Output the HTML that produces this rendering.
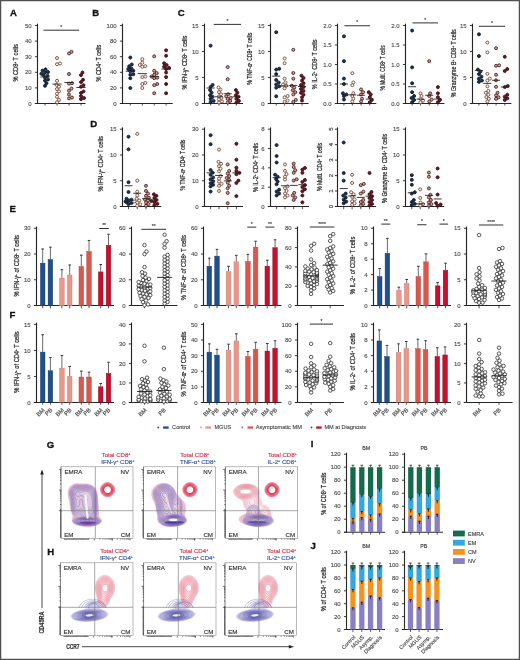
<!DOCTYPE html>
<html><head><meta charset="utf-8"><style>
html,body{margin:0;padding:0;background:#fff;}
svg{display:block;will-change:transform;}
svg text{font-family:"Liberation Sans",sans-serif;}
</style></head><body>
<svg width="520" height="660" viewBox="0 0 520 660">
<rect x="0" y="0" width="520" height="660" fill="#fff"/>
<text x="9.9" y="15.7" font-size="9.6" font-weight="bold" fill="#111" stroke="#111" stroke-width="0.3">A</text>
<text x="92.2" y="16.1" font-size="9.6" font-weight="bold" fill="#111" stroke="#111" stroke-width="0.3">B</text>
<text x="177.8" y="16.1" font-size="9.6" font-weight="bold" fill="#111" stroke="#111" stroke-width="0.3">C</text>
<text x="90.3" y="126.8" font-size="9.6" font-weight="bold" fill="#111" stroke="#111" stroke-width="0.3">D</text>
<text x="9.6" y="211.8" font-size="9.6" font-weight="bold" fill="#111" stroke="#111" stroke-width="0.3">E</text>
<text x="9.6" y="318.0" font-size="9.6" font-weight="bold" fill="#111" stroke="#111" stroke-width="0.3">F</text>
<text x="46.8" y="447.6" font-size="9.6" font-weight="bold" fill="#111" stroke="#111" stroke-width="0.3">G</text>
<text x="47.2" y="555.0" font-size="9.6" font-weight="bold" fill="#111" stroke="#111" stroke-width="0.3">H</text>
<text x="310.8" y="447.3" font-size="9.6" font-weight="bold" fill="#111" stroke="#111" stroke-width="0.3">I</text>
<text x="310.4" y="548.7" font-size="9.6" font-weight="bold" fill="#111" stroke="#111" stroke-width="0.3">J</text>
<line x1="37.5" y1="23.7" x2="37.5" y2="104" stroke="#262626" stroke-width="1.15"/>
<line x1="34.9" y1="103.5" x2="37.5" y2="103.5" stroke="#262626" stroke-width="0.9"/>
<text x="31.6" y="105.6" font-size="6.0" text-anchor="end" fill="#4a4a4a" stroke="#4a4a4a" stroke-width="0.12" font-weight="normal" >0</text>
<line x1="34.9" y1="87.9" x2="37.5" y2="87.9" stroke="#262626" stroke-width="0.9"/>
<text x="31.6" y="90" font-size="6.0" text-anchor="end" fill="#4a4a4a" stroke="#4a4a4a" stroke-width="0.12" font-weight="normal" >10</text>
<line x1="34.9" y1="72.3" x2="37.5" y2="72.3" stroke="#262626" stroke-width="0.9"/>
<text x="31.6" y="74.4" font-size="6.0" text-anchor="end" fill="#4a4a4a" stroke="#4a4a4a" stroke-width="0.12" font-weight="normal" >20</text>
<line x1="34.9" y1="56.7" x2="37.5" y2="56.7" stroke="#262626" stroke-width="0.9"/>
<text x="31.6" y="58.8" font-size="6.0" text-anchor="end" fill="#4a4a4a" stroke="#4a4a4a" stroke-width="0.12" font-weight="normal" >30</text>
<line x1="34.9" y1="41.1" x2="37.5" y2="41.1" stroke="#262626" stroke-width="0.9"/>
<text x="31.6" y="43.2" font-size="6.0" text-anchor="end" fill="#4a4a4a" stroke="#4a4a4a" stroke-width="0.12" font-weight="normal" >40</text>
<line x1="34.9" y1="25.5" x2="37.5" y2="25.5" stroke="#262626" stroke-width="0.9"/>
<text x="31.6" y="27.6" font-size="6.0" text-anchor="end" fill="#4a4a4a" stroke="#4a4a4a" stroke-width="0.12" font-weight="normal" >50</text>
<line x1="34.9" y1="103.5" x2="85.5" y2="103.5" stroke="#262626" stroke-width="1.15"/>
<line x1="45" y1="103" x2="45" y2="105.5" stroke="#262626" stroke-width="0.8"/>
<line x1="57" y1="103" x2="57" y2="105.5" stroke="#262626" stroke-width="0.8"/>
<line x1="69" y1="103" x2="69" y2="105.5" stroke="#262626" stroke-width="0.8"/>
<line x1="81" y1="103" x2="81" y2="105.5" stroke="#262626" stroke-width="0.8"/>
<circle cx="45" cy="85.8" r="1.5" fill="#1c3352" stroke="#0e1a2a" stroke-width="0.9"/>
<circle cx="46.5" cy="83.16" r="1.5" fill="#1c3352" stroke="#0e1a2a" stroke-width="0.9"/>
<circle cx="45" cy="80.68" r="1.5" fill="#1c3352" stroke="#0e1a2a" stroke-width="0.9"/>
<circle cx="48" cy="79.44" r="1.5" fill="#1c3352" stroke="#0e1a2a" stroke-width="0.9"/>
<circle cx="45" cy="77.58" r="1.5" fill="#1c3352" stroke="#0e1a2a" stroke-width="0.9"/>
<circle cx="47.5" cy="75.72" r="1.5" fill="#1c3352" stroke="#0e1a2a" stroke-width="0.9"/>
<circle cx="43.5" cy="75.1" r="1.5" fill="#1c3352" stroke="#0e1a2a" stroke-width="0.9"/>
<circle cx="41.4" cy="73.71" r="1.5" fill="#1c3352" stroke="#0e1a2a" stroke-width="0.9"/>
<circle cx="45" cy="72.47" r="1.5" fill="#1c3352" stroke="#0e1a2a" stroke-width="0.9"/>
<circle cx="48" cy="72" r="1.5" fill="#1c3352" stroke="#0e1a2a" stroke-width="0.9"/>
<circle cx="42.5" cy="70.61" r="1.5" fill="#1c3352" stroke="#0e1a2a" stroke-width="0.9"/>
<circle cx="45.5" cy="69.37" r="1.5" fill="#1c3352" stroke="#0e1a2a" stroke-width="0.9"/>
<circle cx="57" cy="102.22" r="1.5" fill="#fff6f0" stroke="#74483a" stroke-width="0.9"/>
<circle cx="59" cy="99.9" r="1.5" fill="#fff6f0" stroke="#74483a" stroke-width="0.9"/>
<circle cx="57" cy="96.8" r="1.5" fill="#fff6f0" stroke="#74483a" stroke-width="0.9"/>
<circle cx="57" cy="93.7" r="1.5" fill="#fff6f0" stroke="#74483a" stroke-width="0.9"/>
<circle cx="59" cy="91.38" r="1.5" fill="#fff6f0" stroke="#74483a" stroke-width="0.9"/>
<circle cx="57" cy="89.05" r="1.5" fill="#fff6f0" stroke="#74483a" stroke-width="0.9"/>
<circle cx="59" cy="86.72" r="1.5" fill="#fff6f0" stroke="#74483a" stroke-width="0.9"/>
<circle cx="56.5" cy="84.87" r="1.5" fill="#fff6f0" stroke="#74483a" stroke-width="0.9"/>
<circle cx="57" cy="80.83" r="1.5" fill="#fff6f0" stroke="#74483a" stroke-width="0.9"/>
<circle cx="57" cy="64.25" r="1.5" fill="#fff6f0" stroke="#74483a" stroke-width="0.9"/>
<circle cx="60" cy="63.48" r="1.5" fill="#fff6f0" stroke="#74483a" stroke-width="0.9"/>
<circle cx="57" cy="58.05" r="1.5" fill="#fff6f0" stroke="#74483a" stroke-width="0.9"/>
<circle cx="69" cy="98.35" r="1.5" fill="#cfa098" stroke="#4e1e1e" stroke-width="0.9"/>
<circle cx="72" cy="97.58" r="1.5" fill="#cfa098" stroke="#4e1e1e" stroke-width="0.9"/>
<circle cx="69" cy="94.47" r="1.5" fill="#cfa098" stroke="#4e1e1e" stroke-width="0.9"/>
<circle cx="69" cy="90.6" r="1.5" fill="#cfa098" stroke="#4e1e1e" stroke-width="0.9"/>
<circle cx="71.5" cy="88.58" r="1.5" fill="#cfa098" stroke="#4e1e1e" stroke-width="0.9"/>
<circle cx="69" cy="83.62" r="1.5" fill="#cfa098" stroke="#4e1e1e" stroke-width="0.9"/>
<circle cx="72" cy="83.16" r="1.5" fill="#cfa098" stroke="#4e1e1e" stroke-width="0.9"/>
<circle cx="69" cy="74.02" r="1.5" fill="#cfa098" stroke="#4e1e1e" stroke-width="0.9"/>
<circle cx="69" cy="53.4" r="1.5" fill="#cfa098" stroke="#4e1e1e" stroke-width="0.9"/>
<circle cx="71.5" cy="51.85" r="1.5" fill="#cfa098" stroke="#4e1e1e" stroke-width="0.9"/>
<circle cx="81" cy="99.12" r="1.5" fill="#6e1a24" stroke="#3e0a12" stroke-width="0.9"/>
<circle cx="84" cy="98.04" r="1.5" fill="#6e1a24" stroke="#3e0a12" stroke-width="0.9"/>
<circle cx="81" cy="96.03" r="1.5" fill="#6e1a24" stroke="#3e0a12" stroke-width="0.9"/>
<circle cx="81" cy="92.92" r="1.5" fill="#6e1a24" stroke="#3e0a12" stroke-width="0.9"/>
<circle cx="83.5" cy="91.38" r="1.5" fill="#6e1a24" stroke="#3e0a12" stroke-width="0.9"/>
<circle cx="81" cy="86.72" r="1.5" fill="#6e1a24" stroke="#3e0a12" stroke-width="0.9"/>
<circle cx="83.5" cy="85.17" r="1.5" fill="#6e1a24" stroke="#3e0a12" stroke-width="0.9"/>
<circle cx="81" cy="82.08" r="1.5" fill="#6e1a24" stroke="#3e0a12" stroke-width="0.9"/>
<circle cx="83" cy="79.75" r="1.5" fill="#6e1a24" stroke="#3e0a12" stroke-width="0.9"/>
<circle cx="81" cy="75.1" r="1.5" fill="#6e1a24" stroke="#3e0a12" stroke-width="0.9"/>
<circle cx="82.5" cy="72.47" r="1.5" fill="#6e1a24" stroke="#3e0a12" stroke-width="0.9"/>
<line x1="40.4" y1="76.96" x2="49.6" y2="76.96" stroke="#222" stroke-width="0.9"/>
<line x1="52.4" y1="84.09" x2="61.6" y2="84.09" stroke="#222" stroke-width="0.9"/>
<line x1="64.4" y1="82.54" x2="73.6" y2="82.54" stroke="#222" stroke-width="0.9"/>
<line x1="76.4" y1="87.5" x2="85.6" y2="87.5" stroke="#222" stroke-width="0.9"/>
<line x1="43.5" y1="30.2" x2="79.2" y2="30.2" stroke="#262626" stroke-width="0.95"/>
<text x="61.35" y="28.9" font-size="5" text-anchor="middle" fill="#333" stroke="#333" stroke-width="0.12" font-weight="normal" >*</text>
<text transform="translate(18.2,62.85) rotate(-90)" font-size="6.6" text-anchor="middle" fill="#2e2e2e" stroke="#2e2e2e" stroke-width="0.25" textLength="37.5" lengthAdjust="spacingAndGlyphs">% CD8<tspan font-size="3.6" dy="-2">+</tspan><tspan dy="2"> </tspan>T cells</text>
<line x1="122.5" y1="23.7" x2="122.5" y2="104" stroke="#262626" stroke-width="1.15"/>
<line x1="119.9" y1="103.5" x2="122.5" y2="103.5" stroke="#262626" stroke-width="0.9"/>
<text x="116.6" y="105.6" font-size="6.0" text-anchor="end" fill="#4a4a4a" stroke="#4a4a4a" stroke-width="0.12" font-weight="normal" >0</text>
<line x1="119.9" y1="87.9" x2="122.5" y2="87.9" stroke="#262626" stroke-width="0.9"/>
<text x="116.6" y="90" font-size="6.0" text-anchor="end" fill="#4a4a4a" stroke="#4a4a4a" stroke-width="0.12" font-weight="normal" >20</text>
<line x1="119.9" y1="72.3" x2="122.5" y2="72.3" stroke="#262626" stroke-width="0.9"/>
<text x="116.6" y="74.4" font-size="6.0" text-anchor="end" fill="#4a4a4a" stroke="#4a4a4a" stroke-width="0.12" font-weight="normal" >40</text>
<line x1="119.9" y1="56.7" x2="122.5" y2="56.7" stroke="#262626" stroke-width="0.9"/>
<text x="116.6" y="58.8" font-size="6.0" text-anchor="end" fill="#4a4a4a" stroke="#4a4a4a" stroke-width="0.12" font-weight="normal" >60</text>
<line x1="119.9" y1="41.1" x2="122.5" y2="41.1" stroke="#262626" stroke-width="0.9"/>
<text x="116.6" y="43.2" font-size="6.0" text-anchor="end" fill="#4a4a4a" stroke="#4a4a4a" stroke-width="0.12" font-weight="normal" >80</text>
<line x1="119.9" y1="25.5" x2="122.5" y2="25.5" stroke="#262626" stroke-width="0.9"/>
<text x="116.6" y="27.6" font-size="6.0" text-anchor="end" fill="#4a4a4a" stroke="#4a4a4a" stroke-width="0.12" font-weight="normal" >100</text>
<line x1="119.9" y1="103.5" x2="172.7" y2="103.5" stroke="#262626" stroke-width="1.15"/>
<line x1="130.3" y1="103" x2="130.3" y2="105.5" stroke="#262626" stroke-width="0.8"/>
<line x1="142.3" y1="103" x2="142.3" y2="105.5" stroke="#262626" stroke-width="0.8"/>
<line x1="154.2" y1="103" x2="154.2" y2="105.5" stroke="#262626" stroke-width="0.8"/>
<line x1="166.1" y1="103" x2="166.1" y2="105.5" stroke="#262626" stroke-width="0.8"/>
<circle cx="130.3" cy="88.04" r="1.5" fill="#1c3352" stroke="#0e1a2a" stroke-width="0.9"/>
<circle cx="130.3" cy="78.2" r="1.5" fill="#1c3352" stroke="#0e1a2a" stroke-width="0.9"/>
<circle cx="130.3" cy="74.79" r="1.5" fill="#1c3352" stroke="#0e1a2a" stroke-width="0.9"/>
<circle cx="133.3" cy="74.25" r="1.5" fill="#1c3352" stroke="#0e1a2a" stroke-width="0.9"/>
<circle cx="130.3" cy="71.3" r="1.5" fill="#1c3352" stroke="#0e1a2a" stroke-width="0.9"/>
<circle cx="133.3" cy="70.76" r="1.5" fill="#1c3352" stroke="#0e1a2a" stroke-width="0.9"/>
<circle cx="128.3" cy="69.06" r="1.5" fill="#1c3352" stroke="#0e1a2a" stroke-width="0.9"/>
<circle cx="131.3" cy="68.44" r="1.5" fill="#1c3352" stroke="#0e1a2a" stroke-width="0.9"/>
<circle cx="129.3" cy="66.19" r="1.5" fill="#1c3352" stroke="#0e1a2a" stroke-width="0.9"/>
<circle cx="131.8" cy="64.41" r="1.5" fill="#1c3352" stroke="#0e1a2a" stroke-width="0.9"/>
<circle cx="130.3" cy="57.51" r="1.5" fill="#1c3352" stroke="#0e1a2a" stroke-width="0.9"/>
<circle cx="142.3" cy="88.04" r="1.5" fill="#fff6f0" stroke="#74483a" stroke-width="0.9"/>
<circle cx="142.3" cy="84.01" r="1.5" fill="#fff6f0" stroke="#74483a" stroke-width="0.9"/>
<circle cx="145.3" cy="82.85" r="1.5" fill="#fff6f0" stroke="#74483a" stroke-width="0.9"/>
<circle cx="142.3" cy="77.12" r="1.5" fill="#fff6f0" stroke="#74483a" stroke-width="0.9"/>
<circle cx="145.3" cy="76.5" r="1.5" fill="#fff6f0" stroke="#74483a" stroke-width="0.9"/>
<circle cx="142.3" cy="66.73" r="1.5" fill="#fff6f0" stroke="#74483a" stroke-width="0.9"/>
<circle cx="145.3" cy="66.19" r="1.5" fill="#fff6f0" stroke="#74483a" stroke-width="0.9"/>
<circle cx="139.8" cy="65.03" r="1.5" fill="#fff6f0" stroke="#74483a" stroke-width="0.9"/>
<circle cx="142.3" cy="62.7" r="1.5" fill="#fff6f0" stroke="#74483a" stroke-width="0.9"/>
<circle cx="142.3" cy="59.21" r="1.5" fill="#fff6f0" stroke="#74483a" stroke-width="0.9"/>
<circle cx="154.2" cy="93.23" r="1.5" fill="#cfa098" stroke="#4e1e1e" stroke-width="0.9"/>
<circle cx="154.2" cy="85.17" r="1.5" fill="#cfa098" stroke="#4e1e1e" stroke-width="0.9"/>
<circle cx="157.2" cy="84.01" r="1.5" fill="#cfa098" stroke="#4e1e1e" stroke-width="0.9"/>
<circle cx="154.2" cy="78.2" r="1.5" fill="#cfa098" stroke="#4e1e1e" stroke-width="0.9"/>
<circle cx="157.2" cy="77.66" r="1.5" fill="#cfa098" stroke="#4e1e1e" stroke-width="0.9"/>
<circle cx="151.7" cy="76.5" r="1.5" fill="#cfa098" stroke="#4e1e1e" stroke-width="0.9"/>
<circle cx="154.2" cy="74.79" r="1.5" fill="#cfa098" stroke="#4e1e1e" stroke-width="0.9"/>
<circle cx="156.7" cy="73.09" r="1.5" fill="#cfa098" stroke="#4e1e1e" stroke-width="0.9"/>
<circle cx="154.2" cy="70.76" r="1.5" fill="#cfa098" stroke="#4e1e1e" stroke-width="0.9"/>
<circle cx="154.2" cy="56.34" r="1.5" fill="#cfa098" stroke="#4e1e1e" stroke-width="0.9"/>
<circle cx="166.1" cy="93.23" r="1.5" fill="#6e1a24" stroke="#3e0a12" stroke-width="0.9"/>
<circle cx="166.1" cy="84.01" r="1.5" fill="#6e1a24" stroke="#3e0a12" stroke-width="0.9"/>
<circle cx="166.1" cy="77.12" r="1.5" fill="#6e1a24" stroke="#3e0a12" stroke-width="0.9"/>
<circle cx="166.1" cy="72.47" r="1.5" fill="#6e1a24" stroke="#3e0a12" stroke-width="0.9"/>
<circle cx="166.1" cy="69.06" r="1.5" fill="#6e1a24" stroke="#3e0a12" stroke-width="0.9"/>
<circle cx="169.1" cy="67.89" r="1.5" fill="#6e1a24" stroke="#3e0a12" stroke-width="0.9"/>
<circle cx="164.1" cy="66.73" r="1.5" fill="#6e1a24" stroke="#3e0a12" stroke-width="0.9"/>
<circle cx="166.6" cy="65.03" r="1.5" fill="#6e1a24" stroke="#3e0a12" stroke-width="0.9"/>
<circle cx="164.1" cy="63.24" r="1.5" fill="#6e1a24" stroke="#3e0a12" stroke-width="0.9"/>
<circle cx="166.1" cy="55.73" r="1.5" fill="#6e1a24" stroke="#3e0a12" stroke-width="0.9"/>
<circle cx="166.1" cy="50.3" r="1.5" fill="#6e1a24" stroke="#3e0a12" stroke-width="0.9"/>
<line x1="125.7" y1="71.22" x2="134.9" y2="71.22" stroke="#222" stroke-width="0.9"/>
<line x1="137.7" y1="73.63" x2="146.9" y2="73.63" stroke="#222" stroke-width="0.9"/>
<line x1="149.6" y1="76.65" x2="158.8" y2="76.65" stroke="#222" stroke-width="0.9"/>
<line x1="161.5" y1="69.06" x2="170.7" y2="69.06" stroke="#222" stroke-width="0.9"/>
<text transform="translate(100.6,63) rotate(-90)" font-size="6.6" text-anchor="middle" fill="#2e2e2e" stroke="#2e2e2e" stroke-width="0.25" textLength="36.8" lengthAdjust="spacingAndGlyphs">% CD4<tspan font-size="3.6" dy="-2">+</tspan><tspan dy="2"> </tspan>T cells</text>
<line x1="204.5" y1="23.7" x2="204.5" y2="104" stroke="#262626" stroke-width="1.15"/>
<line x1="201.9" y1="103.5" x2="204.5" y2="103.5" stroke="#262626" stroke-width="0.9"/>
<text x="198.6" y="105.6" font-size="6.0" text-anchor="end" fill="#4a4a4a" stroke="#4a4a4a" stroke-width="0.12" font-weight="normal" >0</text>
<line x1="201.9" y1="77.5" x2="204.5" y2="77.5" stroke="#262626" stroke-width="0.9"/>
<text x="198.6" y="79.6" font-size="6.0" text-anchor="end" fill="#4a4a4a" stroke="#4a4a4a" stroke-width="0.12" font-weight="normal" >5</text>
<line x1="201.9" y1="51.5" x2="204.5" y2="51.5" stroke="#262626" stroke-width="0.9"/>
<text x="198.6" y="53.6" font-size="6.0" text-anchor="end" fill="#4a4a4a" stroke="#4a4a4a" stroke-width="0.12" font-weight="normal" >10</text>
<line x1="201.9" y1="25.5" x2="204.5" y2="25.5" stroke="#262626" stroke-width="0.9"/>
<text x="198.6" y="27.6" font-size="6.0" text-anchor="end" fill="#4a4a4a" stroke="#4a4a4a" stroke-width="0.12" font-weight="normal" >15</text>
<line x1="201.9" y1="103.5" x2="243" y2="103.5" stroke="#262626" stroke-width="1.15"/>
<line x1="210.6" y1="103" x2="210.6" y2="105.5" stroke="#262626" stroke-width="0.8"/>
<line x1="219" y1="103" x2="219" y2="105.5" stroke="#262626" stroke-width="0.8"/>
<line x1="227.7" y1="103" x2="227.7" y2="105.5" stroke="#262626" stroke-width="0.8"/>
<line x1="236.4" y1="103" x2="236.4" y2="105.5" stroke="#262626" stroke-width="0.8"/>
<circle cx="210.6" cy="101.97" r="1.5" fill="#1c3352" stroke="#0e1a2a" stroke-width="0.9"/>
<circle cx="213.6" cy="100.93" r="1.5" fill="#1c3352" stroke="#0e1a2a" stroke-width="0.9"/>
<circle cx="210.6" cy="98.87" r="1.5" fill="#1c3352" stroke="#0e1a2a" stroke-width="0.9"/>
<circle cx="212.6" cy="96.8" r="1.5" fill="#1c3352" stroke="#0e1a2a" stroke-width="0.9"/>
<circle cx="210.1" cy="95.25" r="1.5" fill="#1c3352" stroke="#0e1a2a" stroke-width="0.9"/>
<circle cx="211.6" cy="92.67" r="1.5" fill="#1c3352" stroke="#0e1a2a" stroke-width="0.9"/>
<circle cx="210.1" cy="90.08" r="1.5" fill="#1c3352" stroke="#0e1a2a" stroke-width="0.9"/>
<circle cx="210.6" cy="86.98" r="1.5" fill="#1c3352" stroke="#0e1a2a" stroke-width="0.9"/>
<circle cx="212.6" cy="84.92" r="1.5" fill="#1c3352" stroke="#0e1a2a" stroke-width="0.9"/>
<circle cx="210.6" cy="45.65" r="1.5" fill="#1c3352" stroke="#0e1a2a" stroke-width="0.9"/>
<circle cx="219" cy="102.48" r="1.5" fill="#fff6f0" stroke="#74483a" stroke-width="0.9"/>
<circle cx="222" cy="101.45" r="1.5" fill="#fff6f0" stroke="#74483a" stroke-width="0.9"/>
<circle cx="219" cy="99.38" r="1.5" fill="#fff6f0" stroke="#74483a" stroke-width="0.9"/>
<circle cx="221.5" cy="97.83" r="1.5" fill="#fff6f0" stroke="#74483a" stroke-width="0.9"/>
<circle cx="219" cy="96.28" r="1.5" fill="#fff6f0" stroke="#74483a" stroke-width="0.9"/>
<circle cx="221" cy="94.22" r="1.5" fill="#fff6f0" stroke="#74483a" stroke-width="0.9"/>
<circle cx="219" cy="92.15" r="1.5" fill="#fff6f0" stroke="#74483a" stroke-width="0.9"/>
<circle cx="220.5" cy="89.57" r="1.5" fill="#fff6f0" stroke="#74483a" stroke-width="0.9"/>
<circle cx="218.5" cy="87.5" r="1.5" fill="#fff6f0" stroke="#74483a" stroke-width="0.9"/>
<circle cx="227.7" cy="102.48" r="1.5" fill="#cfa098" stroke="#4e1e1e" stroke-width="0.9"/>
<circle cx="230.2" cy="100.93" r="1.5" fill="#cfa098" stroke="#4e1e1e" stroke-width="0.9"/>
<circle cx="227.7" cy="98.87" r="1.5" fill="#cfa098" stroke="#4e1e1e" stroke-width="0.9"/>
<circle cx="230.7" cy="97.83" r="1.5" fill="#cfa098" stroke="#4e1e1e" stroke-width="0.9"/>
<circle cx="226.2" cy="96.28" r="1.5" fill="#cfa098" stroke="#4e1e1e" stroke-width="0.9"/>
<circle cx="228.2" cy="94.22" r="1.5" fill="#cfa098" stroke="#4e1e1e" stroke-width="0.9"/>
<circle cx="227.7" cy="79.23" r="1.5" fill="#cfa098" stroke="#4e1e1e" stroke-width="0.9"/>
<circle cx="227.7" cy="67.09" r="1.5" fill="#cfa098" stroke="#4e1e1e" stroke-width="0.9"/>
<circle cx="236.4" cy="102.48" r="1.5" fill="#6e1a24" stroke="#3e0a12" stroke-width="0.9"/>
<circle cx="238.9" cy="100.93" r="1.5" fill="#6e1a24" stroke="#3e0a12" stroke-width="0.9"/>
<circle cx="236.4" cy="98.87" r="1.5" fill="#6e1a24" stroke="#3e0a12" stroke-width="0.9"/>
<circle cx="238.4" cy="96.8" r="1.5" fill="#6e1a24" stroke="#3e0a12" stroke-width="0.9"/>
<circle cx="235.9" cy="95.25" r="1.5" fill="#6e1a24" stroke="#3e0a12" stroke-width="0.9"/>
<circle cx="237.4" cy="92.67" r="1.5" fill="#6e1a24" stroke="#3e0a12" stroke-width="0.9"/>
<circle cx="235.9" cy="90.08" r="1.5" fill="#6e1a24" stroke="#3e0a12" stroke-width="0.9"/>
<line x1="206.6" y1="88.02" x2="214.6" y2="88.02" stroke="#222" stroke-width="0.9"/>
<line x1="215" y1="96.8" x2="223" y2="96.8" stroke="#222" stroke-width="0.9"/>
<line x1="223.7" y1="93.7" x2="231.7" y2="93.7" stroke="#222" stroke-width="0.9"/>
<line x1="232.4" y1="96.8" x2="240.4" y2="96.8" stroke="#222" stroke-width="0.9"/>
<line x1="213.8" y1="24.4" x2="241" y2="24.4" stroke="#262626" stroke-width="0.95"/>
<text x="227.4" y="23.1" font-size="5" text-anchor="middle" fill="#333" stroke="#333" stroke-width="0.12" font-weight="normal" >*</text>
<text transform="translate(186.9,62.6) rotate(-90)" font-size="6.6" text-anchor="middle" fill="#2e2e2e" stroke="#2e2e2e" stroke-width="0.25" textLength="53.9" lengthAdjust="spacingAndGlyphs">% IFN-γ<tspan font-size="3.6" dy="-2">+</tspan><tspan dy="2"> </tspan>CD8<tspan font-size="3.6" dy="-2">+</tspan><tspan dy="2"> </tspan>T cells</text>
<line x1="270.5" y1="23.7" x2="270.5" y2="104" stroke="#262626" stroke-width="1.15"/>
<line x1="267.9" y1="103.5" x2="270.5" y2="103.5" stroke="#262626" stroke-width="0.9"/>
<text x="264.6" y="105.6" font-size="6.0" text-anchor="end" fill="#4a4a4a" stroke="#4a4a4a" stroke-width="0.12" font-weight="normal" >0</text>
<line x1="267.9" y1="77.5" x2="270.5" y2="77.5" stroke="#262626" stroke-width="0.9"/>
<text x="264.6" y="79.6" font-size="6.0" text-anchor="end" fill="#4a4a4a" stroke="#4a4a4a" stroke-width="0.12" font-weight="normal" >5</text>
<line x1="267.9" y1="51.5" x2="270.5" y2="51.5" stroke="#262626" stroke-width="0.9"/>
<text x="264.6" y="53.6" font-size="6.0" text-anchor="end" fill="#4a4a4a" stroke="#4a4a4a" stroke-width="0.12" font-weight="normal" >10</text>
<line x1="267.9" y1="25.5" x2="270.5" y2="25.5" stroke="#262626" stroke-width="0.9"/>
<text x="264.6" y="27.6" font-size="6.0" text-anchor="end" fill="#4a4a4a" stroke="#4a4a4a" stroke-width="0.12" font-weight="normal" >15</text>
<line x1="267.9" y1="103.5" x2="308.6" y2="103.5" stroke="#262626" stroke-width="1.15"/>
<line x1="276.2" y1="103" x2="276.2" y2="105.5" stroke="#262626" stroke-width="0.8"/>
<line x1="284.6" y1="103" x2="284.6" y2="105.5" stroke="#262626" stroke-width="0.8"/>
<line x1="293.3" y1="103" x2="293.3" y2="105.5" stroke="#262626" stroke-width="0.8"/>
<line x1="302" y1="103" x2="302" y2="105.5" stroke="#262626" stroke-width="0.8"/>
<circle cx="276.2" cy="96.28" r="1.5" fill="#1c3352" stroke="#0e1a2a" stroke-width="0.9"/>
<circle cx="276.2" cy="87.66" r="1.5" fill="#1c3352" stroke="#0e1a2a" stroke-width="0.9"/>
<circle cx="279.2" cy="86.36" r="1.5" fill="#1c3352" stroke="#0e1a2a" stroke-width="0.9"/>
<circle cx="276.2" cy="84.45" r="1.5" fill="#1c3352" stroke="#0e1a2a" stroke-width="0.9"/>
<circle cx="278.7" cy="82.49" r="1.5" fill="#1c3352" stroke="#0e1a2a" stroke-width="0.9"/>
<circle cx="276.2" cy="79.96" r="1.5" fill="#1c3352" stroke="#0e1a2a" stroke-width="0.9"/>
<circle cx="276.2" cy="74.12" r="1.5" fill="#1c3352" stroke="#0e1a2a" stroke-width="0.9"/>
<circle cx="276.2" cy="69.62" r="1.5" fill="#1c3352" stroke="#0e1a2a" stroke-width="0.9"/>
<circle cx="279.2" cy="68.75" r="1.5" fill="#1c3352" stroke="#0e1a2a" stroke-width="0.9"/>
<circle cx="276.2" cy="32.22" r="1.5" fill="#1c3352" stroke="#0e1a2a" stroke-width="0.9"/>
<circle cx="284.6" cy="101.86" r="1.5" fill="#fff6f0" stroke="#74483a" stroke-width="0.9"/>
<circle cx="287.6" cy="100.57" r="1.5" fill="#fff6f0" stroke="#74483a" stroke-width="0.9"/>
<circle cx="284.6" cy="97.32" r="1.5" fill="#fff6f0" stroke="#74483a" stroke-width="0.9"/>
<circle cx="287.6" cy="96.03" r="1.5" fill="#fff6f0" stroke="#74483a" stroke-width="0.9"/>
<circle cx="284.6" cy="88.33" r="1.5" fill="#fff6f0" stroke="#74483a" stroke-width="0.9"/>
<circle cx="286.1" cy="85.74" r="1.5" fill="#fff6f0" stroke="#74483a" stroke-width="0.9"/>
<circle cx="283.1" cy="84.45" r="1.5" fill="#fff6f0" stroke="#74483a" stroke-width="0.9"/>
<circle cx="285.6" cy="82.49" r="1.5" fill="#fff6f0" stroke="#74483a" stroke-width="0.9"/>
<circle cx="284.6" cy="78.66" r="1.5" fill="#fff6f0" stroke="#74483a" stroke-width="0.9"/>
<circle cx="284.6" cy="63.22" r="1.5" fill="#fff6f0" stroke="#74483a" stroke-width="0.9"/>
<circle cx="284.6" cy="58.41" r="1.5" fill="#fff6f0" stroke="#74483a" stroke-width="0.9"/>
<circle cx="293.3" cy="101.86" r="1.5" fill="#cfa098" stroke="#4e1e1e" stroke-width="0.9"/>
<circle cx="295.8" cy="99.9" r="1.5" fill="#cfa098" stroke="#4e1e1e" stroke-width="0.9"/>
<circle cx="293.3" cy="94.47" r="1.5" fill="#cfa098" stroke="#4e1e1e" stroke-width="0.9"/>
<circle cx="295.3" cy="92.15" r="1.5" fill="#cfa098" stroke="#4e1e1e" stroke-width="0.9"/>
<circle cx="292.8" cy="90.24" r="1.5" fill="#cfa098" stroke="#4e1e1e" stroke-width="0.9"/>
<circle cx="294.3" cy="87.66" r="1.5" fill="#cfa098" stroke="#4e1e1e" stroke-width="0.9"/>
<circle cx="291.8" cy="85.74" r="1.5" fill="#cfa098" stroke="#4e1e1e" stroke-width="0.9"/>
<circle cx="293.3" cy="78.66" r="1.5" fill="#cfa098" stroke="#4e1e1e" stroke-width="0.9"/>
<circle cx="293.3" cy="73.03" r="1.5" fill="#cfa098" stroke="#4e1e1e" stroke-width="0.9"/>
<circle cx="293.3" cy="49.78" r="1.5" fill="#cfa098" stroke="#4e1e1e" stroke-width="0.9"/>
<circle cx="302" cy="100.57" r="1.5" fill="#6e1a24" stroke="#3e0a12" stroke-width="0.9"/>
<circle cx="302" cy="97.32" r="1.5" fill="#6e1a24" stroke="#3e0a12" stroke-width="0.9"/>
<circle cx="303.5" cy="94.73" r="1.5" fill="#6e1a24" stroke="#3e0a12" stroke-width="0.9"/>
<circle cx="301" cy="92.82" r="1.5" fill="#6e1a24" stroke="#3e0a12" stroke-width="0.9"/>
<circle cx="303.5" cy="90.91" r="1.5" fill="#6e1a24" stroke="#3e0a12" stroke-width="0.9"/>
<circle cx="301" cy="88.95" r="1.5" fill="#6e1a24" stroke="#3e0a12" stroke-width="0.9"/>
<circle cx="303.5" cy="86.98" r="1.5" fill="#6e1a24" stroke="#3e0a12" stroke-width="0.9"/>
<circle cx="301" cy="85.07" r="1.5" fill="#6e1a24" stroke="#3e0a12" stroke-width="0.9"/>
<circle cx="303.5" cy="83.16" r="1.5" fill="#6e1a24" stroke="#3e0a12" stroke-width="0.9"/>
<circle cx="302" cy="80.58" r="1.5" fill="#6e1a24" stroke="#3e0a12" stroke-width="0.9"/>
<circle cx="303.5" cy="77.99" r="1.5" fill="#6e1a24" stroke="#3e0a12" stroke-width="0.9"/>
<circle cx="301.5" cy="75.67" r="1.5" fill="#6e1a24" stroke="#3e0a12" stroke-width="0.9"/>
<line x1="272.2" y1="76.13" x2="280.2" y2="76.13" stroke="#222" stroke-width="0.9"/>
<line x1="280.6" y1="85.95" x2="288.6" y2="85.95" stroke="#222" stroke-width="0.9"/>
<line x1="289.3" y1="85.43" x2="297.3" y2="85.43" stroke="#222" stroke-width="0.9"/>
<line x1="298" y1="86.47" x2="306" y2="86.47" stroke="#222" stroke-width="0.9"/>
<text transform="translate(252.3,58.7) rotate(-90)" font-size="6.6" text-anchor="middle" fill="#2e2e2e" stroke="#2e2e2e" stroke-width="0.25" textLength="52" lengthAdjust="spacingAndGlyphs">% TNF-α<tspan font-size="3.6" dy="-2">+</tspan><tspan dy="2"> </tspan>CD8<tspan font-size="3.6" dy="-2">+</tspan><tspan dy="2"> </tspan>T cells</text>
<line x1="337.5" y1="23.7" x2="337.5" y2="104" stroke="#262626" stroke-width="1.15"/>
<line x1="334.9" y1="103.5" x2="337.5" y2="103.5" stroke="#262626" stroke-width="0.9"/>
<text x="331.6" y="105.6" font-size="6.0" text-anchor="end" fill="#4a4a4a" stroke="#4a4a4a" stroke-width="0.12" font-weight="normal" >0.0</text>
<line x1="334.9" y1="84" x2="337.5" y2="84" stroke="#262626" stroke-width="0.9"/>
<text x="331.6" y="86.1" font-size="6.0" text-anchor="end" fill="#4a4a4a" stroke="#4a4a4a" stroke-width="0.12" font-weight="normal" >0.5</text>
<line x1="334.9" y1="64.5" x2="337.5" y2="64.5" stroke="#262626" stroke-width="0.9"/>
<text x="331.6" y="66.6" font-size="6.0" text-anchor="end" fill="#4a4a4a" stroke="#4a4a4a" stroke-width="0.12" font-weight="normal" >1.0</text>
<line x1="334.9" y1="45" x2="337.5" y2="45" stroke="#262626" stroke-width="0.9"/>
<text x="331.6" y="47.1" font-size="6.0" text-anchor="end" fill="#4a4a4a" stroke="#4a4a4a" stroke-width="0.12" font-weight="normal" >1.5</text>
<line x1="334.9" y1="25.5" x2="337.5" y2="25.5" stroke="#262626" stroke-width="0.9"/>
<text x="331.6" y="27.6" font-size="6.0" text-anchor="end" fill="#4a4a4a" stroke="#4a4a4a" stroke-width="0.12" font-weight="normal" >2.0</text>
<line x1="334.9" y1="103.5" x2="376.35" y2="103.5" stroke="#262626" stroke-width="1.15"/>
<line x1="343.95" y1="103" x2="343.95" y2="105.5" stroke="#262626" stroke-width="0.8"/>
<line x1="352.35" y1="103" x2="352.35" y2="105.5" stroke="#262626" stroke-width="0.8"/>
<line x1="361.05" y1="103" x2="361.05" y2="105.5" stroke="#262626" stroke-width="0.8"/>
<line x1="369.75" y1="103" x2="369.75" y2="105.5" stroke="#262626" stroke-width="0.8"/>
<circle cx="343.95" cy="99.51" r="1.5" fill="#1c3352" stroke="#0e1a2a" stroke-width="0.9"/>
<circle cx="343.95" cy="96.03" r="1.5" fill="#1c3352" stroke="#0e1a2a" stroke-width="0.9"/>
<circle cx="346.45" cy="94.47" r="1.5" fill="#1c3352" stroke="#0e1a2a" stroke-width="0.9"/>
<circle cx="342.95" cy="93.31" r="1.5" fill="#1c3352" stroke="#0e1a2a" stroke-width="0.9"/>
<circle cx="343.95" cy="84.01" r="1.5" fill="#1c3352" stroke="#0e1a2a" stroke-width="0.9"/>
<circle cx="343.95" cy="78.59" r="1.5" fill="#1c3352" stroke="#0e1a2a" stroke-width="0.9"/>
<circle cx="343.95" cy="61.15" r="1.5" fill="#1c3352" stroke="#0e1a2a" stroke-width="0.9"/>
<circle cx="343.95" cy="36.35" r="1.5" fill="#1c3352" stroke="#0e1a2a" stroke-width="0.9"/>
<circle cx="352.35" cy="101.45" r="1.5" fill="#fff6f0" stroke="#74483a" stroke-width="0.9"/>
<circle cx="353.35" cy="98.74" r="1.5" fill="#fff6f0" stroke="#74483a" stroke-width="0.9"/>
<circle cx="352.35" cy="96.03" r="1.5" fill="#fff6f0" stroke="#74483a" stroke-width="0.9"/>
<circle cx="353.35" cy="93.31" r="1.5" fill="#fff6f0" stroke="#74483a" stroke-width="0.9"/>
<circle cx="352.35" cy="85.17" r="1.5" fill="#fff6f0" stroke="#74483a" stroke-width="0.9"/>
<circle cx="353.35" cy="82.46" r="1.5" fill="#fff6f0" stroke="#74483a" stroke-width="0.9"/>
<circle cx="352.35" cy="73.16" r="1.5" fill="#fff6f0" stroke="#74483a" stroke-width="0.9"/>
<circle cx="361.05" cy="101.45" r="1.5" fill="#cfa098" stroke="#4e1e1e" stroke-width="0.9"/>
<circle cx="362.05" cy="98.74" r="1.5" fill="#cfa098" stroke="#4e1e1e" stroke-width="0.9"/>
<circle cx="361.05" cy="94.47" r="1.5" fill="#cfa098" stroke="#4e1e1e" stroke-width="0.9"/>
<circle cx="363.05" cy="92.15" r="1.5" fill="#cfa098" stroke="#4e1e1e" stroke-width="0.9"/>
<circle cx="361.05" cy="89.44" r="1.5" fill="#cfa098" stroke="#4e1e1e" stroke-width="0.9"/>
<circle cx="369.75" cy="102.22" r="1.5" fill="#6e1a24" stroke="#3e0a12" stroke-width="0.9"/>
<circle cx="371.75" cy="99.9" r="1.5" fill="#6e1a24" stroke="#3e0a12" stroke-width="0.9"/>
<circle cx="369.75" cy="97.19" r="1.5" fill="#6e1a24" stroke="#3e0a12" stroke-width="0.9"/>
<circle cx="370.75" cy="94.47" r="1.5" fill="#6e1a24" stroke="#3e0a12" stroke-width="0.9"/>
<circle cx="368.75" cy="92.15" r="1.5" fill="#6e1a24" stroke="#3e0a12" stroke-width="0.9"/>
<line x1="339.95" y1="84.01" x2="347.95" y2="84.01" stroke="#222" stroke-width="0.9"/>
<line x1="348.35" y1="94.86" x2="356.35" y2="94.86" stroke="#222" stroke-width="0.9"/>
<line x1="357.05" y1="95.25" x2="365.05" y2="95.25" stroke="#222" stroke-width="0.9"/>
<line x1="365.75" y1="99.12" x2="373.75" y2="99.12" stroke="#222" stroke-width="0.9"/>
<line x1="344.4" y1="25.75" x2="370" y2="25.75" stroke="#262626" stroke-width="0.95"/>
<text x="357.2" y="24.45" font-size="5" text-anchor="middle" fill="#333" stroke="#333" stroke-width="0.12" font-weight="normal" >*</text>
<text transform="translate(317.2,64.4) rotate(-90)" font-size="6.6" text-anchor="middle" fill="#2e2e2e" stroke="#2e2e2e" stroke-width="0.25" textLength="49.7" lengthAdjust="spacingAndGlyphs">% IL-2<tspan font-size="3.6" dy="-2">+</tspan><tspan dy="2"> </tspan>CD8<tspan font-size="3.6" dy="-2">+</tspan><tspan dy="2"> </tspan>T cells</text>
<line x1="405.5" y1="23.7" x2="405.5" y2="104" stroke="#262626" stroke-width="1.15"/>
<line x1="402.9" y1="103.5" x2="405.5" y2="103.5" stroke="#262626" stroke-width="0.9"/>
<text x="399.6" y="105.6" font-size="6.0" text-anchor="end" fill="#4a4a4a" stroke="#4a4a4a" stroke-width="0.12" font-weight="normal" >0.0</text>
<line x1="402.9" y1="84" x2="405.5" y2="84" stroke="#262626" stroke-width="0.9"/>
<text x="399.6" y="86.1" font-size="6.0" text-anchor="end" fill="#4a4a4a" stroke="#4a4a4a" stroke-width="0.12" font-weight="normal" >0.5</text>
<line x1="402.9" y1="64.5" x2="405.5" y2="64.5" stroke="#262626" stroke-width="0.9"/>
<text x="399.6" y="66.6" font-size="6.0" text-anchor="end" fill="#4a4a4a" stroke="#4a4a4a" stroke-width="0.12" font-weight="normal" >1.0</text>
<line x1="402.9" y1="45" x2="405.5" y2="45" stroke="#262626" stroke-width="0.9"/>
<text x="399.6" y="47.1" font-size="6.0" text-anchor="end" fill="#4a4a4a" stroke="#4a4a4a" stroke-width="0.12" font-weight="normal" >1.5</text>
<line x1="402.9" y1="25.5" x2="405.5" y2="25.5" stroke="#262626" stroke-width="0.9"/>
<text x="399.6" y="27.6" font-size="6.0" text-anchor="end" fill="#4a4a4a" stroke="#4a4a4a" stroke-width="0.12" font-weight="normal" >2.0</text>
<line x1="402.9" y1="103.5" x2="444.5" y2="103.5" stroke="#262626" stroke-width="1.15"/>
<line x1="412.1" y1="103" x2="412.1" y2="105.5" stroke="#262626" stroke-width="0.8"/>
<line x1="420.5" y1="103" x2="420.5" y2="105.5" stroke="#262626" stroke-width="0.8"/>
<line x1="429.2" y1="103" x2="429.2" y2="105.5" stroke="#262626" stroke-width="0.8"/>
<line x1="437.9" y1="103" x2="437.9" y2="105.5" stroke="#262626" stroke-width="0.8"/>
<circle cx="412.1" cy="102.22" r="1.5" fill="#1c3352" stroke="#0e1a2a" stroke-width="0.9"/>
<circle cx="414.1" cy="99.9" r="1.5" fill="#1c3352" stroke="#0e1a2a" stroke-width="0.9"/>
<circle cx="411.6" cy="97.96" r="1.5" fill="#1c3352" stroke="#0e1a2a" stroke-width="0.9"/>
<circle cx="414.1" cy="96.03" r="1.5" fill="#1c3352" stroke="#0e1a2a" stroke-width="0.9"/>
<circle cx="412.1" cy="92.15" r="1.5" fill="#1c3352" stroke="#0e1a2a" stroke-width="0.9"/>
<circle cx="412.1" cy="83.24" r="1.5" fill="#1c3352" stroke="#0e1a2a" stroke-width="0.9"/>
<circle cx="412.1" cy="67.35" r="1.5" fill="#1c3352" stroke="#0e1a2a" stroke-width="0.9"/>
<circle cx="412.1" cy="30.54" r="1.5" fill="#1c3352" stroke="#0e1a2a" stroke-width="0.9"/>
<circle cx="420.5" cy="102.22" r="1.5" fill="#fff6f0" stroke="#74483a" stroke-width="0.9"/>
<circle cx="423" cy="100.67" r="1.5" fill="#fff6f0" stroke="#74483a" stroke-width="0.9"/>
<circle cx="420.5" cy="98.74" r="1.5" fill="#fff6f0" stroke="#74483a" stroke-width="0.9"/>
<circle cx="421.5" cy="96.03" r="1.5" fill="#fff6f0" stroke="#74483a" stroke-width="0.9"/>
<circle cx="420.5" cy="93.31" r="1.5" fill="#fff6f0" stroke="#74483a" stroke-width="0.9"/>
<circle cx="429.2" cy="101.45" r="1.5" fill="#cfa098" stroke="#4e1e1e" stroke-width="0.9"/>
<circle cx="431.7" cy="99.51" r="1.5" fill="#cfa098" stroke="#4e1e1e" stroke-width="0.9"/>
<circle cx="429.2" cy="96.03" r="1.5" fill="#cfa098" stroke="#4e1e1e" stroke-width="0.9"/>
<circle cx="430.2" cy="93.31" r="1.5" fill="#cfa098" stroke="#4e1e1e" stroke-width="0.9"/>
<circle cx="429.2" cy="61.15" r="1.5" fill="#cfa098" stroke="#4e1e1e" stroke-width="0.9"/>
<circle cx="437.9" cy="102.22" r="1.5" fill="#6e1a24" stroke="#3e0a12" stroke-width="0.9"/>
<circle cx="439.9" cy="99.9" r="1.5" fill="#6e1a24" stroke="#3e0a12" stroke-width="0.9"/>
<circle cx="437.9" cy="97.19" r="1.5" fill="#6e1a24" stroke="#3e0a12" stroke-width="0.9"/>
<circle cx="437.9" cy="93.31" r="1.5" fill="#6e1a24" stroke="#3e0a12" stroke-width="0.9"/>
<circle cx="437.9" cy="87.11" r="1.5" fill="#6e1a24" stroke="#3e0a12" stroke-width="0.9"/>
<line x1="408.1" y1="86.72" x2="416.1" y2="86.72" stroke="#222" stroke-width="0.9"/>
<line x1="416.5" y1="99.12" x2="424.5" y2="99.12" stroke="#222" stroke-width="0.9"/>
<line x1="425.2" y1="95.25" x2="433.2" y2="95.25" stroke="#222" stroke-width="0.9"/>
<line x1="433.9" y1="99.12" x2="441.9" y2="99.12" stroke="#222" stroke-width="0.9"/>
<line x1="412.5" y1="22.9" x2="438" y2="22.9" stroke="#262626" stroke-width="0.95"/>
<text x="425.25" y="21.6" font-size="5" text-anchor="middle" fill="#333" stroke="#333" stroke-width="0.12" font-weight="normal" >*</text>
<text transform="translate(385,67.9) rotate(-90)" font-size="6.6" text-anchor="middle" fill="#2e2e2e" stroke="#2e2e2e" stroke-width="0.25" textLength="45" lengthAdjust="spacingAndGlyphs">% Multi. CD8<tspan font-size="3.6" dy="-2">+</tspan><tspan dy="2"> </tspan>T cells</text>
<line x1="472.5" y1="23.7" x2="472.5" y2="104" stroke="#262626" stroke-width="1.15"/>
<line x1="469.9" y1="103.5" x2="472.5" y2="103.5" stroke="#262626" stroke-width="0.9"/>
<text x="466.6" y="105.6" font-size="6.0" text-anchor="end" fill="#4a4a4a" stroke="#4a4a4a" stroke-width="0.12" font-weight="normal" >0</text>
<line x1="469.9" y1="77.5" x2="472.5" y2="77.5" stroke="#262626" stroke-width="0.9"/>
<text x="466.6" y="79.6" font-size="6.0" text-anchor="end" fill="#4a4a4a" stroke="#4a4a4a" stroke-width="0.12" font-weight="normal" >5</text>
<line x1="469.9" y1="51.5" x2="472.5" y2="51.5" stroke="#262626" stroke-width="0.9"/>
<text x="466.6" y="53.6" font-size="6.0" text-anchor="end" fill="#4a4a4a" stroke="#4a4a4a" stroke-width="0.12" font-weight="normal" >10</text>
<line x1="469.9" y1="25.5" x2="472.5" y2="25.5" stroke="#262626" stroke-width="0.9"/>
<text x="466.6" y="27.6" font-size="6.0" text-anchor="end" fill="#4a4a4a" stroke="#4a4a4a" stroke-width="0.12" font-weight="normal" >15</text>
<line x1="469.9" y1="103.5" x2="511.35" y2="103.5" stroke="#262626" stroke-width="1.15"/>
<line x1="478.95" y1="103" x2="478.95" y2="105.5" stroke="#262626" stroke-width="0.8"/>
<line x1="487.35" y1="103" x2="487.35" y2="105.5" stroke="#262626" stroke-width="0.8"/>
<line x1="496.05" y1="103" x2="496.05" y2="105.5" stroke="#262626" stroke-width="0.8"/>
<line x1="504.75" y1="103" x2="504.75" y2="105.5" stroke="#262626" stroke-width="0.8"/>
<circle cx="478.95" cy="81.87" r="1.5" fill="#1c3352" stroke="#0e1a2a" stroke-width="0.9"/>
<circle cx="481.95" cy="80.58" r="1.5" fill="#1c3352" stroke="#0e1a2a" stroke-width="0.9"/>
<circle cx="478.95" cy="78.66" r="1.5" fill="#1c3352" stroke="#0e1a2a" stroke-width="0.9"/>
<circle cx="481.45" cy="76.7" r="1.5" fill="#1c3352" stroke="#0e1a2a" stroke-width="0.9"/>
<circle cx="478.95" cy="74.12" r="1.5" fill="#1c3352" stroke="#0e1a2a" stroke-width="0.9"/>
<circle cx="480.45" cy="71.59" r="1.5" fill="#1c3352" stroke="#0e1a2a" stroke-width="0.9"/>
<circle cx="477.95" cy="69.62" r="1.5" fill="#1c3352" stroke="#0e1a2a" stroke-width="0.9"/>
<circle cx="478.95" cy="56.09" r="1.5" fill="#1c3352" stroke="#0e1a2a" stroke-width="0.9"/>
<circle cx="478.95" cy="34.28" r="1.5" fill="#1c3352" stroke="#0e1a2a" stroke-width="0.9"/>
<circle cx="487.35" cy="101.45" r="1.5" fill="#fff6f0" stroke="#74483a" stroke-width="0.9"/>
<circle cx="488.85" cy="98.87" r="1.5" fill="#fff6f0" stroke="#74483a" stroke-width="0.9"/>
<circle cx="486.35" cy="97.06" r="1.5" fill="#fff6f0" stroke="#74483a" stroke-width="0.9"/>
<circle cx="488.35" cy="94.73" r="1.5" fill="#fff6f0" stroke="#74483a" stroke-width="0.9"/>
<circle cx="485.85" cy="92.82" r="1.5" fill="#fff6f0" stroke="#74483a" stroke-width="0.9"/>
<circle cx="488.35" cy="90.91" r="1.5" fill="#fff6f0" stroke="#74483a" stroke-width="0.9"/>
<circle cx="487.35" cy="86.36" r="1.5" fill="#fff6f0" stroke="#74483a" stroke-width="0.9"/>
<circle cx="487.35" cy="80.58" r="1.5" fill="#fff6f0" stroke="#74483a" stroke-width="0.9"/>
<circle cx="489.85" cy="78.66" r="1.5" fill="#fff6f0" stroke="#74483a" stroke-width="0.9"/>
<circle cx="487.35" cy="73.86" r="1.5" fill="#fff6f0" stroke="#74483a" stroke-width="0.9"/>
<circle cx="487.35" cy="52.37" r="1.5" fill="#fff6f0" stroke="#74483a" stroke-width="0.9"/>
<circle cx="487.35" cy="42.55" r="1.5" fill="#fff6f0" stroke="#74483a" stroke-width="0.9"/>
<circle cx="496.05" cy="98.87" r="1.5" fill="#cfa098" stroke="#4e1e1e" stroke-width="0.9"/>
<circle cx="498.55" cy="97.32" r="1.5" fill="#cfa098" stroke="#4e1e1e" stroke-width="0.9"/>
<circle cx="496.05" cy="95.41" r="1.5" fill="#cfa098" stroke="#4e1e1e" stroke-width="0.9"/>
<circle cx="497.55" cy="92.82" r="1.5" fill="#cfa098" stroke="#4e1e1e" stroke-width="0.9"/>
<circle cx="496.05" cy="86.78" r="1.5" fill="#cfa098" stroke="#4e1e1e" stroke-width="0.9"/>
<circle cx="496.05" cy="80.32" r="1.5" fill="#cfa098" stroke="#4e1e1e" stroke-width="0.9"/>
<circle cx="496.05" cy="74.79" r="1.5" fill="#cfa098" stroke="#4e1e1e" stroke-width="0.9"/>
<circle cx="496.05" cy="65.8" r="1.5" fill="#cfa098" stroke="#4e1e1e" stroke-width="0.9"/>
<circle cx="499.05" cy="65.39" r="1.5" fill="#cfa098" stroke="#4e1e1e" stroke-width="0.9"/>
<circle cx="496.05" cy="48.23" r="1.5" fill="#cfa098" stroke="#4e1e1e" stroke-width="0.9"/>
<circle cx="504.75" cy="99.9" r="1.5" fill="#6e1a24" stroke="#3e0a12" stroke-width="0.9"/>
<circle cx="507.25" cy="98.35" r="1.5" fill="#6e1a24" stroke="#3e0a12" stroke-width="0.9"/>
<circle cx="504.75" cy="96.7" r="1.5" fill="#6e1a24" stroke="#3e0a12" stroke-width="0.9"/>
<circle cx="507.25" cy="94.73" r="1.5" fill="#6e1a24" stroke="#3e0a12" stroke-width="0.9"/>
<circle cx="504.75" cy="86.98" r="1.5" fill="#6e1a24" stroke="#3e0a12" stroke-width="0.9"/>
<circle cx="507.75" cy="86" r="1.5" fill="#6e1a24" stroke="#3e0a12" stroke-width="0.9"/>
<circle cx="504.75" cy="70.97" r="1.5" fill="#6e1a24" stroke="#3e0a12" stroke-width="0.9"/>
<circle cx="507.25" cy="69" r="1.5" fill="#6e1a24" stroke="#3e0a12" stroke-width="0.9"/>
<circle cx="504.75" cy="56.76" r="1.5" fill="#6e1a24" stroke="#3e0a12" stroke-width="0.9"/>
<line x1="474.95" y1="70.45" x2="482.95" y2="70.45" stroke="#222" stroke-width="0.9"/>
<line x1="483.35" y1="83.37" x2="491.35" y2="83.37" stroke="#222" stroke-width="0.9"/>
<line x1="492.05" y1="80.27" x2="500.05" y2="80.27" stroke="#222" stroke-width="0.9"/>
<line x1="500.75" y1="86.98" x2="508.75" y2="86.98" stroke="#222" stroke-width="0.9"/>
<line x1="479" y1="26.25" x2="505" y2="26.25" stroke="#262626" stroke-width="0.95"/>
<text x="492" y="24.95" font-size="5" text-anchor="middle" fill="#333" stroke="#333" stroke-width="0.12" font-weight="normal" >*</text>
<text transform="translate(455.9,63.3) rotate(-90)" font-size="6.6" text-anchor="middle" fill="#2e2e2e" stroke="#2e2e2e" stroke-width="0.25" textLength="68" lengthAdjust="spacingAndGlyphs">% Granzyme B<tspan font-size="3.6" dy="-2">+</tspan><tspan dy="2"> </tspan>CD8<tspan font-size="3.6" dy="-2">+</tspan><tspan dy="2"> </tspan>T cells</text>
<line x1="122.5" y1="127.4" x2="122.5" y2="207" stroke="#262626" stroke-width="1.15"/>
<line x1="119.9" y1="206.5" x2="122.5" y2="206.5" stroke="#262626" stroke-width="0.9"/>
<text x="116.6" y="208.6" font-size="6.0" text-anchor="end" fill="#4a4a4a" stroke="#4a4a4a" stroke-width="0.12" font-weight="normal" >0</text>
<line x1="119.9" y1="180.73" x2="122.5" y2="180.73" stroke="#262626" stroke-width="0.9"/>
<text x="116.6" y="182.83" font-size="6.0" text-anchor="end" fill="#4a4a4a" stroke="#4a4a4a" stroke-width="0.12" font-weight="normal" >5</text>
<line x1="119.9" y1="154.97" x2="122.5" y2="154.97" stroke="#262626" stroke-width="0.9"/>
<text x="116.6" y="157.07" font-size="6.0" text-anchor="end" fill="#4a4a4a" stroke="#4a4a4a" stroke-width="0.12" font-weight="normal" >10</text>
<line x1="119.9" y1="129.2" x2="122.5" y2="129.2" stroke="#262626" stroke-width="0.9"/>
<text x="116.6" y="131.3" font-size="6.0" text-anchor="end" fill="#4a4a4a" stroke="#4a4a4a" stroke-width="0.12" font-weight="normal" >15</text>
<line x1="119.9" y1="206.5" x2="161.25" y2="206.5" stroke="#262626" stroke-width="1.15"/>
<line x1="128.5" y1="206.7" x2="128.5" y2="209.2" stroke="#262626" stroke-width="0.8"/>
<line x1="137.25" y1="206.7" x2="137.25" y2="209.2" stroke="#262626" stroke-width="0.8"/>
<line x1="146" y1="206.7" x2="146" y2="209.2" stroke="#262626" stroke-width="0.8"/>
<line x1="154.4" y1="206.7" x2="154.4" y2="209.2" stroke="#262626" stroke-width="0.8"/>
<circle cx="128.5" cy="204.12" r="1.5" fill="#1c3352" stroke="#0e1a2a" stroke-width="0.9"/>
<circle cx="131.5" cy="203.08" r="1.5" fill="#1c3352" stroke="#0e1a2a" stroke-width="0.9"/>
<circle cx="126.5" cy="202.05" r="1.5" fill="#1c3352" stroke="#0e1a2a" stroke-width="0.9"/>
<circle cx="125.5" cy="201.53" r="1.5" fill="#1c3352" stroke="#0e1a2a" stroke-width="0.9"/>
<circle cx="129" cy="200.5" r="1.5" fill="#1c3352" stroke="#0e1a2a" stroke-width="0.9"/>
<circle cx="131.5" cy="199.72" r="1.5" fill="#1c3352" stroke="#0e1a2a" stroke-width="0.9"/>
<circle cx="126.5" cy="198.69" r="1.5" fill="#1c3352" stroke="#0e1a2a" stroke-width="0.9"/>
<circle cx="128.5" cy="191.97" r="1.5" fill="#1c3352" stroke="#0e1a2a" stroke-width="0.9"/>
<circle cx="128.5" cy="182.16" r="1.5" fill="#1c3352" stroke="#0e1a2a" stroke-width="0.9"/>
<circle cx="128.5" cy="149.35" r="1.5" fill="#1c3352" stroke="#0e1a2a" stroke-width="0.9"/>
<circle cx="128.5" cy="136.69" r="1.5" fill="#1c3352" stroke="#0e1a2a" stroke-width="0.9"/>
<circle cx="137.25" cy="205.67" r="1.5" fill="#fff6f0" stroke="#74483a" stroke-width="0.9"/>
<circle cx="140.25" cy="204.38" r="1.5" fill="#fff6f0" stroke="#74483a" stroke-width="0.9"/>
<circle cx="137.25" cy="202.57" r="1.5" fill="#fff6f0" stroke="#74483a" stroke-width="0.9"/>
<circle cx="134.25" cy="201.53" r="1.5" fill="#fff6f0" stroke="#74483a" stroke-width="0.9"/>
<circle cx="139.25" cy="200.5" r="1.5" fill="#fff6f0" stroke="#74483a" stroke-width="0.9"/>
<circle cx="136.75" cy="198.69" r="1.5" fill="#fff6f0" stroke="#74483a" stroke-width="0.9"/>
<circle cx="137.25" cy="195.33" r="1.5" fill="#fff6f0" stroke="#74483a" stroke-width="0.9"/>
<circle cx="137.25" cy="191.72" r="1.5" fill="#fff6f0" stroke="#74483a" stroke-width="0.9"/>
<circle cx="137.25" cy="180.61" r="1.5" fill="#fff6f0" stroke="#74483a" stroke-width="0.9"/>
<circle cx="137.25" cy="133.85" r="1.5" fill="#fff6f0" stroke="#74483a" stroke-width="0.9"/>
<circle cx="146" cy="205.67" r="1.5" fill="#cfa098" stroke="#4e1e1e" stroke-width="0.9"/>
<circle cx="148.5" cy="204.12" r="1.5" fill="#cfa098" stroke="#4e1e1e" stroke-width="0.9"/>
<circle cx="146" cy="202.57" r="1.5" fill="#cfa098" stroke="#4e1e1e" stroke-width="0.9"/>
<circle cx="148" cy="200.5" r="1.5" fill="#cfa098" stroke="#4e1e1e" stroke-width="0.9"/>
<circle cx="145" cy="199.47" r="1.5" fill="#cfa098" stroke="#4e1e1e" stroke-width="0.9"/>
<circle cx="149" cy="197.92" r="1.5" fill="#cfa098" stroke="#4e1e1e" stroke-width="0.9"/>
<circle cx="146" cy="195.85" r="1.5" fill="#cfa098" stroke="#4e1e1e" stroke-width="0.9"/>
<circle cx="148" cy="193.52" r="1.5" fill="#cfa098" stroke="#4e1e1e" stroke-width="0.9"/>
<circle cx="146" cy="190.94" r="1.5" fill="#cfa098" stroke="#4e1e1e" stroke-width="0.9"/>
<circle cx="146" cy="185.77" r="1.5" fill="#cfa098" stroke="#4e1e1e" stroke-width="0.9"/>
<circle cx="154.4" cy="205.15" r="1.5" fill="#6e1a24" stroke="#3e0a12" stroke-width="0.9"/>
<circle cx="157.4" cy="203.86" r="1.5" fill="#6e1a24" stroke="#3e0a12" stroke-width="0.9"/>
<circle cx="154.4" cy="202.05" r="1.5" fill="#6e1a24" stroke="#3e0a12" stroke-width="0.9"/>
<circle cx="151.4" cy="201.02" r="1.5" fill="#6e1a24" stroke="#3e0a12" stroke-width="0.9"/>
<circle cx="156.4" cy="199.98" r="1.5" fill="#6e1a24" stroke="#3e0a12" stroke-width="0.9"/>
<circle cx="154.4" cy="197.92" r="1.5" fill="#6e1a24" stroke="#3e0a12" stroke-width="0.9"/>
<circle cx="156.4" cy="195.85" r="1.5" fill="#6e1a24" stroke="#3e0a12" stroke-width="0.9"/>
<circle cx="153.9" cy="194.3" r="1.5" fill="#6e1a24" stroke="#3e0a12" stroke-width="0.9"/>
<line x1="124.5" y1="185.77" x2="132.5" y2="185.77" stroke="#222" stroke-width="0.9"/>
<line x1="133.25" y1="193.27" x2="141.25" y2="193.27" stroke="#222" stroke-width="0.9"/>
<line x1="142" y1="198.69" x2="150" y2="198.69" stroke="#222" stroke-width="0.9"/>
<line x1="150.4" y1="199.98" x2="158.4" y2="199.98" stroke="#222" stroke-width="0.9"/>
<text transform="translate(103,163.9) rotate(-90)" font-size="6.6" text-anchor="middle" fill="#2e2e2e" stroke="#2e2e2e" stroke-width="0.25" textLength="55.4" lengthAdjust="spacingAndGlyphs">% IFN-γ<tspan font-size="3.6" dy="-2">+</tspan><tspan dy="2"> </tspan>CD4<tspan font-size="3.6" dy="-2">+</tspan><tspan dy="2"> </tspan>T cells</text>
<line x1="204.5" y1="127.4" x2="204.5" y2="207" stroke="#262626" stroke-width="1.15"/>
<line x1="201.9" y1="206.5" x2="204.5" y2="206.5" stroke="#262626" stroke-width="0.9"/>
<text x="198.6" y="208.6" font-size="6.0" text-anchor="end" fill="#4a4a4a" stroke="#4a4a4a" stroke-width="0.12" font-weight="normal" >0</text>
<line x1="201.9" y1="180.73" x2="204.5" y2="180.73" stroke="#262626" stroke-width="0.9"/>
<text x="198.6" y="182.83" font-size="6.0" text-anchor="end" fill="#4a4a4a" stroke="#4a4a4a" stroke-width="0.12" font-weight="normal" >10</text>
<line x1="201.9" y1="154.97" x2="204.5" y2="154.97" stroke="#262626" stroke-width="0.9"/>
<text x="198.6" y="157.07" font-size="6.0" text-anchor="end" fill="#4a4a4a" stroke="#4a4a4a" stroke-width="0.12" font-weight="normal" >20</text>
<line x1="201.9" y1="129.2" x2="204.5" y2="129.2" stroke="#262626" stroke-width="0.9"/>
<text x="198.6" y="131.3" font-size="6.0" text-anchor="end" fill="#4a4a4a" stroke="#4a4a4a" stroke-width="0.12" font-weight="normal" >30</text>
<line x1="201.9" y1="206.5" x2="243" y2="206.5" stroke="#262626" stroke-width="1.15"/>
<line x1="210.6" y1="206.7" x2="210.6" y2="209.2" stroke="#262626" stroke-width="0.8"/>
<line x1="219" y1="206.7" x2="219" y2="209.2" stroke="#262626" stroke-width="0.8"/>
<line x1="227.7" y1="206.7" x2="227.7" y2="209.2" stroke="#262626" stroke-width="0.8"/>
<line x1="236.4" y1="206.7" x2="236.4" y2="209.2" stroke="#262626" stroke-width="0.8"/>
<circle cx="210.6" cy="191.59" r="1.5" fill="#1c3352" stroke="#0e1a2a" stroke-width="0.9"/>
<circle cx="210.6" cy="186.42" r="1.5" fill="#1c3352" stroke="#0e1a2a" stroke-width="0.9"/>
<circle cx="213.1" cy="184.74" r="1.5" fill="#1c3352" stroke="#0e1a2a" stroke-width="0.9"/>
<circle cx="210.6" cy="183.19" r="1.5" fill="#1c3352" stroke="#0e1a2a" stroke-width="0.9"/>
<circle cx="213.1" cy="181.25" r="1.5" fill="#1c3352" stroke="#0e1a2a" stroke-width="0.9"/>
<circle cx="210.6" cy="179.32" r="1.5" fill="#1c3352" stroke="#0e1a2a" stroke-width="0.9"/>
<circle cx="213.1" cy="177.38" r="1.5" fill="#1c3352" stroke="#0e1a2a" stroke-width="0.9"/>
<circle cx="210.6" cy="174.8" r="1.5" fill="#1c3352" stroke="#0e1a2a" stroke-width="0.9"/>
<circle cx="212.6" cy="172.6" r="1.5" fill="#1c3352" stroke="#0e1a2a" stroke-width="0.9"/>
<circle cx="210.6" cy="170.02" r="1.5" fill="#1c3352" stroke="#0e1a2a" stroke-width="0.9"/>
<circle cx="210.6" cy="144.18" r="1.5" fill="#1c3352" stroke="#0e1a2a" stroke-width="0.9"/>
<circle cx="210.6" cy="135.14" r="1.5" fill="#1c3352" stroke="#0e1a2a" stroke-width="0.9"/>
<circle cx="219" cy="190.94" r="1.5" fill="#fff6f0" stroke="#74483a" stroke-width="0.9"/>
<circle cx="219" cy="185.77" r="1.5" fill="#fff6f0" stroke="#74483a" stroke-width="0.9"/>
<circle cx="221.5" cy="183.84" r="1.5" fill="#fff6f0" stroke="#74483a" stroke-width="0.9"/>
<circle cx="219" cy="181.64" r="1.5" fill="#fff6f0" stroke="#74483a" stroke-width="0.9"/>
<circle cx="219" cy="178.67" r="1.5" fill="#fff6f0" stroke="#74483a" stroke-width="0.9"/>
<circle cx="220.5" cy="176.09" r="1.5" fill="#fff6f0" stroke="#74483a" stroke-width="0.9"/>
<circle cx="219" cy="171.31" r="1.5" fill="#fff6f0" stroke="#74483a" stroke-width="0.9"/>
<circle cx="220.5" cy="168.72" r="1.5" fill="#fff6f0" stroke="#74483a" stroke-width="0.9"/>
<circle cx="219" cy="166.14" r="1.5" fill="#fff6f0" stroke="#74483a" stroke-width="0.9"/>
<circle cx="221" cy="163.82" r="1.5" fill="#fff6f0" stroke="#74483a" stroke-width="0.9"/>
<circle cx="218.5" cy="161.88" r="1.5" fill="#fff6f0" stroke="#74483a" stroke-width="0.9"/>
<circle cx="219" cy="149.61" r="1.5" fill="#fff6f0" stroke="#74483a" stroke-width="0.9"/>
<circle cx="227.7" cy="203.21" r="1.5" fill="#cfa098" stroke="#4e1e1e" stroke-width="0.9"/>
<circle cx="227.7" cy="192.88" r="1.5" fill="#cfa098" stroke="#4e1e1e" stroke-width="0.9"/>
<circle cx="227.7" cy="188.36" r="1.5" fill="#cfa098" stroke="#4e1e1e" stroke-width="0.9"/>
<circle cx="229.2" cy="185.77" r="1.5" fill="#cfa098" stroke="#4e1e1e" stroke-width="0.9"/>
<circle cx="227.7" cy="182.55" r="1.5" fill="#cfa098" stroke="#4e1e1e" stroke-width="0.9"/>
<circle cx="229.2" cy="179.96" r="1.5" fill="#cfa098" stroke="#4e1e1e" stroke-width="0.9"/>
<circle cx="226.7" cy="178.02" r="1.5" fill="#cfa098" stroke="#4e1e1e" stroke-width="0.9"/>
<circle cx="229.2" cy="176.09" r="1.5" fill="#cfa098" stroke="#4e1e1e" stroke-width="0.9"/>
<circle cx="227.7" cy="173.5" r="1.5" fill="#cfa098" stroke="#4e1e1e" stroke-width="0.9"/>
<circle cx="229.2" cy="170.92" r="1.5" fill="#cfa098" stroke="#4e1e1e" stroke-width="0.9"/>
<circle cx="227.7" cy="164.46" r="1.5" fill="#cfa098" stroke="#4e1e1e" stroke-width="0.9"/>
<circle cx="236.4" cy="196.11" r="1.5" fill="#6e1a24" stroke="#3e0a12" stroke-width="0.9"/>
<circle cx="236.4" cy="182.93" r="1.5" fill="#6e1a24" stroke="#3e0a12" stroke-width="0.9"/>
<circle cx="238.4" cy="180.61" r="1.5" fill="#6e1a24" stroke="#3e0a12" stroke-width="0.9"/>
<circle cx="236.4" cy="174.15" r="1.5" fill="#6e1a24" stroke="#3e0a12" stroke-width="0.9"/>
<circle cx="239.4" cy="172.86" r="1.5" fill="#6e1a24" stroke="#3e0a12" stroke-width="0.9"/>
<circle cx="236.4" cy="170.92" r="1.5" fill="#6e1a24" stroke="#3e0a12" stroke-width="0.9"/>
<circle cx="236.4" cy="167.69" r="1.5" fill="#6e1a24" stroke="#3e0a12" stroke-width="0.9"/>
<circle cx="236.4" cy="159.68" r="1.5" fill="#6e1a24" stroke="#3e0a12" stroke-width="0.9"/>
<circle cx="236.4" cy="143.8" r="1.5" fill="#6e1a24" stroke="#3e0a12" stroke-width="0.9"/>
<line x1="206.6" y1="172.86" x2="214.6" y2="172.86" stroke="#222" stroke-width="0.9"/>
<line x1="215" y1="175.44" x2="223" y2="175.44" stroke="#222" stroke-width="0.9"/>
<line x1="223.7" y1="180.87" x2="231.7" y2="180.87" stroke="#222" stroke-width="0.9"/>
<line x1="232.4" y1="172.86" x2="240.4" y2="172.86" stroke="#222" stroke-width="0.9"/>
<text transform="translate(184.7,165) rotate(-90)" font-size="6.6" text-anchor="middle" fill="#2e2e2e" stroke="#2e2e2e" stroke-width="0.25" textLength="50.8" lengthAdjust="spacingAndGlyphs">% TNF-α<tspan font-size="3.6" dy="-2">+</tspan><tspan dy="2"> </tspan>CD4<tspan font-size="3.6" dy="-2">+</tspan><tspan dy="2"> </tspan>T cells</text>
<line x1="270.5" y1="127.4" x2="270.5" y2="207" stroke="#262626" stroke-width="1.15"/>
<line x1="267.9" y1="206.5" x2="270.5" y2="206.5" stroke="#262626" stroke-width="0.9"/>
<text x="264.6" y="208.6" font-size="6.0" text-anchor="end" fill="#4a4a4a" stroke="#4a4a4a" stroke-width="0.12" font-weight="normal" >0</text>
<line x1="267.9" y1="187.18" x2="270.5" y2="187.18" stroke="#262626" stroke-width="0.9"/>
<text x="264.6" y="189.28" font-size="6.0" text-anchor="end" fill="#4a4a4a" stroke="#4a4a4a" stroke-width="0.12" font-weight="normal" >2</text>
<line x1="267.9" y1="167.85" x2="270.5" y2="167.85" stroke="#262626" stroke-width="0.9"/>
<text x="264.6" y="169.95" font-size="6.0" text-anchor="end" fill="#4a4a4a" stroke="#4a4a4a" stroke-width="0.12" font-weight="normal" >4</text>
<line x1="267.9" y1="148.52" x2="270.5" y2="148.52" stroke="#262626" stroke-width="0.9"/>
<text x="264.6" y="150.62" font-size="6.0" text-anchor="end" fill="#4a4a4a" stroke="#4a4a4a" stroke-width="0.12" font-weight="normal" >6</text>
<line x1="267.9" y1="129.2" x2="270.5" y2="129.2" stroke="#262626" stroke-width="0.9"/>
<text x="264.6" y="131.3" font-size="6.0" text-anchor="end" fill="#4a4a4a" stroke="#4a4a4a" stroke-width="0.12" font-weight="normal" >8</text>
<line x1="267.9" y1="206.5" x2="309" y2="206.5" stroke="#262626" stroke-width="1.15"/>
<line x1="276.6" y1="206.7" x2="276.6" y2="209.2" stroke="#262626" stroke-width="0.8"/>
<line x1="285" y1="206.7" x2="285" y2="209.2" stroke="#262626" stroke-width="0.8"/>
<line x1="293.7" y1="206.7" x2="293.7" y2="209.2" stroke="#262626" stroke-width="0.8"/>
<line x1="302.4" y1="206.7" x2="302.4" y2="209.2" stroke="#262626" stroke-width="0.8"/>
<circle cx="276.6" cy="195.46" r="1.5" fill="#1c3352" stroke="#0e1a2a" stroke-width="0.9"/>
<circle cx="279.1" cy="193.52" r="1.5" fill="#1c3352" stroke="#0e1a2a" stroke-width="0.9"/>
<circle cx="276.6" cy="191.59" r="1.5" fill="#1c3352" stroke="#0e1a2a" stroke-width="0.9"/>
<circle cx="279.1" cy="189.65" r="1.5" fill="#1c3352" stroke="#0e1a2a" stroke-width="0.9"/>
<circle cx="276.6" cy="184.22" r="1.5" fill="#1c3352" stroke="#0e1a2a" stroke-width="0.9"/>
<circle cx="277.6" cy="181.51" r="1.5" fill="#1c3352" stroke="#0e1a2a" stroke-width="0.9"/>
<circle cx="276.1" cy="179.09" r="1.5" fill="#1c3352" stroke="#0e1a2a" stroke-width="0.9"/>
<circle cx="277.6" cy="176.67" r="1.5" fill="#1c3352" stroke="#0e1a2a" stroke-width="0.9"/>
<circle cx="275.1" cy="174.73" r="1.5" fill="#1c3352" stroke="#0e1a2a" stroke-width="0.9"/>
<circle cx="276.6" cy="162.52" r="1.5" fill="#1c3352" stroke="#0e1a2a" stroke-width="0.9"/>
<circle cx="276.6" cy="156.03" r="1.5" fill="#1c3352" stroke="#0e1a2a" stroke-width="0.9"/>
<circle cx="276.6" cy="145.09" r="1.5" fill="#1c3352" stroke="#0e1a2a" stroke-width="0.9"/>
<circle cx="285" cy="197.4" r="1.5" fill="#fff6f0" stroke="#74483a" stroke-width="0.9"/>
<circle cx="287.5" cy="195.46" r="1.5" fill="#fff6f0" stroke="#74483a" stroke-width="0.9"/>
<circle cx="285" cy="193.52" r="1.5" fill="#fff6f0" stroke="#74483a" stroke-width="0.9"/>
<circle cx="286.5" cy="190.91" r="1.5" fill="#fff6f0" stroke="#74483a" stroke-width="0.9"/>
<circle cx="285" cy="188.29" r="1.5" fill="#fff6f0" stroke="#74483a" stroke-width="0.9"/>
<circle cx="287.5" cy="186.36" r="1.5" fill="#fff6f0" stroke="#74483a" stroke-width="0.9"/>
<circle cx="285" cy="179.57" r="1.5" fill="#fff6f0" stroke="#74483a" stroke-width="0.9"/>
<circle cx="285" cy="176.67" r="1.5" fill="#fff6f0" stroke="#74483a" stroke-width="0.9"/>
<circle cx="286.5" cy="174.15" r="1.5" fill="#fff6f0" stroke="#74483a" stroke-width="0.9"/>
<circle cx="285" cy="170.86" r="1.5" fill="#fff6f0" stroke="#74483a" stroke-width="0.9"/>
<circle cx="285" cy="164.46" r="1.5" fill="#fff6f0" stroke="#74483a" stroke-width="0.9"/>
<circle cx="293.7" cy="199.92" r="1.5" fill="#cfa098" stroke="#4e1e1e" stroke-width="0.9"/>
<circle cx="295.2" cy="197.4" r="1.5" fill="#cfa098" stroke="#4e1e1e" stroke-width="0.9"/>
<circle cx="292.7" cy="195.46" r="1.5" fill="#cfa098" stroke="#4e1e1e" stroke-width="0.9"/>
<circle cx="294.2" cy="192.85" r="1.5" fill="#cfa098" stroke="#4e1e1e" stroke-width="0.9"/>
<circle cx="293.7" cy="180.54" r="1.5" fill="#cfa098" stroke="#4e1e1e" stroke-width="0.9"/>
<circle cx="296.7" cy="179.28" r="1.5" fill="#cfa098" stroke="#4e1e1e" stroke-width="0.9"/>
<circle cx="293.7" cy="172.79" r="1.5" fill="#cfa098" stroke="#4e1e1e" stroke-width="0.9"/>
<circle cx="295.2" cy="170.27" r="1.5" fill="#cfa098" stroke="#4e1e1e" stroke-width="0.9"/>
<circle cx="293.7" cy="166.98" r="1.5" fill="#cfa098" stroke="#4e1e1e" stroke-width="0.9"/>
<circle cx="293.7" cy="163.59" r="1.5" fill="#cfa098" stroke="#4e1e1e" stroke-width="0.9"/>
<circle cx="302.4" cy="202.34" r="1.5" fill="#6e1a24" stroke="#3e0a12" stroke-width="0.9"/>
<circle cx="302.4" cy="195.46" r="1.5" fill="#6e1a24" stroke="#3e0a12" stroke-width="0.9"/>
<circle cx="302.4" cy="191.2" r="1.5" fill="#6e1a24" stroke="#3e0a12" stroke-width="0.9"/>
<circle cx="304.9" cy="189.26" r="1.5" fill="#6e1a24" stroke="#3e0a12" stroke-width="0.9"/>
<circle cx="302.4" cy="187.03" r="1.5" fill="#6e1a24" stroke="#3e0a12" stroke-width="0.9"/>
<circle cx="304.9" cy="185.1" r="1.5" fill="#6e1a24" stroke="#3e0a12" stroke-width="0.9"/>
<circle cx="302.4" cy="181.9" r="1.5" fill="#6e1a24" stroke="#3e0a12" stroke-width="0.9"/>
<circle cx="304.9" cy="179.96" r="1.5" fill="#6e1a24" stroke="#3e0a12" stroke-width="0.9"/>
<circle cx="302.4" cy="172.79" r="1.5" fill="#6e1a24" stroke="#3e0a12" stroke-width="0.9"/>
<circle cx="302.4" cy="169.6" r="1.5" fill="#6e1a24" stroke="#3e0a12" stroke-width="0.9"/>
<circle cx="304.9" cy="167.95" r="1.5" fill="#6e1a24" stroke="#3e0a12" stroke-width="0.9"/>
<line x1="272.6" y1="177.64" x2="280.6" y2="177.64" stroke="#222" stroke-width="0.9"/>
<line x1="281" y1="185.77" x2="289" y2="185.77" stroke="#222" stroke-width="0.9"/>
<line x1="289.7" y1="185.39" x2="297.7" y2="185.39" stroke="#222" stroke-width="0.9"/>
<line x1="298.4" y1="184.71" x2="306.4" y2="184.71" stroke="#222" stroke-width="0.9"/>
<text transform="translate(258.2,167.6) rotate(-90)" font-size="6.6" text-anchor="middle" fill="#2e2e2e" stroke="#2e2e2e" stroke-width="0.25" textLength="49" lengthAdjust="spacingAndGlyphs">% IL-2<tspan font-size="3.6" dy="-2">+</tspan><tspan dy="2"> </tspan>CD4<tspan font-size="3.6" dy="-2">+</tspan><tspan dy="2"> </tspan>T cells</text>
<line x1="337.5" y1="127.4" x2="337.5" y2="207" stroke="#262626" stroke-width="1.15"/>
<line x1="334.9" y1="206.5" x2="337.5" y2="206.5" stroke="#262626" stroke-width="0.9"/>
<text transform="translate(332.9,206.5) rotate(-90)" font-size="6.0" text-anchor="middle" fill="#404040" stroke="#404040" stroke-width="0.18">0</text>
<line x1="334.9" y1="191.04" x2="337.5" y2="191.04" stroke="#262626" stroke-width="0.9"/>
<text transform="translate(332.9,191.04) rotate(-90)" font-size="6.0" text-anchor="middle" fill="#404040" stroke="#404040" stroke-width="0.18">1</text>
<line x1="334.9" y1="175.58" x2="337.5" y2="175.58" stroke="#262626" stroke-width="0.9"/>
<text transform="translate(332.9,175.58) rotate(-90)" font-size="6.0" text-anchor="middle" fill="#404040" stroke="#404040" stroke-width="0.18">2</text>
<line x1="334.9" y1="160.12" x2="337.5" y2="160.12" stroke="#262626" stroke-width="0.9"/>
<text transform="translate(332.9,160.12) rotate(-90)" font-size="6.0" text-anchor="middle" fill="#404040" stroke="#404040" stroke-width="0.18">3</text>
<line x1="334.9" y1="144.66" x2="337.5" y2="144.66" stroke="#262626" stroke-width="0.9"/>
<text transform="translate(332.9,144.66) rotate(-90)" font-size="6.0" text-anchor="middle" fill="#404040" stroke="#404040" stroke-width="0.18">4</text>
<line x1="334.9" y1="129.2" x2="337.5" y2="129.2" stroke="#262626" stroke-width="0.9"/>
<text transform="translate(332.9,129.2) rotate(-90)" font-size="6.0" text-anchor="middle" fill="#404040" stroke="#404040" stroke-width="0.18">5</text>
<line x1="334.9" y1="206.5" x2="376.1" y2="206.5" stroke="#262626" stroke-width="1.15"/>
<line x1="343.7" y1="206.7" x2="343.7" y2="209.2" stroke="#262626" stroke-width="0.8"/>
<line x1="352.1" y1="206.7" x2="352.1" y2="209.2" stroke="#262626" stroke-width="0.8"/>
<line x1="360.8" y1="206.7" x2="360.8" y2="209.2" stroke="#262626" stroke-width="0.8"/>
<line x1="369.5" y1="206.7" x2="369.5" y2="209.2" stroke="#262626" stroke-width="0.8"/>
<circle cx="343.7" cy="203.29" r="1.5" fill="#1c3352" stroke="#0e1a2a" stroke-width="0.9"/>
<circle cx="346.2" cy="201.58" r="1.5" fill="#1c3352" stroke="#0e1a2a" stroke-width="0.9"/>
<circle cx="343.7" cy="199.72" r="1.5" fill="#1c3352" stroke="#0e1a2a" stroke-width="0.9"/>
<circle cx="345.7" cy="197.4" r="1.5" fill="#1c3352" stroke="#0e1a2a" stroke-width="0.9"/>
<circle cx="343.2" cy="195.54" r="1.5" fill="#1c3352" stroke="#0e1a2a" stroke-width="0.9"/>
<circle cx="345.7" cy="193.52" r="1.5" fill="#1c3352" stroke="#0e1a2a" stroke-width="0.9"/>
<circle cx="343.7" cy="180.66" r="1.5" fill="#1c3352" stroke="#0e1a2a" stroke-width="0.9"/>
<circle cx="343.7" cy="173.06" r="1.5" fill="#1c3352" stroke="#0e1a2a" stroke-width="0.9"/>
<circle cx="343.7" cy="142.53" r="1.5" fill="#1c3352" stroke="#0e1a2a" stroke-width="0.9"/>
<circle cx="352.1" cy="204.84" r="1.5" fill="#fff6f0" stroke="#74483a" stroke-width="0.9"/>
<circle cx="354.6" cy="203.29" r="1.5" fill="#fff6f0" stroke="#74483a" stroke-width="0.9"/>
<circle cx="352.1" cy="201.27" r="1.5" fill="#fff6f0" stroke="#74483a" stroke-width="0.9"/>
<circle cx="354.6" cy="199.41" r="1.5" fill="#fff6f0" stroke="#74483a" stroke-width="0.9"/>
<circle cx="352.1" cy="196.78" r="1.5" fill="#fff6f0" stroke="#74483a" stroke-width="0.9"/>
<circle cx="353.6" cy="194.3" r="1.5" fill="#fff6f0" stroke="#74483a" stroke-width="0.9"/>
<circle cx="351.1" cy="192.28" r="1.5" fill="#fff6f0" stroke="#74483a" stroke-width="0.9"/>
<circle cx="352.1" cy="182.98" r="1.5" fill="#fff6f0" stroke="#74483a" stroke-width="0.9"/>
<circle cx="352.1" cy="174.77" r="1.5" fill="#fff6f0" stroke="#74483a" stroke-width="0.9"/>
<circle cx="360.8" cy="205.46" r="1.5" fill="#cfa098" stroke="#4e1e1e" stroke-width="0.9"/>
<circle cx="363.3" cy="203.91" r="1.5" fill="#cfa098" stroke="#4e1e1e" stroke-width="0.9"/>
<circle cx="360.8" cy="202.05" r="1.5" fill="#cfa098" stroke="#4e1e1e" stroke-width="0.9"/>
<circle cx="363.3" cy="200.03" r="1.5" fill="#cfa098" stroke="#4e1e1e" stroke-width="0.9"/>
<circle cx="360.8" cy="193.52" r="1.5" fill="#cfa098" stroke="#4e1e1e" stroke-width="0.9"/>
<circle cx="363.3" cy="191.66" r="1.5" fill="#cfa098" stroke="#4e1e1e" stroke-width="0.9"/>
<circle cx="360.8" cy="185.16" r="1.5" fill="#cfa098" stroke="#4e1e1e" stroke-width="0.9"/>
<circle cx="363.8" cy="183.91" r="1.5" fill="#cfa098" stroke="#4e1e1e" stroke-width="0.9"/>
<circle cx="369.5" cy="205.46" r="1.5" fill="#6e1a24" stroke="#3e0a12" stroke-width="0.9"/>
<circle cx="372" cy="203.91" r="1.5" fill="#6e1a24" stroke="#3e0a12" stroke-width="0.9"/>
<circle cx="369.5" cy="202.05" r="1.5" fill="#6e1a24" stroke="#3e0a12" stroke-width="0.9"/>
<circle cx="372" cy="200.03" r="1.5" fill="#6e1a24" stroke="#3e0a12" stroke-width="0.9"/>
<circle cx="369.5" cy="198.02" r="1.5" fill="#6e1a24" stroke="#3e0a12" stroke-width="0.9"/>
<circle cx="372" cy="196.16" r="1.5" fill="#6e1a24" stroke="#3e0a12" stroke-width="0.9"/>
<circle cx="369.5" cy="194.3" r="1.5" fill="#6e1a24" stroke="#3e0a12" stroke-width="0.9"/>
<circle cx="371.5" cy="191.97" r="1.5" fill="#6e1a24" stroke="#3e0a12" stroke-width="0.9"/>
<circle cx="369.5" cy="172.91" r="1.5" fill="#6e1a24" stroke="#3e0a12" stroke-width="0.9"/>
<line x1="339.7" y1="188.56" x2="347.7" y2="188.56" stroke="#222" stroke-width="0.9"/>
<line x1="348.1" y1="195.85" x2="356.1" y2="195.85" stroke="#222" stroke-width="0.9"/>
<line x1="356.8" y1="197.4" x2="364.8" y2="197.4" stroke="#222" stroke-width="0.9"/>
<line x1="365.5" y1="196.16" x2="373.5" y2="196.16" stroke="#222" stroke-width="0.9"/>
<text transform="translate(321.9,167) rotate(-90)" font-size="6.6" text-anchor="middle" fill="#2e2e2e" stroke="#2e2e2e" stroke-width="0.25" textLength="48" lengthAdjust="spacingAndGlyphs">% Multi. CD4<tspan font-size="3.6" dy="-2">+</tspan><tspan dy="2"> </tspan>T cells</text>
<line x1="405.5" y1="127.4" x2="405.5" y2="207" stroke="#262626" stroke-width="1.15"/>
<line x1="402.9" y1="206.5" x2="405.5" y2="206.5" stroke="#262626" stroke-width="0.9"/>
<text x="399.6" y="208.6" font-size="6.0" text-anchor="end" fill="#4a4a4a" stroke="#4a4a4a" stroke-width="0.12" font-weight="normal" >0</text>
<line x1="402.9" y1="180.73" x2="405.5" y2="180.73" stroke="#262626" stroke-width="0.9"/>
<text x="399.6" y="182.83" font-size="6.0" text-anchor="end" fill="#4a4a4a" stroke="#4a4a4a" stroke-width="0.12" font-weight="normal" >5</text>
<line x1="402.9" y1="154.97" x2="405.5" y2="154.97" stroke="#262626" stroke-width="0.9"/>
<text x="399.6" y="157.07" font-size="6.0" text-anchor="end" fill="#4a4a4a" stroke="#4a4a4a" stroke-width="0.12" font-weight="normal" >10</text>
<line x1="402.9" y1="129.2" x2="405.5" y2="129.2" stroke="#262626" stroke-width="0.9"/>
<text x="399.6" y="131.3" font-size="6.0" text-anchor="end" fill="#4a4a4a" stroke="#4a4a4a" stroke-width="0.12" font-weight="normal" >15</text>
<line x1="402.9" y1="206.5" x2="444.2" y2="206.5" stroke="#262626" stroke-width="1.15"/>
<line x1="411.8" y1="206.7" x2="411.8" y2="209.2" stroke="#262626" stroke-width="0.8"/>
<line x1="420.2" y1="206.7" x2="420.2" y2="209.2" stroke="#262626" stroke-width="0.8"/>
<line x1="428.9" y1="206.7" x2="428.9" y2="209.2" stroke="#262626" stroke-width="0.8"/>
<line x1="437.6" y1="206.7" x2="437.6" y2="209.2" stroke="#262626" stroke-width="0.8"/>
<circle cx="411.8" cy="205.15" r="1.5" fill="#1c3352" stroke="#0e1a2a" stroke-width="0.9"/>
<circle cx="414.8" cy="203.86" r="1.5" fill="#1c3352" stroke="#0e1a2a" stroke-width="0.9"/>
<circle cx="411.8" cy="202.05" r="1.5" fill="#1c3352" stroke="#0e1a2a" stroke-width="0.9"/>
<circle cx="413.8" cy="199.98" r="1.5" fill="#1c3352" stroke="#0e1a2a" stroke-width="0.9"/>
<circle cx="411.8" cy="193.52" r="1.5" fill="#1c3352" stroke="#0e1a2a" stroke-width="0.9"/>
<circle cx="414.8" cy="192.23" r="1.5" fill="#1c3352" stroke="#0e1a2a" stroke-width="0.9"/>
<circle cx="411.8" cy="184.74" r="1.5" fill="#1c3352" stroke="#0e1a2a" stroke-width="0.9"/>
<circle cx="411.8" cy="179.83" r="1.5" fill="#1c3352" stroke="#0e1a2a" stroke-width="0.9"/>
<circle cx="411.8" cy="175.18" r="1.5" fill="#1c3352" stroke="#0e1a2a" stroke-width="0.9"/>
<circle cx="420.2" cy="205.41" r="1.5" fill="#fff6f0" stroke="#74483a" stroke-width="0.9"/>
<circle cx="423.2" cy="204.12" r="1.5" fill="#fff6f0" stroke="#74483a" stroke-width="0.9"/>
<circle cx="420.7" cy="202.57" r="1.5" fill="#fff6f0" stroke="#74483a" stroke-width="0.9"/>
<circle cx="420.2" cy="197.92" r="1.5" fill="#fff6f0" stroke="#74483a" stroke-width="0.9"/>
<circle cx="420.2" cy="189.39" r="1.5" fill="#fff6f0" stroke="#74483a" stroke-width="0.9"/>
<circle cx="428.9" cy="205.67" r="1.5" fill="#cfa098" stroke="#4e1e1e" stroke-width="0.9"/>
<circle cx="431.4" cy="204.12" r="1.5" fill="#cfa098" stroke="#4e1e1e" stroke-width="0.9"/>
<circle cx="428.9" cy="202.31" r="1.5" fill="#cfa098" stroke="#4e1e1e" stroke-width="0.9"/>
<circle cx="430.9" cy="199.98" r="1.5" fill="#cfa098" stroke="#4e1e1e" stroke-width="0.9"/>
<circle cx="428.9" cy="197.4" r="1.5" fill="#cfa098" stroke="#4e1e1e" stroke-width="0.9"/>
<circle cx="430.4" cy="194.82" r="1.5" fill="#cfa098" stroke="#4e1e1e" stroke-width="0.9"/>
<circle cx="428.9" cy="188.36" r="1.5" fill="#cfa098" stroke="#4e1e1e" stroke-width="0.9"/>
<circle cx="428.9" cy="176.73" r="1.5" fill="#cfa098" stroke="#4e1e1e" stroke-width="0.9"/>
<circle cx="428.9" cy="172.6" r="1.5" fill="#cfa098" stroke="#4e1e1e" stroke-width="0.9"/>
<circle cx="437.6" cy="205.67" r="1.5" fill="#6e1a24" stroke="#3e0a12" stroke-width="0.9"/>
<circle cx="440.6" cy="204.38" r="1.5" fill="#6e1a24" stroke="#3e0a12" stroke-width="0.9"/>
<circle cx="436.1" cy="203.08" r="1.5" fill="#6e1a24" stroke="#3e0a12" stroke-width="0.9"/>
<circle cx="437.6" cy="194.56" r="1.5" fill="#6e1a24" stroke="#3e0a12" stroke-width="0.9"/>
<circle cx="437.6" cy="177.25" r="1.5" fill="#6e1a24" stroke="#3e0a12" stroke-width="0.9"/>
<circle cx="437.6" cy="168.47" r="1.5" fill="#6e1a24" stroke="#3e0a12" stroke-width="0.9"/>
<line x1="407.8" y1="192.75" x2="415.8" y2="192.75" stroke="#222" stroke-width="0.9"/>
<line x1="416.2" y1="203.86" x2="424.2" y2="203.86" stroke="#222" stroke-width="0.9"/>
<line x1="424.9" y1="195.33" x2="432.9" y2="195.33" stroke="#222" stroke-width="0.9"/>
<line x1="433.6" y1="198.95" x2="441.6" y2="198.95" stroke="#222" stroke-width="0.9"/>
<text transform="translate(387.1,168.4) rotate(-90)" font-size="6.6" text-anchor="middle" fill="#2e2e2e" stroke="#2e2e2e" stroke-width="0.25" textLength="69" lengthAdjust="spacingAndGlyphs">% Granzyme B<tspan font-size="3.6" dy="-2">+</tspan><tspan dy="2"> </tspan>CD4<tspan font-size="3.6" dy="-2">+</tspan><tspan dy="2"> </tspan>T cells</text>
<line x1="36.5" y1="226.5" x2="36.5" y2="306" stroke="#262626" stroke-width="1.15"/>
<line x1="33.9" y1="305.5" x2="36.5" y2="305.5" stroke="#262626" stroke-width="0.9"/>
<text x="30.6" y="307.6" font-size="6.0" text-anchor="end" fill="#4a4a4a" stroke="#4a4a4a" stroke-width="0.12" font-weight="normal" >0</text>
<line x1="33.9" y1="279.77" x2="36.5" y2="279.77" stroke="#262626" stroke-width="0.9"/>
<text x="30.6" y="281.87" font-size="6.0" text-anchor="end" fill="#4a4a4a" stroke="#4a4a4a" stroke-width="0.12" font-weight="normal" >10</text>
<line x1="33.9" y1="254.03" x2="36.5" y2="254.03" stroke="#262626" stroke-width="0.9"/>
<text x="30.6" y="256.13" font-size="6.0" text-anchor="end" fill="#4a4a4a" stroke="#4a4a4a" stroke-width="0.12" font-weight="normal" >20</text>
<line x1="33.9" y1="228.3" x2="36.5" y2="228.3" stroke="#262626" stroke-width="0.9"/>
<text x="30.6" y="230.4" font-size="6.0" text-anchor="end" fill="#4a4a4a" stroke="#4a4a4a" stroke-width="0.12" font-weight="normal" >30</text>
<line x1="33.9" y1="305.5" x2="114" y2="305.5" stroke="#262626" stroke-width="1.15"/>
<line x1="42.7" y1="262.92" x2="42.7" y2="248.97" stroke="#444" stroke-width="0.8"/>
<line x1="41.4" y1="248.97" x2="44" y2="248.97" stroke="#2a2a2a" stroke-width="0.95"/>
<rect x="40.4" y="263.12" width="4.6" height="42.68" fill="#1f4f8d" stroke="#163a6a" stroke-width="0.45"/>
<line x1="50.4" y1="259.3" x2="50.4" y2="247.16" stroke="#444" stroke-width="0.8"/>
<line x1="49.1" y1="247.16" x2="51.7" y2="247.16" stroke="#2a2a2a" stroke-width="0.95"/>
<rect x="48.1" y="259.5" width="4.6" height="46.3" fill="#1f4f8d" stroke="#163a6a" stroke-width="0.45"/>
<line x1="61.9" y1="277.9" x2="61.9" y2="269.63" stroke="#444" stroke-width="0.8"/>
<line x1="60.6" y1="269.63" x2="63.2" y2="269.63" stroke="#2a2a2a" stroke-width="0.95"/>
<rect x="59.6" y="278.1" width="4.6" height="27.7" fill="#e8978b" stroke="#c8786c" stroke-width="0.45"/>
<line x1="69.7" y1="274.8" x2="69.7" y2="264.98" stroke="#444" stroke-width="0.8"/>
<line x1="68.4" y1="264.98" x2="71" y2="264.98" stroke="#2a2a2a" stroke-width="0.95"/>
<rect x="67.4" y="275" width="4.6" height="30.8" fill="#e8978b" stroke="#c8786c" stroke-width="0.45"/>
<line x1="81.3" y1="266.28" x2="81.3" y2="255.17" stroke="#444" stroke-width="0.8"/>
<line x1="80" y1="255.17" x2="82.6" y2="255.17" stroke="#2a2a2a" stroke-width="0.95"/>
<rect x="79" y="266.48" width="4.6" height="39.32" fill="#d9584d" stroke="#b8443a" stroke-width="0.45"/>
<line x1="89" y1="251.29" x2="89" y2="240.44" stroke="#444" stroke-width="0.8"/>
<line x1="87.7" y1="240.44" x2="90.3" y2="240.44" stroke="#2a2a2a" stroke-width="0.95"/>
<rect x="86.7" y="251.49" width="4.6" height="54.31" fill="#d9584d" stroke="#b8443a" stroke-width="0.45"/>
<line x1="100.7" y1="271.7" x2="100.7" y2="264.47" stroke="#444" stroke-width="0.8"/>
<line x1="99.4" y1="264.47" x2="102" y2="264.47" stroke="#2a2a2a" stroke-width="0.95"/>
<rect x="98.4" y="271.9" width="4.6" height="33.9" fill="#c8102e" stroke="#8e0a20" stroke-width="0.45"/>
<line x1="108.5" y1="245.09" x2="108.5" y2="234.24" stroke="#444" stroke-width="0.8"/>
<line x1="107.2" y1="234.24" x2="109.8" y2="234.24" stroke="#2a2a2a" stroke-width="0.95"/>
<rect x="106.2" y="245.29" width="4.6" height="60.51" fill="#c8102e" stroke="#8e0a20" stroke-width="0.45"/>
<line x1="42.7" y1="305.8" x2="42.7" y2="308.3" stroke="#262626" stroke-width="0.8"/>
<line x1="50.4" y1="305.8" x2="50.4" y2="308.3" stroke="#262626" stroke-width="0.8"/>
<line x1="61.9" y1="305.8" x2="61.9" y2="308.3" stroke="#262626" stroke-width="0.8"/>
<line x1="69.7" y1="305.8" x2="69.7" y2="308.3" stroke="#262626" stroke-width="0.8"/>
<line x1="81.3" y1="305.8" x2="81.3" y2="308.3" stroke="#262626" stroke-width="0.8"/>
<line x1="89" y1="305.8" x2="89" y2="308.3" stroke="#262626" stroke-width="0.8"/>
<line x1="100.7" y1="305.8" x2="100.7" y2="308.3" stroke="#262626" stroke-width="0.8"/>
<line x1="108.5" y1="305.8" x2="108.5" y2="308.3" stroke="#262626" stroke-width="0.8"/>
<line x1="99.4" y1="228.5" x2="108.75" y2="228.5" stroke="#262626" stroke-width="0.95"/>
<text x="104.08" y="227.2" font-size="5" text-anchor="middle" fill="#333" stroke="#333" stroke-width="0.12" font-weight="normal" >**</text>
<text transform="translate(19.2,265.9) rotate(-90)" font-size="6.6" text-anchor="middle" fill="#2e2e2e" stroke="#2e2e2e" stroke-width="0.25" textLength="61.3" lengthAdjust="spacingAndGlyphs">% IFN-γ<tspan font-size="3.6" dy="-2">+</tspan><tspan dy="2"> </tspan> of CD8<tspan font-size="3.6" dy="-2">+</tspan><tspan dy="2"> </tspan>T cells</text>
<line x1="131.5" y1="226.5" x2="131.5" y2="306" stroke="#262626" stroke-width="1.15"/>
<line x1="128.9" y1="305.5" x2="131.5" y2="305.5" stroke="#262626" stroke-width="0.9"/>
<text x="125.6" y="307.6" font-size="6.0" text-anchor="end" fill="#4a4a4a" stroke="#4a4a4a" stroke-width="0.12" font-weight="normal" >0</text>
<line x1="128.9" y1="279.77" x2="131.5" y2="279.77" stroke="#262626" stroke-width="0.9"/>
<text x="125.6" y="281.87" font-size="6.0" text-anchor="end" fill="#4a4a4a" stroke="#4a4a4a" stroke-width="0.12" font-weight="normal" >20</text>
<line x1="128.9" y1="254.03" x2="131.5" y2="254.03" stroke="#262626" stroke-width="0.9"/>
<text x="125.6" y="256.13" font-size="6.0" text-anchor="end" fill="#4a4a4a" stroke="#4a4a4a" stroke-width="0.12" font-weight="normal" >40</text>
<line x1="128.9" y1="228.3" x2="131.5" y2="228.3" stroke="#262626" stroke-width="0.9"/>
<text x="125.6" y="230.4" font-size="6.0" text-anchor="end" fill="#4a4a4a" stroke="#4a4a4a" stroke-width="0.12" font-weight="normal" >60</text>
<line x1="128.9" y1="305.5" x2="177.5" y2="305.5" stroke="#262626" stroke-width="1.15"/>
<line x1="144.5" y1="305.8" x2="144.5" y2="308.3" stroke="#262626" stroke-width="0.8"/>
<line x1="164.6" y1="305.8" x2="164.6" y2="308.3" stroke="#262626" stroke-width="0.8"/>
<circle cx="144.5" cy="305.15" r="1.75" fill="#ffffff" stroke="#262626" stroke-width="0.75"/>
<circle cx="148" cy="304.42" r="1.75" fill="#ffffff" stroke="#262626" stroke-width="0.75"/>
<circle cx="143" cy="302.12" r="1.75" fill="#ffffff" stroke="#262626" stroke-width="0.75"/>
<circle cx="146" cy="300.45" r="1.75" fill="#ffffff" stroke="#262626" stroke-width="0.75"/>
<circle cx="141.5" cy="299.09" r="1.75" fill="#ffffff" stroke="#262626" stroke-width="0.75"/>
<circle cx="148.5" cy="297.93" r="1.75" fill="#ffffff" stroke="#262626" stroke-width="0.75"/>
<circle cx="144.5" cy="296.91" r="1.75" fill="#ffffff" stroke="#262626" stroke-width="0.75"/>
<circle cx="140.5" cy="295.97" r="1.75" fill="#ffffff" stroke="#262626" stroke-width="0.75"/>
<circle cx="150.3" cy="295.11" r="1.75" fill="#ffffff" stroke="#262626" stroke-width="0.75"/>
<circle cx="146.5" cy="294.29" r="1.75" fill="#ffffff" stroke="#262626" stroke-width="0.75"/>
<circle cx="143" cy="293.52" r="1.75" fill="#ffffff" stroke="#262626" stroke-width="0.75"/>
<circle cx="139.5" cy="292.78" r="1.75" fill="#ffffff" stroke="#262626" stroke-width="0.75"/>
<circle cx="149" cy="292.07" r="1.75" fill="#ffffff" stroke="#262626" stroke-width="0.75"/>
<circle cx="150.3" cy="291.37" r="1.75" fill="#ffffff" stroke="#262626" stroke-width="0.75"/>
<circle cx="145" cy="290.68" r="1.75" fill="#ffffff" stroke="#262626" stroke-width="0.75"/>
<circle cx="141.5" cy="290.01" r="1.75" fill="#ffffff" stroke="#262626" stroke-width="0.75"/>
<circle cx="138.7" cy="289.34" r="1.75" fill="#ffffff" stroke="#262626" stroke-width="0.75"/>
<circle cx="148" cy="288.67" r="1.75" fill="#ffffff" stroke="#262626" stroke-width="0.75"/>
<circle cx="150.3" cy="288.01" r="1.75" fill="#ffffff" stroke="#262626" stroke-width="0.75"/>
<circle cx="144.5" cy="287.33" r="1.75" fill="#ffffff" stroke="#262626" stroke-width="0.75"/>
<circle cx="141" cy="286.65" r="1.75" fill="#ffffff" stroke="#262626" stroke-width="0.75"/>
<circle cx="138.7" cy="285.95" r="1.75" fill="#ffffff" stroke="#262626" stroke-width="0.75"/>
<circle cx="147.5" cy="285.24" r="1.75" fill="#ffffff" stroke="#262626" stroke-width="0.75"/>
<circle cx="150.3" cy="284.49" r="1.75" fill="#ffffff" stroke="#262626" stroke-width="0.75"/>
<circle cx="144.5" cy="283.72" r="1.75" fill="#ffffff" stroke="#262626" stroke-width="0.75"/>
<circle cx="141" cy="282.91" r="1.75" fill="#ffffff" stroke="#262626" stroke-width="0.75"/>
<circle cx="138.7" cy="282.04" r="1.75" fill="#ffffff" stroke="#262626" stroke-width="0.75"/>
<circle cx="146.5" cy="281.11" r="1.75" fill="#ffffff" stroke="#262626" stroke-width="0.75"/>
<circle cx="143" cy="280.08" r="1.75" fill="#ffffff" stroke="#262626" stroke-width="0.75"/>
<circle cx="149" cy="278.92" r="1.75" fill="#ffffff" stroke="#262626" stroke-width="0.75"/>
<circle cx="145.5" cy="277.57" r="1.75" fill="#ffffff" stroke="#262626" stroke-width="0.75"/>
<circle cx="142.5" cy="275.9" r="1.75" fill="#ffffff" stroke="#262626" stroke-width="0.75"/>
<circle cx="145" cy="273.59" r="1.75" fill="#ffffff" stroke="#262626" stroke-width="0.75"/>
<circle cx="142" cy="272.22" r="1.75" fill="#ffffff" stroke="#262626" stroke-width="0.75"/>
<circle cx="144.5" cy="267.05" r="1.75" fill="#ffffff" stroke="#262626" stroke-width="0.75"/>
<circle cx="144.5" cy="254.13" r="1.75" fill="#ffffff" stroke="#262626" stroke-width="0.75"/>
<circle cx="146.5" cy="251.55" r="1.75" fill="#ffffff" stroke="#262626" stroke-width="0.75"/>
<circle cx="144.5" cy="245.09" r="1.75" fill="#ffffff" stroke="#262626" stroke-width="0.75"/>
<circle cx="164.6" cy="303.67" r="1.75" fill="#ffffff" stroke="#262626" stroke-width="0.75"/>
<circle cx="167.6" cy="301.99" r="1.75" fill="#ffffff" stroke="#262626" stroke-width="0.75"/>
<circle cx="164.6" cy="300.31" r="1.75" fill="#ffffff" stroke="#262626" stroke-width="0.75"/>
<circle cx="167.6" cy="298.63" r="1.75" fill="#ffffff" stroke="#262626" stroke-width="0.75"/>
<circle cx="164.6" cy="296.95" r="1.75" fill="#ffffff" stroke="#262626" stroke-width="0.75"/>
<circle cx="167.6" cy="295.27" r="1.75" fill="#ffffff" stroke="#262626" stroke-width="0.75"/>
<circle cx="164.6" cy="293.59" r="1.75" fill="#ffffff" stroke="#262626" stroke-width="0.75"/>
<circle cx="167.6" cy="291.91" r="1.75" fill="#ffffff" stroke="#262626" stroke-width="0.75"/>
<circle cx="164.6" cy="290.24" r="1.75" fill="#ffffff" stroke="#262626" stroke-width="0.75"/>
<circle cx="167.6" cy="288.56" r="1.75" fill="#ffffff" stroke="#262626" stroke-width="0.75"/>
<circle cx="164.6" cy="286.88" r="1.75" fill="#ffffff" stroke="#262626" stroke-width="0.75"/>
<circle cx="167.6" cy="285.2" r="1.75" fill="#ffffff" stroke="#262626" stroke-width="0.75"/>
<circle cx="164.6" cy="283.52" r="1.75" fill="#ffffff" stroke="#262626" stroke-width="0.75"/>
<circle cx="167.6" cy="281.84" r="1.75" fill="#ffffff" stroke="#262626" stroke-width="0.75"/>
<circle cx="164.6" cy="280.16" r="1.75" fill="#ffffff" stroke="#262626" stroke-width="0.75"/>
<circle cx="167.6" cy="278.48" r="1.75" fill="#ffffff" stroke="#262626" stroke-width="0.75"/>
<circle cx="164.6" cy="276.8" r="1.75" fill="#ffffff" stroke="#262626" stroke-width="0.75"/>
<circle cx="167.6" cy="275.12" r="1.75" fill="#ffffff" stroke="#262626" stroke-width="0.75"/>
<circle cx="164.6" cy="273.44" r="1.75" fill="#ffffff" stroke="#262626" stroke-width="0.75"/>
<circle cx="167.6" cy="271.76" r="1.75" fill="#ffffff" stroke="#262626" stroke-width="0.75"/>
<circle cx="164.6" cy="270.09" r="1.75" fill="#ffffff" stroke="#262626" stroke-width="0.75"/>
<circle cx="167.6" cy="268.41" r="1.75" fill="#ffffff" stroke="#262626" stroke-width="0.75"/>
<circle cx="164.6" cy="266.73" r="1.75" fill="#ffffff" stroke="#262626" stroke-width="0.75"/>
<circle cx="167.6" cy="265.05" r="1.75" fill="#ffffff" stroke="#262626" stroke-width="0.75"/>
<circle cx="164.6" cy="263.37" r="1.75" fill="#ffffff" stroke="#262626" stroke-width="0.75"/>
<circle cx="167.6" cy="261.69" r="1.75" fill="#ffffff" stroke="#262626" stroke-width="0.75"/>
<circle cx="164.6" cy="260.01" r="1.75" fill="#ffffff" stroke="#262626" stroke-width="0.75"/>
<circle cx="167.6" cy="258.33" r="1.75" fill="#ffffff" stroke="#262626" stroke-width="0.75"/>
<circle cx="164.6" cy="256.65" r="1.75" fill="#ffffff" stroke="#262626" stroke-width="0.75"/>
<circle cx="167.6" cy="254.97" r="1.75" fill="#ffffff" stroke="#262626" stroke-width="0.75"/>
<circle cx="164.6" cy="247.68" r="1.75" fill="#ffffff" stroke="#262626" stroke-width="0.75"/>
<circle cx="164.6" cy="243.8" r="1.75" fill="#ffffff" stroke="#262626" stroke-width="0.75"/>
<circle cx="166.6" cy="241.22" r="1.75" fill="#ffffff" stroke="#262626" stroke-width="0.75"/>
<circle cx="164.6" cy="234.76" r="1.75" fill="#ffffff" stroke="#262626" stroke-width="0.75"/>
<line x1="137" y1="287.07" x2="152" y2="287.07" stroke="#222" stroke-width="0.9"/>
<line x1="157.1" y1="277.38" x2="172.1" y2="277.38" stroke="#222" stroke-width="0.9"/>
<line x1="141.4" y1="229.3" x2="166" y2="229.3" stroke="#262626" stroke-width="0.95"/>
<text x="153.7" y="228" font-size="5" text-anchor="middle" fill="#333" stroke="#333" stroke-width="0.12" font-weight="normal" >**</text>
<line x1="203.5" y1="226.5" x2="203.5" y2="306" stroke="#262626" stroke-width="1.15"/>
<line x1="200.9" y1="305.5" x2="203.5" y2="305.5" stroke="#262626" stroke-width="0.9"/>
<text x="197.6" y="307.6" font-size="6.0" text-anchor="end" fill="#4a4a4a" stroke="#4a4a4a" stroke-width="0.12" font-weight="normal" >0</text>
<line x1="200.9" y1="279.77" x2="203.5" y2="279.77" stroke="#262626" stroke-width="0.9"/>
<text x="197.6" y="281.87" font-size="6.0" text-anchor="end" fill="#4a4a4a" stroke="#4a4a4a" stroke-width="0.12" font-weight="normal" >20</text>
<line x1="200.9" y1="254.03" x2="203.5" y2="254.03" stroke="#262626" stroke-width="0.9"/>
<text x="197.6" y="256.13" font-size="6.0" text-anchor="end" fill="#4a4a4a" stroke="#4a4a4a" stroke-width="0.12" font-weight="normal" >40</text>
<line x1="200.9" y1="228.3" x2="203.5" y2="228.3" stroke="#262626" stroke-width="0.9"/>
<text x="197.6" y="230.4" font-size="6.0" text-anchor="end" fill="#4a4a4a" stroke="#4a4a4a" stroke-width="0.12" font-weight="normal" >60</text>
<line x1="200.9" y1="305.5" x2="281.5" y2="305.5" stroke="#262626" stroke-width="1.15"/>
<line x1="209.3" y1="266.02" x2="209.3" y2="258.14" stroke="#444" stroke-width="0.8"/>
<line x1="208" y1="258.14" x2="210.6" y2="258.14" stroke="#2a2a2a" stroke-width="0.95"/>
<rect x="207" y="266.22" width="4.6" height="39.58" fill="#1f4f8d" stroke="#163a6a" stroke-width="0.45"/>
<line x1="217" y1="255.94" x2="217" y2="249.35" stroke="#444" stroke-width="0.8"/>
<line x1="215.7" y1="249.35" x2="218.3" y2="249.35" stroke="#2a2a2a" stroke-width="0.95"/>
<rect x="214.7" y="256.14" width="4.6" height="49.66" fill="#1f4f8d" stroke="#163a6a" stroke-width="0.45"/>
<line x1="228.5" y1="271.44" x2="228.5" y2="266.28" stroke="#444" stroke-width="0.8"/>
<line x1="227.2" y1="266.28" x2="229.8" y2="266.28" stroke="#2a2a2a" stroke-width="0.95"/>
<rect x="226.2" y="271.64" width="4.6" height="34.16" fill="#e8978b" stroke="#c8786c" stroke-width="0.45"/>
<line x1="236.3" y1="261.62" x2="236.3" y2="255.3" stroke="#444" stroke-width="0.8"/>
<line x1="235" y1="255.3" x2="237.6" y2="255.3" stroke="#2a2a2a" stroke-width="0.95"/>
<rect x="234" y="261.82" width="4.6" height="43.98" fill="#e8978b" stroke="#c8786c" stroke-width="0.45"/>
<line x1="247.9" y1="261.24" x2="247.9" y2="254.39" stroke="#444" stroke-width="0.8"/>
<line x1="246.6" y1="254.39" x2="249.2" y2="254.39" stroke="#2a2a2a" stroke-width="0.95"/>
<rect x="245.6" y="261.44" width="4.6" height="44.36" fill="#d9584d" stroke="#b8443a" stroke-width="0.45"/>
<line x1="255.6" y1="246.9" x2="255.6" y2="241.22" stroke="#444" stroke-width="0.8"/>
<line x1="254.3" y1="241.22" x2="256.9" y2="241.22" stroke="#2a2a2a" stroke-width="0.95"/>
<rect x="253.3" y="247.1" width="4.6" height="58.7" fill="#d9584d" stroke="#b8443a" stroke-width="0.45"/>
<line x1="267.3" y1="266.02" x2="267.3" y2="260.2" stroke="#444" stroke-width="0.8"/>
<line x1="266" y1="260.2" x2="268.6" y2="260.2" stroke="#2a2a2a" stroke-width="0.95"/>
<rect x="265" y="266.22" width="4.6" height="39.58" fill="#c8102e" stroke="#8e0a20" stroke-width="0.45"/>
<line x1="275.1" y1="247.55" x2="275.1" y2="239.8" stroke="#444" stroke-width="0.8"/>
<line x1="273.8" y1="239.8" x2="276.4" y2="239.8" stroke="#2a2a2a" stroke-width="0.95"/>
<rect x="272.8" y="247.75" width="4.6" height="58.05" fill="#c8102e" stroke="#8e0a20" stroke-width="0.45"/>
<line x1="209.3" y1="305.8" x2="209.3" y2="308.3" stroke="#262626" stroke-width="0.8"/>
<line x1="217" y1="305.8" x2="217" y2="308.3" stroke="#262626" stroke-width="0.8"/>
<line x1="228.5" y1="305.8" x2="228.5" y2="308.3" stroke="#262626" stroke-width="0.8"/>
<line x1="236.3" y1="305.8" x2="236.3" y2="308.3" stroke="#262626" stroke-width="0.8"/>
<line x1="247.9" y1="305.8" x2="247.9" y2="308.3" stroke="#262626" stroke-width="0.8"/>
<line x1="255.6" y1="305.8" x2="255.6" y2="308.3" stroke="#262626" stroke-width="0.8"/>
<line x1="267.3" y1="305.8" x2="267.3" y2="308.3" stroke="#262626" stroke-width="0.8"/>
<line x1="275.1" y1="305.8" x2="275.1" y2="308.3" stroke="#262626" stroke-width="0.8"/>
<line x1="247.25" y1="227.1" x2="256.25" y2="227.1" stroke="#262626" stroke-width="0.95"/>
<text x="251.75" y="225.8" font-size="5" text-anchor="middle" fill="#333" stroke="#333" stroke-width="0.12" font-weight="normal" >*</text>
<line x1="265.4" y1="227.1" x2="274.4" y2="227.1" stroke="#262626" stroke-width="0.95"/>
<text x="269.9" y="225.8" font-size="5" text-anchor="middle" fill="#333" stroke="#333" stroke-width="0.12" font-weight="normal" >**</text>
<text transform="translate(185.5,267.7) rotate(-90)" font-size="6.6" text-anchor="middle" fill="#2e2e2e" stroke="#2e2e2e" stroke-width="0.25" textLength="65" lengthAdjust="spacingAndGlyphs">% TNF-α<tspan font-size="3.6" dy="-2">+</tspan><tspan dy="2"> </tspan> of CD8<tspan font-size="3.6" dy="-2">+</tspan><tspan dy="2"> </tspan>T cells</text>
<line x1="297.5" y1="226.5" x2="297.5" y2="306" stroke="#262626" stroke-width="1.15"/>
<line x1="294.9" y1="305.5" x2="297.5" y2="305.5" stroke="#262626" stroke-width="0.9"/>
<text x="291.6" y="307.6" font-size="6.0" text-anchor="end" fill="#4a4a4a" stroke="#4a4a4a" stroke-width="0.12" font-weight="normal" >0</text>
<line x1="294.9" y1="286.2" x2="297.5" y2="286.2" stroke="#262626" stroke-width="0.9"/>
<text x="291.6" y="288.3" font-size="6.0" text-anchor="end" fill="#4a4a4a" stroke="#4a4a4a" stroke-width="0.12" font-weight="normal" >20</text>
<line x1="294.9" y1="266.9" x2="297.5" y2="266.9" stroke="#262626" stroke-width="0.9"/>
<text x="291.6" y="269" font-size="6.0" text-anchor="end" fill="#4a4a4a" stroke="#4a4a4a" stroke-width="0.12" font-weight="normal" >40</text>
<line x1="294.9" y1="247.6" x2="297.5" y2="247.6" stroke="#262626" stroke-width="0.9"/>
<text x="291.6" y="249.7" font-size="6.0" text-anchor="end" fill="#4a4a4a" stroke="#4a4a4a" stroke-width="0.12" font-weight="normal" >60</text>
<line x1="294.9" y1="228.3" x2="297.5" y2="228.3" stroke="#262626" stroke-width="0.9"/>
<text x="291.6" y="230.4" font-size="6.0" text-anchor="end" fill="#4a4a4a" stroke="#4a4a4a" stroke-width="0.12" font-weight="normal" >80</text>
<line x1="294.9" y1="305.5" x2="344" y2="305.5" stroke="#262626" stroke-width="1.15"/>
<line x1="311.1" y1="305.8" x2="311.1" y2="308.3" stroke="#262626" stroke-width="0.8"/>
<line x1="330.2" y1="305.8" x2="330.2" y2="308.3" stroke="#262626" stroke-width="0.8"/>
<circle cx="311.1" cy="293.95" r="1.75" fill="#ffffff" stroke="#262626" stroke-width="0.75"/>
<circle cx="311.1" cy="290.35" r="1.75" fill="#ffffff" stroke="#262626" stroke-width="0.75"/>
<circle cx="314.1" cy="288.42" r="1.75" fill="#ffffff" stroke="#262626" stroke-width="0.75"/>
<circle cx="311.1" cy="287.03" r="1.75" fill="#ffffff" stroke="#262626" stroke-width="0.75"/>
<circle cx="307.6" cy="285.91" r="1.75" fill="#ffffff" stroke="#262626" stroke-width="0.75"/>
<circle cx="314.1" cy="284.95" r="1.75" fill="#ffffff" stroke="#262626" stroke-width="0.75"/>
<circle cx="316.9" cy="284.1" r="1.75" fill="#ffffff" stroke="#262626" stroke-width="0.75"/>
<circle cx="311.1" cy="283.33" r="1.75" fill="#ffffff" stroke="#262626" stroke-width="0.75"/>
<circle cx="307.6" cy="282.63" r="1.75" fill="#ffffff" stroke="#262626" stroke-width="0.75"/>
<circle cx="305.3" cy="281.96" r="1.75" fill="#ffffff" stroke="#262626" stroke-width="0.75"/>
<circle cx="314.1" cy="281.34" r="1.75" fill="#ffffff" stroke="#262626" stroke-width="0.75"/>
<circle cx="316.9" cy="280.74" r="1.75" fill="#ffffff" stroke="#262626" stroke-width="0.75"/>
<circle cx="310.1" cy="280.17" r="1.75" fill="#ffffff" stroke="#262626" stroke-width="0.75"/>
<circle cx="305.3" cy="279.61" r="1.75" fill="#ffffff" stroke="#262626" stroke-width="0.75"/>
<circle cx="316.9" cy="279.07" r="1.75" fill="#ffffff" stroke="#262626" stroke-width="0.75"/>
<circle cx="305.3" cy="278.54" r="1.75" fill="#ffffff" stroke="#262626" stroke-width="0.75"/>
<circle cx="312.6" cy="278.02" r="1.75" fill="#ffffff" stroke="#262626" stroke-width="0.75"/>
<circle cx="316.9" cy="277.51" r="1.75" fill="#ffffff" stroke="#262626" stroke-width="0.75"/>
<circle cx="309.1" cy="276.99" r="1.75" fill="#ffffff" stroke="#262626" stroke-width="0.75"/>
<circle cx="305.3" cy="276.48" r="1.75" fill="#ffffff" stroke="#262626" stroke-width="0.75"/>
<circle cx="316.9" cy="275.97" r="1.75" fill="#ffffff" stroke="#262626" stroke-width="0.75"/>
<circle cx="305.3" cy="275.45" r="1.75" fill="#ffffff" stroke="#262626" stroke-width="0.75"/>
<circle cx="316.9" cy="274.93" r="1.75" fill="#ffffff" stroke="#262626" stroke-width="0.75"/>
<circle cx="311.1" cy="274.4" r="1.75" fill="#ffffff" stroke="#262626" stroke-width="0.75"/>
<circle cx="316.9" cy="273.86" r="1.75" fill="#ffffff" stroke="#262626" stroke-width="0.75"/>
<circle cx="305.3" cy="273.31" r="1.75" fill="#ffffff" stroke="#262626" stroke-width="0.75"/>
<circle cx="316.9" cy="272.73" r="1.75" fill="#ffffff" stroke="#262626" stroke-width="0.75"/>
<circle cx="313.6" cy="272.14" r="1.75" fill="#ffffff" stroke="#262626" stroke-width="0.75"/>
<circle cx="309.1" cy="271.51" r="1.75" fill="#ffffff" stroke="#262626" stroke-width="0.75"/>
<circle cx="305.3" cy="270.85" r="1.75" fill="#ffffff" stroke="#262626" stroke-width="0.75"/>
<circle cx="316.9" cy="270.14" r="1.75" fill="#ffffff" stroke="#262626" stroke-width="0.75"/>
<circle cx="311.6" cy="269.37" r="1.75" fill="#ffffff" stroke="#262626" stroke-width="0.75"/>
<circle cx="307.6" cy="268.53" r="1.75" fill="#ffffff" stroke="#262626" stroke-width="0.75"/>
<circle cx="314.6" cy="267.57" r="1.75" fill="#ffffff" stroke="#262626" stroke-width="0.75"/>
<circle cx="305.3" cy="266.45" r="1.75" fill="#ffffff" stroke="#262626" stroke-width="0.75"/>
<circle cx="311.1" cy="265.05" r="1.75" fill="#ffffff" stroke="#262626" stroke-width="0.75"/>
<circle cx="314.1" cy="263.12" r="1.75" fill="#ffffff" stroke="#262626" stroke-width="0.75"/>
<circle cx="311.1" cy="259.52" r="1.75" fill="#ffffff" stroke="#262626" stroke-width="0.75"/>
<circle cx="311.1" cy="250.58" r="1.75" fill="#ffffff" stroke="#262626" stroke-width="0.75"/>
<circle cx="311.1" cy="245.74" r="1.75" fill="#ffffff" stroke="#262626" stroke-width="0.75"/>
<circle cx="314.1" cy="243.8" r="1.75" fill="#ffffff" stroke="#262626" stroke-width="0.75"/>
<circle cx="330.2" cy="292.46" r="1.75" fill="#ffffff" stroke="#262626" stroke-width="0.75"/>
<circle cx="333.2" cy="290.98" r="1.75" fill="#ffffff" stroke="#262626" stroke-width="0.75"/>
<circle cx="328.7" cy="289.5" r="1.75" fill="#ffffff" stroke="#262626" stroke-width="0.75"/>
<circle cx="331.7" cy="288.01" r="1.75" fill="#ffffff" stroke="#262626" stroke-width="0.75"/>
<circle cx="327.2" cy="286.53" r="1.75" fill="#ffffff" stroke="#262626" stroke-width="0.75"/>
<circle cx="330.2" cy="285.05" r="1.75" fill="#ffffff" stroke="#262626" stroke-width="0.75"/>
<circle cx="333.2" cy="283.56" r="1.75" fill="#ffffff" stroke="#262626" stroke-width="0.75"/>
<circle cx="328.7" cy="282.08" r="1.75" fill="#ffffff" stroke="#262626" stroke-width="0.75"/>
<circle cx="331.7" cy="280.6" r="1.75" fill="#ffffff" stroke="#262626" stroke-width="0.75"/>
<circle cx="327.2" cy="279.11" r="1.75" fill="#ffffff" stroke="#262626" stroke-width="0.75"/>
<circle cx="330.2" cy="277.63" r="1.75" fill="#ffffff" stroke="#262626" stroke-width="0.75"/>
<circle cx="333.2" cy="276.15" r="1.75" fill="#ffffff" stroke="#262626" stroke-width="0.75"/>
<circle cx="328.7" cy="274.66" r="1.75" fill="#ffffff" stroke="#262626" stroke-width="0.75"/>
<circle cx="331.7" cy="273.18" r="1.75" fill="#ffffff" stroke="#262626" stroke-width="0.75"/>
<circle cx="327.2" cy="271.7" r="1.75" fill="#ffffff" stroke="#262626" stroke-width="0.75"/>
<circle cx="330.2" cy="270.21" r="1.75" fill="#ffffff" stroke="#262626" stroke-width="0.75"/>
<circle cx="333.2" cy="268.73" r="1.75" fill="#ffffff" stroke="#262626" stroke-width="0.75"/>
<circle cx="328.7" cy="267.25" r="1.75" fill="#ffffff" stroke="#262626" stroke-width="0.75"/>
<circle cx="331.7" cy="265.76" r="1.75" fill="#ffffff" stroke="#262626" stroke-width="0.75"/>
<circle cx="327.2" cy="264.28" r="1.75" fill="#ffffff" stroke="#262626" stroke-width="0.75"/>
<circle cx="330.2" cy="262.8" r="1.75" fill="#ffffff" stroke="#262626" stroke-width="0.75"/>
<circle cx="333.2" cy="261.31" r="1.75" fill="#ffffff" stroke="#262626" stroke-width="0.75"/>
<circle cx="328.7" cy="259.83" r="1.75" fill="#ffffff" stroke="#262626" stroke-width="0.75"/>
<circle cx="331.7" cy="258.35" r="1.75" fill="#ffffff" stroke="#262626" stroke-width="0.75"/>
<circle cx="327.2" cy="256.86" r="1.75" fill="#ffffff" stroke="#262626" stroke-width="0.75"/>
<circle cx="330.2" cy="255.38" r="1.75" fill="#ffffff" stroke="#262626" stroke-width="0.75"/>
<circle cx="333.2" cy="253.9" r="1.75" fill="#ffffff" stroke="#262626" stroke-width="0.75"/>
<circle cx="328.7" cy="252.41" r="1.75" fill="#ffffff" stroke="#262626" stroke-width="0.75"/>
<circle cx="331.7" cy="250.93" r="1.75" fill="#ffffff" stroke="#262626" stroke-width="0.75"/>
<circle cx="327.2" cy="249.45" r="1.75" fill="#ffffff" stroke="#262626" stroke-width="0.75"/>
<circle cx="330.2" cy="247.96" r="1.75" fill="#ffffff" stroke="#262626" stroke-width="0.75"/>
<circle cx="333.2" cy="246.48" r="1.75" fill="#ffffff" stroke="#262626" stroke-width="0.75"/>
<circle cx="330.2" cy="240.89" r="1.75" fill="#ffffff" stroke="#262626" stroke-width="0.75"/>
<circle cx="330.2" cy="236.05" r="1.75" fill="#ffffff" stroke="#262626" stroke-width="0.75"/>
<circle cx="333.2" cy="234.11" r="1.75" fill="#ffffff" stroke="#262626" stroke-width="0.75"/>
<line x1="303.6" y1="275.77" x2="318.6" y2="275.77" stroke="#222" stroke-width="0.9"/>
<line x1="322.7" y1="265.11" x2="337.7" y2="265.11" stroke="#222" stroke-width="0.9"/>
<line x1="309.8" y1="227" x2="334.3" y2="227" stroke="#262626" stroke-width="0.95"/>
<text x="322.05" y="225.7" font-size="5" text-anchor="middle" fill="#333" stroke="#333" stroke-width="0.12" font-weight="normal" >****</text>
<line x1="373.5" y1="226.5" x2="373.5" y2="306" stroke="#262626" stroke-width="1.15"/>
<line x1="370.9" y1="305.5" x2="373.5" y2="305.5" stroke="#262626" stroke-width="0.9"/>
<text x="367.6" y="307.6" font-size="6.0" text-anchor="end" fill="#4a4a4a" stroke="#4a4a4a" stroke-width="0.12" font-weight="normal" >0</text>
<line x1="370.9" y1="290.06" x2="373.5" y2="290.06" stroke="#262626" stroke-width="0.9"/>
<text x="367.6" y="292.16" font-size="6.0" text-anchor="end" fill="#4a4a4a" stroke="#4a4a4a" stroke-width="0.12" font-weight="normal" >2</text>
<line x1="370.9" y1="274.62" x2="373.5" y2="274.62" stroke="#262626" stroke-width="0.9"/>
<text x="367.6" y="276.72" font-size="6.0" text-anchor="end" fill="#4a4a4a" stroke="#4a4a4a" stroke-width="0.12" font-weight="normal" >4</text>
<line x1="370.9" y1="259.18" x2="373.5" y2="259.18" stroke="#262626" stroke-width="0.9"/>
<text x="367.6" y="261.28" font-size="6.0" text-anchor="end" fill="#4a4a4a" stroke="#4a4a4a" stroke-width="0.12" font-weight="normal" >6</text>
<line x1="370.9" y1="243.74" x2="373.5" y2="243.74" stroke="#262626" stroke-width="0.9"/>
<text x="367.6" y="245.84" font-size="6.0" text-anchor="end" fill="#4a4a4a" stroke="#4a4a4a" stroke-width="0.12" font-weight="normal" >8</text>
<line x1="370.9" y1="228.3" x2="373.5" y2="228.3" stroke="#262626" stroke-width="0.9"/>
<text x="367.6" y="230.4" font-size="6.0" text-anchor="end" fill="#4a4a4a" stroke="#4a4a4a" stroke-width="0.12" font-weight="normal" >10</text>
<line x1="370.9" y1="305.5" x2="451" y2="305.5" stroke="#262626" stroke-width="1.15"/>
<line x1="379.7" y1="276.35" x2="379.7" y2="268.6" stroke="#444" stroke-width="0.8"/>
<line x1="378.4" y1="268.6" x2="381" y2="268.6" stroke="#2a2a2a" stroke-width="0.95"/>
<rect x="377.4" y="276.55" width="4.6" height="29.25" fill="#1f4f8d" stroke="#163a6a" stroke-width="0.45"/>
<line x1="387.4" y1="253.1" x2="387.4" y2="238.38" stroke="#444" stroke-width="0.8"/>
<line x1="386.1" y1="238.38" x2="388.7" y2="238.38" stroke="#2a2a2a" stroke-width="0.95"/>
<rect x="385.1" y="253.3" width="4.6" height="52.5" fill="#1f4f8d" stroke="#163a6a" stroke-width="0.45"/>
<line x1="398.9" y1="290.3" x2="398.9" y2="287.2" stroke="#444" stroke-width="0.8"/>
<line x1="397.6" y1="287.2" x2="400.2" y2="287.2" stroke="#2a2a2a" stroke-width="0.95"/>
<rect x="396.6" y="290.5" width="4.6" height="15.3" fill="#e8978b" stroke="#c8786c" stroke-width="0.45"/>
<line x1="406.7" y1="283.32" x2="406.7" y2="279.45" stroke="#444" stroke-width="0.8"/>
<line x1="405.4" y1="279.45" x2="408" y2="279.45" stroke="#2a2a2a" stroke-width="0.95"/>
<rect x="404.4" y="283.52" width="4.6" height="22.28" fill="#e8978b" stroke="#c8786c" stroke-width="0.45"/>
<line x1="418.3" y1="276.35" x2="418.3" y2="266.28" stroke="#444" stroke-width="0.8"/>
<line x1="417" y1="266.28" x2="419.6" y2="266.28" stroke="#2a2a2a" stroke-width="0.95"/>
<rect x="416" y="276.55" width="4.6" height="29.25" fill="#d9584d" stroke="#b8443a" stroke-width="0.45"/>
<line x1="426" y1="261.62" x2="426" y2="253.88" stroke="#444" stroke-width="0.8"/>
<line x1="424.7" y1="253.88" x2="427.3" y2="253.88" stroke="#2a2a2a" stroke-width="0.95"/>
<rect x="423.7" y="261.82" width="4.6" height="43.98" fill="#d9584d" stroke="#b8443a" stroke-width="0.45"/>
<line x1="437.7" y1="285.65" x2="437.7" y2="282.55" stroke="#444" stroke-width="0.8"/>
<line x1="436.4" y1="282.55" x2="439" y2="282.55" stroke="#2a2a2a" stroke-width="0.95"/>
<rect x="435.4" y="285.85" width="4.6" height="19.95" fill="#c8102e" stroke="#8e0a20" stroke-width="0.45"/>
<line x1="445.5" y1="270.15" x2="445.5" y2="263.18" stroke="#444" stroke-width="0.8"/>
<line x1="444.2" y1="263.18" x2="446.8" y2="263.18" stroke="#2a2a2a" stroke-width="0.95"/>
<rect x="443.2" y="270.35" width="4.6" height="35.45" fill="#c8102e" stroke="#8e0a20" stroke-width="0.45"/>
<line x1="379.7" y1="305.8" x2="379.7" y2="308.3" stroke="#262626" stroke-width="0.8"/>
<line x1="387.4" y1="305.8" x2="387.4" y2="308.3" stroke="#262626" stroke-width="0.8"/>
<line x1="398.9" y1="305.8" x2="398.9" y2="308.3" stroke="#262626" stroke-width="0.8"/>
<line x1="406.7" y1="305.8" x2="406.7" y2="308.3" stroke="#262626" stroke-width="0.8"/>
<line x1="418.3" y1="305.8" x2="418.3" y2="308.3" stroke="#262626" stroke-width="0.8"/>
<line x1="426" y1="305.8" x2="426" y2="308.3" stroke="#262626" stroke-width="0.8"/>
<line x1="437.7" y1="305.8" x2="437.7" y2="308.3" stroke="#262626" stroke-width="0.8"/>
<line x1="445.5" y1="305.8" x2="445.5" y2="308.3" stroke="#262626" stroke-width="0.8"/>
<line x1="381.25" y1="224.1" x2="390.25" y2="224.1" stroke="#262626" stroke-width="0.95"/>
<text x="385.75" y="222.8" font-size="5" text-anchor="middle" fill="#333" stroke="#333" stroke-width="0.12" font-weight="normal" >**</text>
<line x1="417.25" y1="224.75" x2="426.5" y2="224.75" stroke="#262626" stroke-width="0.95"/>
<text x="421.88" y="223.45" font-size="5" text-anchor="middle" fill="#333" stroke="#333" stroke-width="0.12" font-weight="normal" >*</text>
<line x1="439.4" y1="224.1" x2="448.1" y2="224.1" stroke="#262626" stroke-width="0.95"/>
<text x="443.75" y="222.8" font-size="5" text-anchor="middle" fill="#333" stroke="#333" stroke-width="0.12" font-weight="normal" >*</text>
<text transform="translate(355.2,265.5) rotate(-90)" font-size="6.6" text-anchor="middle" fill="#2e2e2e" stroke="#2e2e2e" stroke-width="0.25" textLength="57.5" lengthAdjust="spacingAndGlyphs">% IL-2<tspan font-size="3.6" dy="-2">+</tspan><tspan dy="2"> </tspan> of CD8<tspan font-size="3.6" dy="-2">+</tspan><tspan dy="2"> </tspan>T cells</text>
<line x1="466.5" y1="226.5" x2="466.5" y2="306" stroke="#262626" stroke-width="1.15"/>
<line x1="463.9" y1="305.5" x2="466.5" y2="305.5" stroke="#262626" stroke-width="0.9"/>
<text x="460.6" y="307.6" font-size="6.0" text-anchor="end" fill="#4a4a4a" stroke="#4a4a4a" stroke-width="0.12" font-weight="normal" >0</text>
<line x1="463.9" y1="279.77" x2="466.5" y2="279.77" stroke="#262626" stroke-width="0.9"/>
<text x="460.6" y="281.87" font-size="6.0" text-anchor="end" fill="#4a4a4a" stroke="#4a4a4a" stroke-width="0.12" font-weight="normal" >5</text>
<line x1="463.9" y1="254.03" x2="466.5" y2="254.03" stroke="#262626" stroke-width="0.9"/>
<text x="460.6" y="256.13" font-size="6.0" text-anchor="end" fill="#4a4a4a" stroke="#4a4a4a" stroke-width="0.12" font-weight="normal" >10</text>
<line x1="463.9" y1="228.3" x2="466.5" y2="228.3" stroke="#262626" stroke-width="0.9"/>
<text x="460.6" y="230.4" font-size="6.0" text-anchor="end" fill="#4a4a4a" stroke="#4a4a4a" stroke-width="0.12" font-weight="normal" >15</text>
<line x1="463.9" y1="305.5" x2="510.5" y2="305.5" stroke="#262626" stroke-width="1.15"/>
<line x1="479.1" y1="305.8" x2="479.1" y2="308.3" stroke="#262626" stroke-width="0.8"/>
<line x1="499" y1="305.8" x2="499" y2="308.3" stroke="#262626" stroke-width="0.8"/>
<circle cx="479.1" cy="302.7" r="1.75" fill="#ffffff" stroke="#262626" stroke-width="0.75"/>
<circle cx="482.6" cy="302.64" r="1.75" fill="#ffffff" stroke="#262626" stroke-width="0.75"/>
<circle cx="476.1" cy="301.07" r="1.75" fill="#ffffff" stroke="#262626" stroke-width="0.75"/>
<circle cx="484.6" cy="299.91" r="1.75" fill="#ffffff" stroke="#262626" stroke-width="0.75"/>
<circle cx="479.1" cy="298.96" r="1.75" fill="#ffffff" stroke="#262626" stroke-width="0.75"/>
<circle cx="474.6" cy="298.13" r="1.75" fill="#ffffff" stroke="#262626" stroke-width="0.75"/>
<circle cx="482.1" cy="297.39" r="1.75" fill="#ffffff" stroke="#262626" stroke-width="0.75"/>
<circle cx="484.9" cy="296.69" r="1.75" fill="#ffffff" stroke="#262626" stroke-width="0.75"/>
<circle cx="477.6" cy="296.04" r="1.75" fill="#ffffff" stroke="#262626" stroke-width="0.75"/>
<circle cx="473.3" cy="295.42" r="1.75" fill="#ffffff" stroke="#262626" stroke-width="0.75"/>
<circle cx="484.9" cy="294.81" r="1.75" fill="#ffffff" stroke="#262626" stroke-width="0.75"/>
<circle cx="480.6" cy="294.21" r="1.75" fill="#ffffff" stroke="#262626" stroke-width="0.75"/>
<circle cx="484.9" cy="293.62" r="1.75" fill="#ffffff" stroke="#262626" stroke-width="0.75"/>
<circle cx="476.1" cy="293.02" r="1.75" fill="#ffffff" stroke="#262626" stroke-width="0.75"/>
<circle cx="473.3" cy="292.42" r="1.75" fill="#ffffff" stroke="#262626" stroke-width="0.75"/>
<circle cx="484.9" cy="291.79" r="1.75" fill="#ffffff" stroke="#262626" stroke-width="0.75"/>
<circle cx="479.1" cy="291.14" r="1.75" fill="#ffffff" stroke="#262626" stroke-width="0.75"/>
<circle cx="473.3" cy="290.45" r="1.75" fill="#ffffff" stroke="#262626" stroke-width="0.75"/>
<circle cx="482.1" cy="289.7" r="1.75" fill="#ffffff" stroke="#262626" stroke-width="0.75"/>
<circle cx="476.6" cy="288.87" r="1.75" fill="#ffffff" stroke="#262626" stroke-width="0.75"/>
<circle cx="484.9" cy="287.92" r="1.75" fill="#ffffff" stroke="#262626" stroke-width="0.75"/>
<circle cx="479.1" cy="286.77" r="1.75" fill="#ffffff" stroke="#262626" stroke-width="0.75"/>
<circle cx="482.1" cy="285.2" r="1.75" fill="#ffffff" stroke="#262626" stroke-width="0.75"/>
<circle cx="478.1" cy="283.58" r="1.75" fill="#ffffff" stroke="#262626" stroke-width="0.75"/>
<circle cx="479.6" cy="280.48" r="1.75" fill="#ffffff" stroke="#262626" stroke-width="0.75"/>
<circle cx="476.6" cy="278.42" r="1.75" fill="#ffffff" stroke="#262626" stroke-width="0.75"/>
<circle cx="479.6" cy="276.35" r="1.75" fill="#ffffff" stroke="#262626" stroke-width="0.75"/>
<circle cx="476.6" cy="274.28" r="1.75" fill="#ffffff" stroke="#262626" stroke-width="0.75"/>
<circle cx="479.6" cy="272.22" r="1.75" fill="#ffffff" stroke="#262626" stroke-width="0.75"/>
<circle cx="479.1" cy="268.08" r="1.75" fill="#ffffff" stroke="#262626" stroke-width="0.75"/>
<circle cx="479.1" cy="235.02" r="1.75" fill="#ffffff" stroke="#262626" stroke-width="0.75"/>
<circle cx="499" cy="299.91" r="1.75" fill="#ffffff" stroke="#262626" stroke-width="0.75"/>
<circle cx="502" cy="298.47" r="1.75" fill="#ffffff" stroke="#262626" stroke-width="0.75"/>
<circle cx="497" cy="297.04" r="1.75" fill="#ffffff" stroke="#262626" stroke-width="0.75"/>
<circle cx="500" cy="295.6" r="1.75" fill="#ffffff" stroke="#262626" stroke-width="0.75"/>
<circle cx="503" cy="294.16" r="1.75" fill="#ffffff" stroke="#262626" stroke-width="0.75"/>
<circle cx="498" cy="292.72" r="1.75" fill="#ffffff" stroke="#262626" stroke-width="0.75"/>
<circle cx="501" cy="291.28" r="1.75" fill="#ffffff" stroke="#262626" stroke-width="0.75"/>
<circle cx="496" cy="289.84" r="1.75" fill="#ffffff" stroke="#262626" stroke-width="0.75"/>
<circle cx="499" cy="288.4" r="1.75" fill="#ffffff" stroke="#262626" stroke-width="0.75"/>
<circle cx="502" cy="286.96" r="1.75" fill="#ffffff" stroke="#262626" stroke-width="0.75"/>
<circle cx="497" cy="285.52" r="1.75" fill="#ffffff" stroke="#262626" stroke-width="0.75"/>
<circle cx="500" cy="284.08" r="1.75" fill="#ffffff" stroke="#262626" stroke-width="0.75"/>
<circle cx="503" cy="282.64" r="1.75" fill="#ffffff" stroke="#262626" stroke-width="0.75"/>
<circle cx="498" cy="281.2" r="1.75" fill="#ffffff" stroke="#262626" stroke-width="0.75"/>
<circle cx="501" cy="279.76" r="1.75" fill="#ffffff" stroke="#262626" stroke-width="0.75"/>
<circle cx="496" cy="278.32" r="1.75" fill="#ffffff" stroke="#262626" stroke-width="0.75"/>
<circle cx="499" cy="276.89" r="1.75" fill="#ffffff" stroke="#262626" stroke-width="0.75"/>
<circle cx="502" cy="275.45" r="1.75" fill="#ffffff" stroke="#262626" stroke-width="0.75"/>
<circle cx="497" cy="274.01" r="1.75" fill="#ffffff" stroke="#262626" stroke-width="0.75"/>
<circle cx="500" cy="272.57" r="1.75" fill="#ffffff" stroke="#262626" stroke-width="0.75"/>
<circle cx="503" cy="271.13" r="1.75" fill="#ffffff" stroke="#262626" stroke-width="0.75"/>
<circle cx="498" cy="269.69" r="1.75" fill="#ffffff" stroke="#262626" stroke-width="0.75"/>
<circle cx="501" cy="268.25" r="1.75" fill="#ffffff" stroke="#262626" stroke-width="0.75"/>
<circle cx="496" cy="266.81" r="1.75" fill="#ffffff" stroke="#262626" stroke-width="0.75"/>
<circle cx="499" cy="265.37" r="1.75" fill="#ffffff" stroke="#262626" stroke-width="0.75"/>
<circle cx="502" cy="263.93" r="1.75" fill="#ffffff" stroke="#262626" stroke-width="0.75"/>
<circle cx="497" cy="262.49" r="1.75" fill="#ffffff" stroke="#262626" stroke-width="0.75"/>
<circle cx="500" cy="261.05" r="1.75" fill="#ffffff" stroke="#262626" stroke-width="0.75"/>
<circle cx="499" cy="248.97" r="1.75" fill="#ffffff" stroke="#262626" stroke-width="0.75"/>
<circle cx="502.5" cy="247.93" r="1.75" fill="#ffffff" stroke="#262626" stroke-width="0.75"/>
<line x1="471.6" y1="290.3" x2="486.6" y2="290.3" stroke="#222" stroke-width="0.9"/>
<line x1="491.5" y1="281" x2="506.5" y2="281" stroke="#222" stroke-width="0.9"/>
<line x1="479" y1="225" x2="503.3" y2="225" stroke="#262626" stroke-width="0.95"/>
<text x="491.15" y="223.7" font-size="5" text-anchor="middle" fill="#333" stroke="#333" stroke-width="0.12" font-weight="normal" >****</text>
<line x1="36.5" y1="322.6" x2="36.5" y2="403" stroke="#262626" stroke-width="1.15"/>
<line x1="33.9" y1="402.5" x2="36.5" y2="402.5" stroke="#262626" stroke-width="0.9"/>
<text x="30.6" y="404.6" font-size="6.0" text-anchor="end" fill="#4a4a4a" stroke="#4a4a4a" stroke-width="0.12" font-weight="normal" >0</text>
<line x1="33.9" y1="376.47" x2="36.5" y2="376.47" stroke="#262626" stroke-width="0.9"/>
<text x="30.6" y="378.57" font-size="6.0" text-anchor="end" fill="#4a4a4a" stroke="#4a4a4a" stroke-width="0.12" font-weight="normal" >5</text>
<line x1="33.9" y1="350.43" x2="36.5" y2="350.43" stroke="#262626" stroke-width="0.9"/>
<text x="30.6" y="352.53" font-size="6.0" text-anchor="end" fill="#4a4a4a" stroke="#4a4a4a" stroke-width="0.12" font-weight="normal" >10</text>
<line x1="33.9" y1="324.4" x2="36.5" y2="324.4" stroke="#262626" stroke-width="0.9"/>
<text x="30.6" y="326.5" font-size="6.0" text-anchor="end" fill="#4a4a4a" stroke="#4a4a4a" stroke-width="0.12" font-weight="normal" >15</text>
<line x1="33.9" y1="402.5" x2="114" y2="402.5" stroke="#262626" stroke-width="1.15"/>
<line x1="42.7" y1="351.89" x2="42.7" y2="334.77" stroke="#444" stroke-width="0.8"/>
<line x1="41.4" y1="334.77" x2="44" y2="334.77" stroke="#2a2a2a" stroke-width="0.95"/>
<rect x="40.4" y="352.09" width="4.6" height="50.11" fill="#1f4f8d" stroke="#163a6a" stroke-width="0.45"/>
<line x1="50.4" y1="370.56" x2="50.4" y2="357.59" stroke="#444" stroke-width="0.8"/>
<line x1="49.1" y1="357.59" x2="51.7" y2="357.59" stroke="#2a2a2a" stroke-width="0.95"/>
<rect x="48.1" y="370.76" width="4.6" height="31.44" fill="#1f4f8d" stroke="#163a6a" stroke-width="0.45"/>
<line x1="61.9" y1="367.97" x2="61.9" y2="355.52" stroke="#444" stroke-width="0.8"/>
<line x1="60.6" y1="355.52" x2="63.2" y2="355.52" stroke="#2a2a2a" stroke-width="0.95"/>
<rect x="59.6" y="368.17" width="4.6" height="34.03" fill="#e8978b" stroke="#c8786c" stroke-width="0.45"/>
<line x1="69.7" y1="376.27" x2="69.7" y2="366.41" stroke="#444" stroke-width="0.8"/>
<line x1="68.4" y1="366.41" x2="71" y2="366.41" stroke="#2a2a2a" stroke-width="0.95"/>
<rect x="67.4" y="376.47" width="4.6" height="25.73" fill="#e8978b" stroke="#c8786c" stroke-width="0.45"/>
<line x1="81.3" y1="376.79" x2="81.3" y2="371.08" stroke="#444" stroke-width="0.8"/>
<line x1="80" y1="371.08" x2="82.6" y2="371.08" stroke="#2a2a2a" stroke-width="0.95"/>
<rect x="79" y="376.99" width="4.6" height="25.21" fill="#d9584d" stroke="#b8443a" stroke-width="0.45"/>
<line x1="89" y1="376.79" x2="89" y2="372.12" stroke="#444" stroke-width="0.8"/>
<line x1="87.7" y1="372.12" x2="90.3" y2="372.12" stroke="#2a2a2a" stroke-width="0.95"/>
<rect x="86.7" y="376.99" width="4.6" height="25.21" fill="#d9584d" stroke="#b8443a" stroke-width="0.45"/>
<line x1="100.7" y1="386.64" x2="100.7" y2="383.53" stroke="#444" stroke-width="0.8"/>
<line x1="99.4" y1="383.53" x2="102" y2="383.53" stroke="#2a2a2a" stroke-width="0.95"/>
<rect x="98.4" y="386.84" width="4.6" height="15.36" fill="#c8102e" stroke="#8e0a20" stroke-width="0.45"/>
<line x1="108.5" y1="373.15" x2="108.5" y2="362.26" stroke="#444" stroke-width="0.8"/>
<line x1="107.2" y1="362.26" x2="109.8" y2="362.26" stroke="#2a2a2a" stroke-width="0.95"/>
<rect x="106.2" y="373.35" width="4.6" height="28.85" fill="#c8102e" stroke="#8e0a20" stroke-width="0.45"/>
<line x1="42.7" y1="402.2" x2="42.7" y2="404.7" stroke="#262626" stroke-width="0.8"/>
<line x1="50.4" y1="402.2" x2="50.4" y2="404.7" stroke="#262626" stroke-width="0.8"/>
<line x1="61.9" y1="402.2" x2="61.9" y2="404.7" stroke="#262626" stroke-width="0.8"/>
<line x1="69.7" y1="402.2" x2="69.7" y2="404.7" stroke="#262626" stroke-width="0.8"/>
<line x1="81.3" y1="402.2" x2="81.3" y2="404.7" stroke="#262626" stroke-width="0.8"/>
<line x1="89" y1="402.2" x2="89" y2="404.7" stroke="#262626" stroke-width="0.8"/>
<line x1="100.7" y1="402.2" x2="100.7" y2="404.7" stroke="#262626" stroke-width="0.8"/>
<line x1="108.5" y1="402.2" x2="108.5" y2="404.7" stroke="#262626" stroke-width="0.8"/>
<text transform="translate(19.2,362) rotate(-90)" font-size="6.6" text-anchor="middle" fill="#2e2e2e" stroke="#2e2e2e" stroke-width="0.25" textLength="61.3" lengthAdjust="spacingAndGlyphs">% IFN-γ<tspan font-size="3.6" dy="-2">+</tspan><tspan dy="2"> </tspan> of CD4<tspan font-size="3.6" dy="-2">+</tspan><tspan dy="2"> </tspan>T cells</text>
<text transform="translate(45.1,410.4) rotate(-45)" font-size="5.9" text-anchor="end" fill="#404040" stroke="#404040" stroke-width="0.15">BM</text>
<text transform="translate(52.8,410.4) rotate(-45)" font-size="5.9" text-anchor="end" fill="#404040" stroke="#404040" stroke-width="0.15">PB</text>
<text transform="translate(64.3,410.4) rotate(-45)" font-size="5.9" text-anchor="end" fill="#404040" stroke="#404040" stroke-width="0.15">BM</text>
<text transform="translate(72.1,410.4) rotate(-45)" font-size="5.9" text-anchor="end" fill="#404040" stroke="#404040" stroke-width="0.15">PB</text>
<text transform="translate(83.7,410.4) rotate(-45)" font-size="5.9" text-anchor="end" fill="#404040" stroke="#404040" stroke-width="0.15">BM</text>
<text transform="translate(91.4,410.4) rotate(-45)" font-size="5.9" text-anchor="end" fill="#404040" stroke="#404040" stroke-width="0.15">PB</text>
<text transform="translate(103.1,410.4) rotate(-45)" font-size="5.9" text-anchor="end" fill="#404040" stroke="#404040" stroke-width="0.15">BM</text>
<text transform="translate(110.9,410.4) rotate(-45)" font-size="5.9" text-anchor="end" fill="#404040" stroke="#404040" stroke-width="0.15">PB</text>
<line x1="131.5" y1="322.6" x2="131.5" y2="403" stroke="#262626" stroke-width="1.15"/>
<line x1="128.9" y1="402.5" x2="131.5" y2="402.5" stroke="#262626" stroke-width="0.9"/>
<text x="125.6" y="404.6" font-size="6.0" text-anchor="end" fill="#4a4a4a" stroke="#4a4a4a" stroke-width="0.12" font-weight="normal" >0</text>
<line x1="128.9" y1="382.98" x2="131.5" y2="382.98" stroke="#262626" stroke-width="0.9"/>
<text x="125.6" y="385.08" font-size="6.0" text-anchor="end" fill="#4a4a4a" stroke="#4a4a4a" stroke-width="0.12" font-weight="normal" >10</text>
<line x1="128.9" y1="363.45" x2="131.5" y2="363.45" stroke="#262626" stroke-width="0.9"/>
<text x="125.6" y="365.55" font-size="6.0" text-anchor="end" fill="#4a4a4a" stroke="#4a4a4a" stroke-width="0.12" font-weight="normal" >20</text>
<line x1="128.9" y1="343.92" x2="131.5" y2="343.92" stroke="#262626" stroke-width="0.9"/>
<text x="125.6" y="346.02" font-size="6.0" text-anchor="end" fill="#4a4a4a" stroke="#4a4a4a" stroke-width="0.12" font-weight="normal" >30</text>
<line x1="128.9" y1="324.4" x2="131.5" y2="324.4" stroke="#262626" stroke-width="0.9"/>
<text x="125.6" y="326.5" font-size="6.0" text-anchor="end" fill="#4a4a4a" stroke="#4a4a4a" stroke-width="0.12" font-weight="normal" >40</text>
<line x1="128.9" y1="402.5" x2="177.5" y2="402.5" stroke="#262626" stroke-width="1.15"/>
<line x1="144.5" y1="402.2" x2="144.5" y2="404.7" stroke="#262626" stroke-width="0.8"/>
<line x1="163.9" y1="402.2" x2="163.9" y2="404.7" stroke="#262626" stroke-width="0.8"/>
<circle cx="144.5" cy="401.59" r="1.75" fill="#ffffff" stroke="#262626" stroke-width="0.75"/>
<circle cx="148" cy="401.45" r="1.75" fill="#ffffff" stroke="#262626" stroke-width="0.75"/>
<circle cx="141" cy="401.21" r="1.75" fill="#ffffff" stroke="#262626" stroke-width="0.75"/>
<circle cx="150.3" cy="400.9" r="1.75" fill="#ffffff" stroke="#262626" stroke-width="0.75"/>
<circle cx="138.7" cy="400.51" r="1.75" fill="#ffffff" stroke="#262626" stroke-width="0.75"/>
<circle cx="150.3" cy="400.06" r="1.75" fill="#ffffff" stroke="#262626" stroke-width="0.75"/>
<circle cx="138.7" cy="399.55" r="1.75" fill="#ffffff" stroke="#262626" stroke-width="0.75"/>
<circle cx="150.3" cy="398.99" r="1.75" fill="#ffffff" stroke="#262626" stroke-width="0.75"/>
<circle cx="145" cy="398.36" r="1.75" fill="#ffffff" stroke="#262626" stroke-width="0.75"/>
<circle cx="141.5" cy="397.68" r="1.75" fill="#ffffff" stroke="#262626" stroke-width="0.75"/>
<circle cx="138.7" cy="396.95" r="1.75" fill="#ffffff" stroke="#262626" stroke-width="0.75"/>
<circle cx="147.5" cy="396.17" r="1.75" fill="#ffffff" stroke="#262626" stroke-width="0.75"/>
<circle cx="150.3" cy="395.35" r="1.75" fill="#ffffff" stroke="#262626" stroke-width="0.75"/>
<circle cx="144.5" cy="394.47" r="1.75" fill="#ffffff" stroke="#262626" stroke-width="0.75"/>
<circle cx="141" cy="393.55" r="1.75" fill="#ffffff" stroke="#262626" stroke-width="0.75"/>
<circle cx="147.5" cy="392.58" r="1.75" fill="#ffffff" stroke="#262626" stroke-width="0.75"/>
<circle cx="150.3" cy="391.56" r="1.75" fill="#ffffff" stroke="#262626" stroke-width="0.75"/>
<circle cx="144.5" cy="390.51" r="1.75" fill="#ffffff" stroke="#262626" stroke-width="0.75"/>
<circle cx="141" cy="389.41" r="1.75" fill="#ffffff" stroke="#262626" stroke-width="0.75"/>
<circle cx="147" cy="388.26" r="1.75" fill="#ffffff" stroke="#262626" stroke-width="0.75"/>
<circle cx="143.5" cy="387.08" r="1.75" fill="#ffffff" stroke="#262626" stroke-width="0.75"/>
<circle cx="140" cy="385.85" r="1.75" fill="#ffffff" stroke="#262626" stroke-width="0.75"/>
<circle cx="146" cy="384.58" r="1.75" fill="#ffffff" stroke="#262626" stroke-width="0.75"/>
<circle cx="143" cy="383.28" r="1.75" fill="#ffffff" stroke="#262626" stroke-width="0.75"/>
<circle cx="148" cy="381.93" r="1.75" fill="#ffffff" stroke="#262626" stroke-width="0.75"/>
<circle cx="145" cy="380.55" r="1.75" fill="#ffffff" stroke="#262626" stroke-width="0.75"/>
<circle cx="142" cy="379.12" r="1.75" fill="#ffffff" stroke="#262626" stroke-width="0.75"/>
<circle cx="147" cy="377.66" r="1.75" fill="#ffffff" stroke="#262626" stroke-width="0.75"/>
<circle cx="144.5" cy="361.35" r="1.75" fill="#ffffff" stroke="#262626" stroke-width="0.75"/>
<circle cx="144.5" cy="345.79" r="1.75" fill="#ffffff" stroke="#262626" stroke-width="0.75"/>
<circle cx="163.9" cy="401.55" r="1.75" fill="#ffffff" stroke="#262626" stroke-width="0.75"/>
<circle cx="167.4" cy="401.25" r="1.75" fill="#ffffff" stroke="#262626" stroke-width="0.75"/>
<circle cx="160.4" cy="400.82" r="1.75" fill="#ffffff" stroke="#262626" stroke-width="0.75"/>
<circle cx="169.7" cy="400.3" r="1.75" fill="#ffffff" stroke="#262626" stroke-width="0.75"/>
<circle cx="158.1" cy="399.69" r="1.75" fill="#ffffff" stroke="#262626" stroke-width="0.75"/>
<circle cx="169.7" cy="399.01" r="1.75" fill="#ffffff" stroke="#262626" stroke-width="0.75"/>
<circle cx="163.9" cy="398.27" r="1.75" fill="#ffffff" stroke="#262626" stroke-width="0.75"/>
<circle cx="158.1" cy="397.47" r="1.75" fill="#ffffff" stroke="#262626" stroke-width="0.75"/>
<circle cx="166.9" cy="396.62" r="1.75" fill="#ffffff" stroke="#262626" stroke-width="0.75"/>
<circle cx="161.4" cy="395.71" r="1.75" fill="#ffffff" stroke="#262626" stroke-width="0.75"/>
<circle cx="169.7" cy="394.75" r="1.75" fill="#ffffff" stroke="#262626" stroke-width="0.75"/>
<circle cx="164.4" cy="393.75" r="1.75" fill="#ffffff" stroke="#262626" stroke-width="0.75"/>
<circle cx="159.9" cy="392.7" r="1.75" fill="#ffffff" stroke="#262626" stroke-width="0.75"/>
<circle cx="166.9" cy="391.61" r="1.75" fill="#ffffff" stroke="#262626" stroke-width="0.75"/>
<circle cx="163.4" cy="390.47" r="1.75" fill="#ffffff" stroke="#262626" stroke-width="0.75"/>
<circle cx="159.9" cy="389.3" r="1.75" fill="#ffffff" stroke="#262626" stroke-width="0.75"/>
<circle cx="165.9" cy="388.09" r="1.75" fill="#ffffff" stroke="#262626" stroke-width="0.75"/>
<circle cx="162.4" cy="386.84" r="1.75" fill="#ffffff" stroke="#262626" stroke-width="0.75"/>
<circle cx="168.4" cy="385.56" r="1.75" fill="#ffffff" stroke="#262626" stroke-width="0.75"/>
<circle cx="164.4" cy="384.24" r="1.75" fill="#ffffff" stroke="#262626" stroke-width="0.75"/>
<circle cx="161.4" cy="382.88" r="1.75" fill="#ffffff" stroke="#262626" stroke-width="0.75"/>
<circle cx="166.4" cy="381.5" r="1.75" fill="#ffffff" stroke="#262626" stroke-width="0.75"/>
<circle cx="163.4" cy="380.08" r="1.75" fill="#ffffff" stroke="#262626" stroke-width="0.75"/>
<circle cx="160.4" cy="378.63" r="1.75" fill="#ffffff" stroke="#262626" stroke-width="0.75"/>
<circle cx="163.9" cy="369.13" r="1.75" fill="#ffffff" stroke="#262626" stroke-width="0.75"/>
<circle cx="163.9" cy="347.74" r="1.75" fill="#ffffff" stroke="#262626" stroke-width="0.75"/>
<line x1="137" y1="391.5" x2="152" y2="391.5" stroke="#222" stroke-width="0.9"/>
<line x1="156.4" y1="390.53" x2="171.4" y2="390.53" stroke="#222" stroke-width="0.9"/>
<text transform="translate(146.9,410.4) rotate(-45)" font-size="5.9" text-anchor="end" fill="#404040" stroke="#404040" stroke-width="0.15">BM</text>
<text transform="translate(166.3,410.4) rotate(-45)" font-size="5.9" text-anchor="end" fill="#404040" stroke="#404040" stroke-width="0.15">PB</text>
<line x1="203.5" y1="322.6" x2="203.5" y2="403" stroke="#262626" stroke-width="1.15"/>
<line x1="200.9" y1="402.5" x2="203.5" y2="402.5" stroke="#262626" stroke-width="0.9"/>
<text x="197.6" y="404.6" font-size="6.0" text-anchor="end" fill="#4a4a4a" stroke="#4a4a4a" stroke-width="0.12" font-weight="normal" >0</text>
<line x1="200.9" y1="386.88" x2="203.5" y2="386.88" stroke="#262626" stroke-width="0.9"/>
<text x="197.6" y="388.98" font-size="6.0" text-anchor="end" fill="#4a4a4a" stroke="#4a4a4a" stroke-width="0.12" font-weight="normal" >10</text>
<line x1="200.9" y1="371.26" x2="203.5" y2="371.26" stroke="#262626" stroke-width="0.9"/>
<text x="197.6" y="373.36" font-size="6.0" text-anchor="end" fill="#4a4a4a" stroke="#4a4a4a" stroke-width="0.12" font-weight="normal" >20</text>
<line x1="200.9" y1="355.64" x2="203.5" y2="355.64" stroke="#262626" stroke-width="0.9"/>
<text x="197.6" y="357.74" font-size="6.0" text-anchor="end" fill="#4a4a4a" stroke="#4a4a4a" stroke-width="0.12" font-weight="normal" >30</text>
<line x1="200.9" y1="340.02" x2="203.5" y2="340.02" stroke="#262626" stroke-width="0.9"/>
<text x="197.6" y="342.12" font-size="6.0" text-anchor="end" fill="#4a4a4a" stroke="#4a4a4a" stroke-width="0.12" font-weight="normal" >40</text>
<line x1="200.9" y1="324.4" x2="203.5" y2="324.4" stroke="#262626" stroke-width="0.9"/>
<text x="197.6" y="326.5" font-size="6.0" text-anchor="end" fill="#4a4a4a" stroke="#4a4a4a" stroke-width="0.12" font-weight="normal" >50</text>
<line x1="200.9" y1="402.5" x2="281.5" y2="402.5" stroke="#262626" stroke-width="1.15"/>
<line x1="209.3" y1="351.94" x2="209.3" y2="343.85" stroke="#444" stroke-width="0.8"/>
<line x1="208" y1="343.85" x2="210.6" y2="343.85" stroke="#2a2a2a" stroke-width="0.95"/>
<rect x="207" y="352.14" width="4.6" height="50.06" fill="#1f4f8d" stroke="#163a6a" stroke-width="0.45"/>
<line x1="217" y1="354.9" x2="217" y2="349.3" stroke="#444" stroke-width="0.8"/>
<line x1="215.7" y1="349.3" x2="218.3" y2="349.3" stroke="#2a2a2a" stroke-width="0.95"/>
<rect x="214.7" y="355.1" width="4.6" height="47.1" fill="#1f4f8d" stroke="#163a6a" stroke-width="0.45"/>
<line x1="228.5" y1="350.23" x2="228.5" y2="344.16" stroke="#444" stroke-width="0.8"/>
<line x1="227.2" y1="344.16" x2="229.8" y2="344.16" stroke="#2a2a2a" stroke-width="0.95"/>
<rect x="226.2" y="350.43" width="4.6" height="51.77" fill="#e8978b" stroke="#c8786c" stroke-width="0.45"/>
<line x1="236.3" y1="340.74" x2="236.3" y2="333.74" stroke="#444" stroke-width="0.8"/>
<line x1="235" y1="333.74" x2="237.6" y2="333.74" stroke="#2a2a2a" stroke-width="0.95"/>
<rect x="234" y="340.94" width="4.6" height="61.26" fill="#e8978b" stroke="#c8786c" stroke-width="0.45"/>
<line x1="247.9" y1="356.3" x2="247.9" y2="351.47" stroke="#444" stroke-width="0.8"/>
<line x1="246.6" y1="351.47" x2="249.2" y2="351.47" stroke="#2a2a2a" stroke-width="0.95"/>
<rect x="245.6" y="356.5" width="4.6" height="45.7" fill="#d9584d" stroke="#b8443a" stroke-width="0.45"/>
<line x1="255.6" y1="348.98" x2="255.6" y2="342.29" stroke="#444" stroke-width="0.8"/>
<line x1="254.3" y1="342.29" x2="256.9" y2="342.29" stroke="#2a2a2a" stroke-width="0.95"/>
<rect x="253.3" y="349.18" width="4.6" height="53.02" fill="#d9584d" stroke="#b8443a" stroke-width="0.45"/>
<line x1="267.3" y1="350.85" x2="267.3" y2="343.54" stroke="#444" stroke-width="0.8"/>
<line x1="266" y1="343.54" x2="268.6" y2="343.54" stroke="#2a2a2a" stroke-width="0.95"/>
<rect x="265" y="351.05" width="4.6" height="51.15" fill="#c8102e" stroke="#8e0a20" stroke-width="0.45"/>
<line x1="275.1" y1="348.05" x2="275.1" y2="340.74" stroke="#444" stroke-width="0.8"/>
<line x1="273.8" y1="340.74" x2="276.4" y2="340.74" stroke="#2a2a2a" stroke-width="0.95"/>
<rect x="272.8" y="348.25" width="4.6" height="53.95" fill="#c8102e" stroke="#8e0a20" stroke-width="0.45"/>
<line x1="209.3" y1="402.2" x2="209.3" y2="404.7" stroke="#262626" stroke-width="0.8"/>
<line x1="217" y1="402.2" x2="217" y2="404.7" stroke="#262626" stroke-width="0.8"/>
<line x1="228.5" y1="402.2" x2="228.5" y2="404.7" stroke="#262626" stroke-width="0.8"/>
<line x1="236.3" y1="402.2" x2="236.3" y2="404.7" stroke="#262626" stroke-width="0.8"/>
<line x1="247.9" y1="402.2" x2="247.9" y2="404.7" stroke="#262626" stroke-width="0.8"/>
<line x1="255.6" y1="402.2" x2="255.6" y2="404.7" stroke="#262626" stroke-width="0.8"/>
<line x1="267.3" y1="402.2" x2="267.3" y2="404.7" stroke="#262626" stroke-width="0.8"/>
<line x1="275.1" y1="402.2" x2="275.1" y2="404.7" stroke="#262626" stroke-width="0.8"/>
<text transform="translate(185.5,364) rotate(-90)" font-size="6.6" text-anchor="middle" fill="#2e2e2e" stroke="#2e2e2e" stroke-width="0.25" textLength="65" lengthAdjust="spacingAndGlyphs">% TNF-α<tspan font-size="3.6" dy="-2">+</tspan><tspan dy="2"> </tspan> of CD4<tspan font-size="3.6" dy="-2">+</tspan><tspan dy="2"> </tspan>T cells</text>
<text transform="translate(211.7,410.4) rotate(-45)" font-size="5.9" text-anchor="end" fill="#404040" stroke="#404040" stroke-width="0.15">BM</text>
<text transform="translate(219.4,410.4) rotate(-45)" font-size="5.9" text-anchor="end" fill="#404040" stroke="#404040" stroke-width="0.15">PB</text>
<text transform="translate(230.9,410.4) rotate(-45)" font-size="5.9" text-anchor="end" fill="#404040" stroke="#404040" stroke-width="0.15">BM</text>
<text transform="translate(238.7,410.4) rotate(-45)" font-size="5.9" text-anchor="end" fill="#404040" stroke="#404040" stroke-width="0.15">PB</text>
<text transform="translate(250.3,410.4) rotate(-45)" font-size="5.9" text-anchor="end" fill="#404040" stroke="#404040" stroke-width="0.15">BM</text>
<text transform="translate(258,410.4) rotate(-45)" font-size="5.9" text-anchor="end" fill="#404040" stroke="#404040" stroke-width="0.15">PB</text>
<text transform="translate(269.7,410.4) rotate(-45)" font-size="5.9" text-anchor="end" fill="#404040" stroke="#404040" stroke-width="0.15">BM</text>
<text transform="translate(277.5,410.4) rotate(-45)" font-size="5.9" text-anchor="end" fill="#404040" stroke="#404040" stroke-width="0.15">PB</text>
<line x1="297.5" y1="322.6" x2="297.5" y2="403" stroke="#262626" stroke-width="1.15"/>
<line x1="294.9" y1="402.5" x2="297.5" y2="402.5" stroke="#262626" stroke-width="0.9"/>
<text x="291.6" y="404.6" font-size="6.0" text-anchor="end" fill="#4a4a4a" stroke="#4a4a4a" stroke-width="0.12" font-weight="normal" >0</text>
<line x1="294.9" y1="386.88" x2="297.5" y2="386.88" stroke="#262626" stroke-width="0.9"/>
<text x="291.6" y="388.98" font-size="6.0" text-anchor="end" fill="#4a4a4a" stroke="#4a4a4a" stroke-width="0.12" font-weight="normal" >20</text>
<line x1="294.9" y1="371.26" x2="297.5" y2="371.26" stroke="#262626" stroke-width="0.9"/>
<text x="291.6" y="373.36" font-size="6.0" text-anchor="end" fill="#4a4a4a" stroke="#4a4a4a" stroke-width="0.12" font-weight="normal" >40</text>
<line x1="294.9" y1="355.64" x2="297.5" y2="355.64" stroke="#262626" stroke-width="0.9"/>
<text x="291.6" y="357.74" font-size="6.0" text-anchor="end" fill="#4a4a4a" stroke="#4a4a4a" stroke-width="0.12" font-weight="normal" >60</text>
<line x1="294.9" y1="340.02" x2="297.5" y2="340.02" stroke="#262626" stroke-width="0.9"/>
<text x="291.6" y="342.12" font-size="6.0" text-anchor="end" fill="#4a4a4a" stroke="#4a4a4a" stroke-width="0.12" font-weight="normal" >80</text>
<line x1="294.9" y1="324.4" x2="297.5" y2="324.4" stroke="#262626" stroke-width="0.9"/>
<text x="291.6" y="326.5" font-size="6.0" text-anchor="end" fill="#4a4a4a" stroke="#4a4a4a" stroke-width="0.12" font-weight="normal" >100</text>
<line x1="294.9" y1="402.5" x2="344" y2="402.5" stroke="#262626" stroke-width="1.15"/>
<line x1="311.1" y1="402.2" x2="311.1" y2="404.7" stroke="#262626" stroke-width="0.8"/>
<line x1="330.2" y1="402.2" x2="330.2" y2="404.7" stroke="#262626" stroke-width="0.8"/>
<circle cx="311.1" cy="392.47" r="1.75" fill="#ffffff" stroke="#262626" stroke-width="0.75"/>
<circle cx="311.1" cy="389.14" r="1.75" fill="#ffffff" stroke="#262626" stroke-width="0.75"/>
<circle cx="314.1" cy="387.35" r="1.75" fill="#ffffff" stroke="#262626" stroke-width="0.75"/>
<circle cx="309.6" cy="386.04" r="1.75" fill="#ffffff" stroke="#262626" stroke-width="0.75"/>
<circle cx="306.1" cy="384.98" r="1.75" fill="#ffffff" stroke="#262626" stroke-width="0.75"/>
<circle cx="312.6" cy="384.08" r="1.75" fill="#ffffff" stroke="#262626" stroke-width="0.75"/>
<circle cx="316.1" cy="383.27" r="1.75" fill="#ffffff" stroke="#262626" stroke-width="0.75"/>
<circle cx="309.6" cy="382.54" r="1.75" fill="#ffffff" stroke="#262626" stroke-width="0.75"/>
<circle cx="305.3" cy="381.86" r="1.75" fill="#ffffff" stroke="#262626" stroke-width="0.75"/>
<circle cx="316.9" cy="381.22" r="1.75" fill="#ffffff" stroke="#262626" stroke-width="0.75"/>
<circle cx="312.6" cy="380.61" r="1.75" fill="#ffffff" stroke="#262626" stroke-width="0.75"/>
<circle cx="316.9" cy="380.03" r="1.75" fill="#ffffff" stroke="#262626" stroke-width="0.75"/>
<circle cx="308.1" cy="379.47" r="1.75" fill="#ffffff" stroke="#262626" stroke-width="0.75"/>
<circle cx="305.3" cy="378.91" r="1.75" fill="#ffffff" stroke="#262626" stroke-width="0.75"/>
<circle cx="316.9" cy="378.37" r="1.75" fill="#ffffff" stroke="#262626" stroke-width="0.75"/>
<circle cx="305.3" cy="377.84" r="1.75" fill="#ffffff" stroke="#262626" stroke-width="0.75"/>
<circle cx="311.1" cy="377.3" r="1.75" fill="#ffffff" stroke="#262626" stroke-width="0.75"/>
<circle cx="316.9" cy="376.77" r="1.75" fill="#ffffff" stroke="#262626" stroke-width="0.75"/>
<circle cx="305.3" cy="376.24" r="1.75" fill="#ffffff" stroke="#262626" stroke-width="0.75"/>
<circle cx="316.9" cy="375.69" r="1.75" fill="#ffffff" stroke="#262626" stroke-width="0.75"/>
<circle cx="313.6" cy="375.14" r="1.75" fill="#ffffff" stroke="#262626" stroke-width="0.75"/>
<circle cx="309.1" cy="374.58" r="1.75" fill="#ffffff" stroke="#262626" stroke-width="0.75"/>
<circle cx="305.3" cy="373.99" r="1.75" fill="#ffffff" stroke="#262626" stroke-width="0.75"/>
<circle cx="316.9" cy="373.39" r="1.75" fill="#ffffff" stroke="#262626" stroke-width="0.75"/>
<circle cx="305.3" cy="372.75" r="1.75" fill="#ffffff" stroke="#262626" stroke-width="0.75"/>
<circle cx="311.6" cy="372.07" r="1.75" fill="#ffffff" stroke="#262626" stroke-width="0.75"/>
<circle cx="316.9" cy="371.33" r="1.75" fill="#ffffff" stroke="#262626" stroke-width="0.75"/>
<circle cx="308.6" cy="370.53" r="1.75" fill="#ffffff" stroke="#262626" stroke-width="0.75"/>
<circle cx="314.1" cy="369.62" r="1.75" fill="#ffffff" stroke="#262626" stroke-width="0.75"/>
<circle cx="305.6" cy="368.57" r="1.75" fill="#ffffff" stroke="#262626" stroke-width="0.75"/>
<circle cx="311.1" cy="367.26" r="1.75" fill="#ffffff" stroke="#262626" stroke-width="0.75"/>
<circle cx="314.1" cy="365.47" r="1.75" fill="#ffffff" stroke="#262626" stroke-width="0.75"/>
<circle cx="311.1" cy="363.3" r="1.75" fill="#ffffff" stroke="#262626" stroke-width="0.75"/>
<circle cx="311.1" cy="357.08" r="1.75" fill="#ffffff" stroke="#262626" stroke-width="0.75"/>
<circle cx="311.1" cy="343.85" r="1.75" fill="#ffffff" stroke="#262626" stroke-width="0.75"/>
<circle cx="330.2" cy="390.53" r="1.75" fill="#ffffff" stroke="#262626" stroke-width="0.75"/>
<circle cx="333.2" cy="389.05" r="1.75" fill="#ffffff" stroke="#262626" stroke-width="0.75"/>
<circle cx="330.2" cy="386.81" r="1.75" fill="#ffffff" stroke="#262626" stroke-width="0.75"/>
<circle cx="333.2" cy="385.17" r="1.75" fill="#ffffff" stroke="#262626" stroke-width="0.75"/>
<circle cx="328.7" cy="383.84" r="1.75" fill="#ffffff" stroke="#262626" stroke-width="0.75"/>
<circle cx="325.2" cy="382.7" r="1.75" fill="#ffffff" stroke="#262626" stroke-width="0.75"/>
<circle cx="331.2" cy="381.68" r="1.75" fill="#ffffff" stroke="#262626" stroke-width="0.75"/>
<circle cx="334.7" cy="380.74" r="1.75" fill="#ffffff" stroke="#262626" stroke-width="0.75"/>
<circle cx="328.2" cy="379.87" r="1.75" fill="#ffffff" stroke="#262626" stroke-width="0.75"/>
<circle cx="324.7" cy="379.05" r="1.75" fill="#ffffff" stroke="#262626" stroke-width="0.75"/>
<circle cx="331.2" cy="378.27" r="1.75" fill="#ffffff" stroke="#262626" stroke-width="0.75"/>
<circle cx="335.2" cy="377.51" r="1.75" fill="#ffffff" stroke="#262626" stroke-width="0.75"/>
<circle cx="324.4" cy="376.77" r="1.75" fill="#ffffff" stroke="#262626" stroke-width="0.75"/>
<circle cx="328.7" cy="376.05" r="1.75" fill="#ffffff" stroke="#262626" stroke-width="0.75"/>
<circle cx="332.7" cy="375.33" r="1.75" fill="#ffffff" stroke="#262626" stroke-width="0.75"/>
<circle cx="336" cy="374.61" r="1.75" fill="#ffffff" stroke="#262626" stroke-width="0.75"/>
<circle cx="326.2" cy="373.89" r="1.75" fill="#ffffff" stroke="#262626" stroke-width="0.75"/>
<circle cx="324.4" cy="373.17" r="1.75" fill="#ffffff" stroke="#262626" stroke-width="0.75"/>
<circle cx="330.2" cy="372.43" r="1.75" fill="#ffffff" stroke="#262626" stroke-width="0.75"/>
<circle cx="333.7" cy="371.67" r="1.75" fill="#ffffff" stroke="#262626" stroke-width="0.75"/>
<circle cx="336" cy="370.89" r="1.75" fill="#ffffff" stroke="#262626" stroke-width="0.75"/>
<circle cx="327.7" cy="370.07" r="1.75" fill="#ffffff" stroke="#262626" stroke-width="0.75"/>
<circle cx="331.2" cy="369.2" r="1.75" fill="#ffffff" stroke="#262626" stroke-width="0.75"/>
<circle cx="324.7" cy="368.26" r="1.75" fill="#ffffff" stroke="#262626" stroke-width="0.75"/>
<circle cx="334.2" cy="367.24" r="1.75" fill="#ffffff" stroke="#262626" stroke-width="0.75"/>
<circle cx="329.7" cy="366.1" r="1.75" fill="#ffffff" stroke="#262626" stroke-width="0.75"/>
<circle cx="326.7" cy="364.77" r="1.75" fill="#ffffff" stroke="#262626" stroke-width="0.75"/>
<circle cx="331.2" cy="363.13" r="1.75" fill="#ffffff" stroke="#262626" stroke-width="0.75"/>
<circle cx="328.7" cy="360.89" r="1.75" fill="#ffffff" stroke="#262626" stroke-width="0.75"/>
<circle cx="330.2" cy="356.76" r="1.75" fill="#ffffff" stroke="#262626" stroke-width="0.75"/>
<circle cx="330.2" cy="343.07" r="1.75" fill="#ffffff" stroke="#262626" stroke-width="0.75"/>
<line x1="303.6" y1="377.3" x2="318.6" y2="377.3" stroke="#222" stroke-width="0.9"/>
<line x1="322.7" y1="374.97" x2="337.7" y2="374.97" stroke="#222" stroke-width="0.9"/>
<line x1="309.8" y1="324.1" x2="333" y2="324.1" stroke="#262626" stroke-width="0.95"/>
<text x="321.4" y="322.8" font-size="5" text-anchor="middle" fill="#333" stroke="#333" stroke-width="0.12" font-weight="normal" >*</text>
<text transform="translate(313.5,410.4) rotate(-45)" font-size="5.9" text-anchor="end" fill="#404040" stroke="#404040" stroke-width="0.15">BM</text>
<text transform="translate(332.6,410.4) rotate(-45)" font-size="5.9" text-anchor="end" fill="#404040" stroke="#404040" stroke-width="0.15">PB</text>
<line x1="373.5" y1="322.6" x2="373.5" y2="403" stroke="#262626" stroke-width="1.15"/>
<line x1="370.9" y1="402.5" x2="373.5" y2="402.5" stroke="#262626" stroke-width="0.9"/>
<text x="367.6" y="404.6" font-size="6.0" text-anchor="end" fill="#4a4a4a" stroke="#4a4a4a" stroke-width="0.12" font-weight="normal" >0</text>
<line x1="370.9" y1="386.88" x2="373.5" y2="386.88" stroke="#262626" stroke-width="0.9"/>
<text x="367.6" y="388.98" font-size="6.0" text-anchor="end" fill="#4a4a4a" stroke="#4a4a4a" stroke-width="0.12" font-weight="normal" >2</text>
<line x1="370.9" y1="371.26" x2="373.5" y2="371.26" stroke="#262626" stroke-width="0.9"/>
<text x="367.6" y="373.36" font-size="6.0" text-anchor="end" fill="#4a4a4a" stroke="#4a4a4a" stroke-width="0.12" font-weight="normal" >4</text>
<line x1="370.9" y1="355.64" x2="373.5" y2="355.64" stroke="#262626" stroke-width="0.9"/>
<text x="367.6" y="357.74" font-size="6.0" text-anchor="end" fill="#4a4a4a" stroke="#4a4a4a" stroke-width="0.12" font-weight="normal" >6</text>
<line x1="370.9" y1="340.02" x2="373.5" y2="340.02" stroke="#262626" stroke-width="0.9"/>
<text x="367.6" y="342.12" font-size="6.0" text-anchor="end" fill="#4a4a4a" stroke="#4a4a4a" stroke-width="0.12" font-weight="normal" >8</text>
<line x1="370.9" y1="324.4" x2="373.5" y2="324.4" stroke="#262626" stroke-width="0.9"/>
<text x="367.6" y="326.5" font-size="6.0" text-anchor="end" fill="#4a4a4a" stroke="#4a4a4a" stroke-width="0.12" font-weight="normal" >10</text>
<line x1="370.9" y1="402.5" x2="451" y2="402.5" stroke="#262626" stroke-width="1.15"/>
<line x1="379.3" y1="340.74" x2="379.3" y2="329.85" stroke="#444" stroke-width="0.8"/>
<line x1="378" y1="329.85" x2="380.6" y2="329.85" stroke="#2a2a2a" stroke-width="0.95"/>
<rect x="377" y="340.94" width="4.6" height="61.26" fill="#1f4f8d" stroke="#163a6a" stroke-width="0.45"/>
<line x1="387" y1="356.3" x2="387" y2="345.41" stroke="#444" stroke-width="0.8"/>
<line x1="385.7" y1="345.41" x2="388.3" y2="345.41" stroke="#2a2a2a" stroke-width="0.95"/>
<rect x="384.7" y="356.5" width="4.6" height="45.7" fill="#1f4f8d" stroke="#163a6a" stroke-width="0.45"/>
<line x1="398.5" y1="352.41" x2="398.5" y2="343.85" stroke="#444" stroke-width="0.8"/>
<line x1="397.2" y1="343.85" x2="399.8" y2="343.85" stroke="#2a2a2a" stroke-width="0.95"/>
<rect x="396.2" y="352.61" width="4.6" height="49.59" fill="#e8978b" stroke="#c8786c" stroke-width="0.45"/>
<line x1="406.3" y1="348.52" x2="406.3" y2="341.52" stroke="#444" stroke-width="0.8"/>
<line x1="405" y1="341.52" x2="407.6" y2="341.52" stroke="#2a2a2a" stroke-width="0.95"/>
<rect x="404" y="348.72" width="4.6" height="53.48" fill="#e8978b" stroke="#c8786c" stroke-width="0.45"/>
<line x1="417.9" y1="348.52" x2="417.9" y2="339.18" stroke="#444" stroke-width="0.8"/>
<line x1="416.6" y1="339.18" x2="419.2" y2="339.18" stroke="#2a2a2a" stroke-width="0.95"/>
<rect x="415.6" y="348.72" width="4.6" height="53.48" fill="#d9584d" stroke="#b8443a" stroke-width="0.45"/>
<line x1="425.6" y1="349.3" x2="425.6" y2="340.74" stroke="#444" stroke-width="0.8"/>
<line x1="424.3" y1="340.74" x2="426.9" y2="340.74" stroke="#2a2a2a" stroke-width="0.95"/>
<rect x="423.3" y="349.5" width="4.6" height="52.7" fill="#d9584d" stroke="#b8443a" stroke-width="0.45"/>
<line x1="437.3" y1="356.3" x2="437.3" y2="347.74" stroke="#444" stroke-width="0.8"/>
<line x1="436" y1="347.74" x2="438.6" y2="347.74" stroke="#2a2a2a" stroke-width="0.95"/>
<rect x="435" y="356.5" width="4.6" height="45.7" fill="#c8102e" stroke="#8e0a20" stroke-width="0.45"/>
<line x1="445.1" y1="354.74" x2="445.1" y2="346.96" stroke="#444" stroke-width="0.8"/>
<line x1="443.8" y1="346.96" x2="446.4" y2="346.96" stroke="#2a2a2a" stroke-width="0.95"/>
<rect x="442.8" y="354.94" width="4.6" height="47.26" fill="#c8102e" stroke="#8e0a20" stroke-width="0.45"/>
<line x1="379.3" y1="402.2" x2="379.3" y2="404.7" stroke="#262626" stroke-width="0.8"/>
<line x1="387" y1="402.2" x2="387" y2="404.7" stroke="#262626" stroke-width="0.8"/>
<line x1="398.5" y1="402.2" x2="398.5" y2="404.7" stroke="#262626" stroke-width="0.8"/>
<line x1="406.3" y1="402.2" x2="406.3" y2="404.7" stroke="#262626" stroke-width="0.8"/>
<line x1="417.9" y1="402.2" x2="417.9" y2="404.7" stroke="#262626" stroke-width="0.8"/>
<line x1="425.6" y1="402.2" x2="425.6" y2="404.7" stroke="#262626" stroke-width="0.8"/>
<line x1="437.3" y1="402.2" x2="437.3" y2="404.7" stroke="#262626" stroke-width="0.8"/>
<line x1="445.1" y1="402.2" x2="445.1" y2="404.7" stroke="#262626" stroke-width="0.8"/>
<text transform="translate(355.2,361.8) rotate(-90)" font-size="6.6" text-anchor="middle" fill="#2e2e2e" stroke="#2e2e2e" stroke-width="0.25" textLength="57.5" lengthAdjust="spacingAndGlyphs">% IL-2<tspan font-size="3.6" dy="-2">+</tspan><tspan dy="2"> </tspan> of CD4<tspan font-size="3.6" dy="-2">+</tspan><tspan dy="2"> </tspan>T cells</text>
<text transform="translate(381.7,410.4) rotate(-45)" font-size="5.9" text-anchor="end" fill="#404040" stroke="#404040" stroke-width="0.15">BM</text>
<text transform="translate(389.4,410.4) rotate(-45)" font-size="5.9" text-anchor="end" fill="#404040" stroke="#404040" stroke-width="0.15">PB</text>
<text transform="translate(400.9,410.4) rotate(-45)" font-size="5.9" text-anchor="end" fill="#404040" stroke="#404040" stroke-width="0.15">BM</text>
<text transform="translate(408.7,410.4) rotate(-45)" font-size="5.9" text-anchor="end" fill="#404040" stroke="#404040" stroke-width="0.15">PB</text>
<text transform="translate(420.3,410.4) rotate(-45)" font-size="5.9" text-anchor="end" fill="#404040" stroke="#404040" stroke-width="0.15">BM</text>
<text transform="translate(428,410.4) rotate(-45)" font-size="5.9" text-anchor="end" fill="#404040" stroke="#404040" stroke-width="0.15">PB</text>
<text transform="translate(439.7,410.4) rotate(-45)" font-size="5.9" text-anchor="end" fill="#404040" stroke="#404040" stroke-width="0.15">BM</text>
<text transform="translate(447.5,410.4) rotate(-45)" font-size="5.9" text-anchor="end" fill="#404040" stroke="#404040" stroke-width="0.15">PB</text>
<line x1="466.5" y1="322.6" x2="466.5" y2="403" stroke="#262626" stroke-width="1.15"/>
<line x1="463.9" y1="402.5" x2="466.5" y2="402.5" stroke="#262626" stroke-width="0.9"/>
<text x="460.6" y="404.6" font-size="6.0" text-anchor="end" fill="#4a4a4a" stroke="#4a4a4a" stroke-width="0.12" font-weight="normal" >0</text>
<line x1="463.9" y1="382.98" x2="466.5" y2="382.98" stroke="#262626" stroke-width="0.9"/>
<text x="460.6" y="385.08" font-size="6.0" text-anchor="end" fill="#4a4a4a" stroke="#4a4a4a" stroke-width="0.12" font-weight="normal" >5</text>
<line x1="463.9" y1="363.45" x2="466.5" y2="363.45" stroke="#262626" stroke-width="0.9"/>
<text x="460.6" y="365.55" font-size="6.0" text-anchor="end" fill="#4a4a4a" stroke="#4a4a4a" stroke-width="0.12" font-weight="normal" >10</text>
<line x1="463.9" y1="343.92" x2="466.5" y2="343.92" stroke="#262626" stroke-width="0.9"/>
<text x="460.6" y="346.02" font-size="6.0" text-anchor="end" fill="#4a4a4a" stroke="#4a4a4a" stroke-width="0.12" font-weight="normal" >15</text>
<line x1="463.9" y1="324.4" x2="466.5" y2="324.4" stroke="#262626" stroke-width="0.9"/>
<text x="460.6" y="326.5" font-size="6.0" text-anchor="end" fill="#4a4a4a" stroke="#4a4a4a" stroke-width="0.12" font-weight="normal" >20</text>
<line x1="463.9" y1="402.5" x2="512.5" y2="402.5" stroke="#262626" stroke-width="1.15"/>
<line x1="479.2" y1="402.2" x2="479.2" y2="404.7" stroke="#262626" stroke-width="0.8"/>
<line x1="499" y1="402.2" x2="499" y2="404.7" stroke="#262626" stroke-width="0.8"/>
<circle cx="479.2" cy="396.37" r="1.75" fill="#ffffff" stroke="#262626" stroke-width="0.75"/>
<circle cx="482.7" cy="396.37" r="1.75" fill="#ffffff" stroke="#262626" stroke-width="0.75"/>
<circle cx="475.7" cy="395.6" r="1.75" fill="#ffffff" stroke="#262626" stroke-width="0.75"/>
<circle cx="480.7" cy="393.42" r="1.75" fill="#ffffff" stroke="#262626" stroke-width="0.75"/>
<circle cx="477.7" cy="391.66" r="1.75" fill="#ffffff" stroke="#262626" stroke-width="0.75"/>
<circle cx="480.7" cy="390.15" r="1.75" fill="#ffffff" stroke="#262626" stroke-width="0.75"/>
<circle cx="475.7" cy="388.81" r="1.75" fill="#ffffff" stroke="#262626" stroke-width="0.75"/>
<circle cx="483.2" cy="387.59" r="1.75" fill="#ffffff" stroke="#262626" stroke-width="0.75"/>
<circle cx="479.2" cy="386.46" r="1.75" fill="#ffffff" stroke="#262626" stroke-width="0.75"/>
<circle cx="475.7" cy="385.39" r="1.75" fill="#ffffff" stroke="#262626" stroke-width="0.75"/>
<circle cx="482.2" cy="384.38" r="1.75" fill="#ffffff" stroke="#262626" stroke-width="0.75"/>
<circle cx="485" cy="383.4" r="1.75" fill="#ffffff" stroke="#262626" stroke-width="0.75"/>
<circle cx="479.2" cy="382.46" r="1.75" fill="#ffffff" stroke="#262626" stroke-width="0.75"/>
<circle cx="475.7" cy="381.54" r="1.75" fill="#ffffff" stroke="#262626" stroke-width="0.75"/>
<circle cx="482.2" cy="380.64" r="1.75" fill="#ffffff" stroke="#262626" stroke-width="0.75"/>
<circle cx="485" cy="379.75" r="1.75" fill="#ffffff" stroke="#262626" stroke-width="0.75"/>
<circle cx="479.2" cy="378.86" r="1.75" fill="#ffffff" stroke="#262626" stroke-width="0.75"/>
<circle cx="475.7" cy="377.97" r="1.75" fill="#ffffff" stroke="#262626" stroke-width="0.75"/>
<circle cx="482.2" cy="377.08" r="1.75" fill="#ffffff" stroke="#262626" stroke-width="0.75"/>
<circle cx="485" cy="376.18" r="1.75" fill="#ffffff" stroke="#262626" stroke-width="0.75"/>
<circle cx="479.2" cy="375.26" r="1.75" fill="#ffffff" stroke="#262626" stroke-width="0.75"/>
<circle cx="475.7" cy="374.32" r="1.75" fill="#ffffff" stroke="#262626" stroke-width="0.75"/>
<circle cx="482.2" cy="373.34" r="1.75" fill="#ffffff" stroke="#262626" stroke-width="0.75"/>
<circle cx="485" cy="372.33" r="1.75" fill="#ffffff" stroke="#262626" stroke-width="0.75"/>
<circle cx="479.2" cy="371.26" r="1.75" fill="#ffffff" stroke="#262626" stroke-width="0.75"/>
<circle cx="475.7" cy="370.13" r="1.75" fill="#ffffff" stroke="#262626" stroke-width="0.75"/>
<circle cx="481.7" cy="368.91" r="1.75" fill="#ffffff" stroke="#262626" stroke-width="0.75"/>
<circle cx="478.7" cy="367.57" r="1.75" fill="#ffffff" stroke="#262626" stroke-width="0.75"/>
<circle cx="475.7" cy="366.06" r="1.75" fill="#ffffff" stroke="#262626" stroke-width="0.75"/>
<circle cx="479.2" cy="364.3" r="1.75" fill="#ffffff" stroke="#262626" stroke-width="0.75"/>
<circle cx="481.7" cy="362.12" r="1.75" fill="#ffffff" stroke="#262626" stroke-width="0.75"/>
<circle cx="479.2" cy="359.13" r="1.75" fill="#ffffff" stroke="#262626" stroke-width="0.75"/>
<circle cx="479.2" cy="353.58" r="1.75" fill="#ffffff" stroke="#262626" stroke-width="0.75"/>
<circle cx="479.2" cy="339.96" r="1.75" fill="#ffffff" stroke="#262626" stroke-width="0.75"/>
<circle cx="499" cy="394.42" r="1.75" fill="#ffffff" stroke="#262626" stroke-width="0.75"/>
<circle cx="502.5" cy="393.66" r="1.75" fill="#ffffff" stroke="#262626" stroke-width="0.75"/>
<circle cx="499" cy="390.81" r="1.75" fill="#ffffff" stroke="#262626" stroke-width="0.75"/>
<circle cx="502" cy="388.73" r="1.75" fill="#ffffff" stroke="#262626" stroke-width="0.75"/>
<circle cx="499" cy="387.04" r="1.75" fill="#ffffff" stroke="#262626" stroke-width="0.75"/>
<circle cx="496" cy="385.58" r="1.75" fill="#ffffff" stroke="#262626" stroke-width="0.75"/>
<circle cx="501" cy="384.28" r="1.75" fill="#ffffff" stroke="#262626" stroke-width="0.75"/>
<circle cx="504.5" cy="383.09" r="1.75" fill="#ffffff" stroke="#262626" stroke-width="0.75"/>
<circle cx="498.5" cy="381.99" r="1.75" fill="#ffffff" stroke="#262626" stroke-width="0.75"/>
<circle cx="502" cy="380.94" r="1.75" fill="#ffffff" stroke="#262626" stroke-width="0.75"/>
<circle cx="495.5" cy="379.94" r="1.75" fill="#ffffff" stroke="#262626" stroke-width="0.75"/>
<circle cx="504.8" cy="378.98" r="1.75" fill="#ffffff" stroke="#262626" stroke-width="0.75"/>
<circle cx="499" cy="378.04" r="1.75" fill="#ffffff" stroke="#262626" stroke-width="0.75"/>
<circle cx="493.5" cy="377.12" r="1.75" fill="#ffffff" stroke="#262626" stroke-width="0.75"/>
<circle cx="502" cy="376.2" r="1.75" fill="#ffffff" stroke="#262626" stroke-width="0.75"/>
<circle cx="497" cy="375.29" r="1.75" fill="#ffffff" stroke="#262626" stroke-width="0.75"/>
<circle cx="504.8" cy="374.38" r="1.75" fill="#ffffff" stroke="#262626" stroke-width="0.75"/>
<circle cx="500" cy="373.46" r="1.75" fill="#ffffff" stroke="#262626" stroke-width="0.75"/>
<circle cx="495" cy="372.52" r="1.75" fill="#ffffff" stroke="#262626" stroke-width="0.75"/>
<circle cx="503" cy="371.55" r="1.75" fill="#ffffff" stroke="#262626" stroke-width="0.75"/>
<circle cx="498.5" cy="370.55" r="1.75" fill="#ffffff" stroke="#262626" stroke-width="0.75"/>
<circle cx="493.5" cy="369.51" r="1.75" fill="#ffffff" stroke="#262626" stroke-width="0.75"/>
<circle cx="501" cy="368.4" r="1.75" fill="#ffffff" stroke="#262626" stroke-width="0.75"/>
<circle cx="497.5" cy="367.21" r="1.75" fill="#ffffff" stroke="#262626" stroke-width="0.75"/>
<circle cx="503.5" cy="365.92" r="1.75" fill="#ffffff" stroke="#262626" stroke-width="0.75"/>
<circle cx="499.5" cy="364.46" r="1.75" fill="#ffffff" stroke="#262626" stroke-width="0.75"/>
<circle cx="496.5" cy="362.77" r="1.75" fill="#ffffff" stroke="#262626" stroke-width="0.75"/>
<circle cx="499.5" cy="360.68" r="1.75" fill="#ffffff" stroke="#262626" stroke-width="0.75"/>
<circle cx="497.5" cy="357.83" r="1.75" fill="#ffffff" stroke="#262626" stroke-width="0.75"/>
<circle cx="499" cy="353.57" r="1.75" fill="#ffffff" stroke="#262626" stroke-width="0.75"/>
<circle cx="499" cy="347.74" r="1.75" fill="#ffffff" stroke="#262626" stroke-width="0.75"/>
<line x1="471.7" y1="376.91" x2="486.7" y2="376.91" stroke="#222" stroke-width="0.9"/>
<line x1="491.5" y1="375.75" x2="506.5" y2="375.75" stroke="#222" stroke-width="0.9"/>
<text transform="translate(481.6,410.4) rotate(-45)" font-size="5.9" text-anchor="end" fill="#404040" stroke="#404040" stroke-width="0.15">BM</text>
<text transform="translate(501.4,410.4) rotate(-45)" font-size="5.9" text-anchor="end" fill="#404040" stroke="#404040" stroke-width="0.15">PB</text>
<circle cx="158.2" cy="427.5" r="0.9" fill="#1f4f8d"/>
<rect x="163.1" y="426.4" width="5.6" height="2.3" fill="#1f4f8d"/>
<text x="172.1" y="429.4" font-size="5.6" text-anchor="start" fill="#444" stroke="#444" stroke-width="0.12" font-weight="normal" >Control</text>
<circle cx="201.0" cy="427.5" r="0.9" fill="#e8978b"/>
<rect x="205.3" y="426.4" width="5.6" height="2.3" fill="#e8978b"/>
<text x="214.4" y="429.4" font-size="5.6" text-anchor="start" fill="#444" stroke="#444" stroke-width="0.12" font-weight="normal" >MGUS</text>
<circle cx="242.3" cy="427.5" r="0.9" fill="#d9584d"/>
<rect x="247.5" y="426.4" width="5.6" height="2.3" fill="#d9584d"/>
<text x="255.8" y="429.4" font-size="5.6" text-anchor="start" fill="#444" stroke="#444" stroke-width="0.12" font-weight="normal" >Asymptomatic MM</text>
<circle cx="311.5" cy="427.5" r="0.9" fill="#c8102e"/>
<rect x="316.1" y="426.4" width="5.6" height="2.3" fill="#c8102e"/>
<text x="324.4" y="429.4" font-size="5.6" text-anchor="start" fill="#444" stroke="#444" stroke-width="0.12" font-weight="normal" >MM at Diagnosis</text>
<defs>
<filter id="b04" x="-50%" y="-50%" width="200%" height="200%"><feGaussianBlur stdDeviation="0.4"/></filter>
<filter id="b06" x="-50%" y="-50%" width="200%" height="200%"><feGaussianBlur stdDeviation="0.6"/></filter>
<filter id="b10" x="-50%" y="-50%" width="200%" height="200%"><feGaussianBlur stdDeviation="1.0"/></filter>
<filter id="b15" x="-50%" y="-50%" width="200%" height="200%"><feGaussianBlur stdDeviation="1.5"/></filter>
</defs>
<path d="M91.5,526.5 84.9,526.6 78.9,525.6 74.5,523.9 73.0,522.7 72.2,521.5 72.0,519.9 72.7,515.9 70.5,509.3 69.6,501.5 68.1,495.7 67.9,492.7 68.4,489.9 69.5,487.5 71.1,485.7 73.3,484.3 75.1,483.7 77.3,483.6 86.5,483.9 89.5,484.4 91.7,485.2 93.7,486.4 95.3,488.1 96.4,490.1 97.2,492.7 97.6,496.3 98.5,508.1 98.5,514.7 99.1,516.3 101.3,519.3 101.6,520.9 100.7,522.7 98.5,524.4 95.1,525.8 91.5,526.5Z" fill="#f5cdd8" fill-opacity="0.8" stroke="none"/>
<path d="M91.5,526.5 88.3,526.7 84.9,526.6 81.7,526.2 78.9,525.6 76.5,524.9 74.5,523.9 73.0,522.7 72.2,521.5 72.0,519.9 72.7,517.1 72.7,515.9 71.1,511.7 70.5,509.3 69.6,501.5 68.1,495.7 67.9,492.7 68.4,489.9 69.5,487.5 71.1,485.7 73.3,484.3 75.1,483.7 77.3,483.6 81.7,483.9 86.5,483.9 89.5,484.4 91.7,485.2 93.7,486.4 95.3,488.1 96.4,490.1 97.2,492.7 97.6,496.3 98.5,508.1 98.5,514.7 99.1,516.3 101.3,519.3 101.6,520.9 101.3,521.9 100.7,522.7 98.5,524.4 95.1,525.8 91.5,526.5Z" fill="none" stroke="#eea0b2" stroke-width="0.42" opacity="0.85"/>
<path d="M90.3,526.3 87.1,526.4 84.1,526.2 81.3,525.8 78.7,525.2 76.5,524.5 74.7,523.5 73.5,522.5 72.8,521.3 72.6,519.7 73.5,516.9 73.5,515.9 71.8,511.9 71.0,509.3 70.0,501.5 68.6,495.5 68.4,492.9 68.8,490.3 69.8,487.9 71.5,486.0 73.7,484.7 75.5,484.2 77.3,484.1 81.7,484.4 86.3,484.4 89.3,484.9 91.7,485.8 93.5,487.0 94.9,488.5 96.0,490.5 96.8,493.3 97.3,497.3 98.1,508.3 98.1,514.9 98.7,516.5 100.6,519.3 100.9,520.3 100.9,521.1 100.5,522.1 99.9,522.9 98.7,523.8 97.3,524.6 94.1,525.8 90.3,526.3Z" fill="none" stroke="#ec99ab" stroke-width="0.42" opacity="0.85"/>
<path d="M91.3,525.9 85.3,526.0 82.7,525.8 79.9,525.2 77.5,524.4 75.7,523.6 74.3,522.5 73.5,521.3 73.3,519.7 74.5,516.7 74.5,515.7 72.4,511.9 71.5,509.3 71.1,506.7 70.5,501.1 69.2,495.7 68.9,493.1 69.3,490.5 70.2,488.3 71.7,486.6 73.7,485.3 75.3,484.8 77.3,484.7 81.5,484.9 86.3,485.0 88.9,485.4 91.1,486.1 92.9,487.2 94.4,488.7 95.4,490.5 96.3,493.3 96.9,497.9 97.6,508.5 97.6,514.9 98.1,516.4 100.0,519.3 100.3,520.9 100.1,521.7 99.5,522.5 97.5,524.1 94.7,525.3 91.3,525.9Z" fill="none" stroke="#e991a5" stroke-width="0.42" opacity="0.85"/>
<path d="M89.7,525.7 84.3,525.6 79.7,524.8 77.7,524.1 76.2,523.3 74.9,522.3 74.3,521.3 74.1,520.3 74.2,519.3 75.9,516.3 76.0,515.5 73.5,512.4 72.2,509.5 71.6,506.7 71.1,501.1 69.7,495.7 69.4,493.3 69.7,490.9 70.7,488.7 72.1,487.0 74.1,485.8 75.7,485.4 77.5,485.3 81.5,485.5 86.3,485.6 88.9,486.0 91.1,486.8 92.8,487.9 94.1,489.4 95.1,491.3 95.9,494.5 96.6,500.1 97.2,508.9 97.1,515.1 97.5,516.5 99.3,519.3 99.6,520.9 99.2,521.9 98.6,522.7 96.5,524.2 93.5,525.2 89.7,525.7Z" fill="none" stroke="#e78a9e" stroke-width="0.42" opacity="0.85"/>
<path d="M90.5,525.3 85.3,525.4 80.5,524.6 78.5,524.0 76.9,523.2 75.8,522.3 75.1,521.3 74.9,520.5 75.0,519.5 76.1,517.7 78.1,516.2 81.1,514.9 81.6,514.5 81.7,514.1 81.5,513.7 80.7,513.4 77.5,513.8 75.7,513.2 74.7,512.4 73.9,511.4 73.2,510.1 72.7,508.5 72.2,506.3 71.6,500.7 70.2,495.1 70.1,492.7 70.4,490.7 71.3,488.9 72.7,487.4 74.3,486.4 75.9,486.0 77.5,485.9 81.5,486.2 86.1,486.2 88.5,486.6 90.5,487.3 92.3,488.4 93.5,489.7 94.5,491.5 95.4,494.7 96.0,500.5 96.6,509.1 96.4,515.1 96.9,516.5 98.6,519.3 98.9,520.7 98.7,521.5 98.2,522.3 96.3,523.8 93.7,524.8 90.5,525.3Z" fill="none" stroke="#e58298" stroke-width="0.42" opacity="0.85"/>
<path d="M87.7,525.1 83.5,524.8 79.9,524.0 77.2,522.7 76.4,521.9 75.9,521.1 75.8,520.3 75.9,519.5 77.1,518.0 78.7,517.0 83.6,515.1 84.4,514.5 84.6,513.9 84.4,513.3 83.5,512.5 82.5,511.8 81.5,511.4 80.3,511.4 77.7,512.1 76.1,511.9 74.7,510.8 73.6,508.7 73.0,506.3 72.3,500.5 70.9,495.1 70.7,492.9 71.1,490.9 71.9,489.3 73.2,487.9 74.9,487.0 76.3,486.7 77.7,486.6 81.5,486.9 86.1,486.9 88.7,487.4 90.5,488.1 92.1,489.3 93.3,490.8 94.2,492.7 95.1,497.7 95.8,506.3 96.0,510.1 95.6,515.1 96.1,516.5 97.9,519.3 98.1,520.1 98.1,520.9 97.8,521.7 97.1,522.6 96.1,523.3 94.7,524.0 91.7,524.8 87.7,525.1Z" fill="none" stroke="#e37b91" stroke-width="0.42" opacity="0.85"/>
<path d="M88.5,524.7 84.5,524.6 80.9,523.8 78.3,522.7 77.4,521.9 76.9,521.1 76.8,520.3 77.0,519.5 77.6,518.7 78.5,518.0 81.1,516.9 86.9,515.1 87.7,514.7 88.0,514.1 87.9,513.5 87.1,512.7 82.1,509.2 81.5,509.0 80.7,509.0 78.1,510.2 76.9,510.3 75.6,509.7 74.6,508.3 73.9,506.3 73.2,500.9 71.8,495.7 71.5,493.3 71.7,491.5 72.5,489.9 73.5,488.7 75.1,487.8 77.5,487.5 81.5,487.8 85.9,487.7 88.1,488.1 89.9,488.8 91.5,489.9 92.6,491.3 93.3,492.9 93.9,495.1 94.5,498.3 95.1,506.3 95.2,510.3 94.6,514.1 94.6,515.1 95.1,516.3 97.0,519.1 97.3,519.9 97.4,520.7 97.1,521.5 96.5,522.3 94.7,523.5 91.9,524.3 88.5,524.7Z" fill="none" stroke="#e0738b" stroke-width="0.42" opacity="0.85"/>
<path d="M87.9,524.3 84.5,524.1 81.5,523.5 79.3,522.5 78.5,521.9 78.0,521.1 77.9,520.3 78.2,519.5 78.9,518.7 80.1,518.0 83.7,516.8 89.5,515.7 90.9,515.1 91.8,514.5 89.3,511.7 85.5,508.9 84.1,507.3 83.0,504.9 82.9,503.7 82.9,500.9 82.7,500.2 82.3,499.8 81.5,500.0 80.9,500.7 79.9,504.9 78.7,506.9 77.9,507.6 77.1,507.8 76.3,507.5 75.7,506.8 75.1,505.1 74.3,500.3 72.6,495.5 72.4,493.5 72.6,491.9 73.2,490.5 74.1,489.5 75.5,488.7 77.7,488.4 81.5,488.8 85.9,488.8 87.7,489.0 89.3,489.7 90.7,490.7 91.6,491.9 92.4,493.5 93.1,496.3 93.7,500.0 94.2,508.5 94.1,510.3 93.7,511.9 93.1,513.2 92.1,514.5 95.8,518.5 96.4,519.7 96.5,520.7 96.2,521.5 95.7,522.1 93.9,523.2 91.3,524.0 87.9,524.3Z" fill="none" stroke="#de6c84" stroke-width="0.42" opacity="0.85"/>
<path d="M91.7,508.8 91.1,508.9 90.1,508.3 88.1,506.5 87.2,505.3 86.9,503.5 87.3,500.1 87.3,498.9 86.8,497.9 85.6,496.9 83.7,496.1 82.1,496.0 80.5,496.7 77.5,499.5 76.7,499.7 75.9,499.1 74.3,496.7 73.5,494.3 73.7,492.2 74.1,491.3 74.7,490.6 75.7,490.0 77.1,489.7 81.7,490.3 85.9,490.2 87.9,490.7 89.5,491.8 90.3,492.9 90.8,494.1 92.3,501.0 92.5,503.5 92.4,506.3 92.2,507.9 91.7,508.8Z M89.7,523.7 85.7,523.8 82.1,523.1 80.7,522.5 79.6,521.7 79.1,520.9 79.1,520.1 79.7,519.3 80.8,518.5 82.3,517.8 84.3,517.3 86.7,516.9 90.5,516.7 91.9,516.8 92.9,517.1 94.1,517.9 95.1,519.1 95.5,520.1 95.4,521.1 94.7,522.0 93.5,522.7 91.9,523.3 89.7,523.7Z" fill="none" stroke="#dc647e" stroke-width="0.42" opacity="0.85"/>
<path d="M77.5,495.6 76.9,495.7 76.3,495.5 75.7,494.9 75.4,494.1 75.4,493.3 75.7,492.5 76.3,492.0 76.9,491.8 77.7,491.8 78.5,492.1 79.0,492.5 79.2,493.1 79.2,493.7 78.8,494.5 77.5,495.6Z M87.7,523.3 84.7,523.1 82.3,522.5 81.3,521.9 80.7,521.3 80.5,520.7 80.6,520.1 81.3,519.2 82.9,518.4 84.9,517.9 87.3,517.6 89.9,517.6 91.7,517.8 93.1,518.4 94.0,519.3 94.3,520.1 94.3,520.7 93.8,521.5 93.1,522.1 90.9,522.9 87.7,523.3Z" fill="none" stroke="#da5d77" stroke-width="0.42" opacity="0.85"/>
<path d="M88.9,522.5 86.3,522.6 83.9,522.1 82.5,521.3 82.2,520.9 82.2,520.3 82.7,519.7 83.7,519.1 85.1,518.7 86.9,518.4 90.5,518.6 91.7,519.0 92.5,519.7 92.7,520.1 92.7,520.7 92.0,521.5 90.8,522.1 88.9,522.5Z" fill="none" stroke="#d75571" stroke-width="0.42" opacity="0.85"/>
<path d="M87.9,521.5 85.7,521.3 85.0,520.9 84.9,520.5 85.6,519.9 87.3,519.6 88.9,519.7 89.9,520.3 89.9,520.7 89.4,521.1 87.9,521.5Z" fill="none" stroke="#d54e6a" stroke-width="0.42" opacity="0.85"/>
<path d="M88.5,525.7 82.9,525.4 77.9,524.6 74.3,523.2 73.2,522.3 72.8,521.5 73.0,520.1 74.7,517.9 74.9,517.1 72.8,513.7 71.6,510.1 71.2,506.9 70.8,500.5 69.6,495.1 69.5,492.7 69.9,490.1 71.1,487.9 72.7,486.2 74.7,485.1 77.1,484.7 81.5,484.9 85.9,484.7 89.9,485.3 92.1,486.3 93.7,487.5 95.0,489.1 96.0,491.3 96.8,494.9 97.1,500.5 97.1,510.3 96.5,516.5 97.2,517.7 100.5,520.1 100.9,521.5 99.7,523.0 96.7,524.4 92.7,525.4 88.5,525.7Z" fill="#cac4e6" fill-opacity="0.4" stroke="none"/>
<path d="M91.5,516.1 90.7,516.0 81.7,509.0 80.7,508.9 78.5,509.7 77.5,509.8 76.5,509.4 75.8,508.5 75.0,506.1 74.6,499.9 73.2,493.7 73.7,491.2 75.3,489.5 77.3,488.9 81.3,489.2 85.1,488.8 87.1,488.9 90.3,490.2 92.4,492.3 93.4,494.7 94.0,497.9 94.2,508.5 94.0,511.3 93.5,513.5 92.7,515.0 91.5,516.1Z M90.9,524.3 85.5,524.5 80.7,523.8 77.3,522.5 76.5,521.7 76.4,520.9 77.5,519.6 79.9,518.6 91.3,516.5 96.5,519.6 97.3,520.5 97.5,521.3 96.9,522.3 95.5,523.2 93.5,523.9 90.9,524.3Z" fill="#b0a8d8" fill-opacity="0.15" stroke="none"/>
<path d="M88.5,525.7 82.9,525.4 77.9,524.6 75.9,524.0 74.3,523.2 73.2,522.3 72.8,521.5 72.7,520.9 73.0,520.1 74.7,517.9 74.9,517.1 72.8,513.7 71.6,510.1 71.2,506.9 70.8,500.5 69.6,495.1 69.5,492.7 69.9,490.1 71.1,487.9 72.7,486.2 74.7,485.1 77.1,484.7 81.5,484.9 85.9,484.7 87.9,484.9 89.9,485.3 92.1,486.3 93.7,487.5 95.0,489.1 96.0,491.3 96.8,494.9 97.1,500.5 97.1,510.3 96.5,516.5 96.7,517.1 97.2,517.7 99.6,519.3 100.5,520.1 100.9,520.9 100.9,521.5 100.5,522.3 99.7,523.0 96.7,524.4 92.7,525.4 88.5,525.7Z" fill="none" stroke="#8c88d0" stroke-width="0.4" opacity="0.85"/>
<path d="M89.7,525.5 83.9,525.4 78.7,524.6 76.7,524.0 75.1,523.3 73.9,522.5 73.3,521.7 73.2,520.9 73.5,520.1 75.7,517.7 76.0,517.1 75.8,516.7 74.3,515.0 73.5,513.8 72.8,512.3 72.1,510.3 71.6,506.9 71.2,500.3 70.1,495.1 69.9,492.9 70.3,490.5 71.2,488.5 72.7,486.8 74.7,485.6 76.1,485.3 77.5,485.2 81.5,485.4 86.3,485.2 89.3,485.7 91.5,486.5 93.3,487.7 94.6,489.3 95.6,491.3 96.5,494.9 96.8,500.3 96.8,510.3 96.2,516.7 96.8,517.7 100.1,520.1 100.4,520.7 100.5,521.5 100.1,522.3 99.4,522.9 96.7,524.2 93.1,525.2 89.7,525.5Z" fill="none" stroke="#8682cc" stroke-width="0.4" opacity="0.85"/>
<path d="M90.3,525.3 84.5,525.3 79.5,524.6 77.3,524.0 75.7,523.3 74.4,522.5 73.8,521.7 73.7,520.7 74.2,519.7 75.3,518.7 78.1,516.7 78.0,516.5 76.1,515.7 74.9,514.7 73.7,513.1 72.9,511.1 72.0,507.1 71.5,499.9 70.4,494.5 70.4,491.9 71.2,489.5 72.6,487.5 74.7,486.2 76.1,485.8 77.5,485.7 81.5,485.9 86.1,485.7 88.9,486.1 91.1,486.9 92.7,487.9 94.1,489.4 95.2,491.3 96.1,494.9 96.5,500.5 96.4,510.5 95.8,516.7 96.4,517.7 99.4,519.9 100.0,520.7 100.1,521.3 99.9,521.9 99.3,522.6 97.1,523.8 93.9,524.8 90.3,525.3Z" fill="none" stroke="#807dc8" stroke-width="0.4" opacity="0.85"/>
<path d="M90.5,525.1 84.9,525.1 79.7,524.4 76.1,523.2 74.9,522.5 74.3,521.7 74.2,521.1 74.4,520.3 75.7,518.9 77.9,517.8 81.5,516.7 82.2,516.1 81.8,515.5 80.9,515.1 77.5,515.1 76.5,514.8 75.7,514.4 74.8,513.5 74.0,512.3 72.9,509.3 72.4,506.3 72.1,500.3 71.0,495.1 70.8,492.5 71.3,490.5 72.1,488.9 73.3,487.6 74.9,486.7 76.1,486.3 77.5,486.2 81.5,486.4 86.1,486.2 88.7,486.6 90.9,487.4 92.5,488.4 93.9,489.9 94.8,491.7 95.8,495.5 96.1,501.1 96.0,510.7 95.3,516.7 95.9,517.7 98.9,519.9 99.4,520.5 99.6,521.3 99.4,521.9 98.9,522.5 96.7,523.8 93.9,524.6 90.5,525.1Z" fill="none" stroke="#7b77c5" stroke-width="0.4" opacity="0.85"/>
<path d="M90.7,524.9 85.3,525.0 80.5,524.4 76.7,523.2 75.5,522.5 74.8,521.7 74.7,521.1 74.9,520.3 76.3,519.0 78.5,518.0 82.8,516.9 83.7,516.5 84.0,516.1 83.9,515.7 83.3,515.1 81.5,514.0 80.3,513.8 77.5,514.0 76.1,513.5 75.3,512.9 74.6,511.9 73.5,509.5 72.9,506.3 72.6,500.1 71.5,495.1 71.3,492.7 71.7,490.9 72.5,489.3 73.7,488.0 75.1,487.2 77.5,486.8 81.5,487.0 86.1,486.8 88.5,487.1 90.5,487.8 92.1,488.8 93.3,490.1 94.4,491.9 95.0,493.7 95.4,495.9 95.7,501.7 95.6,510.9 94.7,516.7 95.4,517.7 98.6,520.1 99.0,520.7 99.1,521.3 98.9,521.9 98.4,522.5 96.5,523.6 93.9,524.4 90.7,524.9Z" fill="none" stroke="#7571c1" stroke-width="0.4" opacity="0.85"/>
<path d="M90.9,524.7 85.5,524.8 80.7,524.2 77.1,523.1 76.1,522.5 75.4,521.7 75.2,521.1 75.5,520.3 76.1,519.6 77.1,519.0 79.3,518.2 85.3,516.7 86.2,516.1 86.1,515.7 85.7,515.3 81.7,512.7 80.5,512.5 77.7,512.8 76.5,512.5 75.3,511.5 74.3,509.7 73.6,506.9 73.2,500.1 72.0,495.1 71.9,493.1 72.2,491.3 72.8,489.9 73.9,488.7 75.3,487.8 77.5,487.4 81.5,487.7 85.9,487.4 88.1,487.7 90.1,488.4 91.7,489.3 93.0,490.7 93.9,492.3 94.5,494.1 95.0,496.5 95.3,502.7 95.1,511.1 94.1,516.7 94.8,517.7 97.9,519.9 98.4,520.5 98.6,521.3 98.0,522.3 96.3,523.4 93.9,524.2 90.9,524.7Z" fill="none" stroke="#6f6cbd" stroke-width="0.4" opacity="0.85"/>
<path d="M90.9,524.5 85.9,524.6 81.3,524.1 79.1,523.6 77.5,523.0 76.4,522.3 75.9,521.5 75.8,520.9 76.2,520.1 77.9,519.0 81.1,518.0 87.2,516.9 88.2,516.5 88.4,516.1 88.1,515.5 87.4,514.9 81.9,511.2 80.7,510.9 78.3,511.4 77.1,511.4 75.9,510.6 75.0,509.3 74.2,506.5 73.9,500.1 72.7,495.3 72.5,493.3 72.8,491.7 73.4,490.3 74.3,489.2 75.5,488.5 77.5,488.1 81.5,488.4 85.9,488.1 87.9,488.4 89.7,489.0 91.3,489.9 92.5,491.1 93.5,492.9 94.2,495.1 94.6,498.1 94.8,506.9 94.5,512.3 94.0,514.1 93.3,516.1 93.2,516.7 94.1,517.7 97.4,519.9 98.0,520.7 98.0,521.3 97.5,522.3 95.9,523.3 93.7,524.0 90.9,524.5Z" fill="none" stroke="#6966b9" stroke-width="0.4" opacity="0.85"/>
<path d="M91.7,515.8 90.9,515.9 90.1,515.4 87.7,513.4 84.7,511.4 81.7,508.8 80.7,508.6 78.7,509.5 77.7,509.7 76.7,509.4 75.9,508.5 75.4,507.5 75.1,506.1 74.7,500.1 73.5,495.5 73.3,493.7 73.3,492.5 73.7,491.3 74.4,490.3 75.3,489.5 76.3,489.1 77.3,488.9 81.3,489.3 85.1,488.9 87.1,489.0 88.7,489.4 90.3,490.2 91.5,491.2 92.3,492.3 93.3,494.5 93.9,497.7 94.2,501.7 94.2,507.9 94.0,511.1 93.5,513.3 92.7,514.9 91.7,515.8Z M90.9,524.3 85.5,524.4 80.7,523.8 78.7,523.2 77.3,522.5 76.6,521.7 76.4,520.9 76.7,520.3 77.5,519.6 79.9,518.6 83.5,517.8 90.9,516.8 91.9,517.0 95.5,519.0 96.5,519.7 97.3,520.5 97.5,521.1 97.4,521.7 96.9,522.3 96.1,522.9 93.7,523.8 90.9,524.3Z" fill="none" stroke="#6460b6" stroke-width="0.4" opacity="0.85"/>
<path d="M91.5,513.8 90.7,513.7 89.9,513.3 85.3,509.6 84.0,508.1 83.3,506.7 82.8,505.1 82.6,500.5 82.2,499.7 81.7,499.2 81.1,499.0 80.5,499.2 79.7,500.3 79.4,501.5 79.5,504.3 78.9,506.0 77.9,506.8 77.3,506.7 76.8,506.3 76.3,504.6 76.2,500.1 74.6,495.9 74.2,494.1 74.2,492.9 74.5,492.0 75.0,491.1 75.7,490.5 76.5,490.1 77.5,490.0 81.3,490.4 84.9,489.9 86.7,489.9 88.1,490.3 89.4,490.9 90.5,491.7 91.5,492.8 92.4,494.7 93.0,497.1 93.4,500.1 93.5,503.9 93.4,508.5 93.1,511.1 92.5,512.8 92.1,513.4 91.5,513.8Z M90.7,524.1 85.7,524.3 81.1,523.6 79.3,523.1 78.0,522.5 77.2,521.7 77.1,520.9 77.4,520.3 78.1,519.7 80.9,518.6 84.5,518.0 89.9,517.6 91.7,517.7 93.3,518.3 95.5,519.4 96.7,520.5 96.9,521.1 96.8,521.7 95.7,522.7 93.5,523.6 90.7,524.1Z" fill="none" stroke="#5e5bb2" stroke-width="0.4" opacity="0.85"/>
<path d="M91.1,510.8 90.5,510.8 89.7,510.2 86.7,507.1 86.0,506.1 85.6,504.3 85.8,500.3 85.5,499.3 84.7,498.1 82.9,496.3 81.5,495.5 80.5,495.5 78.1,496.8 77.5,496.8 76.9,496.6 76.0,495.5 75.6,494.1 75.7,492.9 76.3,492.0 77.1,491.6 77.9,491.5 81.3,492.3 84.5,491.3 86.3,491.2 87.3,491.4 88.4,491.9 90.1,493.4 90.9,494.7 91.6,496.7 92.1,499.0 92.4,501.7 92.4,505.3 92.2,508.3 91.8,510.1 91.1,510.8Z M90.5,523.9 85.7,524.0 81.5,523.5 79.7,522.9 78.5,522.3 77.9,521.7 77.8,520.9 78.1,520.3 78.9,519.7 81.3,518.8 84.7,518.2 88.5,518.0 90.9,518.1 92.7,518.4 94.9,519.5 96.1,520.5 96.2,521.5 95.3,522.5 93.3,523.4 90.5,523.9Z" fill="none" stroke="#5855ae" stroke-width="0.4" opacity="0.85"/>
<path d="M90.1,523.7 85.7,523.8 81.7,523.2 80.1,522.7 79.1,522.2 78.5,521.5 78.5,520.9 78.9,520.3 79.5,519.9 81.3,519.2 84.1,518.6 87.5,518.3 90.3,518.4 92.3,518.7 94.2,519.5 95.4,520.5 95.6,521.1 95.6,521.5 94.5,522.5 92.7,523.2 90.1,523.7Z" fill="none" stroke="#5250aa" stroke-width="0.4" opacity="0.85"/>
<path d="M89.5,523.5 85.5,523.6 82.1,523.0 79.9,522.1 79.3,521.5 79.3,520.9 80.1,520.1 82.0,519.3 84.5,518.8 87.5,518.6 90.3,518.7 92.1,519.1 93.9,519.8 94.8,520.7 94.9,521.3 94.7,521.7 93.7,522.5 91.9,523.1 89.5,523.5Z" fill="none" stroke="#4d4aa7" stroke-width="0.4" opacity="0.85"/>
<path d="M88.3,523.3 85.1,523.2 82.3,522.7 80.5,521.9 80.2,521.5 80.2,520.9 81.0,520.1 82.6,519.5 84.9,519.1 87.3,518.9 89.7,519.0 91.7,519.4 93.1,519.9 94.0,520.7 94.0,521.5 92.9,522.4 90.9,523.0 88.3,523.3Z" fill="none" stroke="#4744a3" stroke-width="0.4" opacity="0.85"/>
<path d="M89.3,522.9 86.3,523.0 83.7,522.7 81.7,522.0 81.2,521.5 81.1,521.1 81.5,520.5 82.7,519.9 84.5,519.5 86.7,519.3 90.7,519.6 92.3,520.1 93.0,520.7 93.2,521.1 93.0,521.5 92.3,522.1 91.1,522.6 89.3,522.9Z" fill="none" stroke="#413f9f" stroke-width="0.4" opacity="0.85"/>
<path d="M89.3,522.5 86.9,522.7 84.5,522.4 82.9,521.9 82.4,521.5 82.3,521.1 82.8,520.5 83.8,520.1 86.9,519.7 90.3,520.0 91.3,520.3 91.9,520.9 91.9,521.5 91.4,521.9 89.3,522.5Z" fill="none" stroke="#3b399b" stroke-width="0.4" opacity="0.85"/>
<path d="M88.1,522.1 86.5,522.1 85.1,521.9 84.1,521.5 83.9,521.1 84.8,520.5 86.9,520.2 88.9,520.3 90.3,520.9 90.3,521.3 89.9,521.7 88.1,522.1Z" fill="none" stroke="#363398" stroke-width="0.4" opacity="0.85"/>
<path d="M85.5,495.7 L86.5,506.7 L87.5,517.7" fill="none" stroke="#fff" stroke-width="2.2" stroke-linecap="round" opacity="0.85" filter="url(#b04)"/>
<ellipse cx="88.0" cy="522.5" rx="8.5" ry="1.2" fill="#6a2e8c" opacity="0.75" filter="url(#b04)"/>
<path d="M108.9,496.7 106.1,496.7 103.5,495.6 101.5,493.5 100.5,490.9 100.6,488.1 101.8,485.5 103.9,483.6 106.5,482.6 109.3,482.8 111.7,483.8 113.7,485.9 114.7,488.5 114.6,491.3 113.4,493.9 111.3,495.8 108.9,496.7Z" fill="#f4bcc6" fill-opacity="0.8" stroke="none"/>
<path d="M108.9,496.7 107.5,496.9 106.1,496.7 104.7,496.2 103.5,495.6 102.5,494.7 101.5,493.5 100.9,492.3 100.5,490.9 100.4,489.5 100.6,488.1 101.0,486.9 101.8,485.5 102.7,484.5 103.9,483.6 105.1,483.0 106.5,482.6 107.9,482.6 109.3,482.8 110.5,483.2 111.7,483.8 112.7,484.7 113.7,485.9 114.3,487.1 114.7,488.5 114.8,489.9 114.6,491.3 114.2,492.5 113.4,493.9 112.5,494.9 111.3,495.8 108.9,496.7Z" fill="none" stroke="#ec98a8" stroke-width="0.5" opacity="0.9"/>
<path d="M109.1,496.5 107.9,496.7 106.5,496.6 105.1,496.2 103.9,495.6 102.7,494.7 101.9,493.7 101.2,492.5 100.8,491.1 100.6,489.7 100.8,488.3 101.2,486.9 101.7,485.9 102.7,484.7 103.7,483.9 104.9,483.3 106.3,482.8 108.9,482.8 110.3,483.3 111.5,483.9 112.5,484.7 113.5,485.9 114.0,486.9 114.4,488.3 114.6,489.7 114.4,491.1 114.0,492.5 113.5,493.5 111.7,495.4 110.5,496.1 109.1,496.5Z" fill="none" stroke="#eb91a2" stroke-width="0.5" opacity="0.9"/>
<path d="M107.9,496.5 105.5,496.2 104.3,495.7 103.1,494.8 102.2,493.9 101.5,492.7 101.0,491.5 100.8,490.1 100.9,488.7 101.2,487.3 101.8,486.1 102.6,485.1 103.5,484.3 104.7,483.5 106.1,483.0 107.3,482.9 109.7,483.2 110.9,483.7 112.1,484.6 113.0,485.5 113.7,486.7 114.2,487.9 114.4,489.3 114.3,490.7 114.0,492.1 113.4,493.3 112.6,494.3 111.7,495.1 110.5,495.9 109.1,496.4 107.9,496.5Z" fill="none" stroke="#ea8a9b" stroke-width="0.5" opacity="0.9"/>
<path d="M108.3,496.3 107.1,496.3 105.7,496.1 103.5,494.9 102.5,494.0 101.8,492.9 101.0,490.5 101.0,489.1 101.2,487.9 101.7,486.7 102.4,485.5 103.3,484.6 104.5,483.8 106.9,483.1 108.1,483.1 109.5,483.3 111.7,484.5 112.7,485.4 113.4,486.5 114.2,488.9 114.2,490.3 114.0,491.5 113.5,492.7 112.8,493.9 111.9,494.8 110.7,495.6 108.3,496.3Z" fill="none" stroke="#e88295" stroke-width="0.5" opacity="0.9"/>
<path d="M108.5,496.1 106.1,496.0 104.9,495.6 103.7,494.9 102.7,493.9 102.0,492.9 101.2,490.7 101.1,489.3 101.3,488.1 102.4,485.9 103.3,484.9 104.3,484.1 105.5,483.6 106.7,483.3 109.1,483.4 110.3,483.8 111.5,484.5 112.5,485.5 113.2,486.5 114.0,488.7 114.1,490.1 113.9,491.3 112.8,493.5 111.9,494.5 110.9,495.3 109.7,495.8 108.5,496.1Z" fill="none" stroke="#e77b8e" stroke-width="0.5" opacity="0.9"/>
<path d="M108.5,495.9 106.1,495.8 103.9,494.8 102.9,493.9 102.2,492.9 101.4,490.7 101.3,489.3 101.5,488.1 102.0,486.9 102.6,485.9 103.5,484.9 104.5,484.2 106.7,483.5 109.1,483.6 111.3,484.6 112.3,485.5 113.0,486.5 113.8,488.7 113.9,490.1 113.7,491.3 113.2,492.5 112.6,493.5 111.7,494.5 110.7,495.2 108.5,495.9Z" fill="none" stroke="#e67488" stroke-width="0.5" opacity="0.9"/>
<path d="M108.5,495.7 107.3,495.8 106.1,495.6 104.9,495.2 103.9,494.5 102.4,492.9 101.6,490.7 101.7,488.3 102.1,487.1 102.7,486.1 103.5,485.2 104.5,484.4 106.7,483.7 107.9,483.6 109.1,483.8 110.3,484.2 111.3,484.9 112.8,486.5 113.6,488.7 113.5,491.1 113.1,492.3 112.5,493.3 111.7,494.2 110.7,495.0 108.5,495.7Z" fill="none" stroke="#e56d81" stroke-width="0.5" opacity="0.9"/>
<path d="M108.7,495.5 107.5,495.6 106.3,495.5 104.3,494.6 102.6,492.9 101.8,490.7 101.8,488.5 102.2,487.3 102.8,486.3 104.5,484.7 106.7,483.9 107.9,483.8 109.1,484.0 111.1,484.9 112.6,486.5 113.4,488.7 113.4,490.9 113.0,492.1 112.4,493.1 110.9,494.6 109.9,495.1 108.7,495.5Z" fill="none" stroke="#e4667b" stroke-width="0.5" opacity="0.9"/>
<path d="M108.5,495.3 106.3,495.3 104.3,494.4 102.7,492.7 102.0,490.7 102.0,488.5 102.4,487.3 103.0,486.3 104.7,484.8 106.7,484.1 108.9,484.1 110.9,485.0 112.5,486.7 113.2,488.7 113.2,490.9 112.8,492.1 112.2,493.1 110.5,494.6 108.5,495.3Z" fill="none" stroke="#e35f74" stroke-width="0.5" opacity="0.9"/>
<path d="M108.5,495.1 106.3,495.0 104.5,494.2 103.0,492.7 102.2,490.7 102.2,488.5 103.1,486.5 104.7,485.0 106.7,484.3 108.9,484.4 110.7,485.2 112.2,486.7 113.0,488.7 113.0,490.9 112.1,492.9 110.5,494.4 108.5,495.1Z" fill="none" stroke="#e1576e" stroke-width="0.5" opacity="0.9"/>
<path d="M108.5,494.9 106.3,494.8 104.5,494.0 103.1,492.5 102.4,490.7 102.4,488.7 103.3,486.7 104.7,485.3 106.7,484.5 108.9,484.6 110.7,485.4 112.1,486.9 112.8,488.7 112.8,490.7 111.9,492.7 110.5,494.1 108.5,494.9Z" fill="none" stroke="#e05067" stroke-width="0.5" opacity="0.9"/>
<path d="M108.3,494.7 106.5,494.6 104.7,493.8 103.3,492.3 102.6,490.5 102.7,488.5 103.5,486.7 104.9,485.4 106.9,484.7 108.7,484.8 110.5,485.6 111.9,487.1 112.6,488.9 112.5,490.9 111.7,492.7 110.3,494.0 108.3,494.7Z" fill="none" stroke="#df4961" stroke-width="0.5" opacity="0.9"/>
<path d="M107.9,494.5 106.1,494.3 104.5,493.4 103.3,491.9 102.8,490.1 103.0,488.1 104.0,486.5 105.5,485.4 107.3,484.9 109.1,485.1 110.7,486.0 111.9,487.5 112.4,489.3 112.2,491.3 111.2,492.9 109.7,494.0 107.9,494.5Z" fill="none" stroke="#de425a" stroke-width="0.5" opacity="0.9"/>
<path d="M108.7,494.1 106.9,494.2 105.3,493.7 104.0,492.5 103.2,490.9 103.1,489.1 103.6,487.5 104.8,486.1 106.5,485.3 108.3,485.2 109.9,485.7 111.2,486.9 112.0,488.5 112.1,490.3 111.6,491.9 110.4,493.3 108.7,494.1Z" fill="none" stroke="#dd3b54" stroke-width="0.5" opacity="0.9"/>
<path d="M108.5,493.9 106.9,494.0 105.3,493.4 104.1,492.2 103.4,490.7 103.4,488.9 104.0,487.3 105.1,486.2 106.7,485.5 108.3,485.4 109.9,486.0 111.1,487.2 111.8,488.7 111.8,490.5 111.2,492.1 110.1,493.2 108.5,493.9Z" fill="none" stroke="#dc344d" stroke-width="0.5" opacity="0.9"/>
<path d="M108.1,493.7 106.5,493.6 105.1,492.9 104.1,491.7 103.6,490.3 103.7,488.7 104.4,487.3 105.5,486.3 107.1,485.7 108.7,485.8 110.1,486.5 111.1,487.7 111.6,489.1 111.5,490.7 110.8,492.1 109.7,493.1 108.1,493.7Z" fill="none" stroke="#da2c47" stroke-width="0.5" opacity="0.9"/>
<path d="M108.5,493.3 107.1,493.4 105.7,492.9 104.6,491.9 104.0,490.7 103.9,489.3 104.3,487.9 105.3,486.8 106.7,486.1 108.1,486.0 109.5,486.5 110.6,487.5 111.2,488.7 111.3,490.1 110.9,491.5 109.9,492.6 108.5,493.3Z" fill="none" stroke="#d92540" stroke-width="0.5" opacity="0.9"/>
<path d="M107.7,493.1 106.5,492.9 105.3,492.2 104.5,491.1 104.2,489.9 104.4,488.5 105.1,487.4 106.1,486.6 107.5,486.3 108.7,486.5 109.9,487.2 110.7,488.3 111.0,489.5 110.8,490.9 110.1,492.0 109.1,492.8 107.7,493.1Z" fill="none" stroke="#d81e3a" stroke-width="0.5" opacity="0.9"/>
<path d="M108.1,492.9 106.9,492.9 105.7,492.4 104.9,491.5 104.4,490.3 104.4,489.1 104.9,487.9 105.9,486.9 107.1,486.5 108.3,486.5 109.5,487.0 110.3,487.9 110.8,489.1 110.8,490.3 110.3,491.5 109.3,492.5 108.1,492.9Z" fill="#fff" fill-opacity="0.95" stroke="none"/>
<rect x="61" y="466.8" width="72" height="71.5" fill="none" stroke="#8a8a8a" stroke-width="0.6"/>
<line x1="95.3" y1="466.8" x2="95.3" y2="538.3" stroke="#777" stroke-width="0.65"/>
<line x1="61" y1="510.7" x2="133" y2="510.7" stroke="#777" stroke-width="0.65"/>
<line x1="60" y1="537.3" x2="61.2" y2="537.3" stroke="#222" stroke-width="0.6"/>
<line x1="60" y1="536.4" x2="61.2" y2="536.4" stroke="#222" stroke-width="0.6"/>
<line x1="60" y1="535.5" x2="61.2" y2="535.5" stroke="#222" stroke-width="0.6"/>
<line x1="60" y1="534.6" x2="61.2" y2="534.6" stroke="#222" stroke-width="0.6"/>
<line x1="60" y1="533.7" x2="61.2" y2="533.7" stroke="#222" stroke-width="0.6"/>
<line x1="60" y1="532.8" x2="61.2" y2="532.8" stroke="#222" stroke-width="0.6"/>
<line x1="60" y1="531.9" x2="61.2" y2="531.9" stroke="#222" stroke-width="0.6"/>
<line x1="60" y1="531" x2="61.2" y2="531" stroke="#222" stroke-width="0.6"/>
<line x1="60" y1="530.1" x2="61.2" y2="530.1" stroke="#222" stroke-width="0.6"/>
<line x1="60" y1="529.2" x2="61.2" y2="529.2" stroke="#222" stroke-width="0.6"/>
<line x1="60" y1="528.3" x2="61.2" y2="528.3" stroke="#222" stroke-width="0.6"/>
<line x1="60" y1="527.4" x2="61.2" y2="527.4" stroke="#222" stroke-width="0.6"/>
<line x1="60" y1="526.5" x2="61.2" y2="526.5" stroke="#222" stroke-width="0.6"/>
<line x1="60" y1="525.6" x2="61.2" y2="525.6" stroke="#222" stroke-width="0.6"/>
<line x1="60" y1="524.7" x2="61.2" y2="524.7" stroke="#222" stroke-width="0.6"/>
<line x1="60" y1="523.8" x2="61.2" y2="523.8" stroke="#222" stroke-width="0.6"/>
<line x1="60" y1="522.9" x2="61.2" y2="522.9" stroke="#222" stroke-width="0.6"/>
<line x1="60" y1="522" x2="61.2" y2="522" stroke="#222" stroke-width="0.6"/>
<line x1="60" y1="521.1" x2="61.2" y2="521.1" stroke="#222" stroke-width="0.6"/>
<line x1="60" y1="520.2" x2="61.2" y2="520.2" stroke="#222" stroke-width="0.6"/>
<line x1="60" y1="519.3" x2="61.2" y2="519.3" stroke="#222" stroke-width="0.6"/>
<line x1="60" y1="518.4" x2="61.2" y2="518.4" stroke="#222" stroke-width="0.6"/>
<line x1="60" y1="517.5" x2="61.2" y2="517.5" stroke="#222" stroke-width="0.6"/>
<line x1="60" y1="516.6" x2="61.2" y2="516.6" stroke="#222" stroke-width="0.6"/>
<line x1="60" y1="515.7" x2="61.2" y2="515.7" stroke="#222" stroke-width="0.6"/>
<line x1="60" y1="514.8" x2="61.2" y2="514.8" stroke="#222" stroke-width="0.6"/>
<line x1="60" y1="513.9" x2="61.2" y2="513.9" stroke="#222" stroke-width="0.6"/>
<line x1="60" y1="513" x2="61.2" y2="513" stroke="#222" stroke-width="0.6"/>
<line x1="60" y1="512.1" x2="61.2" y2="512.1" stroke="#222" stroke-width="0.6"/>
<line x1="60" y1="511.2" x2="61.2" y2="511.2" stroke="#222" stroke-width="0.6"/>
<line x1="60" y1="510.3" x2="61.2" y2="510.3" stroke="#222" stroke-width="0.6"/>
<line x1="60" y1="509.4" x2="61.2" y2="509.4" stroke="#222" stroke-width="0.6"/>
<line x1="58.8" y1="510.7" x2="61.2" y2="510.7" stroke="#222" stroke-width="0.6"/>
<line x1="60" y1="504.49" x2="61.2" y2="504.49" stroke="#222" stroke-width="0.6"/>
<line x1="60" y1="500.86" x2="61.2" y2="500.86" stroke="#222" stroke-width="0.6"/>
<line x1="60" y1="498.28" x2="61.2" y2="498.28" stroke="#222" stroke-width="0.6"/>
<line x1="60" y1="496.28" x2="61.2" y2="496.28" stroke="#222" stroke-width="0.6"/>
<line x1="60" y1="494.64" x2="61.2" y2="494.64" stroke="#222" stroke-width="0.6"/>
<line x1="60" y1="493.26" x2="61.2" y2="493.26" stroke="#222" stroke-width="0.6"/>
<line x1="60" y1="492.07" x2="61.2" y2="492.07" stroke="#222" stroke-width="0.6"/>
<line x1="60" y1="491.01" x2="61.2" y2="491.01" stroke="#222" stroke-width="0.6"/>
<line x1="58.8" y1="490.07" x2="61.2" y2="490.07" stroke="#222" stroke-width="0.6"/>
<line x1="60" y1="483.86" x2="61.2" y2="483.86" stroke="#222" stroke-width="0.6"/>
<line x1="60" y1="480.22" x2="61.2" y2="480.22" stroke="#222" stroke-width="0.6"/>
<line x1="60" y1="477.64" x2="61.2" y2="477.64" stroke="#222" stroke-width="0.6"/>
<line x1="60" y1="475.65" x2="61.2" y2="475.65" stroke="#222" stroke-width="0.6"/>
<line x1="60" y1="474.01" x2="61.2" y2="474.01" stroke="#222" stroke-width="0.6"/>
<line x1="60" y1="472.63" x2="61.2" y2="472.63" stroke="#222" stroke-width="0.6"/>
<line x1="60" y1="471.43" x2="61.2" y2="471.43" stroke="#222" stroke-width="0.6"/>
<line x1="60" y1="470.38" x2="61.2" y2="470.38" stroke="#222" stroke-width="0.6"/>
<line x1="58.8" y1="469.43" x2="61.2" y2="469.43" stroke="#222" stroke-width="0.6"/>
<line x1="64.5" y1="538.6" x2="64.5" y2="539.8" stroke="#222" stroke-width="0.6"/>
<line x1="65.4" y1="538.6" x2="65.4" y2="539.8" stroke="#222" stroke-width="0.6"/>
<line x1="66.3" y1="538.6" x2="66.3" y2="539.8" stroke="#222" stroke-width="0.6"/>
<line x1="67.2" y1="538.6" x2="67.2" y2="539.8" stroke="#222" stroke-width="0.6"/>
<line x1="68.1" y1="538.6" x2="68.1" y2="539.8" stroke="#222" stroke-width="0.6"/>
<line x1="69" y1="538.6" x2="69" y2="539.8" stroke="#222" stroke-width="0.6"/>
<line x1="69.9" y1="538.6" x2="69.9" y2="539.8" stroke="#222" stroke-width="0.6"/>
<line x1="70.8" y1="538.6" x2="70.8" y2="539.8" stroke="#222" stroke-width="0.6"/>
<line x1="71.7" y1="538.6" x2="71.7" y2="539.8" stroke="#222" stroke-width="0.6"/>
<line x1="72.6" y1="538.6" x2="72.6" y2="539.8" stroke="#222" stroke-width="0.6"/>
<line x1="73.5" y1="538.6" x2="73.5" y2="539.8" stroke="#222" stroke-width="0.6"/>
<line x1="74.4" y1="538.6" x2="74.4" y2="539.8" stroke="#222" stroke-width="0.6"/>
<line x1="75.3" y1="538.6" x2="75.3" y2="539.8" stroke="#222" stroke-width="0.6"/>
<line x1="76.2" y1="538.6" x2="76.2" y2="539.8" stroke="#222" stroke-width="0.6"/>
<line x1="77.1" y1="538.6" x2="77.1" y2="539.8" stroke="#222" stroke-width="0.6"/>
<line x1="78" y1="538.6" x2="78" y2="539.8" stroke="#222" stroke-width="0.6"/>
<line x1="78.9" y1="538.6" x2="78.9" y2="539.8" stroke="#222" stroke-width="0.6"/>
<line x1="79.8" y1="538.6" x2="79.8" y2="539.8" stroke="#222" stroke-width="0.6"/>
<line x1="80.7" y1="538.6" x2="80.7" y2="539.8" stroke="#222" stroke-width="0.6"/>
<line x1="81.6" y1="538.6" x2="81.6" y2="539.8" stroke="#222" stroke-width="0.6"/>
<line x1="82.5" y1="538.6" x2="82.5" y2="539.8" stroke="#222" stroke-width="0.6"/>
<line x1="83.4" y1="538.6" x2="83.4" y2="539.8" stroke="#222" stroke-width="0.6"/>
<line x1="84.3" y1="538.6" x2="84.3" y2="539.8" stroke="#222" stroke-width="0.6"/>
<line x1="85.2" y1="538.6" x2="85.2" y2="539.8" stroke="#222" stroke-width="0.6"/>
<line x1="86.1" y1="538.6" x2="86.1" y2="539.8" stroke="#222" stroke-width="0.6"/>
<line x1="87" y1="538.6" x2="87" y2="539.8" stroke="#222" stroke-width="0.6"/>
<line x1="87.9" y1="538.6" x2="87.9" y2="539.8" stroke="#222" stroke-width="0.6"/>
<line x1="88.8" y1="538.6" x2="88.8" y2="539.8" stroke="#222" stroke-width="0.6"/>
<line x1="94.3" y1="538.6" x2="94.3" y2="540.4" stroke="#222" stroke-width="0.6"/>
<line x1="99.71" y1="538.6" x2="99.71" y2="539.6" stroke="#222" stroke-width="0.6"/>
<line x1="102.87" y1="538.6" x2="102.87" y2="539.6" stroke="#222" stroke-width="0.6"/>
<line x1="105.12" y1="538.6" x2="105.12" y2="539.6" stroke="#222" stroke-width="0.6"/>
<line x1="106.86" y1="538.6" x2="106.86" y2="539.6" stroke="#222" stroke-width="0.6"/>
<line x1="108.28" y1="538.6" x2="108.28" y2="539.6" stroke="#222" stroke-width="0.6"/>
<line x1="109.48" y1="538.6" x2="109.48" y2="539.6" stroke="#222" stroke-width="0.6"/>
<line x1="110.52" y1="538.6" x2="110.52" y2="539.6" stroke="#222" stroke-width="0.6"/>
<line x1="111.44" y1="538.6" x2="111.44" y2="539.6" stroke="#222" stroke-width="0.6"/>
<line x1="112.27" y1="538.6" x2="112.27" y2="540.4" stroke="#222" stroke-width="0.6"/>
<line x1="112.27" y1="538.6" x2="112.27" y2="540.4" stroke="#222" stroke-width="0.6"/>
<line x1="117.6" y1="538.6" x2="117.6" y2="539.6" stroke="#222" stroke-width="0.6"/>
<line x1="120.72" y1="538.6" x2="120.72" y2="539.6" stroke="#222" stroke-width="0.6"/>
<line x1="122.93" y1="538.6" x2="122.93" y2="539.6" stroke="#222" stroke-width="0.6"/>
<line x1="124.65" y1="538.6" x2="124.65" y2="539.6" stroke="#222" stroke-width="0.6"/>
<line x1="126.05" y1="538.6" x2="126.05" y2="539.6" stroke="#222" stroke-width="0.6"/>
<line x1="127.24" y1="538.6" x2="127.24" y2="539.6" stroke="#222" stroke-width="0.6"/>
<line x1="128.27" y1="538.6" x2="128.27" y2="539.6" stroke="#222" stroke-width="0.6"/>
<line x1="129.17" y1="538.6" x2="129.17" y2="539.6" stroke="#222" stroke-width="0.6"/>
<line x1="129.98" y1="538.6" x2="129.98" y2="540.4" stroke="#222" stroke-width="0.6"/>
<line x1="61" y1="466.8" x2="61" y2="538.3" stroke="#555" stroke-width="0.5"/>
<text x="64.4" y="473.7" font-size="6.2" fill="#333" stroke="#333" stroke-width="0.15">EMRA</text>
<text x="129.2" y="473.7" font-size="6.2" fill="#333" stroke="#333" stroke-width="0.15" text-anchor="end">NV</text>
<text x="64.2" y="536.9" font-size="6.2" fill="#333" stroke="#333" stroke-width="0.15">EM</text>
<text x="130.4" y="536.9" font-size="6.2" fill="#333" stroke="#333" stroke-width="0.15" text-anchor="end">CM</text>
<text x="101.6" y="456.6" font-size="6.1" fill="#d6405a" stroke="#d6405a" stroke-width="0.2">Total CD8<tspan font-size="3.6" dy="-2">+</tspan><tspan dy="2"> </tspan></text>
<text x="101.3" y="464.2" font-size="6.1" fill="#3e60a6" stroke="#3e60a6" stroke-width="0.2">IFN-γ<tspan font-size="3.6" dy="-2">+</tspan><tspan dy="2"> </tspan>CD8<tspan font-size="3.6" dy="-2">+</tspan><tspan dy="2"> </tspan></text>
<path d="M172.8,526.5 167.4,526.5 163.0,525.4 161.0,524.4 159.5,523.3 158.4,522.1 157.7,520.7 157.5,519.1 157.6,515.3 155.6,506.0 154.8,503.4 152.1,497.5 151.6,495.5 151.5,493.5 152.2,490.3 153.9,487.5 156.4,485.3 159.6,483.8 162.6,483.3 165.6,483.4 168.4,484.3 171.0,485.9 172.7,487.5 174.1,489.5 177.4,497.2 178.4,498.1 181.2,499.3 182.8,500.4 184.2,502.3 185.1,504.5 185.7,508.9 184.7,515.1 185.5,519.5 185.0,521.7 183.4,523.4 180.8,524.8 177.4,525.8 172.8,526.5Z" fill="#f5cdd8" fill-opacity="0.8" stroke="none"/>
<path d="M172.8,526.5 170.0,526.6 167.4,526.5 165.0,526.0 163.0,525.4 161.0,524.4 159.5,523.3 158.4,522.1 157.7,520.7 157.5,519.1 157.6,515.3 155.6,506.0 154.8,503.4 152.1,497.5 151.6,495.5 151.5,493.5 151.7,491.9 152.2,490.3 152.9,488.9 153.9,487.5 155.0,486.3 156.4,485.3 158.0,484.4 159.6,483.8 162.6,483.3 165.6,483.4 168.4,484.3 171.0,485.9 172.7,487.5 174.1,489.5 175.1,491.7 176.6,495.7 177.4,497.2 178.4,498.1 181.2,499.3 182.8,500.4 184.2,502.3 185.1,504.5 185.6,506.7 185.7,508.9 185.5,511.1 184.7,515.1 184.8,516.3 185.5,519.5 185.4,520.7 185.0,521.7 183.4,523.4 180.8,524.8 177.4,525.8 172.8,526.5Z" fill="none" stroke="#eea0b2" stroke-width="0.42" opacity="0.85"/>
<path d="M171.0,526.3 166.4,526.0 164.2,525.4 162.6,524.8 161.0,523.9 159.7,522.9 158.8,521.7 158.3,520.5 158.1,519.1 158.3,515.1 156.3,506.1 155.4,503.3 152.7,497.3 152.2,495.5 152.1,493.5 152.3,491.9 152.8,490.5 153.5,489.1 154.5,487.7 155.6,486.6 157.0,485.6 158.6,484.8 160.4,484.2 163.4,483.8 166.2,484.2 168.8,485.2 171.0,486.7 172.6,488.4 173.9,490.5 174.8,492.5 176.2,496.9 176.9,498.3 178.0,499.2 180.8,500.1 182.4,501.1 183.8,502.9 184.8,505.5 185.1,507.5 185.1,509.7 184.0,515.3 184.9,518.7 185.0,519.9 184.8,520.9 184.3,521.9 183.4,522.9 182.4,523.6 179.4,525.0 175.2,526.0 171.0,526.3Z" fill="none" stroke="#ec99ab" stroke-width="0.42" opacity="0.85"/>
<path d="M173.0,525.9 168.0,525.8 164.0,524.9 162.2,524.1 160.7,523.1 159.6,521.9 159.0,520.7 158.8,519.3 159.2,516.1 159.0,514.3 158.0,510.5 156.7,504.7 156.0,502.9 153.4,497.5 152.9,495.5 152.8,493.7 153.3,490.9 154.0,489.5 154.8,488.3 157.0,486.3 159.8,485.0 162.6,484.5 165.4,484.7 168.0,485.5 170.4,487.0 172.1,488.9 173.4,491.1 174.3,493.3 175.6,498.0 176.4,499.7 177.5,500.5 180.4,501.1 181.8,501.8 183.1,503.3 184.0,505.2 184.4,507.3 184.5,509.7 184.2,511.3 183.2,515.1 183.4,516.1 184.4,519.1 184.4,520.3 184.0,521.3 182.6,523.0 180.2,524.3 176.8,525.4 173.0,525.9Z" fill="none" stroke="#e991a5" stroke-width="0.42" opacity="0.85"/>
<path d="M174.0,525.5 169.0,525.6 167.0,525.3 164.8,524.8 163.0,524.1 161.5,523.1 160.4,522.1 159.7,520.9 159.4,519.3 160.0,515.9 159.9,514.3 158.8,510.5 157.4,504.5 156.6,502.5 154.1,497.5 153.6,495.7 153.5,494.1 153.9,491.5 155.1,489.1 157.0,487.2 159.6,485.8 162.2,485.2 165.0,485.3 167.6,486.1 169.8,487.5 171.6,489.4 172.9,491.7 173.8,494.1 175.0,499.5 175.9,501.5 176.4,502.0 177.0,502.3 179.6,502.3 181.0,502.7 182.2,503.7 183.2,505.5 183.7,507.5 183.7,509.7 183.4,511.4 182.3,514.1 182.2,514.9 182.4,515.9 183.7,518.9 183.8,520.1 183.5,521.1 182.2,522.7 180.2,523.9 177.2,525.0 174.0,525.5Z" fill="none" stroke="#e78a9e" stroke-width="0.42" opacity="0.85"/>
<path d="M172.6,525.3 168.4,525.2 164.6,524.3 163.0,523.6 161.8,522.7 160.8,521.7 160.3,520.7 160.1,519.1 161.0,515.7 161.0,514.3 159.7,510.3 158.3,504.3 157.4,502.3 154.9,497.5 154.4,495.7 154.2,494.1 154.7,491.5 155.9,489.3 157.8,487.5 160.2,486.3 162.6,485.9 165.2,486.1 167.6,486.9 169.6,488.3 171.3,490.3 172.6,492.9 173.2,495.3 174.4,501.9 175.4,504.7 175.8,505.1 176.4,505.2 178.7,504.1 180.2,504.0 181.0,504.4 181.6,504.9 182.5,506.5 182.8,508.5 182.6,510.5 182.0,511.9 180.6,513.7 180.3,514.3 182.9,518.5 183.1,519.9 182.7,521.3 181.4,522.8 179.2,524.0 176.2,524.8 172.6,525.3Z M177.8,513.9 178.2,513.5 178.1,513.1 177.0,511.4 175.8,510.0 175.4,509.9 175.0,510.1 174.4,510.7 173.8,511.7 173.7,512.5 173.8,513.1 174.4,513.6 175.4,514.0 176.8,514.1 177.8,513.9Z" fill="none" stroke="#e58298" stroke-width="0.42" opacity="0.85"/>
<path d="M173.4,524.9 169.2,524.9 165.4,524.1 163.8,523.5 162.6,522.7 161.6,521.7 161.1,520.7 160.9,519.9 160.9,518.9 162.3,515.5 162.3,514.1 160.7,510.1 159.1,503.9 155.8,497.5 155.3,495.9 155.1,494.3 155.4,492.1 156.4,490.0 158.1,488.3 160.2,487.2 163.0,486.7 164.6,486.8 166.0,487.1 168.4,488.4 169.5,489.3 170.5,490.5 171.5,492.5 172.3,494.9 173.4,504.5 173.3,507.7 171.9,512.1 172.0,513.3 172.6,513.9 173.8,514.5 178.4,515.4 179.8,516.0 181.4,517.3 182.3,518.9 182.4,519.9 182.2,520.9 181.6,521.9 180.6,522.7 179.2,523.5 177.4,524.2 173.4,524.9Z M180.4,510.3 180.0,510.5 179.4,510.2 179.0,509.7 178.7,508.9 178.9,507.5 179.2,507.0 179.8,506.7 180.6,507.0 181.1,508.1 181.0,509.5 180.4,510.3Z" fill="none" stroke="#e37b91" stroke-width="0.42" opacity="0.85"/>
<path d="M173.8,524.5 169.6,524.6 166.0,523.9 164.4,523.2 163.3,522.5 162.4,521.7 161.9,520.7 161.7,519.7 161.9,518.5 163.9,515.1 164.1,513.9 162.0,509.9 159.9,503.1 156.7,497.3 156.2,495.9 156.0,494.5 156.2,492.5 157.0,490.7 158.5,489.1 160.4,488.0 162.0,487.6 163.6,487.5 165.2,487.8 166.6,488.3 168.0,489.2 169.2,490.3 170.1,491.7 170.8,493.1 171.3,494.9 171.6,496.9 172.0,505.3 171.5,508.7 169.9,512.7 169.9,513.3 170.1,513.7 171.0,514.3 172.0,514.7 177.4,516.0 179.0,516.5 180.5,517.5 181.5,518.9 181.7,519.9 181.5,520.7 180.9,521.7 180.0,522.5 177.4,523.8 173.8,524.5Z" fill="none" stroke="#e0738b" stroke-width="0.42" opacity="0.85"/>
<path d="M167.0,511.5 166.2,511.6 165.4,511.3 164.6,510.6 163.8,509.6 163.0,507.9 161.4,503.1 158.2,498.0 157.3,495.7 157.1,494.5 157.1,493.3 157.9,491.3 159.4,489.7 161.6,488.7 163.0,488.5 164.4,488.7 165.8,489.1 167.0,489.7 168.0,490.6 168.9,491.7 169.7,493.1 170.1,494.5 170.5,498.5 170.4,504.1 170.2,506.7 169.7,508.5 169.0,509.9 168.0,511.0 167.0,511.5Z M173.8,524.1 171.2,524.3 168.8,524.1 166.8,523.6 165.0,522.9 163.6,522.0 162.8,520.9 162.5,519.7 162.9,518.3 164.0,516.9 165.4,515.8 166.6,515.2 168.0,514.9 170.8,515.2 176.6,516.4 178.6,517.1 180.0,518.1 180.7,519.1 180.8,520.1 180.5,521.1 179.8,521.9 178.8,522.6 177.4,523.3 173.8,524.1Z" fill="none" stroke="#de6c84" stroke-width="0.42" opacity="0.85"/>
<path d="M166.6,506.8 166.0,506.7 165.2,506.0 163.1,502.5 159.6,497.9 158.6,495.7 158.4,493.9 158.9,492.1 160.2,490.7 161.8,489.9 164.0,489.8 166.0,490.5 167.7,492.1 168.7,494.3 169.0,495.7 169.1,497.5 168.4,502.7 167.6,505.7 167.2,506.4 166.6,506.8Z M173.6,523.7 171.4,523.8 169.4,523.7 167.4,523.3 165.8,522.7 164.6,521.9 163.7,520.9 163.5,519.9 163.7,518.7 164.6,517.6 166.0,516.6 167.6,516.1 169.4,515.9 172.2,516.1 175.8,516.8 177.9,517.5 179.2,518.5 179.8,519.3 179.9,520.1 179.7,520.9 179.0,521.7 178.0,522.4 176.8,523.0 173.6,523.7Z" fill="none" stroke="#dc647e" stroke-width="0.42" opacity="0.85"/>
<path d="M165.0,499.7 163.8,499.4 162.4,498.5 161.2,497.3 160.4,495.9 160.1,494.5 160.3,493.3 161.0,492.3 162.0,491.7 163.4,491.4 164.8,491.8 166.0,492.7 166.9,494.1 167.2,495.9 166.9,497.7 166.2,499.1 165.6,499.6 165.0,499.7Z M173.0,523.3 169.4,523.2 167.8,522.8 166.4,522.3 165.3,521.5 164.7,520.7 164.5,519.9 164.8,518.9 165.6,517.9 167.0,517.1 168.6,516.7 170.4,516.6 173.0,516.8 175.4,517.3 177.2,518.0 178.4,518.9 178.7,519.5 178.8,520.3 178.5,521.1 177.9,521.7 175.8,522.7 173.0,523.3Z" fill="none" stroke="#da5d77" stroke-width="0.42" opacity="0.85"/>
<path d="M173.2,522.7 170.2,522.7 167.6,522.1 166.6,521.5 166.0,520.8 165.7,520.1 165.9,519.3 166.5,518.5 167.6,517.8 169.0,517.4 170.8,517.2 172.8,517.4 174.8,517.8 176.2,518.4 177.2,519.1 177.5,519.7 177.6,520.3 177.0,521.3 175.4,522.2 173.2,522.7Z" fill="none" stroke="#d75571" stroke-width="0.42" opacity="0.85"/>
<path d="M172.4,522.1 170.4,522.0 168.5,521.5 167.9,521.1 167.4,520.5 167.4,519.5 167.9,518.9 168.8,518.4 171.4,518.0 174.2,518.5 175.2,518.9 175.8,519.5 176.0,520.3 175.5,521.1 174.2,521.8 172.4,522.1Z" fill="none" stroke="#d54e6a" stroke-width="0.42" opacity="0.85"/>
<path d="M172.4,520.9 171.4,521.0 170.4,520.8 169.8,520.3 169.7,519.9 170.2,519.5 171.0,519.2 172.0,519.2 173.0,519.5 173.5,519.9 173.6,520.3 173.1,520.7 172.4,520.9Z" fill="none" stroke="#d34664" stroke-width="0.42" opacity="0.85"/>
<path d="M175.4,526.1 168.8,526.2 164.4,525.4 162.4,524.6 160.8,523.5 159.5,522.1 158.8,520.7 158.2,516.4 156.8,510.7 156.0,503.7 153.6,496.9 153.2,493.5 153.8,490.7 155.3,488.1 157.6,486.0 160.6,484.5 163.4,483.8 166.0,483.9 168.6,484.6 170.8,485.8 173.3,488.3 176.4,493.8 179.6,497.0 181.0,499.7 181.8,502.7 182.2,505.9 181.9,514.1 182.6,515.3 186.0,518.3 186.7,519.5 186.7,520.7 185.7,522.5 183.2,524.2 179.8,525.4 175.4,526.1Z" fill="#cac4e6" fill-opacity="0.4" stroke="none"/>
<path d="M175.0,524.7 170.6,524.7 166.8,523.9 164.0,522.6 163.0,521.7 162.4,520.7 162.4,518.9 163.8,515.9 163.9,514.9 161.8,510.5 160.4,502.7 157.9,496.9 157.4,494.3 157.7,492.3 158.5,490.7 159.9,489.3 161.6,488.4 164.6,487.9 167.4,488.6 169.7,490.5 171.1,493.1 171.8,496.5 172.1,505.7 171.6,509.3 170.3,513.3 170.4,514.1 172.2,514.9 177.4,515.4 179.4,516.0 182.2,517.7 183.6,519.5 183.7,520.5 183.4,521.3 181.7,522.9 179.0,524.1 175.0,524.7Z" fill="#b0a8d8" fill-opacity="0.15" stroke="none"/>
<path d="M175.4,526.1 168.8,526.2 166.6,526.0 164.4,525.4 162.4,524.6 160.8,523.5 159.5,522.1 158.8,520.7 158.2,516.4 156.8,510.7 156.0,503.7 155.4,501.7 153.6,496.9 153.3,495.1 153.2,493.5 153.8,490.7 155.3,488.1 157.6,486.0 160.6,484.5 163.4,483.8 166.0,483.9 168.6,484.6 170.8,485.8 172.1,486.9 173.3,488.3 174.5,490.1 176.4,493.8 177.1,494.7 179.6,497.0 180.4,498.2 181.0,499.7 181.8,502.7 182.2,505.9 182.2,508.9 181.8,513.1 181.9,514.1 182.6,515.3 185.1,517.3 186.0,518.3 186.7,519.5 186.7,520.7 186.3,521.7 185.7,522.5 184.6,523.4 183.2,524.2 179.8,525.4 175.4,526.1Z" fill="none" stroke="#8c88d0" stroke-width="0.4" opacity="0.85"/>
<path d="M175.6,525.9 169.4,526.0 167.0,525.7 164.8,525.2 162.8,524.4 161.2,523.3 160.0,522.1 159.3,520.7 159.0,519.5 158.8,516.3 157.3,510.3 156.5,503.7 156.0,501.7 154.1,496.9 153.8,495.3 153.7,493.7 154.3,490.9 155.6,488.5 157.8,486.4 160.6,485.0 163.2,484.4 165.8,484.4 168.4,485.0 170.6,486.3 172.1,487.7 173.4,489.3 176.4,495.3 179.3,497.7 180.1,498.9 180.7,500.3 181.5,503.1 181.9,506.3 181.8,509.1 181.4,513.1 181.4,514.1 182.1,515.3 185.6,518.3 186.3,519.5 186.3,520.7 185.9,521.7 185.3,522.5 184.2,523.4 182.8,524.1 179.4,525.3 175.6,525.9Z" fill="none" stroke="#8682cc" stroke-width="0.4" opacity="0.85"/>
<path d="M175.6,525.7 169.8,525.8 167.6,525.5 165.2,525.0 163.2,524.2 161.6,523.1 160.4,521.9 159.8,520.7 159.5,519.5 159.4,516.3 158.0,510.7 157.0,503.5 156.4,501.5 154.7,496.9 154.2,493.9 154.7,491.3 156.0,488.9 158.0,486.9 160.6,485.5 163.2,484.9 165.8,484.9 168.2,485.5 170.5,486.9 172.0,488.3 173.2,490.1 176.0,496.6 176.6,497.2 179.0,498.6 179.8,499.7 180.5,501.1 181.2,503.7 181.5,506.7 181.4,509.3 180.9,513.1 180.9,514.1 181.7,515.3 184.4,517.5 185.4,518.5 185.9,519.5 185.9,520.7 185.5,521.7 184.8,522.5 182.6,524.0 179.2,525.2 175.6,525.7Z" fill="none" stroke="#807dc8" stroke-width="0.4" opacity="0.85"/>
<path d="M175.6,525.5 170.2,525.6 167.6,525.3 165.6,524.8 163.6,524.0 162.2,523.1 160.9,521.9 160.3,520.7 160.0,519.3 160.1,516.1 158.6,510.5 157.6,503.5 157.1,501.5 155.2,496.9 154.8,493.9 155.3,491.3 156.5,489.1 158.4,487.3 160.8,486.0 163.2,485.4 165.8,485.5 168.2,486.2 170.4,487.5 171.9,489.1 173.1,491.1 173.9,493.1 175.0,497.0 175.6,498.3 176.2,498.8 178.0,499.3 178.8,499.8 179.6,500.8 180.2,502.1 180.8,504.5 181.0,507.3 180.9,509.7 180.3,513.1 180.3,514.1 181.1,515.3 184.8,518.3 185.4,519.5 185.5,520.7 185.2,521.5 184.6,522.3 182.4,523.8 179.2,525.0 175.6,525.5Z" fill="none" stroke="#7b77c5" stroke-width="0.4" opacity="0.85"/>
<path d="M175.4,525.3 170.2,525.3 167.8,525.0 165.8,524.5 164.0,523.8 162.5,522.9 161.5,521.9 160.8,520.7 160.6,519.3 160.9,516.9 160.8,515.7 159.3,510.5 158.1,502.9 155.8,496.9 155.4,494.1 155.8,491.7 156.9,489.5 158.8,487.7 161.0,486.5 163.4,486.0 165.8,486.1 168.2,486.8 170.2,488.2 171.7,489.9 172.9,492.1 173.6,494.3 174.5,498.9 175.0,500.3 175.8,501.0 177.6,500.8 178.4,501.1 179.2,501.9 179.8,503.2 180.3,505.5 180.5,508.1 180.2,510.3 179.5,513.1 179.4,513.9 180.3,515.1 183.3,517.3 184.3,518.3 185.0,519.5 185.0,520.7 184.7,521.5 184.1,522.3 181.8,523.8 178.8,524.8 175.4,525.3Z M175.3,513.3 175.5,513.1 175.4,512.6 175.0,512.3 174.6,512.4 174.4,512.7 174.4,513.1 174.8,513.4 175.3,513.3Z" fill="none" stroke="#7571c1" stroke-width="0.4" opacity="0.85"/>
<path d="M175.4,525.1 170.6,525.1 168.2,524.8 166.2,524.4 164.4,523.6 163.0,522.8 161.9,521.7 161.4,520.7 161.2,519.3 161.7,516.5 161.7,515.5 160.0,510.3 158.8,502.7 156.5,496.9 156.0,494.1 156.4,491.9 157.4,489.9 159.0,488.3 161.2,487.1 163.6,486.6 166.0,486.7 168.2,487.5 170.1,488.9 171.6,490.9 172.6,493.3 173.1,495.5 174.0,501.9 174.8,504.8 175.0,505.1 175.4,505.0 176.7,503.5 177.6,503.0 178.4,503.2 179.2,504.4 179.6,506.1 179.7,508.3 179.4,510.2 178.8,511.5 178.0,512.0 177.3,511.7 176.5,510.7 175.2,508.2 174.8,508.1 174.2,508.9 173.0,511.8 172.7,512.9 172.8,513.5 173.2,513.9 174.1,514.3 175.4,514.4 177.6,514.3 179.0,514.8 182.4,517.0 183.7,518.1 184.5,519.3 184.6,520.5 184.4,521.3 183.8,522.1 182.8,522.9 181.6,523.6 178.8,524.6 175.4,525.1Z" fill="none" stroke="#6f6cbd" stroke-width="0.4" opacity="0.85"/>
<path d="M175.0,524.9 170.2,524.9 166.2,524.0 164.6,523.4 163.4,522.6 162.5,521.7 161.9,520.7 161.8,519.1 162.7,516.3 162.7,515.3 160.9,510.7 159.6,502.9 159.0,501.1 157.2,496.9 156.7,494.3 157.0,492.1 158.0,490.3 159.4,488.8 161.4,487.7 163.0,487.3 164.6,487.2 166.2,487.5 167.6,488.0 168.8,488.7 170.0,489.8 171.0,491.1 171.6,492.5 172.1,494.1 172.4,496.1 173.1,505.3 172.8,508.7 171.5,512.9 171.7,513.9 172.2,514.3 173.4,514.7 177.6,515.0 179.4,515.6 182.7,517.7 183.5,518.5 184.1,519.5 184.2,520.5 183.9,521.3 183.1,522.3 182.0,523.1 180.6,523.8 178.8,524.3 175.0,524.9Z" fill="none" stroke="#6966b9" stroke-width="0.4" opacity="0.85"/>
<path d="M174.6,524.7 170.2,524.6 166.6,523.8 165.0,523.2 163.9,522.5 163.1,521.7 162.5,520.7 162.3,519.9 162.4,518.9 163.9,515.9 164.0,514.9 162.5,512.1 161.9,510.5 161.3,508.3 160.4,502.7 159.8,500.9 158.0,496.9 157.5,494.3 157.7,492.5 158.6,490.7 160.0,489.3 161.8,488.3 163.2,488.0 164.6,488.0 166.0,488.2 167.4,488.7 168.6,489.5 169.6,490.5 170.4,491.7 171.1,493.3 171.7,496.5 172.0,505.9 171.5,509.3 170.1,513.3 170.3,514.1 170.8,514.5 172.0,514.9 177.4,515.5 179.2,515.9 182.2,517.7 183.2,518.7 183.6,519.5 183.7,520.5 183.4,521.3 182.8,522.1 181.6,523.0 180.2,523.6 178.4,524.2 174.6,524.7Z" fill="none" stroke="#6460b6" stroke-width="0.4" opacity="0.85"/>
<path d="M167.0,513.7 166.0,513.6 165.0,513.0 164.0,511.9 163.2,510.6 162.4,508.1 161.3,502.3 159.0,497.3 158.4,495.3 158.4,493.1 159.3,491.1 161.0,489.6 163.2,488.8 164.6,488.8 165.8,489.0 167.0,489.4 168.2,490.2 169.0,491.1 169.8,492.3 170.4,493.7 170.7,495.1 170.9,504.7 170.6,508.1 170.0,510.1 169.2,511.7 168.0,513.1 167.0,513.7Z M174.0,524.5 171.4,524.5 169.0,524.2 166.8,523.6 165.0,522.7 163.8,521.8 163.1,520.7 162.9,519.5 163.4,518.1 164.4,516.9 165.8,515.6 166.8,515.0 167.8,514.8 178.2,516.0 181.0,517.3 182.1,518.1 182.8,518.9 183.2,519.9 183.1,520.9 182.4,521.9 181.4,522.7 180.0,523.4 178.2,524.0 174.0,524.5Z" fill="none" stroke="#5e5bb2" stroke-width="0.4" opacity="0.85"/>
<path d="M167.0,510.7 166.2,510.8 165.6,510.5 164.8,509.8 164.3,508.9 163.7,507.3 162.6,502.1 160.0,497.3 159.4,495.3 159.4,493.3 160.1,491.7 161.4,490.5 163.2,489.8 165.4,489.9 167.4,490.8 168.8,492.5 169.6,494.7 169.8,497.1 169.3,506.7 169.0,508.2 168.5,509.3 167.8,510.2 167.0,510.7Z M175.8,524.1 173.2,524.3 170.8,524.1 168.6,523.8 166.5,523.1 165.1,522.3 164.0,521.3 163.6,520.1 163.8,518.9 164.6,517.7 166.0,516.6 167.6,515.9 169.6,515.7 175.2,516.0 178.0,516.3 180.2,517.2 181.9,518.5 182.5,519.3 182.6,520.3 182.4,521.1 181.8,521.9 180.7,522.7 179.2,523.4 175.8,524.1Z" fill="none" stroke="#5855ae" stroke-width="0.4" opacity="0.85"/>
<path d="M166.4,503.5 165.8,503.2 162.0,498.2 161.2,496.9 160.6,495.5 160.5,494.1 161.0,492.7 161.8,491.7 163.2,491.0 164.8,491.0 166.4,491.6 167.5,492.7 168.3,494.3 168.5,496.1 168.2,498.3 167.0,502.6 166.4,503.5Z M175.2,523.9 172.8,524.0 170.6,523.8 168.6,523.5 166.8,522.8 165.5,522.1 164.6,521.1 164.2,520.1 164.5,518.9 165.5,517.7 167.0,516.8 168.8,516.3 171.2,516.1 175.0,516.3 177.8,516.7 179.9,517.5 181.5,518.7 182.0,519.5 182.1,520.5 181.7,521.3 181.0,522.0 178.6,523.3 175.2,523.9Z" fill="none" stroke="#5250aa" stroke-width="0.4" opacity="0.85"/>
<path d="M165.6,497.5 165.0,497.7 164.2,497.5 163.4,496.9 162.7,495.9 162.4,494.9 162.5,494.1 162.8,493.4 163.4,493.0 164.2,492.8 165.0,492.9 165.8,493.4 166.3,494.1 166.6,495.1 166.5,496.1 166.2,496.9 165.6,497.5Z M174.2,523.7 170.2,523.5 168.4,523.0 167.0,522.5 165.8,521.7 165.2,520.9 164.9,520.1 165.1,519.1 166.0,518.1 167.6,517.2 169.6,516.7 172.2,516.5 175.6,516.7 178.0,517.1 179.8,517.9 181.1,519.1 181.5,519.9 181.4,520.7 180.9,521.5 180.2,522.1 179.0,522.7 177.6,523.2 174.2,523.7Z" fill="none" stroke="#4d4aa7" stroke-width="0.4" opacity="0.85"/>
<path d="M175.2,523.3 171.4,523.3 169.6,523.0 168.0,522.5 166.9,521.9 166.1,521.1 165.7,520.3 165.8,519.3 166.7,518.3 168.0,517.6 170.0,517.0 172.2,516.8 175.0,516.9 177.4,517.3 179.0,517.9 180.3,518.9 180.7,519.5 180.8,520.3 180.5,521.1 179.9,521.7 178.0,522.7 175.2,523.3Z" fill="none" stroke="#4744a3" stroke-width="0.4" opacity="0.85"/>
<path d="M175.6,522.9 172.0,523.0 168.8,522.3 167.6,521.7 166.9,521.1 166.5,520.3 166.6,519.5 167.2,518.7 168.6,517.9 170.2,517.4 172.2,517.2 174.4,517.3 176.6,517.6 178.2,518.1 179.5,518.9 179.9,519.5 180.1,520.1 180.0,520.7 179.6,521.3 178.0,522.3 175.6,522.9Z" fill="none" stroke="#413f9f" stroke-width="0.4" opacity="0.85"/>
<path d="M173.6,522.7 171.0,522.5 168.8,521.8 167.6,520.7 167.4,520.1 167.6,519.5 168.3,518.7 169.6,518.1 171.2,517.7 173.2,517.6 175.2,517.7 177.0,518.1 178.2,518.7 179.0,519.5 179.2,520.1 179.1,520.7 178.1,521.7 176.2,522.4 173.6,522.7Z" fill="none" stroke="#3b399b" stroke-width="0.4" opacity="0.85"/>
<path d="M175.2,522.1 172.6,522.2 170.2,521.8 168.8,520.9 168.5,520.3 168.6,519.7 169.1,519.1 170.0,518.6 172.8,518.1 175.8,518.4 177.0,518.8 177.8,519.3 178.2,520.1 177.9,520.9 176.8,521.7 175.2,522.1Z" fill="none" stroke="#363398" stroke-width="0.4" opacity="0.85"/>
<path d="M175.0,521.5 173.0,521.7 171.2,521.4 170.1,520.7 169.9,519.9 170.6,519.2 172.0,518.8 173.8,518.7 175.4,518.9 176.6,519.5 176.9,519.9 176.9,520.3 176.2,521.1 175.0,521.5Z" fill="none" stroke="#302e94" stroke-width="0.4" opacity="0.85"/>
<path d="M174.2,520.5 172.8,520.6 172.4,520.4 172.2,520.1 172.8,519.7 173.8,519.7 174.5,520.1 174.2,520.5Z" fill="none" stroke="#2a2890" stroke-width="0.4" opacity="0.85"/>
<path d="M165.5,494.7 L168.5,504.7 L171.5,512.7" fill="none" stroke="#fff" stroke-width="1.6" stroke-linecap="round" opacity="0.6" filter="url(#b04)"/>
<ellipse cx="174.5" cy="522.3" rx="10" ry="1.3" fill="#3a2c90" opacity="0.75" filter="url(#b04)"/>
<ellipse cx="173.7" cy="519.9" rx="4.5" ry="1.4" fill="#fff" opacity="0.9" filter="url(#b04)"/>
<path d="M191.2,496.7 188.4,496.7 185.8,495.6 183.8,493.5 182.8,490.9 182.9,488.1 184.1,485.5 186.2,483.6 188.8,482.6 191.6,482.8 194.0,483.8 196.0,485.9 197.0,488.5 196.9,491.3 195.7,493.9 193.6,495.8 191.2,496.7Z" fill="#f4bcc6" fill-opacity="0.8" stroke="none"/>
<path d="M191.2,496.7 189.8,496.9 188.4,496.7 187.0,496.2 185.8,495.6 184.8,494.7 183.8,493.5 183.2,492.3 182.8,490.9 182.7,489.5 182.9,488.1 183.3,486.9 184.1,485.5 185.0,484.5 186.2,483.6 187.4,483.0 188.8,482.6 190.2,482.6 191.6,482.8 192.8,483.2 194.0,483.8 195.0,484.7 196.0,485.9 196.6,487.1 197.0,488.5 197.1,489.9 196.9,491.3 196.5,492.5 195.7,493.9 194.8,494.9 193.6,495.8 191.2,496.7Z" fill="none" stroke="#ec98a8" stroke-width="0.5" opacity="0.9"/>
<path d="M191.4,496.5 190.2,496.7 188.8,496.6 187.4,496.2 186.2,495.6 185.0,494.7 184.2,493.7 183.5,492.5 183.1,491.1 182.9,489.7 183.1,488.3 183.5,486.9 184.0,485.9 185.0,484.7 186.0,483.9 187.2,483.3 188.6,482.8 191.2,482.8 192.6,483.3 193.8,483.9 194.8,484.7 195.8,485.9 196.3,486.9 196.7,488.3 196.9,489.7 196.7,491.1 196.3,492.5 195.8,493.5 194.0,495.4 192.8,496.1 191.4,496.5Z" fill="none" stroke="#eb91a2" stroke-width="0.5" opacity="0.9"/>
<path d="M190.2,496.5 187.8,496.2 186.6,495.7 185.4,494.8 184.5,493.9 183.8,492.7 183.3,491.5 183.1,490.1 183.2,488.7 183.5,487.3 184.1,486.1 184.9,485.1 185.8,484.3 187.0,483.5 188.4,483.0 189.6,482.9 192.0,483.2 193.2,483.7 194.4,484.6 195.3,485.5 196.0,486.7 196.5,487.9 196.7,489.3 196.6,490.7 196.3,492.1 195.7,493.3 194.9,494.3 194.0,495.1 192.8,495.9 191.4,496.4 190.2,496.5Z" fill="none" stroke="#ea8a9b" stroke-width="0.5" opacity="0.9"/>
<path d="M190.6,496.3 189.4,496.3 188.0,496.1 185.8,494.9 184.8,494.0 184.1,492.9 183.3,490.5 183.3,489.1 183.5,487.9 184.0,486.7 184.7,485.5 185.6,484.6 186.8,483.8 189.2,483.1 190.4,483.1 191.8,483.3 194.0,484.5 195.0,485.4 195.7,486.5 196.5,488.9 196.5,490.3 196.3,491.5 195.8,492.7 195.1,493.9 194.2,494.8 193.0,495.6 190.6,496.3Z" fill="none" stroke="#e88295" stroke-width="0.5" opacity="0.9"/>
<path d="M190.8,496.1 188.4,496.0 187.2,495.6 186.0,494.9 185.0,493.9 184.3,492.9 183.5,490.7 183.4,489.3 183.6,488.1 184.7,485.9 185.6,484.9 186.6,484.1 187.8,483.6 189.0,483.3 191.4,483.4 192.6,483.8 193.8,484.5 194.8,485.5 195.5,486.5 196.3,488.7 196.4,490.1 196.2,491.3 195.1,493.5 194.2,494.5 193.2,495.3 192.0,495.8 190.8,496.1Z" fill="none" stroke="#e77b8e" stroke-width="0.5" opacity="0.9"/>
<path d="M190.8,495.9 188.4,495.8 186.2,494.8 185.2,493.9 184.5,492.9 183.7,490.7 183.6,489.3 183.8,488.1 184.3,486.9 184.9,485.9 185.8,484.9 186.8,484.2 189.0,483.5 191.4,483.6 193.6,484.6 194.6,485.5 195.3,486.5 196.1,488.7 196.2,490.1 196.0,491.3 195.5,492.5 194.9,493.5 194.0,494.5 193.0,495.2 190.8,495.9Z" fill="none" stroke="#e67488" stroke-width="0.5" opacity="0.9"/>
<path d="M190.8,495.7 189.6,495.8 188.4,495.6 187.2,495.2 186.2,494.5 184.7,492.9 183.9,490.7 184.0,488.3 184.4,487.1 185.0,486.1 185.8,485.2 186.8,484.4 189.0,483.7 190.2,483.6 191.4,483.8 192.6,484.2 193.6,484.9 195.1,486.5 195.9,488.7 195.8,491.1 195.4,492.3 194.8,493.3 194.0,494.2 193.0,495.0 190.8,495.7Z" fill="none" stroke="#e56d81" stroke-width="0.5" opacity="0.9"/>
<path d="M191.0,495.5 189.8,495.6 188.6,495.5 186.6,494.6 184.9,492.9 184.1,490.7 184.1,488.5 184.5,487.3 185.1,486.3 186.8,484.7 189.0,483.9 190.2,483.8 191.4,484.0 193.4,484.9 194.9,486.5 195.7,488.7 195.7,490.9 195.3,492.1 194.7,493.1 193.2,494.6 192.2,495.1 191.0,495.5Z" fill="none" stroke="#e4667b" stroke-width="0.5" opacity="0.9"/>
<path d="M190.8,495.3 188.6,495.3 186.6,494.4 185.0,492.7 184.3,490.7 184.3,488.5 184.7,487.3 185.3,486.3 187.0,484.8 189.0,484.1 191.2,484.1 193.2,485.0 194.8,486.7 195.5,488.7 195.5,490.9 195.1,492.1 194.5,493.1 192.8,494.6 190.8,495.3Z" fill="none" stroke="#e35f74" stroke-width="0.5" opacity="0.9"/>
<path d="M190.8,495.1 188.6,495.0 186.8,494.2 185.3,492.7 184.5,490.7 184.5,488.5 185.4,486.5 187.0,485.0 189.0,484.3 191.2,484.4 193.0,485.2 194.5,486.7 195.3,488.7 195.3,490.9 194.4,492.9 192.8,494.4 190.8,495.1Z" fill="none" stroke="#e1576e" stroke-width="0.5" opacity="0.9"/>
<path d="M190.8,494.9 188.6,494.8 186.8,494.0 185.4,492.5 184.7,490.7 184.7,488.7 185.6,486.7 187.0,485.3 189.0,484.5 191.2,484.6 193.0,485.4 194.4,486.9 195.1,488.7 195.1,490.7 194.2,492.7 192.8,494.1 190.8,494.9Z" fill="none" stroke="#e05067" stroke-width="0.5" opacity="0.9"/>
<path d="M190.6,494.7 188.8,494.6 187.0,493.8 185.6,492.3 184.9,490.5 185.0,488.5 185.8,486.7 187.2,485.4 189.2,484.7 191.0,484.8 192.8,485.6 194.2,487.1 194.9,488.9 194.8,490.9 194.0,492.7 192.6,494.0 190.6,494.7Z" fill="none" stroke="#df4961" stroke-width="0.5" opacity="0.9"/>
<path d="M190.2,494.5 188.4,494.3 186.8,493.4 185.6,491.9 185.1,490.1 185.3,488.1 186.3,486.5 187.8,485.4 189.6,484.9 191.4,485.1 193.0,486.0 194.2,487.5 194.7,489.3 194.5,491.3 193.5,492.9 192.0,494.0 190.2,494.5Z" fill="none" stroke="#de425a" stroke-width="0.5" opacity="0.9"/>
<path d="M191.0,494.1 189.2,494.2 187.6,493.7 186.3,492.5 185.5,490.9 185.4,489.1 185.9,487.5 187.1,486.1 188.8,485.3 190.6,485.2 192.2,485.7 193.5,486.9 194.3,488.5 194.4,490.3 193.9,491.9 192.7,493.3 191.0,494.1Z" fill="none" stroke="#dd3b54" stroke-width="0.5" opacity="0.9"/>
<path d="M190.8,493.9 189.2,494.0 187.6,493.4 186.4,492.2 185.7,490.7 185.7,488.9 186.3,487.3 187.4,486.2 189.0,485.5 190.6,485.4 192.2,486.0 193.4,487.2 194.1,488.7 194.1,490.5 193.5,492.1 192.4,493.2 190.8,493.9Z" fill="none" stroke="#dc344d" stroke-width="0.5" opacity="0.9"/>
<path d="M190.4,493.7 188.8,493.6 187.4,492.9 186.4,491.7 185.9,490.3 186.0,488.7 186.7,487.3 187.8,486.3 189.4,485.7 191.0,485.8 192.4,486.5 193.4,487.7 193.9,489.1 193.8,490.7 193.1,492.1 192.0,493.1 190.4,493.7Z" fill="none" stroke="#da2c47" stroke-width="0.5" opacity="0.9"/>
<path d="M190.8,493.3 189.4,493.4 188.0,492.9 186.9,491.9 186.3,490.7 186.2,489.3 186.6,487.9 187.6,486.8 189.0,486.1 190.4,486.0 191.8,486.5 192.9,487.5 193.5,488.7 193.6,490.1 193.2,491.5 192.2,492.6 190.8,493.3Z" fill="none" stroke="#d92540" stroke-width="0.5" opacity="0.9"/>
<path d="M190.0,493.1 188.8,492.9 187.6,492.2 186.8,491.1 186.5,489.9 186.7,488.5 187.4,487.4 188.4,486.6 189.8,486.3 191.0,486.5 192.2,487.2 193.0,488.3 193.3,489.5 193.1,490.9 192.4,492.0 191.4,492.8 190.0,493.1Z" fill="none" stroke="#d81e3a" stroke-width="0.5" opacity="0.9"/>
<path d="M190.4,492.9 189.2,492.9 188.0,492.4 187.2,491.5 186.7,490.3 186.7,489.1 187.2,487.9 188.2,486.9 189.4,486.5 190.6,486.5 191.8,487.0 192.6,487.9 193.1,489.1 193.1,490.3 192.6,491.5 191.6,492.5 190.4,492.9Z" fill="#fff" fill-opacity="0.95" stroke="none"/>
<rect x="143.5" y="466.8" width="72.1" height="71.5" fill="none" stroke="#8a8a8a" stroke-width="0.6"/>
<line x1="177.6" y1="466.8" x2="177.6" y2="538.3" stroke="#777" stroke-width="0.65"/>
<line x1="143.5" y1="510.7" x2="215.6" y2="510.7" stroke="#777" stroke-width="0.65"/>
<line x1="142.5" y1="537.3" x2="143.7" y2="537.3" stroke="#222" stroke-width="0.6"/>
<line x1="142.5" y1="536.4" x2="143.7" y2="536.4" stroke="#222" stroke-width="0.6"/>
<line x1="142.5" y1="535.5" x2="143.7" y2="535.5" stroke="#222" stroke-width="0.6"/>
<line x1="142.5" y1="534.6" x2="143.7" y2="534.6" stroke="#222" stroke-width="0.6"/>
<line x1="142.5" y1="533.7" x2="143.7" y2="533.7" stroke="#222" stroke-width="0.6"/>
<line x1="142.5" y1="532.8" x2="143.7" y2="532.8" stroke="#222" stroke-width="0.6"/>
<line x1="142.5" y1="531.9" x2="143.7" y2="531.9" stroke="#222" stroke-width="0.6"/>
<line x1="142.5" y1="531" x2="143.7" y2="531" stroke="#222" stroke-width="0.6"/>
<line x1="142.5" y1="530.1" x2="143.7" y2="530.1" stroke="#222" stroke-width="0.6"/>
<line x1="142.5" y1="529.2" x2="143.7" y2="529.2" stroke="#222" stroke-width="0.6"/>
<line x1="142.5" y1="528.3" x2="143.7" y2="528.3" stroke="#222" stroke-width="0.6"/>
<line x1="142.5" y1="527.4" x2="143.7" y2="527.4" stroke="#222" stroke-width="0.6"/>
<line x1="142.5" y1="526.5" x2="143.7" y2="526.5" stroke="#222" stroke-width="0.6"/>
<line x1="142.5" y1="525.6" x2="143.7" y2="525.6" stroke="#222" stroke-width="0.6"/>
<line x1="142.5" y1="524.7" x2="143.7" y2="524.7" stroke="#222" stroke-width="0.6"/>
<line x1="142.5" y1="523.8" x2="143.7" y2="523.8" stroke="#222" stroke-width="0.6"/>
<line x1="142.5" y1="522.9" x2="143.7" y2="522.9" stroke="#222" stroke-width="0.6"/>
<line x1="142.5" y1="522" x2="143.7" y2="522" stroke="#222" stroke-width="0.6"/>
<line x1="142.5" y1="521.1" x2="143.7" y2="521.1" stroke="#222" stroke-width="0.6"/>
<line x1="142.5" y1="520.2" x2="143.7" y2="520.2" stroke="#222" stroke-width="0.6"/>
<line x1="142.5" y1="519.3" x2="143.7" y2="519.3" stroke="#222" stroke-width="0.6"/>
<line x1="142.5" y1="518.4" x2="143.7" y2="518.4" stroke="#222" stroke-width="0.6"/>
<line x1="142.5" y1="517.5" x2="143.7" y2="517.5" stroke="#222" stroke-width="0.6"/>
<line x1="142.5" y1="516.6" x2="143.7" y2="516.6" stroke="#222" stroke-width="0.6"/>
<line x1="142.5" y1="515.7" x2="143.7" y2="515.7" stroke="#222" stroke-width="0.6"/>
<line x1="142.5" y1="514.8" x2="143.7" y2="514.8" stroke="#222" stroke-width="0.6"/>
<line x1="142.5" y1="513.9" x2="143.7" y2="513.9" stroke="#222" stroke-width="0.6"/>
<line x1="142.5" y1="513" x2="143.7" y2="513" stroke="#222" stroke-width="0.6"/>
<line x1="142.5" y1="512.1" x2="143.7" y2="512.1" stroke="#222" stroke-width="0.6"/>
<line x1="142.5" y1="511.2" x2="143.7" y2="511.2" stroke="#222" stroke-width="0.6"/>
<line x1="142.5" y1="510.3" x2="143.7" y2="510.3" stroke="#222" stroke-width="0.6"/>
<line x1="142.5" y1="509.4" x2="143.7" y2="509.4" stroke="#222" stroke-width="0.6"/>
<line x1="141.3" y1="510.7" x2="143.7" y2="510.7" stroke="#222" stroke-width="0.6"/>
<line x1="142.5" y1="504.49" x2="143.7" y2="504.49" stroke="#222" stroke-width="0.6"/>
<line x1="142.5" y1="500.86" x2="143.7" y2="500.86" stroke="#222" stroke-width="0.6"/>
<line x1="142.5" y1="498.28" x2="143.7" y2="498.28" stroke="#222" stroke-width="0.6"/>
<line x1="142.5" y1="496.28" x2="143.7" y2="496.28" stroke="#222" stroke-width="0.6"/>
<line x1="142.5" y1="494.64" x2="143.7" y2="494.64" stroke="#222" stroke-width="0.6"/>
<line x1="142.5" y1="493.26" x2="143.7" y2="493.26" stroke="#222" stroke-width="0.6"/>
<line x1="142.5" y1="492.07" x2="143.7" y2="492.07" stroke="#222" stroke-width="0.6"/>
<line x1="142.5" y1="491.01" x2="143.7" y2="491.01" stroke="#222" stroke-width="0.6"/>
<line x1="141.3" y1="490.07" x2="143.7" y2="490.07" stroke="#222" stroke-width="0.6"/>
<line x1="142.5" y1="483.86" x2="143.7" y2="483.86" stroke="#222" stroke-width="0.6"/>
<line x1="142.5" y1="480.22" x2="143.7" y2="480.22" stroke="#222" stroke-width="0.6"/>
<line x1="142.5" y1="477.64" x2="143.7" y2="477.64" stroke="#222" stroke-width="0.6"/>
<line x1="142.5" y1="475.65" x2="143.7" y2="475.65" stroke="#222" stroke-width="0.6"/>
<line x1="142.5" y1="474.01" x2="143.7" y2="474.01" stroke="#222" stroke-width="0.6"/>
<line x1="142.5" y1="472.63" x2="143.7" y2="472.63" stroke="#222" stroke-width="0.6"/>
<line x1="142.5" y1="471.43" x2="143.7" y2="471.43" stroke="#222" stroke-width="0.6"/>
<line x1="142.5" y1="470.38" x2="143.7" y2="470.38" stroke="#222" stroke-width="0.6"/>
<line x1="141.3" y1="469.43" x2="143.7" y2="469.43" stroke="#222" stroke-width="0.6"/>
<line x1="147" y1="538.6" x2="147" y2="539.8" stroke="#222" stroke-width="0.6"/>
<line x1="147.9" y1="538.6" x2="147.9" y2="539.8" stroke="#222" stroke-width="0.6"/>
<line x1="148.8" y1="538.6" x2="148.8" y2="539.8" stroke="#222" stroke-width="0.6"/>
<line x1="149.7" y1="538.6" x2="149.7" y2="539.8" stroke="#222" stroke-width="0.6"/>
<line x1="150.6" y1="538.6" x2="150.6" y2="539.8" stroke="#222" stroke-width="0.6"/>
<line x1="151.5" y1="538.6" x2="151.5" y2="539.8" stroke="#222" stroke-width="0.6"/>
<line x1="152.4" y1="538.6" x2="152.4" y2="539.8" stroke="#222" stroke-width="0.6"/>
<line x1="153.3" y1="538.6" x2="153.3" y2="539.8" stroke="#222" stroke-width="0.6"/>
<line x1="154.2" y1="538.6" x2="154.2" y2="539.8" stroke="#222" stroke-width="0.6"/>
<line x1="155.1" y1="538.6" x2="155.1" y2="539.8" stroke="#222" stroke-width="0.6"/>
<line x1="156" y1="538.6" x2="156" y2="539.8" stroke="#222" stroke-width="0.6"/>
<line x1="156.9" y1="538.6" x2="156.9" y2="539.8" stroke="#222" stroke-width="0.6"/>
<line x1="157.8" y1="538.6" x2="157.8" y2="539.8" stroke="#222" stroke-width="0.6"/>
<line x1="158.7" y1="538.6" x2="158.7" y2="539.8" stroke="#222" stroke-width="0.6"/>
<line x1="159.6" y1="538.6" x2="159.6" y2="539.8" stroke="#222" stroke-width="0.6"/>
<line x1="160.5" y1="538.6" x2="160.5" y2="539.8" stroke="#222" stroke-width="0.6"/>
<line x1="161.4" y1="538.6" x2="161.4" y2="539.8" stroke="#222" stroke-width="0.6"/>
<line x1="162.3" y1="538.6" x2="162.3" y2="539.8" stroke="#222" stroke-width="0.6"/>
<line x1="163.2" y1="538.6" x2="163.2" y2="539.8" stroke="#222" stroke-width="0.6"/>
<line x1="164.1" y1="538.6" x2="164.1" y2="539.8" stroke="#222" stroke-width="0.6"/>
<line x1="165" y1="538.6" x2="165" y2="539.8" stroke="#222" stroke-width="0.6"/>
<line x1="165.9" y1="538.6" x2="165.9" y2="539.8" stroke="#222" stroke-width="0.6"/>
<line x1="166.8" y1="538.6" x2="166.8" y2="539.8" stroke="#222" stroke-width="0.6"/>
<line x1="167.7" y1="538.6" x2="167.7" y2="539.8" stroke="#222" stroke-width="0.6"/>
<line x1="168.6" y1="538.6" x2="168.6" y2="539.8" stroke="#222" stroke-width="0.6"/>
<line x1="169.5" y1="538.6" x2="169.5" y2="539.8" stroke="#222" stroke-width="0.6"/>
<line x1="170.4" y1="538.6" x2="170.4" y2="539.8" stroke="#222" stroke-width="0.6"/>
<line x1="171.3" y1="538.6" x2="171.3" y2="539.8" stroke="#222" stroke-width="0.6"/>
<line x1="176.6" y1="538.6" x2="176.6" y2="540.4" stroke="#222" stroke-width="0.6"/>
<line x1="182.05" y1="538.6" x2="182.05" y2="539.6" stroke="#222" stroke-width="0.6"/>
<line x1="185.24" y1="538.6" x2="185.24" y2="539.6" stroke="#222" stroke-width="0.6"/>
<line x1="187.5" y1="538.6" x2="187.5" y2="539.6" stroke="#222" stroke-width="0.6"/>
<line x1="189.25" y1="538.6" x2="189.25" y2="539.6" stroke="#222" stroke-width="0.6"/>
<line x1="190.68" y1="538.6" x2="190.68" y2="539.6" stroke="#222" stroke-width="0.6"/>
<line x1="191.9" y1="538.6" x2="191.9" y2="539.6" stroke="#222" stroke-width="0.6"/>
<line x1="192.95" y1="538.6" x2="192.95" y2="539.6" stroke="#222" stroke-width="0.6"/>
<line x1="193.87" y1="538.6" x2="193.87" y2="539.6" stroke="#222" stroke-width="0.6"/>
<line x1="194.7" y1="538.6" x2="194.7" y2="540.4" stroke="#222" stroke-width="0.6"/>
<line x1="194.7" y1="538.6" x2="194.7" y2="540.4" stroke="#222" stroke-width="0.6"/>
<line x1="200.08" y1="538.6" x2="200.08" y2="539.6" stroke="#222" stroke-width="0.6"/>
<line x1="203.22" y1="538.6" x2="203.22" y2="539.6" stroke="#222" stroke-width="0.6"/>
<line x1="205.45" y1="538.6" x2="205.45" y2="539.6" stroke="#222" stroke-width="0.6"/>
<line x1="207.18" y1="538.6" x2="207.18" y2="539.6" stroke="#222" stroke-width="0.6"/>
<line x1="208.6" y1="538.6" x2="208.6" y2="539.6" stroke="#222" stroke-width="0.6"/>
<line x1="209.79" y1="538.6" x2="209.79" y2="539.6" stroke="#222" stroke-width="0.6"/>
<line x1="210.83" y1="538.6" x2="210.83" y2="539.6" stroke="#222" stroke-width="0.6"/>
<line x1="211.74" y1="538.6" x2="211.74" y2="539.6" stroke="#222" stroke-width="0.6"/>
<line x1="212.56" y1="538.6" x2="212.56" y2="540.4" stroke="#222" stroke-width="0.6"/>
<line x1="143.5" y1="466.8" x2="143.5" y2="538.3" stroke="#555" stroke-width="0.5"/>
<text x="146.9" y="473.7" font-size="6.2" fill="#333" stroke="#333" stroke-width="0.15">EMRA</text>
<text x="211.8" y="473.7" font-size="6.2" fill="#333" stroke="#333" stroke-width="0.15" text-anchor="end">NV</text>
<text x="146.7" y="536.9" font-size="6.2" fill="#333" stroke="#333" stroke-width="0.15">EM</text>
<text x="213" y="536.9" font-size="6.2" fill="#333" stroke="#333" stroke-width="0.15" text-anchor="end">CM</text>
<text x="180.3" y="456.6" font-size="6.1" fill="#d6405a" stroke="#d6405a" stroke-width="0.2">Total CD8<tspan font-size="3.6" dy="-2">+</tspan><tspan dy="2"> </tspan></text>
<text x="180" y="464.2" font-size="6.1" fill="#3e60a6" stroke="#3e60a6" stroke-width="0.2">TNF-α<tspan font-size="3.6" dy="-2">+</tspan><tspan dy="2"> </tspan>CD8<tspan font-size="3.6" dy="-2">+</tspan><tspan dy="2"> </tspan></text>
<path d="M256.8,525.5 250.4,525.2 245.2,524.2 241.2,522.5 239.9,521.5 239.1,520.3 239.0,518.5 240.3,516.7 242.6,515.2 247.6,512.9 248.4,512.1 248.2,511.5 246.0,509.3 244.7,507.3 243.9,505.3 243.2,501.9 242.6,500.7 241.4,499.7 236.2,496.5 234.8,495.1 233.9,493.5 233.6,491.3 234.3,489.1 236.0,487.1 238.8,485.4 243.4,484.1 248.2,483.9 253.0,485.0 256.6,486.9 258.4,488.7 259.5,490.9 260.0,497.1 262.0,503.9 263.0,504.9 265.8,505.8 267.4,506.7 268.6,507.9 269.7,509.7 272.3,518.3 272.2,519.9 271.5,521.3 269.2,523.2 266.2,524.4 262.6,525.1 256.8,525.5Z" fill="#f5cdd8" fill-opacity="0.45" stroke="none"/>
<path d="M256.8,525.5 250.4,525.2 245.2,524.2 243.0,523.4 241.2,522.5 239.9,521.5 239.1,520.3 238.9,519.5 239.0,518.5 239.6,517.5 240.3,516.7 242.6,515.2 247.6,512.9 248.4,512.1 248.2,511.5 246.0,509.3 244.7,507.3 243.9,505.3 243.2,501.9 242.6,500.7 241.4,499.7 238.0,497.8 236.2,496.5 234.8,495.1 233.9,493.5 233.6,492.5 233.6,491.3 233.8,490.1 234.3,489.1 236.0,487.1 238.8,485.4 241.0,484.6 243.4,484.1 245.8,483.9 248.2,483.9 250.8,484.3 253.0,485.0 255.0,485.9 256.6,486.9 258.4,488.7 259.5,490.9 259.8,492.5 260.0,497.1 262.0,503.9 263.0,504.9 265.8,505.8 267.4,506.7 268.6,507.9 269.7,509.7 271.0,514.5 272.3,518.3 272.2,519.9 271.5,521.3 270.5,522.3 269.2,523.2 266.2,524.4 262.6,525.1 256.8,525.5Z" fill="none" stroke="#eea0b2" stroke-width="0.42" opacity="0.85"/>
<path d="M259.6,525.1 253.0,525.2 250.0,524.9 247.0,524.4 244.4,523.6 242.4,522.8 240.8,521.7 239.8,520.5 239.5,519.5 239.6,518.5 240.2,517.5 241.2,516.5 244.0,514.9 250.1,512.5 250.7,511.9 250.4,511.5 247.6,509.6 245.9,507.7 244.8,505.3 244.0,501.6 243.3,500.5 242.0,499.5 238.8,497.8 237.0,496.7 235.5,495.3 234.6,493.9 234.1,491.9 234.1,490.9 234.5,489.7 235.9,487.7 238.2,486.0 240.8,485.0 243.6,484.3 246.8,484.2 249.8,484.4 252.6,485.2 255.2,486.4 257.1,487.9 258.4,489.7 258.9,490.9 259.2,492.3 259.2,497.3 261.1,505.5 261.4,506.0 262.0,506.3 264.6,506.4 266.0,506.8 267.2,507.5 268.2,508.4 269.5,510.7 270.4,514.3 271.5,517.3 271.8,518.7 271.7,519.9 271.0,521.1 270.0,522.1 268.4,523.2 266.8,523.9 264.8,524.4 259.6,525.1Z M258.2,512.1 258.9,511.7 259.2,511.1 259.1,510.3 258.6,510.0 257.8,510.1 256.7,510.5 255.3,511.3 255.1,511.7 255.4,511.9 256.4,512.2 258.2,512.1Z" fill="none" stroke="#ec99ab" stroke-width="0.42" opacity="0.85"/>
<path d="M253.4,510.3 252.0,510.4 250.6,510.1 249.2,509.5 248.0,508.7 246.9,507.5 246.1,506.1 245.5,504.5 245.0,501.7 244.3,500.5 243.0,499.5 237.8,496.8 236.5,495.7 235.5,494.5 234.6,492.5 234.7,490.5 235.8,488.5 237.6,486.9 240.0,485.6 242.6,484.8 245.6,484.5 248.6,484.6 251.4,485.2 254.0,486.2 256.0,487.5 257.5,489.1 258.3,490.5 258.6,492.1 258.3,497.1 259.4,502.3 259.5,503.9 259.3,505.5 258.7,507.1 257.6,508.3 255.6,509.6 253.4,510.3Z M259.0,524.9 255.0,525.0 251.4,524.9 248.2,524.4 245.2,523.6 242.8,522.6 241.1,521.3 240.2,519.9 240.3,518.5 241.0,517.3 242.6,516.1 244.8,515.0 247.6,514.0 252.0,512.9 257.6,512.9 259.4,512.5 260.4,511.7 261.3,509.3 262.2,508.3 263.0,507.8 264.0,507.5 265.0,507.5 266.0,507.8 267.6,508.9 268.8,510.9 269.9,514.5 271.2,517.9 271.3,519.1 271.0,520.1 270.4,521.1 269.6,521.9 267.0,523.4 263.6,524.4 259.0,524.9Z" fill="none" stroke="#e991a5" stroke-width="0.42" opacity="0.85"/>
<path d="M253.0,509.1 251.8,509.1 250.6,508.9 248.6,507.7 247.7,506.7 247.0,505.5 246.5,504.1 246.0,501.5 245.3,500.3 243.8,499.3 238.6,496.8 237.1,495.7 236.1,494.5 235.2,492.5 235.3,490.5 236.2,488.7 238.0,487.1 240.2,485.9 242.8,485.1 245.6,484.8 248.6,484.9 251.2,485.5 253.6,486.4 255.6,487.7 257.1,489.3 257.8,490.7 258.1,492.3 258.0,493.7 257.4,497.5 258.2,502.1 258.1,504.5 257.5,506.1 256.4,507.5 254.8,508.6 253.0,509.1Z M258.2,524.7 254.6,524.8 251.2,524.6 248.0,524.0 245.2,523.2 243.0,522.2 241.6,521.1 240.9,519.9 240.9,518.5 241.6,517.5 242.6,516.6 245.8,515.0 248.8,514.1 251.4,513.5 253.6,513.4 258.0,513.4 259.8,513.1 261.1,512.3 262.5,510.1 263.4,509.2 264.8,508.7 266.2,509.1 267.2,509.9 268.0,511.1 270.3,517.1 270.7,518.9 270.3,520.3 269.8,521.1 268.8,522.0 266.2,523.3 262.8,524.2 258.2,524.7Z" fill="none" stroke="#e78a9e" stroke-width="0.42" opacity="0.85"/>
<path d="M253.6,507.5 251.6,507.6 250.6,507.3 249.6,506.7 248.8,505.9 248.2,504.9 247.3,501.3 246.5,500.1 245.2,499.3 239.6,496.9 238.0,495.8 236.8,494.7 235.8,492.9 235.7,491.1 236.4,489.3 237.9,487.7 239.8,486.5 242.2,485.7 244.8,485.2 247.6,485.2 250.2,485.6 252.6,486.4 254.6,487.5 256.1,488.9 257.1,490.5 257.4,492.3 257.3,493.9 256.2,498.1 256.9,501.9 256.9,503.5 256.5,504.9 255.8,506.0 254.8,506.9 253.6,507.5Z M256.8,524.5 253.6,524.5 250.6,524.2 247.6,523.6 245.4,522.9 243.4,521.9 242.2,520.9 241.5,519.7 241.6,518.5 242.3,517.5 243.4,516.6 245.0,515.7 247.0,515.0 249.8,514.2 252.2,513.9 258.4,513.8 260.2,513.6 261.8,512.9 263.6,510.9 264.2,510.5 265.2,510.3 266.2,510.6 267.4,512.1 269.8,517.5 270.0,519.1 269.5,520.5 268.0,522.0 265.4,523.2 261.8,524.0 256.8,524.5Z" fill="none" stroke="#e58298" stroke-width="0.42" opacity="0.85"/>
<path d="M253.0,505.5 251.6,505.5 250.3,504.7 249.7,503.5 249.1,500.9 248.3,499.9 246.7,499.1 240.6,496.9 238.8,495.9 237.5,494.7 236.5,493.1 236.3,491.3 236.8,489.7 238.1,488.1 240.0,486.9 242.2,486.1 244.6,485.6 247.2,485.5 249.6,485.8 252.0,486.6 254.0,487.6 255.5,488.9 256.2,489.9 256.6,490.9 256.8,491.9 256.8,493.1 256.2,494.9 254.5,498.7 254.5,499.7 255.0,502.1 254.9,503.5 254.2,504.8 253.0,505.5Z M258.6,524.1 255.4,524.3 252.4,524.1 249.2,523.7 246.6,523.0 244.6,522.1 243.1,521.1 242.3,519.9 242.3,518.7 242.9,517.7 244.2,516.6 246.2,515.6 248.4,514.9 252.8,514.2 260.4,514.0 262.2,513.6 264.6,512.4 265.2,512.4 265.8,512.6 267.2,514.1 269.1,517.3 269.4,518.9 269.0,520.3 267.6,521.7 265.4,522.8 262.4,523.6 258.6,524.1Z" fill="none" stroke="#e37b91" stroke-width="0.42" opacity="0.85"/>
<path d="M251.2,498.7 249.0,498.8 244.4,497.8 241.4,496.8 239.4,495.7 237.9,494.3 237.0,492.7 236.9,491.1 237.6,489.5 238.8,488.2 240.4,487.2 242.4,486.4 244.8,486.0 247.2,485.9 249.4,486.2 251.6,486.9 253.4,487.8 254.7,488.9 255.7,490.3 256.1,491.7 256.1,493.1 255.4,494.9 254.2,496.6 252.6,498.1 251.2,498.7Z M257.2,523.9 254.4,523.9 251.6,523.7 249.2,523.3 246.8,522.7 245.0,521.8 243.8,520.9 243.1,519.9 243.1,518.7 244.2,517.3 246.0,516.2 248.8,515.2 252.2,514.6 260.4,514.5 264.6,514.1 266.0,514.6 267.6,516.1 268.4,517.5 268.7,518.9 268.3,520.1 267.2,521.3 265.6,522.3 263.4,523.0 260.4,523.6 257.2,523.9Z" fill="none" stroke="#e0738b" stroke-width="0.42" opacity="0.85"/>
<path d="M250.2,497.7 247.8,497.8 244.8,497.4 242.2,496.6 240.0,495.5 238.5,494.1 237.7,492.7 237.6,491.1 238.2,489.7 239.3,488.5 240.8,487.5 242.6,486.8 244.8,486.4 247.0,486.3 249.2,486.6 251.2,487.2 252.9,488.1 254.2,489.2 255.1,490.5 255.4,491.9 255.3,493.3 254.6,494.7 253.4,496.1 251.8,497.2 250.2,497.7Z M258.2,523.5 252.8,523.5 250.2,523.2 247.8,522.6 246.0,521.8 244.7,520.9 243.9,519.9 243.9,518.7 245.0,517.4 247.0,516.2 249.8,515.4 253.0,514.9 264.0,515.0 265.8,515.6 267.2,516.9 267.8,518.1 267.8,519.3 267.4,520.3 266.4,521.2 265.0,522.0 263.2,522.6 258.2,523.5Z" fill="none" stroke="#de6c84" stroke-width="0.42" opacity="0.85"/>
<path d="M248.8,497.1 246.4,497.1 244.0,496.7 241.8,495.9 240.1,494.9 239.0,493.7 238.3,492.3 238.4,490.9 239.1,489.5 240.2,488.5 241.8,487.6 243.6,487.1 245.6,486.8 247.6,486.8 249.6,487.2 251.4,487.8 252.8,488.7 253.9,489.9 254.5,491.1 254.6,492.3 254.3,493.7 253.4,495.0 252.2,496.0 250.6,496.7 248.8,497.1Z M258.6,523.1 256.0,523.3 253.2,523.2 250.8,522.9 248.6,522.4 246.9,521.7 245.6,520.9 244.9,519.9 244.8,518.9 245.6,517.7 247.6,516.5 250.4,515.7 253.4,515.3 257.0,515.2 263.2,515.7 265.0,516.2 266.4,517.3 266.9,518.3 266.9,519.3 266.4,520.3 265.6,521.0 264.4,521.7 262.8,522.3 258.6,523.1Z" fill="none" stroke="#dc647e" stroke-width="0.42" opacity="0.85"/>
<path d="M247.8,496.5 245.6,496.4 243.6,496.0 241.8,495.2 240.4,494.3 239.4,493.1 239.1,491.9 239.3,490.7 240.1,489.5 241.2,488.6 242.6,487.9 244.4,487.4 246.2,487.3 248.0,487.4 249.8,487.8 251.2,488.4 252.5,489.3 253.3,490.3 253.8,491.5 253.7,492.7 253.2,493.9 252.3,494.9 251.0,495.8 249.6,496.2 247.8,496.5Z M256.4,522.9 252.2,522.7 248.4,521.8 247.0,521.1 246.1,520.3 245.7,519.5 245.8,518.7 246.9,517.5 248.8,516.6 251.4,515.9 254.6,515.6 258.6,515.7 262.8,516.3 264.6,517.0 265.7,518.1 265.9,519.1 265.6,519.9 264.9,520.7 263.9,521.3 260.6,522.4 256.4,522.9Z" fill="none" stroke="#da5d77" stroke-width="0.42" opacity="0.85"/>
<path d="M248.6,495.7 246.8,495.9 245.0,495.7 243.2,495.2 241.8,494.5 240.7,493.5 240.1,492.5 240.0,491.3 240.4,490.3 241.2,489.4 242.3,488.7 243.6,488.2 245.2,487.9 246.8,487.8 248.4,488.0 249.8,488.4 251.1,489.1 252.0,489.9 252.7,490.9 252.9,491.9 252.7,492.9 252.1,493.9 251.2,494.7 250.0,495.3 248.6,495.7Z M256.0,522.5 252.2,522.3 249.0,521.5 247.8,520.8 247.1,520.1 246.8,519.5 246.9,518.7 247.9,517.7 249.8,516.8 252.2,516.3 255.0,516.0 258.4,516.2 261.8,516.8 263.7,517.5 264.6,518.5 264.6,519.3 264.4,519.9 263.6,520.6 262.6,521.2 259.6,522.1 256.0,522.5Z" fill="none" stroke="#d75571" stroke-width="0.42" opacity="0.85"/>
<path d="M247.6,495.1 246.0,495.1 244.6,494.9 243.2,494.4 242.2,493.8 241.4,492.9 241.1,492.1 241.2,491.1 241.6,490.3 243.2,489.1 245.8,488.5 248.4,488.7 249.6,489.1 250.6,489.7 251.3,490.5 251.7,491.3 251.8,492.3 251.4,493.1 250.8,493.8 250.0,494.4 248.8,494.9 247.6,495.1Z M257.6,521.9 253.8,522.0 250.6,521.4 249.4,520.9 248.6,520.3 248.1,519.7 248.1,518.9 248.8,518.1 250.4,517.3 252.4,516.8 254.8,516.5 257.6,516.6 260.2,517.1 262.0,517.7 263.0,518.5 263.2,518.9 263.1,519.5 262.2,520.5 260.2,521.4 257.6,521.9Z" fill="none" stroke="#d54e6a" stroke-width="0.42" opacity="0.85"/>
<path d="M248.0,494.1 245.6,494.2 243.6,493.5 242.9,492.9 242.5,492.3 242.4,491.5 242.6,490.9 243.7,489.9 245.6,489.3 247.6,489.4 249.2,490.0 250.3,491.1 250.4,492.3 249.6,493.4 248.0,494.1Z M257.4,521.3 254.4,521.4 251.8,521.0 250.0,520.1 249.7,519.7 249.6,519.1 250.2,518.3 251.4,517.7 253.0,517.3 254.8,517.1 256.8,517.2 258.8,517.5 260.4,518.0 261.3,518.7 261.4,519.5 260.6,520.3 259.3,520.9 257.4,521.3Z" fill="none" stroke="#d34664" stroke-width="0.42" opacity="0.85"/>
<path d="M246.8,492.9 245.8,492.9 244.9,492.5 244.5,491.9 244.6,491.3 245.2,490.8 246.0,490.6 247.0,490.6 247.8,491.0 248.3,491.5 248.2,492.1 247.6,492.7 246.8,492.9Z M257.0,520.5 255.0,520.6 253.2,520.4 252.1,519.9 251.8,519.5 251.8,519.1 252.1,518.7 252.8,518.3 255.0,517.9 257.4,518.2 258.4,518.5 258.9,518.9 259.0,519.5 258.6,519.9 257.0,520.5Z" fill="none" stroke="#d13f5d" stroke-width="0.42" opacity="0.85"/>
<path d="M260.2,526.5 254.4,526.4 249.2,525.4 245.2,523.7 243.9,522.7 243.2,521.7 242.9,520.5 243.3,519.3 246.6,515.1 246.6,511.1 247.1,508.9 248.5,506.9 250.4,505.6 252.0,505.1 253.6,504.9 255.2,505.2 256.8,505.9 258.3,507.1 259.4,508.7 259.9,510.3 260.3,512.9 260.9,513.9 262.7,514.7 270.0,517.0 272.2,518.3 273.3,519.7 273.5,520.9 273.1,522.1 272.2,523.1 270.6,524.1 265.8,525.8 260.2,526.5Z" fill="#cac4e6" fill-opacity="0.4" stroke="none"/>
<path d="M261.2,524.9 255.6,525.0 250.6,523.9 248.7,523.1 247.4,522.1 246.8,521.1 246.9,519.9 248.0,518.5 250.4,517.0 253.0,516.2 255.8,515.9 260.2,516.2 264.6,517.0 267.6,518.2 269.4,519.7 269.6,520.5 269.6,521.3 268.1,522.9 265.2,524.2 261.2,524.9Z" fill="#b0a8d8" fill-opacity="0.15" stroke="none"/>
<path d="M260.2,526.5 254.4,526.4 249.2,525.4 247.0,524.7 245.2,523.7 243.9,522.7 243.2,521.7 242.9,520.5 243.3,519.3 244.1,518.1 246.0,516.1 246.6,515.1 246.7,514.3 246.6,511.1 247.1,508.9 248.5,506.9 250.4,505.6 252.0,505.1 253.6,504.9 255.2,505.2 256.8,505.9 258.3,507.1 259.4,508.7 259.9,510.3 260.3,512.9 260.9,513.9 262.7,514.7 267.4,516.0 270.0,517.0 272.2,518.3 273.3,519.7 273.5,520.9 273.1,522.1 272.2,523.1 270.6,524.1 268.6,525.0 265.8,525.8 260.2,526.5Z" fill="none" stroke="#8c88d0" stroke-width="0.4" opacity="0.85"/>
<path d="M260.2,526.3 254.6,526.2 251.8,525.8 249.4,525.2 247.4,524.6 245.7,523.7 244.4,522.7 243.7,521.7 243.4,520.5 243.9,519.1 244.6,518.1 246.9,515.9 247.4,514.9 247.4,511.3 247.8,509.3 249.1,507.5 250.8,506.3 252.2,505.8 253.6,505.7 255.0,506.0 256.4,506.6 257.7,507.7 258.7,509.1 259.1,510.5 259.5,513.1 260.0,513.9 261.7,514.7 266.8,516.0 269.4,517.0 271.6,518.3 272.8,519.7 273.0,520.7 272.7,521.9 271.8,523.0 270.2,524.0 268.4,524.8 265.8,525.6 263.2,526.0 260.2,526.3Z" fill="none" stroke="#8682cc" stroke-width="0.4" opacity="0.85"/>
<path d="M260.2,526.1 254.8,526.0 250.0,525.2 247.8,524.4 246.2,523.6 245.0,522.7 244.2,521.7 243.9,520.5 244.4,519.1 245.4,517.9 247.6,515.9 248.3,514.9 248.5,514.1 248.3,511.3 248.8,509.5 249.8,508.1 251.2,507.1 252.4,506.8 253.6,506.7 254.8,506.9 255.8,507.3 257.0,508.3 257.8,509.5 258.3,510.9 258.5,513.1 259.2,514.1 260.5,514.7 266.4,516.2 268.8,517.0 271.1,518.3 272.3,519.7 272.5,520.9 272.2,521.9 271.3,522.9 269.8,523.9 267.8,524.8 265.6,525.4 260.2,526.1Z" fill="none" stroke="#807dc8" stroke-width="0.4" opacity="0.85"/>
<path d="M260.2,525.9 255.0,525.8 250.4,525.0 248.4,524.4 246.8,523.6 245.5,522.7 244.8,521.7 244.5,520.5 244.9,519.1 246.0,517.9 248.9,515.5 249.5,514.7 249.7,513.9 249.4,511.7 249.6,510.5 250.4,509.2 251.6,508.2 252.6,507.9 253.8,507.9 255.0,508.2 256.0,508.9 257.0,510.5 257.4,513.5 258.3,514.3 259.9,514.9 265.4,516.2 268.0,517.0 270.4,518.2 271.7,519.7 272.0,520.9 271.6,521.9 270.7,522.9 269.4,523.8 267.6,524.5 265.4,525.2 260.2,525.9Z" fill="none" stroke="#7b77c5" stroke-width="0.4" opacity="0.85"/>
<path d="M259.8,525.7 254.8,525.6 250.4,524.8 248.6,524.1 247.0,523.3 245.9,522.5 245.2,521.5 245.1,520.1 245.8,518.7 247.2,517.5 250.6,515.1 251.3,514.3 251.5,513.7 251.1,512.1 251.2,511.3 251.6,510.4 252.4,509.8 253.8,509.6 254.9,510.3 255.4,511.3 255.6,513.5 256.5,514.3 258.3,514.9 264.4,516.2 267.4,517.1 270.0,518.4 270.8,519.1 271.3,519.9 271.4,520.9 271.1,521.9 270.1,522.9 268.8,523.7 267.2,524.4 265.0,525.0 259.8,525.7Z" fill="none" stroke="#7571c1" stroke-width="0.4" opacity="0.85"/>
<path d="M259.4,525.5 256.4,525.5 253.8,525.2 251.4,524.8 249.0,524.0 247.3,523.1 246.2,522.1 245.6,520.9 245.8,519.7 247.0,518.2 249.4,516.6 252.4,515.2 254.4,514.9 261.2,515.8 265.8,516.8 268.9,518.1 269.9,518.9 270.6,519.7 270.9,520.7 270.6,521.7 269.7,522.7 268.4,523.6 266.8,524.2 264.6,524.9 259.4,525.5Z" fill="none" stroke="#6f6cbd" stroke-width="0.4" opacity="0.85"/>
<path d="M261.6,525.1 258.6,525.3 255.6,525.2 252.8,524.8 250.4,524.2 248.4,523.3 247.0,522.3 246.3,521.1 246.3,519.9 247.4,518.4 249.6,517.0 252.6,515.8 255.0,515.5 259.6,515.8 264.8,516.8 268.0,518.0 269.1,518.7 269.8,519.5 270.2,520.5 270.1,521.3 269.7,522.1 268.8,522.9 267.4,523.7 265.8,524.3 261.6,525.1Z" fill="none" stroke="#6966b9" stroke-width="0.4" opacity="0.85"/>
<path d="M261.0,524.9 258.2,525.0 255.4,524.9 252.8,524.5 250.4,523.8 248.6,523.0 247.5,522.1 246.9,521.1 247.0,519.9 247.4,519.1 248.2,518.4 250.6,517.0 253.2,516.2 256.0,515.9 260.4,516.3 264.8,517.1 267.7,518.3 268.6,518.9 269.3,519.7 269.6,520.5 269.5,521.3 269.0,522.1 268.0,522.9 265.0,524.2 261.0,524.9Z" fill="none" stroke="#6460b6" stroke-width="0.4" opacity="0.85"/>
<path d="M260.4,524.7 257.8,524.8 255.2,524.6 252.8,524.2 250.8,523.6 249.2,522.9 248.0,521.9 247.5,520.9 247.6,519.9 248.8,518.5 250.8,517.4 253.4,516.6 256.4,516.3 260.4,516.6 264.2,517.3 267.0,518.3 268.0,519.0 268.6,519.7 268.9,520.5 268.8,521.3 268.3,522.1 267.2,522.9 264.4,524.0 260.4,524.7Z" fill="none" stroke="#5e5bb2" stroke-width="0.4" opacity="0.85"/>
<path d="M258.8,524.5 254.4,524.2 250.8,523.2 249.5,522.5 248.6,521.7 248.2,520.9 248.4,519.9 249.6,518.6 251.8,517.5 254.4,516.8 257.4,516.7 261.2,517.0 264.6,517.7 267.0,518.9 268.1,520.1 268.2,520.9 267.9,521.7 267.0,522.5 266.0,523.1 262.8,524.1 258.8,524.5Z" fill="none" stroke="#5855ae" stroke-width="0.4" opacity="0.85"/>
<path d="M260.4,524.1 255.8,524.1 252.0,523.3 250.6,522.6 249.6,521.9 249.1,521.1 249.1,520.1 250.0,518.9 252.0,517.9 254.4,517.2 257.2,517.0 260.6,517.2 263.6,517.8 265.8,518.7 267.2,519.9 267.4,520.5 267.3,521.3 266.1,522.5 263.6,523.6 260.4,524.1Z" fill="none" stroke="#5250aa" stroke-width="0.4" opacity="0.85"/>
<path d="M261.0,523.7 256.8,523.8 253.0,523.2 251.6,522.6 250.5,521.9 249.9,521.1 249.9,520.3 250.2,519.7 250.8,519.1 252.4,518.2 254.6,517.6 257.2,517.4 260.2,517.5 263.0,518.1 265.1,518.9 266.3,519.9 266.6,520.5 266.5,521.1 265.6,522.2 263.6,523.1 261.0,523.7Z" fill="none" stroke="#4d4aa7" stroke-width="0.4" opacity="0.85"/>
<path d="M259.0,523.5 255.6,523.3 252.8,522.6 251.1,521.5 250.8,520.9 250.9,520.1 251.8,519.2 253.4,518.4 255.4,517.9 257.8,517.8 260.4,517.9 262.8,518.5 264.4,519.1 265.5,520.1 265.6,520.7 265.5,521.3 264.2,522.4 262.0,523.1 259.0,523.5Z" fill="none" stroke="#4744a3" stroke-width="0.4" opacity="0.85"/>
<path d="M258.4,523.1 255.8,522.9 253.5,522.3 252.1,521.3 251.9,520.9 251.9,520.3 252.6,519.5 254.0,518.8 255.8,518.4 258.0,518.2 260.2,518.4 262.2,518.8 263.7,519.5 264.5,520.3 264.5,520.9 264.3,521.3 263.0,522.3 261.0,522.9 258.4,523.1Z" fill="none" stroke="#413f9f" stroke-width="0.4" opacity="0.85"/>
<path d="M259.6,522.5 257.0,522.5 254.9,522.1 253.5,521.3 253.3,520.9 253.3,520.3 253.8,519.7 255.0,519.2 258.0,518.7 261.2,519.1 262.5,519.7 263.1,520.3 263.1,521.1 262.5,521.7 261.2,522.2 259.6,522.5Z" fill="none" stroke="#3b399b" stroke-width="0.4" opacity="0.85"/>
<path d="M259.8,521.7 258.2,521.9 256.5,521.7 255.3,521.1 255.1,520.5 255.7,519.9 257.0,519.5 258.6,519.5 260.0,519.7 261.0,520.1 261.4,520.7 260.9,521.3 259.8,521.7Z" fill="none" stroke="#363398" stroke-width="0.4" opacity="0.85"/>
<ellipse cx="245.6" cy="491.4" rx="5.2" ry="1.9" fill="#fff" opacity="0.95" filter="url(#b04)"/>
<ellipse cx="257.3" cy="522.1" rx="10" ry="1.3" fill="#5a3a98" opacity="0.7" filter="url(#b04)"/>
<path d="M247.3,519.9 L260.3,519.9" fill="none" stroke="#fff" stroke-width="1.3" stroke-linecap="round" opacity="0.85" filter="url(#b04)"/>
<path d="M273.4,496.7 270.6,496.7 268.0,495.6 265.9,493.5 264.9,490.9 265.0,488.1 266.1,485.7 268.2,483.6 270.8,482.6 273.6,482.7 276.0,483.8 278.1,485.9 279.1,488.5 279.0,491.3 277.9,493.7 276.0,495.6 273.4,496.7Z" fill="#f4bcc6" fill-opacity="0.8" stroke="none"/>
<path d="M273.4,496.7 272.0,496.9 270.6,496.7 269.4,496.4 268.0,495.6 266.9,494.7 265.9,493.5 265.3,492.3 264.9,490.9 264.8,489.5 265.0,488.1 266.1,485.7 267.0,484.6 268.2,483.6 269.4,483.0 270.8,482.6 272.2,482.5 273.6,482.7 276.0,483.8 277.1,484.7 278.1,485.9 278.7,487.1 279.1,488.5 279.2,489.9 279.0,491.3 277.9,493.7 277.1,494.7 276.0,495.6 274.6,496.4 273.4,496.7Z" fill="none" stroke="#ec98a8" stroke-width="0.5" opacity="0.9"/>
<path d="M273.6,496.5 272.4,496.7 271.0,496.6 269.6,496.3 268.4,495.7 267.3,494.9 266.4,493.9 265.7,492.7 265.2,491.5 265.0,490.3 265.1,488.9 265.3,487.7 265.9,486.3 266.7,485.1 267.8,484.1 269.0,483.4 270.2,482.9 271.4,482.7 272.8,482.8 274.0,483.0 275.4,483.6 276.6,484.4 277.6,485.5 278.3,486.7 278.8,487.9 279.0,489.3 278.9,490.7 278.6,492.1 278.0,493.3 277.1,494.5 276.0,495.4 275.0,496.0 273.6,496.5Z" fill="none" stroke="#eb91a2" stroke-width="0.5" opacity="0.9"/>
<path d="M272.4,496.5 271.0,496.4 269.8,496.2 268.6,495.6 267.4,494.7 265.9,492.7 265.4,491.5 265.2,490.1 265.3,488.7 265.5,487.5 266.1,486.3 267.0,485.1 269.0,483.6 270.2,483.1 271.6,482.9 273.0,483.0 274.2,483.2 275.4,483.8 276.6,484.7 278.1,486.7 278.6,487.9 278.8,489.3 278.7,490.7 278.5,491.9 277.9,493.1 277.0,494.3 275.0,495.8 273.8,496.3 272.4,496.5Z" fill="none" stroke="#ea8a9b" stroke-width="0.5" opacity="0.9"/>
<path d="M272.6,496.3 271.4,496.3 270.0,496.0 267.8,494.9 266.8,493.9 266.1,492.7 265.4,490.3 265.4,489.1 265.7,487.7 266.8,485.5 267.8,484.5 269.0,483.8 271.4,483.1 272.6,483.1 274.0,483.4 276.2,484.5 277.2,485.5 277.9,486.7 278.6,489.1 278.6,490.3 278.3,491.7 277.2,493.9 276.2,494.9 275.0,495.6 272.6,496.3Z" fill="none" stroke="#e88295" stroke-width="0.5" opacity="0.9"/>
<path d="M272.8,496.1 270.4,496.0 269.2,495.5 268.0,494.8 267.1,493.9 266.4,492.9 265.8,491.7 265.6,490.5 265.7,488.1 266.2,486.9 266.9,485.7 267.8,484.8 268.8,484.1 270.0,483.5 271.2,483.3 273.6,483.4 274.8,483.9 276.0,484.6 276.9,485.5 277.6,486.5 278.2,487.7 278.4,488.9 278.3,491.3 277.8,492.5 277.1,493.7 276.2,494.6 275.2,495.3 274.0,495.9 272.8,496.1Z" fill="none" stroke="#e77b8e" stroke-width="0.5" opacity="0.9"/>
<path d="M273.0,495.9 271.8,496.0 270.4,495.8 268.2,494.7 266.6,492.9 266.0,491.7 265.8,490.5 265.9,488.1 267.0,485.9 268.8,484.3 270.0,483.7 271.2,483.5 273.6,483.6 275.8,484.7 277.4,486.5 278.0,487.7 278.2,488.9 278.1,491.3 277.0,493.5 275.2,495.1 273.0,495.9Z" fill="none" stroke="#e67488" stroke-width="0.5" opacity="0.9"/>
<path d="M273.0,495.7 271.8,495.8 270.6,495.6 269.4,495.2 268.4,494.6 266.8,492.9 266.0,490.7 265.9,489.5 266.1,488.3 266.5,487.1 267.1,486.1 268.8,484.5 271.0,483.7 272.2,483.6 273.4,483.8 274.6,484.2 275.6,484.8 277.2,486.5 278.0,488.7 278.1,489.9 277.9,491.1 277.5,492.3 276.9,493.3 275.2,494.9 273.0,495.7Z" fill="none" stroke="#e56d81" stroke-width="0.5" opacity="0.9"/>
<path d="M273.0,495.5 271.8,495.6 270.6,495.4 268.6,494.5 267.0,492.9 266.5,491.9 266.2,490.7 266.1,489.5 266.3,488.3 267.2,486.3 268.8,484.7 269.8,484.2 271.0,483.9 272.2,483.8 273.4,484.0 275.4,484.9 277.0,486.5 277.5,487.5 277.8,488.7 277.9,489.9 277.7,491.1 276.8,493.1 275.2,494.7 274.2,495.2 273.0,495.5Z" fill="none" stroke="#e4667b" stroke-width="0.5" opacity="0.9"/>
<path d="M273.0,495.3 270.8,495.3 268.8,494.4 267.3,492.9 266.7,491.9 266.4,490.7 266.4,488.5 267.3,486.5 268.8,485.0 269.8,484.4 271.0,484.1 273.2,484.1 275.2,485.0 276.7,486.5 277.3,487.5 277.6,488.7 277.6,490.9 276.7,492.9 275.2,494.4 274.2,495.0 273.0,495.3Z" fill="none" stroke="#e35f74" stroke-width="0.5" opacity="0.9"/>
<path d="M273.0,495.1 270.8,495.1 268.8,494.2 267.4,492.7 266.6,490.7 266.6,488.5 267.5,486.5 269.0,485.1 271.0,484.3 273.2,484.3 275.2,485.2 276.6,486.7 277.4,488.7 277.4,490.9 276.5,492.9 275.0,494.3 273.0,495.1Z" fill="none" stroke="#e1576e" stroke-width="0.5" opacity="0.9"/>
<path d="M272.8,494.9 270.6,494.8 268.8,493.9 267.5,492.5 266.8,490.5 266.9,488.3 267.8,486.5 269.2,485.2 271.2,484.5 273.4,484.6 275.2,485.5 276.5,486.9 277.2,488.9 277.1,491.1 276.2,492.9 274.8,494.2 272.8,494.9Z" fill="none" stroke="#e05067" stroke-width="0.5" opacity="0.9"/>
<path d="M272.6,494.7 270.6,494.6 268.8,493.6 267.5,492.1 267.0,490.3 267.1,488.3 268.1,486.5 269.6,485.2 271.4,484.7 273.4,484.8 275.2,485.8 276.5,487.3 277.0,489.1 276.9,491.1 275.9,492.9 274.4,494.2 272.6,494.7Z" fill="none" stroke="#df4961" stroke-width="0.5" opacity="0.9"/>
<path d="M272.4,494.5 270.4,494.3 268.8,493.3 267.7,491.9 267.2,490.1 267.4,488.1 268.4,486.5 269.8,485.4 271.6,484.9 273.6,485.1 275.2,486.1 276.3,487.5 276.8,489.3 276.6,491.3 275.6,492.9 274.2,494.0 272.4,494.5Z" fill="none" stroke="#de425a" stroke-width="0.5" opacity="0.9"/>
<path d="M273.2,494.1 271.4,494.2 269.8,493.7 268.4,492.5 267.6,490.9 267.5,489.1 268.0,487.5 269.2,486.1 270.8,485.3 272.6,485.2 274.2,485.7 275.6,486.9 276.4,488.5 276.5,490.3 276.0,491.9 274.8,493.3 273.2,494.1Z" fill="none" stroke="#dd3b54" stroke-width="0.5" opacity="0.9"/>
<path d="M272.8,493.9 271.2,493.9 269.6,493.3 268.4,492.1 267.8,490.5 267.8,488.9 268.4,487.3 269.6,486.1 271.2,485.5 272.8,485.5 274.4,486.1 275.6,487.3 276.2,488.9 276.2,490.5 275.6,492.1 274.4,493.3 272.8,493.9Z" fill="none" stroke="#dc344d" stroke-width="0.5" opacity="0.9"/>
<path d="M272.4,493.7 270.8,493.6 269.4,492.8 268.4,491.5 268.0,490.1 268.1,488.5 268.9,487.1 270.2,486.1 271.6,485.7 273.2,485.8 274.6,486.6 275.6,487.9 276.0,489.3 275.9,490.9 275.1,492.3 273.8,493.3 272.4,493.7Z" fill="none" stroke="#da2c47" stroke-width="0.5" opacity="0.9"/>
<path d="M273.0,493.3 271.6,493.4 270.2,493.0 269.1,492.1 268.4,490.7 268.3,489.3 268.7,487.9 269.6,486.8 271.0,486.1 272.4,486.0 273.8,486.4 274.9,487.3 275.6,488.7 275.7,490.1 275.3,491.5 274.4,492.6 273.0,493.3Z" fill="none" stroke="#d92540" stroke-width="0.5" opacity="0.9"/>
<path d="M272.2,493.1 271.0,493.0 269.8,492.3 269.0,491.3 268.6,489.9 268.7,488.7 269.4,487.5 270.4,486.7 271.8,486.3 273.0,486.4 274.2,487.1 275.0,488.1 275.4,489.5 275.3,490.7 274.6,491.9 273.6,492.7 272.2,493.1Z" fill="none" stroke="#d81e3a" stroke-width="0.5" opacity="0.9"/>
<path d="M272.6,492.9 271.4,492.9 270.2,492.4 269.3,491.5 268.8,490.3 268.8,489.1 269.3,487.9 270.2,487.0 271.4,486.5 272.6,486.5 273.8,487.0 274.7,487.9 275.2,489.1 275.2,490.3 274.7,491.5 273.8,492.4 272.6,492.9Z" fill="#fff" fill-opacity="0.95" stroke="none"/>
<rect x="225.3" y="466.8" width="72.4" height="71.5" fill="none" stroke="#8a8a8a" stroke-width="0.6"/>
<line x1="258.4" y1="466.8" x2="258.4" y2="538.3" stroke="#777" stroke-width="0.65"/>
<line x1="225.3" y1="510.7" x2="297.7" y2="510.7" stroke="#777" stroke-width="0.65"/>
<line x1="224.3" y1="537.3" x2="225.5" y2="537.3" stroke="#222" stroke-width="0.6"/>
<line x1="224.3" y1="536.4" x2="225.5" y2="536.4" stroke="#222" stroke-width="0.6"/>
<line x1="224.3" y1="535.5" x2="225.5" y2="535.5" stroke="#222" stroke-width="0.6"/>
<line x1="224.3" y1="534.6" x2="225.5" y2="534.6" stroke="#222" stroke-width="0.6"/>
<line x1="224.3" y1="533.7" x2="225.5" y2="533.7" stroke="#222" stroke-width="0.6"/>
<line x1="224.3" y1="532.8" x2="225.5" y2="532.8" stroke="#222" stroke-width="0.6"/>
<line x1="224.3" y1="531.9" x2="225.5" y2="531.9" stroke="#222" stroke-width="0.6"/>
<line x1="224.3" y1="531" x2="225.5" y2="531" stroke="#222" stroke-width="0.6"/>
<line x1="224.3" y1="530.1" x2="225.5" y2="530.1" stroke="#222" stroke-width="0.6"/>
<line x1="224.3" y1="529.2" x2="225.5" y2="529.2" stroke="#222" stroke-width="0.6"/>
<line x1="224.3" y1="528.3" x2="225.5" y2="528.3" stroke="#222" stroke-width="0.6"/>
<line x1="224.3" y1="527.4" x2="225.5" y2="527.4" stroke="#222" stroke-width="0.6"/>
<line x1="224.3" y1="526.5" x2="225.5" y2="526.5" stroke="#222" stroke-width="0.6"/>
<line x1="224.3" y1="525.6" x2="225.5" y2="525.6" stroke="#222" stroke-width="0.6"/>
<line x1="224.3" y1="524.7" x2="225.5" y2="524.7" stroke="#222" stroke-width="0.6"/>
<line x1="224.3" y1="523.8" x2="225.5" y2="523.8" stroke="#222" stroke-width="0.6"/>
<line x1="224.3" y1="522.9" x2="225.5" y2="522.9" stroke="#222" stroke-width="0.6"/>
<line x1="224.3" y1="522" x2="225.5" y2="522" stroke="#222" stroke-width="0.6"/>
<line x1="224.3" y1="521.1" x2="225.5" y2="521.1" stroke="#222" stroke-width="0.6"/>
<line x1="224.3" y1="520.2" x2="225.5" y2="520.2" stroke="#222" stroke-width="0.6"/>
<line x1="224.3" y1="519.3" x2="225.5" y2="519.3" stroke="#222" stroke-width="0.6"/>
<line x1="224.3" y1="518.4" x2="225.5" y2="518.4" stroke="#222" stroke-width="0.6"/>
<line x1="224.3" y1="517.5" x2="225.5" y2="517.5" stroke="#222" stroke-width="0.6"/>
<line x1="224.3" y1="516.6" x2="225.5" y2="516.6" stroke="#222" stroke-width="0.6"/>
<line x1="224.3" y1="515.7" x2="225.5" y2="515.7" stroke="#222" stroke-width="0.6"/>
<line x1="224.3" y1="514.8" x2="225.5" y2="514.8" stroke="#222" stroke-width="0.6"/>
<line x1="224.3" y1="513.9" x2="225.5" y2="513.9" stroke="#222" stroke-width="0.6"/>
<line x1="224.3" y1="513" x2="225.5" y2="513" stroke="#222" stroke-width="0.6"/>
<line x1="224.3" y1="512.1" x2="225.5" y2="512.1" stroke="#222" stroke-width="0.6"/>
<line x1="224.3" y1="511.2" x2="225.5" y2="511.2" stroke="#222" stroke-width="0.6"/>
<line x1="224.3" y1="510.3" x2="225.5" y2="510.3" stroke="#222" stroke-width="0.6"/>
<line x1="224.3" y1="509.4" x2="225.5" y2="509.4" stroke="#222" stroke-width="0.6"/>
<line x1="223.1" y1="510.7" x2="225.5" y2="510.7" stroke="#222" stroke-width="0.6"/>
<line x1="224.3" y1="504.49" x2="225.5" y2="504.49" stroke="#222" stroke-width="0.6"/>
<line x1="224.3" y1="500.86" x2="225.5" y2="500.86" stroke="#222" stroke-width="0.6"/>
<line x1="224.3" y1="498.28" x2="225.5" y2="498.28" stroke="#222" stroke-width="0.6"/>
<line x1="224.3" y1="496.28" x2="225.5" y2="496.28" stroke="#222" stroke-width="0.6"/>
<line x1="224.3" y1="494.64" x2="225.5" y2="494.64" stroke="#222" stroke-width="0.6"/>
<line x1="224.3" y1="493.26" x2="225.5" y2="493.26" stroke="#222" stroke-width="0.6"/>
<line x1="224.3" y1="492.07" x2="225.5" y2="492.07" stroke="#222" stroke-width="0.6"/>
<line x1="224.3" y1="491.01" x2="225.5" y2="491.01" stroke="#222" stroke-width="0.6"/>
<line x1="223.1" y1="490.07" x2="225.5" y2="490.07" stroke="#222" stroke-width="0.6"/>
<line x1="224.3" y1="483.86" x2="225.5" y2="483.86" stroke="#222" stroke-width="0.6"/>
<line x1="224.3" y1="480.22" x2="225.5" y2="480.22" stroke="#222" stroke-width="0.6"/>
<line x1="224.3" y1="477.64" x2="225.5" y2="477.64" stroke="#222" stroke-width="0.6"/>
<line x1="224.3" y1="475.65" x2="225.5" y2="475.65" stroke="#222" stroke-width="0.6"/>
<line x1="224.3" y1="474.01" x2="225.5" y2="474.01" stroke="#222" stroke-width="0.6"/>
<line x1="224.3" y1="472.63" x2="225.5" y2="472.63" stroke="#222" stroke-width="0.6"/>
<line x1="224.3" y1="471.43" x2="225.5" y2="471.43" stroke="#222" stroke-width="0.6"/>
<line x1="224.3" y1="470.38" x2="225.5" y2="470.38" stroke="#222" stroke-width="0.6"/>
<line x1="223.1" y1="469.43" x2="225.5" y2="469.43" stroke="#222" stroke-width="0.6"/>
<line x1="228.8" y1="538.6" x2="228.8" y2="539.8" stroke="#222" stroke-width="0.6"/>
<line x1="229.7" y1="538.6" x2="229.7" y2="539.8" stroke="#222" stroke-width="0.6"/>
<line x1="230.6" y1="538.6" x2="230.6" y2="539.8" stroke="#222" stroke-width="0.6"/>
<line x1="231.5" y1="538.6" x2="231.5" y2="539.8" stroke="#222" stroke-width="0.6"/>
<line x1="232.4" y1="538.6" x2="232.4" y2="539.8" stroke="#222" stroke-width="0.6"/>
<line x1="233.3" y1="538.6" x2="233.3" y2="539.8" stroke="#222" stroke-width="0.6"/>
<line x1="234.2" y1="538.6" x2="234.2" y2="539.8" stroke="#222" stroke-width="0.6"/>
<line x1="235.1" y1="538.6" x2="235.1" y2="539.8" stroke="#222" stroke-width="0.6"/>
<line x1="236" y1="538.6" x2="236" y2="539.8" stroke="#222" stroke-width="0.6"/>
<line x1="236.9" y1="538.6" x2="236.9" y2="539.8" stroke="#222" stroke-width="0.6"/>
<line x1="237.8" y1="538.6" x2="237.8" y2="539.8" stroke="#222" stroke-width="0.6"/>
<line x1="238.7" y1="538.6" x2="238.7" y2="539.8" stroke="#222" stroke-width="0.6"/>
<line x1="239.6" y1="538.6" x2="239.6" y2="539.8" stroke="#222" stroke-width="0.6"/>
<line x1="240.5" y1="538.6" x2="240.5" y2="539.8" stroke="#222" stroke-width="0.6"/>
<line x1="241.4" y1="538.6" x2="241.4" y2="539.8" stroke="#222" stroke-width="0.6"/>
<line x1="242.3" y1="538.6" x2="242.3" y2="539.8" stroke="#222" stroke-width="0.6"/>
<line x1="243.2" y1="538.6" x2="243.2" y2="539.8" stroke="#222" stroke-width="0.6"/>
<line x1="244.1" y1="538.6" x2="244.1" y2="539.8" stroke="#222" stroke-width="0.6"/>
<line x1="245" y1="538.6" x2="245" y2="539.8" stroke="#222" stroke-width="0.6"/>
<line x1="245.9" y1="538.6" x2="245.9" y2="539.8" stroke="#222" stroke-width="0.6"/>
<line x1="246.8" y1="538.6" x2="246.8" y2="539.8" stroke="#222" stroke-width="0.6"/>
<line x1="247.7" y1="538.6" x2="247.7" y2="539.8" stroke="#222" stroke-width="0.6"/>
<line x1="248.6" y1="538.6" x2="248.6" y2="539.8" stroke="#222" stroke-width="0.6"/>
<line x1="249.5" y1="538.6" x2="249.5" y2="539.8" stroke="#222" stroke-width="0.6"/>
<line x1="250.4" y1="538.6" x2="250.4" y2="539.8" stroke="#222" stroke-width="0.6"/>
<line x1="251.3" y1="538.6" x2="251.3" y2="539.8" stroke="#222" stroke-width="0.6"/>
<line x1="252.2" y1="538.6" x2="252.2" y2="539.8" stroke="#222" stroke-width="0.6"/>
<line x1="257.4" y1="538.6" x2="257.4" y2="540.4" stroke="#222" stroke-width="0.6"/>
<line x1="263.02" y1="538.6" x2="263.02" y2="539.6" stroke="#222" stroke-width="0.6"/>
<line x1="266.32" y1="538.6" x2="266.32" y2="539.6" stroke="#222" stroke-width="0.6"/>
<line x1="268.65" y1="538.6" x2="268.65" y2="539.6" stroke="#222" stroke-width="0.6"/>
<line x1="270.46" y1="538.6" x2="270.46" y2="539.6" stroke="#222" stroke-width="0.6"/>
<line x1="271.94" y1="538.6" x2="271.94" y2="539.6" stroke="#222" stroke-width="0.6"/>
<line x1="273.19" y1="538.6" x2="273.19" y2="539.6" stroke="#222" stroke-width="0.6"/>
<line x1="274.27" y1="538.6" x2="274.27" y2="539.6" stroke="#222" stroke-width="0.6"/>
<line x1="275.23" y1="538.6" x2="275.23" y2="539.6" stroke="#222" stroke-width="0.6"/>
<line x1="276.08" y1="538.6" x2="276.08" y2="540.4" stroke="#222" stroke-width="0.6"/>
<line x1="276.08" y1="538.6" x2="276.08" y2="540.4" stroke="#222" stroke-width="0.6"/>
<line x1="281.65" y1="538.6" x2="281.65" y2="539.6" stroke="#222" stroke-width="0.6"/>
<line x1="284.9" y1="538.6" x2="284.9" y2="539.6" stroke="#222" stroke-width="0.6"/>
<line x1="287.21" y1="538.6" x2="287.21" y2="539.6" stroke="#222" stroke-width="0.6"/>
<line x1="289" y1="538.6" x2="289" y2="539.6" stroke="#222" stroke-width="0.6"/>
<line x1="290.46" y1="538.6" x2="290.46" y2="539.6" stroke="#222" stroke-width="0.6"/>
<line x1="291.69" y1="538.6" x2="291.69" y2="539.6" stroke="#222" stroke-width="0.6"/>
<line x1="292.77" y1="538.6" x2="292.77" y2="539.6" stroke="#222" stroke-width="0.6"/>
<line x1="293.71" y1="538.6" x2="293.71" y2="539.6" stroke="#222" stroke-width="0.6"/>
<line x1="294.56" y1="538.6" x2="294.56" y2="540.4" stroke="#222" stroke-width="0.6"/>
<line x1="225.3" y1="466.8" x2="225.3" y2="538.3" stroke="#555" stroke-width="0.5"/>
<text x="228.7" y="473.7" font-size="6.2" fill="#333" stroke="#333" stroke-width="0.15">EMRA</text>
<text x="293.9" y="473.7" font-size="6.2" fill="#333" stroke="#333" stroke-width="0.15" text-anchor="end">NV</text>
<text x="228.5" y="536.9" font-size="6.2" fill="#333" stroke="#333" stroke-width="0.15">EM</text>
<text x="295.1" y="536.9" font-size="6.2" fill="#333" stroke="#333" stroke-width="0.15" text-anchor="end">CM</text>
<text x="267.9" y="456.6" font-size="6.1" fill="#d6405a" stroke="#d6405a" stroke-width="0.2">Total CD8<tspan font-size="3.6" dy="-2">+</tspan><tspan dy="2"> </tspan></text>
<text x="267.6" y="464.2" font-size="6.1" fill="#3e60a6" stroke="#3e60a6" stroke-width="0.2">IL-2<tspan font-size="3.6" dy="-2">+</tspan><tspan dy="2"> </tspan>CD8<tspan font-size="3.6" dy="-2">+</tspan><tspan dy="2"> </tspan></text>
<path d="M89.5,620.9 82.3,620.9 76.7,620.0 74.5,619.2 72.9,618.3 72.0,617.1 71.9,615.9 73.2,614.1 76.3,612.4 87.6,609.1 88.1,608.5 87.5,606.7 87.7,605.5 88.3,604.5 89.7,603.6 91.3,603.0 93.1,602.8 94.9,602.9 96.7,603.4 98.3,604.3 99.1,605.5 99.3,606.7 98.7,608.5 99.0,609.1 105.6,612.1 106.9,613.5 106.9,614.9 106.2,615.9 104.9,617.0 100.9,618.8 95.5,620.2 89.5,620.9Z" fill="#ccc8ea" fill-opacity="0.7" stroke="none"/>
<path d="M90.7,619.1 85.3,619.2 80.7,618.6 77.8,617.3 77.2,616.5 77.2,615.7 78.4,614.3 81.1,612.9 84.7,612.0 89.3,611.4 93.5,611.3 97.3,611.8 100.1,612.7 101.5,613.9 101.6,614.7 101.3,615.5 99.1,617.1 95.3,618.4 90.7,619.1Z" fill="#a29cd2" fill-opacity="0.5" stroke="none"/>
<path d="M90.7,617.7 87.1,617.9 84.1,617.5 82.0,616.7 81.5,615.7 82.2,614.7 83.7,613.9 86.1,613.2 89.1,612.8 91.9,612.7 94.5,613.0 96.5,613.7 97.3,614.5 97.1,615.5 95.7,616.4 93.5,617.2 90.7,617.7Z" fill="#6a62b4" fill-opacity="0.5" stroke="none"/>
<path d="M88.7,621.3 85.1,621.4 81.5,621.2 78.3,620.8 75.5,620.2 73.3,619.3 71.7,618.3 70.8,617.1 70.8,615.9 71.2,615.1 72.1,614.1 74.9,612.4 77.7,611.4 83.9,609.7 85.5,609.1 86.0,608.5 85.6,606.3 86.0,604.9 87.1,603.6 88.7,602.6 91.1,601.9 93.7,601.6 96.3,602.0 98.5,602.8 100.0,603.9 101.0,605.3 101.2,606.3 100.8,608.3 101.0,608.9 101.7,609.5 105.5,611.2 107.2,612.3 107.7,612.9 108.1,613.7 108.1,614.5 107.9,615.1 106.9,616.3 105.5,617.3 103.7,618.2 101.1,619.2 95.3,620.6 88.7,621.3Z" fill="none" stroke="#a8a4dc" stroke-width="0.42" opacity="0.75"/>
<path d="M88.9,621.1 85.3,621.2 81.7,621.0 78.5,620.6 75.9,620.0 73.7,619.2 72.1,618.1 71.4,617.1 71.4,615.9 71.8,615.1 72.7,614.1 75.3,612.6 78.5,611.4 85.0,609.7 86.5,609.1 87.0,608.5 86.6,606.5 86.8,605.3 87.6,604.1 89.1,603.1 91.1,602.4 93.3,602.2 95.7,602.4 97.7,603.1 99.2,604.1 100.0,605.3 100.2,606.5 99.8,608.3 99.9,608.9 100.7,609.5 104.7,611.2 106.5,612.3 107.1,612.9 107.5,613.7 107.5,614.3 107.3,615.1 106.5,616.1 105.1,617.2 103.3,618.1 101.1,619.0 95.3,620.4 88.9,621.1Z" fill="none" stroke="#a09cd7" stroke-width="0.42" opacity="0.75"/>
<path d="M89.1,620.9 85.5,621.0 81.9,620.8 78.9,620.4 76.3,619.8 74.1,619.0 72.8,618.1 72.0,617.1 72.0,615.9 72.3,615.1 73.3,614.1 76.3,612.4 79.3,611.4 86.2,609.7 87.8,609.1 88.2,608.5 87.6,606.3 88.1,604.9 89.0,604.1 90.0,603.5 92.7,602.9 95.5,603.1 96.8,603.5 97.9,604.2 98.7,604.9 99.1,605.9 99.1,606.9 98.6,608.5 98.9,609.1 100.0,609.7 104.7,611.6 106.1,612.5 106.8,613.5 106.8,614.7 106.1,615.9 104.6,617.1 102.5,618.2 99.7,619.2 96.3,620.0 92.7,620.6 89.1,620.9Z" fill="none" stroke="#9894d2" stroke-width="0.42" opacity="0.75"/>
<path d="M89.1,620.7 85.7,620.8 82.3,620.6 79.1,620.2 76.7,619.7 74.7,618.9 73.3,617.9 72.6,616.9 72.6,615.9 73.0,615.1 73.9,614.1 75.3,613.2 77.1,612.4 80.7,611.2 87.6,609.7 89.4,609.1 89.8,608.5 89.0,606.7 89.0,605.9 89.3,605.3 90.7,604.2 92.9,603.7 94.3,603.7 95.5,604.0 96.6,604.5 97.3,605.1 97.8,606.3 97.7,607.1 97.0,608.5 97.3,609.1 103.9,611.6 105.3,612.5 106.1,613.5 106.2,614.7 105.5,615.9 104.1,617.0 102.1,618.1 99.5,619.0 96.3,619.8 92.7,620.4 89.1,620.7Z" fill="none" stroke="#908ccd" stroke-width="0.42" opacity="0.75"/>
<path d="M94.3,607.9 93.1,608.1 91.7,607.5 91.0,606.7 91.0,606.1 91.2,605.7 91.9,605.1 92.9,604.9 94.1,604.9 95.2,605.3 95.8,605.9 95.8,606.7 95.3,607.4 94.3,607.9Z M88.9,620.5 82.5,620.4 77.5,619.6 75.5,618.9 74.0,617.9 73.3,616.9 73.2,615.9 73.7,614.9 74.9,613.9 76.5,613.0 78.9,612.0 83.5,610.8 93.1,609.0 95.5,609.4 102.1,611.2 104.3,612.3 105.0,612.9 105.5,613.7 105.6,614.7 104.9,615.9 103.5,617.0 101.5,618.0 98.7,619.0 95.9,619.6 92.5,620.2 88.9,620.5Z" fill="none" stroke="#8784c8" stroke-width="0.42" opacity="0.75"/>
<path d="M88.7,620.3 82.5,620.2 79.7,619.8 77.5,619.3 75.7,618.5 74.5,617.7 73.9,616.7 73.9,615.7 74.6,614.7 75.7,613.8 77.5,612.8 79.7,612.0 84.9,610.8 91.9,609.8 95.7,610.0 100.5,611.0 103.5,612.3 104.3,612.9 104.9,613.7 104.9,614.7 104.2,615.9 102.7,617.0 100.7,618.0 98.3,618.8 95.1,619.6 88.7,620.3Z" fill="none" stroke="#7f7cc3" stroke-width="0.42" opacity="0.75"/>
<path d="M88.1,620.1 82.7,620.0 80.1,619.6 77.9,619.0 76.2,618.3 75.1,617.5 74.6,616.7 74.6,615.7 75.3,614.7 76.3,613.9 77.9,613.0 79.9,612.2 84.9,611.0 90.9,610.3 94.9,610.3 99.3,611.0 102.5,612.2 103.5,612.9 104.1,613.7 104.2,614.7 103.5,615.9 102.2,616.9 100.3,617.8 97.5,618.8 94.7,619.4 91.7,619.8 88.1,620.1Z" fill="none" stroke="#7774be" stroke-width="0.42" opacity="0.75"/>
<path d="M90.7,619.7 84.7,619.8 79.7,619.2 77.7,618.6 76.3,617.8 75.5,616.9 75.3,615.9 75.7,615.1 76.7,614.1 79.7,612.6 84.3,611.4 89.9,610.6 94.3,610.6 98.5,611.2 101.7,612.3 102.7,612.9 103.4,613.7 103.5,614.5 103.1,615.5 102.1,616.5 100.5,617.4 96.3,618.8 90.7,619.7Z" fill="none" stroke="#6f6cb9" stroke-width="0.42" opacity="0.75"/>
<path d="M90.1,619.5 84.5,619.6 79.7,618.8 77.9,618.2 76.8,617.5 76.2,616.7 76.1,615.7 76.6,614.9 77.5,614.1 80.7,612.6 84.7,611.6 89.7,610.9 93.9,610.9 98.1,611.5 101.1,612.5 102.0,613.1 102.6,613.9 102.7,614.7 102.2,615.7 101.3,616.5 99.7,617.4 95.3,618.7 90.1,619.5Z" fill="none" stroke="#6764b3" stroke-width="0.42" opacity="0.75"/>
<path d="M89.1,619.3 84.1,619.3 80.1,618.6 78.5,617.9 77.5,617.3 76.9,616.5 76.9,615.7 77.4,614.9 78.3,614.2 81.1,612.8 85.1,611.8 89.5,611.2 93.7,611.2 97.3,611.6 100.3,612.6 101.3,613.3 101.8,613.9 101.9,614.7 101.4,615.7 100.3,616.6 98.7,617.4 94.5,618.6 89.1,619.3Z" fill="none" stroke="#5f5cae" stroke-width="0.42" opacity="0.75"/>
<path d="M90.7,618.9 85.7,619.1 81.3,618.5 79.7,618.0 78.5,617.3 77.9,616.5 77.8,615.7 78.3,614.9 79.0,614.3 81.5,613.1 84.9,612.2 89.3,611.6 93.5,611.5 97.1,612.0 99.7,612.9 100.5,613.5 100.9,614.1 101.0,614.7 100.7,615.5 99.8,616.3 98.5,617.0 95.1,618.2 90.7,618.9Z" fill="none" stroke="#5754a9" stroke-width="0.42" opacity="0.75"/>
<path d="M89.3,618.7 84.9,618.7 81.5,618.1 79.4,617.1 78.9,616.5 78.8,615.7 79.1,615.1 79.7,614.5 82.1,613.3 85.3,612.4 89.3,611.9 92.9,611.8 96.3,612.2 98.7,613.0 99.4,613.5 99.9,614.1 100.1,614.7 99.7,615.5 98.8,616.3 97.5,617.0 93.7,618.1 89.3,618.7Z" fill="none" stroke="#4f4ca4" stroke-width="0.42" opacity="0.75"/>
<path d="M90.1,618.3 86.1,618.4 82.7,617.9 81.4,617.5 80.3,616.9 79.9,616.3 79.8,615.7 80.1,615.1 80.8,614.5 82.8,613.5 85.9,612.7 89.3,612.2 92.7,612.2 95.7,612.6 97.9,613.3 98.9,614.3 99.0,614.9 98.7,615.5 98.0,616.1 96.9,616.7 93.7,617.8 90.1,618.3Z" fill="none" stroke="#46449f" stroke-width="0.42" opacity="0.75"/>
<path d="M90.3,617.9 86.7,618.0 83.7,617.6 81.7,616.9 81.1,616.3 81.0,615.7 81.7,614.7 83.5,613.8 86.1,613.0 88.9,612.6 91.9,612.6 94.5,612.8 96.7,613.5 97.7,614.3 97.8,614.9 97.5,615.5 96.1,616.5 93.5,617.4 90.3,617.9Z" fill="none" stroke="#3e3c9a" stroke-width="0.42" opacity="0.75"/>
<path d="M89.9,617.5 86.9,617.6 84.3,617.2 82.8,616.5 82.4,616.1 82.4,615.5 83.1,614.7 84.7,613.9 86.9,613.4 89.3,613.1 91.7,613.0 93.9,613.3 95.5,613.8 96.4,614.5 96.4,614.9 96.2,615.5 95.0,616.3 92.7,617.1 89.9,617.5Z" fill="none" stroke="#363495" stroke-width="0.42" opacity="0.75"/>
<path d="M90.3,616.9 87.9,617.0 85.9,616.8 84.6,616.3 84.2,615.9 84.1,615.5 84.6,614.9 85.7,614.3 89.1,613.6 92.7,613.8 93.9,614.1 94.6,614.7 94.6,615.3 93.7,616.0 92.3,616.5 90.3,616.9Z" fill="none" stroke="#2e2c90" stroke-width="0.42" opacity="0.75"/>
<path d="M90.5,616.3 88.9,616.5 87.3,616.4 86.3,616.1 85.8,615.5 86.1,615.1 86.7,614.7 89.1,614.2 91.7,614.3 92.4,614.5 92.9,614.9 92.9,615.3 92.5,615.7 90.5,616.3Z" fill="#fff" fill-opacity="0.85" stroke="none"/>
<path d="M104.5,607.3 102.9,607.4 101.3,606.8 99.9,605.5 98.7,603.5 97.7,600.9 95.6,591.5 95.2,587.5 96.0,582.9 96.8,580.9 98.1,578.9 99.5,577.5 101.3,576.2 103.1,575.5 105.1,575.3 107.1,575.6 108.9,576.3 110.6,577.5 112.0,579.1 113.2,580.9 114.2,583.3 114.6,585.5 114.8,588.1 114.3,591.7 113.0,595.1 110.3,599.2 107.6,604.9 106.1,606.5 104.5,607.3Z" fill="#f8dade" fill-opacity="0.7" stroke="none"/>
<path d="M104.5,607.3 102.9,607.4 101.3,606.8 99.9,605.5 98.7,603.5 97.7,600.9 96.7,595.8 95.6,591.5 95.2,587.5 95.4,585.1 96.0,582.9 96.8,580.9 98.1,578.9 99.5,577.5 101.3,576.2 103.1,575.5 105.1,575.3 107.1,575.6 108.9,576.3 110.6,577.5 112.0,579.1 113.2,580.9 114.2,583.3 114.6,585.5 114.8,588.1 114.3,591.7 113.0,595.1 110.3,599.2 108.6,603.1 107.6,604.9 106.1,606.5 104.5,607.3Z" fill="none" stroke="#f2b2be" stroke-width="0.42" opacity="0.8"/>
<path d="M103.9,606.9 102.5,606.8 101.1,606.1 99.8,604.7 98.8,602.9 98.0,600.5 97.1,596.1 95.9,591.1 95.6,589.1 95.5,587.1 95.8,584.9 96.4,582.7 97.4,580.7 98.6,578.9 100.1,577.5 101.7,576.5 103.5,575.9 105.3,575.8 107.1,576.1 108.9,576.8 110.5,578.0 112.0,579.7 113.2,581.7 114.0,583.9 114.4,586.1 114.4,588.5 114.1,591.3 113.3,593.7 112.4,595.3 109.9,599.1 107.8,603.9 106.9,605.1 105.9,606.1 104.9,606.7 103.9,606.9Z" fill="none" stroke="#f0aab7" stroke-width="0.42" opacity="0.8"/>
<path d="M104.3,606.3 102.7,606.3 101.3,605.6 100.0,604.3 99.0,602.5 98.2,600.1 97.3,595.4 96.2,591.1 95.9,587.3 96.2,585.1 96.8,582.9 97.6,581.1 98.8,579.3 100.1,578.0 101.7,577.0 103.5,576.4 105.3,576.2 107.1,576.5 108.7,577.2 110.3,578.4 111.6,579.9 112.8,581.9 113.6,583.9 114.0,586.1 114.1,588.3 113.8,590.9 113.0,593.3 112.0,595.3 109.7,598.7 107.8,603.1 106.1,605.3 105.3,605.9 104.3,606.3Z" fill="none" stroke="#efa2b0" stroke-width="0.42" opacity="0.8"/>
<path d="M104.3,605.7 102.9,605.8 101.5,605.2 100.2,603.9 99.2,602.1 98.6,600.1 97.7,595.5 96.6,591.1 96.3,587.3 96.5,585.1 97.0,583.3 97.9,581.3 99.1,579.6 100.3,578.5 101.9,577.4 103.7,576.8 105.3,576.7 107.1,577.0 108.7,577.8 110.1,578.8 111.4,580.3 112.5,582.1 113.2,584.1 113.6,586.1 113.7,588.3 113.3,591.3 112.2,594.1 109.5,598.3 107.1,603.5 105.7,605.0 104.3,605.7Z" fill="none" stroke="#ed9aa8" stroke-width="0.42" opacity="0.8"/>
<path d="M104.3,605.1 102.9,605.2 101.7,604.7 100.5,603.5 99.6,601.9 98.8,599.5 98.0,595.3 97.0,591.1 96.7,587.5 96.9,585.5 97.4,583.5 98.2,581.7 99.3,580.1 100.7,578.7 102.1,577.9 103.7,577.4 105.3,577.2 106.9,577.5 108.5,578.2 109.9,579.3 111.2,580.7 112.2,582.5 112.8,584.3 113.2,586.3 113.3,588.3 112.8,591.3 111.8,593.9 109.1,598.1 106.8,603.1 105.7,604.4 104.3,605.1Z" fill="none" stroke="#eb92a1" stroke-width="0.42" opacity="0.8"/>
<path d="M104.1,604.5 102.9,604.5 101.7,603.9 100.7,602.9 99.8,601.3 99.2,599.3 97.4,590.9 97.1,587.3 97.4,585.3 97.9,583.5 98.6,581.9 99.7,580.4 100.9,579.2 102.3,578.4 103.9,577.9 105.3,577.8 106.9,578.1 108.3,578.7 109.7,579.7 110.9,581.1 111.8,582.7 112.5,584.5 112.8,586.5 112.9,588.5 112.6,590.7 111.8,592.9 108.9,597.6 107.0,601.9 105.7,603.6 104.9,604.2 104.1,604.5Z" fill="none" stroke="#ea8a9a" stroke-width="0.42" opacity="0.8"/>
<path d="M104.3,603.7 103.1,603.8 101.9,603.3 100.9,602.3 100.2,600.9 99.6,599.1 97.8,590.7 97.5,587.3 97.8,585.5 98.3,583.7 99.0,582.1 100.1,580.7 101.3,579.6 102.5,578.9 103.9,578.4 105.3,578.3 106.7,578.6 108.1,579.2 109.5,580.2 110.6,581.5 111.4,582.9 112.0,584.7 112.4,586.5 112.4,588.3 112.0,590.9 111.2,593.1 108.5,597.3 106.4,601.9 105.4,603.1 104.3,603.7Z" fill="none" stroke="#e88293" stroke-width="0.42" opacity="0.8"/>
<path d="M104.3,602.9 103.1,603.0 102.1,602.6 101.2,601.7 100.5,600.3 99.9,598.5 98.3,590.5 98.0,587.5 98.2,585.7 98.7,584.1 99.4,582.5 100.2,581.3 101.3,580.3 102.7,579.4 103.9,579.0 105.3,578.9 106.7,579.2 108.1,579.8 109.3,580.8 110.2,581.9 111.0,583.3 111.6,584.9 111.9,586.7 112.0,588.3 111.6,590.7 110.7,592.9 108.1,597.0 106.1,601.3 105.3,602.3 104.3,602.9Z" fill="none" stroke="#e67a8b" stroke-width="0.42" opacity="0.8"/>
<path d="M103.9,602.1 102.9,602.0 102.1,601.6 101.4,600.7 100.8,599.5 98.8,590.5 98.5,587.3 98.7,585.7 99.2,584.1 99.8,582.9 100.7,581.6 101.7,580.7 102.9,580.0 104.1,579.6 105.3,579.6 106.5,579.8 107.7,580.3 108.9,581.2 109.8,582.3 110.6,583.7 111.2,585.3 111.4,586.9 111.4,588.5 111.0,590.9 110.1,592.9 107.7,596.5 105.7,600.7 104.9,601.6 103.9,602.1Z" fill="none" stroke="#e47284" stroke-width="0.42" opacity="0.8"/>
<path d="M104.1,600.9 103.3,601.0 102.5,600.7 101.8,599.9 101.3,598.8 99.3,590.3 99.1,587.3 99.7,584.5 100.3,583.3 101.1,582.1 102.1,581.2 103.1,580.7 104.1,580.4 105.3,580.3 106.5,580.5 107.5,581.0 108.5,581.7 109.4,582.7 110.1,583.9 110.6,585.3 110.9,586.7 110.9,588.3 110.6,590.3 109.8,592.3 107.2,596.1 105.4,599.7 104.8,600.5 104.1,600.9Z" fill="none" stroke="#e36a7d" stroke-width="0.42" opacity="0.8"/>
<path d="M103.7,599.5 103.1,599.5 102.6,599.1 101.8,597.5 99.9,590.3 99.7,587.3 100.3,584.7 101.5,582.7 102.3,582.0 103.3,581.4 104.3,581.1 105.3,581.1 106.5,581.3 107.5,581.8 109.1,583.5 110.1,585.9 110.3,588.5 109.9,590.5 109.1,592.3 106.6,595.7 104.9,598.7 104.3,599.3 103.7,599.5Z" fill="none" stroke="#e16276" stroke-width="0.42" opacity="0.8"/>
<path d="M103.9,597.2 103.3,597.1 102.9,596.7 102.1,594.9 100.6,590.3 100.4,587.3 100.9,585.1 102.0,583.3 103.5,582.2 105.3,581.9 107.1,582.6 108.6,584.1 109.4,586.1 109.6,588.5 109.2,590.3 108.3,592.1 104.7,596.5 103.9,597.2Z" fill="none" stroke="#df5a6e" stroke-width="0.42" opacity="0.8"/>
<path d="M104.7,594.1 104.1,594.3 103.5,594.1 102.5,592.9 101.4,590.3 101.1,587.7 101.5,585.9 102.3,584.3 103.7,583.2 105.1,582.9 106.5,583.3 107.8,584.5 108.6,586.1 108.8,588.1 108.5,589.9 107.7,591.5 106.3,593.0 104.7,594.1Z" fill="none" stroke="#de5267" stroke-width="0.42" opacity="0.8"/>
<path d="M104.9,592.1 103.9,592.0 103.0,591.1 102.3,589.5 102.1,587.9 102.4,586.5 103.0,585.3 103.9,584.5 105.1,584.2 106.1,584.5 107.0,585.3 107.6,586.5 107.8,587.9 107.6,589.3 107.0,590.5 106.1,591.5 104.9,592.1Z" fill="none" stroke="#dc4a60" stroke-width="0.42" opacity="0.8"/>
<path d="M105.1,591.2 104.3,591.1 103.5,590.6 102.9,589.5 102.7,588.3 102.8,587.1 103.3,586.0 104.1,585.2 104.9,585.0 105.7,585.1 106.5,585.7 107.0,586.7 107.2,587.7 107.1,588.9 106.7,589.9 105.9,590.8 105.1,591.2Z" fill="#fff" fill-opacity="0.9" stroke="none"/>
<path d="M78.9,607.8 C81.9,596.8 101.9,595.8 105.9,607.8" fill="none" stroke="#4a4a9a" stroke-width="0.4" opacity="0.75"/>
<path d="M81.4,607.8 C84.4,598.8 99.9,597.8 103.9,607.8" fill="none" stroke="#4a4a9a" stroke-width="0.4" opacity="0.75"/>
<path d="M83.4,607.8 C86.4,600.8 97.9,599.8 101.9,607.8" fill="none" stroke="#4a4a9a" stroke-width="0.4" opacity="0.75"/>
<path d="M85.4,607.8 C88.4,602.8 96.4,601.8 100.4,607.8" fill="none" stroke="#4a4a9a" stroke-width="0.4" opacity="0.75"/>
<path d="M88.4,607.8 C91.4,600.3 102.4,599.3 106.4,607.8" fill="none" stroke="#4a4a9a" stroke-width="0.4" opacity="0.75"/>
<rect x="60.4" y="562.8" width="72.6" height="72.7" fill="none" stroke="#8a8a8a" stroke-width="0.6"/>
<line x1="94.7" y1="562.8" x2="94.7" y2="635.5" stroke="#777" stroke-width="0.65"/>
<line x1="60.4" y1="607.3" x2="133" y2="607.3" stroke="#777" stroke-width="0.65"/>
<line x1="59.4" y1="634.5" x2="60.6" y2="634.5" stroke="#222" stroke-width="0.6"/>
<line x1="59.4" y1="633.6" x2="60.6" y2="633.6" stroke="#222" stroke-width="0.6"/>
<line x1="59.4" y1="632.7" x2="60.6" y2="632.7" stroke="#222" stroke-width="0.6"/>
<line x1="59.4" y1="631.8" x2="60.6" y2="631.8" stroke="#222" stroke-width="0.6"/>
<line x1="59.4" y1="630.9" x2="60.6" y2="630.9" stroke="#222" stroke-width="0.6"/>
<line x1="59.4" y1="630" x2="60.6" y2="630" stroke="#222" stroke-width="0.6"/>
<line x1="59.4" y1="629.1" x2="60.6" y2="629.1" stroke="#222" stroke-width="0.6"/>
<line x1="59.4" y1="628.2" x2="60.6" y2="628.2" stroke="#222" stroke-width="0.6"/>
<line x1="59.4" y1="627.3" x2="60.6" y2="627.3" stroke="#222" stroke-width="0.6"/>
<line x1="59.4" y1="626.4" x2="60.6" y2="626.4" stroke="#222" stroke-width="0.6"/>
<line x1="59.4" y1="625.5" x2="60.6" y2="625.5" stroke="#222" stroke-width="0.6"/>
<line x1="59.4" y1="624.6" x2="60.6" y2="624.6" stroke="#222" stroke-width="0.6"/>
<line x1="59.4" y1="623.7" x2="60.6" y2="623.7" stroke="#222" stroke-width="0.6"/>
<line x1="59.4" y1="622.8" x2="60.6" y2="622.8" stroke="#222" stroke-width="0.6"/>
<line x1="59.4" y1="621.9" x2="60.6" y2="621.9" stroke="#222" stroke-width="0.6"/>
<line x1="59.4" y1="621" x2="60.6" y2="621" stroke="#222" stroke-width="0.6"/>
<line x1="59.4" y1="620.1" x2="60.6" y2="620.1" stroke="#222" stroke-width="0.6"/>
<line x1="59.4" y1="619.2" x2="60.6" y2="619.2" stroke="#222" stroke-width="0.6"/>
<line x1="59.4" y1="618.3" x2="60.6" y2="618.3" stroke="#222" stroke-width="0.6"/>
<line x1="59.4" y1="617.4" x2="60.6" y2="617.4" stroke="#222" stroke-width="0.6"/>
<line x1="59.4" y1="616.5" x2="60.6" y2="616.5" stroke="#222" stroke-width="0.6"/>
<line x1="59.4" y1="615.6" x2="60.6" y2="615.6" stroke="#222" stroke-width="0.6"/>
<line x1="59.4" y1="614.7" x2="60.6" y2="614.7" stroke="#222" stroke-width="0.6"/>
<line x1="59.4" y1="613.8" x2="60.6" y2="613.8" stroke="#222" stroke-width="0.6"/>
<line x1="59.4" y1="612.9" x2="60.6" y2="612.9" stroke="#222" stroke-width="0.6"/>
<line x1="59.4" y1="612" x2="60.6" y2="612" stroke="#222" stroke-width="0.6"/>
<line x1="59.4" y1="611.1" x2="60.6" y2="611.1" stroke="#222" stroke-width="0.6"/>
<line x1="59.4" y1="610.2" x2="60.6" y2="610.2" stroke="#222" stroke-width="0.6"/>
<line x1="59.4" y1="609.3" x2="60.6" y2="609.3" stroke="#222" stroke-width="0.6"/>
<line x1="59.4" y1="608.4" x2="60.6" y2="608.4" stroke="#222" stroke-width="0.6"/>
<line x1="59.4" y1="607.5" x2="60.6" y2="607.5" stroke="#222" stroke-width="0.6"/>
<line x1="59.4" y1="606.6" x2="60.6" y2="606.6" stroke="#222" stroke-width="0.6"/>
<line x1="58.2" y1="607.3" x2="60.6" y2="607.3" stroke="#222" stroke-width="0.6"/>
<line x1="59.4" y1="601" x2="60.6" y2="601" stroke="#222" stroke-width="0.6"/>
<line x1="59.4" y1="597.32" x2="60.6" y2="597.32" stroke="#222" stroke-width="0.6"/>
<line x1="59.4" y1="594.71" x2="60.6" y2="594.71" stroke="#222" stroke-width="0.6"/>
<line x1="59.4" y1="592.68" x2="60.6" y2="592.68" stroke="#222" stroke-width="0.6"/>
<line x1="59.4" y1="591.02" x2="60.6" y2="591.02" stroke="#222" stroke-width="0.6"/>
<line x1="59.4" y1="589.62" x2="60.6" y2="589.62" stroke="#222" stroke-width="0.6"/>
<line x1="59.4" y1="588.41" x2="60.6" y2="588.41" stroke="#222" stroke-width="0.6"/>
<line x1="59.4" y1="587.34" x2="60.6" y2="587.34" stroke="#222" stroke-width="0.6"/>
<line x1="58.2" y1="586.38" x2="60.6" y2="586.38" stroke="#222" stroke-width="0.6"/>
<line x1="59.4" y1="580.09" x2="60.6" y2="580.09" stroke="#222" stroke-width="0.6"/>
<line x1="59.4" y1="576.41" x2="60.6" y2="576.41" stroke="#222" stroke-width="0.6"/>
<line x1="59.4" y1="573.79" x2="60.6" y2="573.79" stroke="#222" stroke-width="0.6"/>
<line x1="59.4" y1="571.77" x2="60.6" y2="571.77" stroke="#222" stroke-width="0.6"/>
<line x1="59.4" y1="570.11" x2="60.6" y2="570.11" stroke="#222" stroke-width="0.6"/>
<line x1="59.4" y1="568.71" x2="60.6" y2="568.71" stroke="#222" stroke-width="0.6"/>
<line x1="59.4" y1="567.5" x2="60.6" y2="567.5" stroke="#222" stroke-width="0.6"/>
<line x1="59.4" y1="566.43" x2="60.6" y2="566.43" stroke="#222" stroke-width="0.6"/>
<line x1="58.2" y1="565.47" x2="60.6" y2="565.47" stroke="#222" stroke-width="0.6"/>
<line x1="63.9" y1="635.8" x2="63.9" y2="637" stroke="#222" stroke-width="0.6"/>
<line x1="64.8" y1="635.8" x2="64.8" y2="637" stroke="#222" stroke-width="0.6"/>
<line x1="65.7" y1="635.8" x2="65.7" y2="637" stroke="#222" stroke-width="0.6"/>
<line x1="66.6" y1="635.8" x2="66.6" y2="637" stroke="#222" stroke-width="0.6"/>
<line x1="67.5" y1="635.8" x2="67.5" y2="637" stroke="#222" stroke-width="0.6"/>
<line x1="68.4" y1="635.8" x2="68.4" y2="637" stroke="#222" stroke-width="0.6"/>
<line x1="69.3" y1="635.8" x2="69.3" y2="637" stroke="#222" stroke-width="0.6"/>
<line x1="70.2" y1="635.8" x2="70.2" y2="637" stroke="#222" stroke-width="0.6"/>
<line x1="71.1" y1="635.8" x2="71.1" y2="637" stroke="#222" stroke-width="0.6"/>
<line x1="72" y1="635.8" x2="72" y2="637" stroke="#222" stroke-width="0.6"/>
<line x1="72.9" y1="635.8" x2="72.9" y2="637" stroke="#222" stroke-width="0.6"/>
<line x1="73.8" y1="635.8" x2="73.8" y2="637" stroke="#222" stroke-width="0.6"/>
<line x1="74.7" y1="635.8" x2="74.7" y2="637" stroke="#222" stroke-width="0.6"/>
<line x1="75.6" y1="635.8" x2="75.6" y2="637" stroke="#222" stroke-width="0.6"/>
<line x1="76.5" y1="635.8" x2="76.5" y2="637" stroke="#222" stroke-width="0.6"/>
<line x1="77.4" y1="635.8" x2="77.4" y2="637" stroke="#222" stroke-width="0.6"/>
<line x1="78.3" y1="635.8" x2="78.3" y2="637" stroke="#222" stroke-width="0.6"/>
<line x1="79.2" y1="635.8" x2="79.2" y2="637" stroke="#222" stroke-width="0.6"/>
<line x1="80.1" y1="635.8" x2="80.1" y2="637" stroke="#222" stroke-width="0.6"/>
<line x1="81" y1="635.8" x2="81" y2="637" stroke="#222" stroke-width="0.6"/>
<line x1="81.9" y1="635.8" x2="81.9" y2="637" stroke="#222" stroke-width="0.6"/>
<line x1="82.8" y1="635.8" x2="82.8" y2="637" stroke="#222" stroke-width="0.6"/>
<line x1="83.7" y1="635.8" x2="83.7" y2="637" stroke="#222" stroke-width="0.6"/>
<line x1="84.6" y1="635.8" x2="84.6" y2="637" stroke="#222" stroke-width="0.6"/>
<line x1="85.5" y1="635.8" x2="85.5" y2="637" stroke="#222" stroke-width="0.6"/>
<line x1="86.4" y1="635.8" x2="86.4" y2="637" stroke="#222" stroke-width="0.6"/>
<line x1="87.3" y1="635.8" x2="87.3" y2="637" stroke="#222" stroke-width="0.6"/>
<line x1="88.2" y1="635.8" x2="88.2" y2="637" stroke="#222" stroke-width="0.6"/>
<line x1="93.7" y1="635.8" x2="93.7" y2="637.6" stroke="#222" stroke-width="0.6"/>
<line x1="99.19" y1="635.8" x2="99.19" y2="636.8" stroke="#222" stroke-width="0.6"/>
<line x1="102.4" y1="635.8" x2="102.4" y2="636.8" stroke="#222" stroke-width="0.6"/>
<line x1="104.68" y1="635.8" x2="104.68" y2="636.8" stroke="#222" stroke-width="0.6"/>
<line x1="106.45" y1="635.8" x2="106.45" y2="636.8" stroke="#222" stroke-width="0.6"/>
<line x1="107.89" y1="635.8" x2="107.89" y2="636.8" stroke="#222" stroke-width="0.6"/>
<line x1="109.11" y1="635.8" x2="109.11" y2="636.8" stroke="#222" stroke-width="0.6"/>
<line x1="110.17" y1="635.8" x2="110.17" y2="636.8" stroke="#222" stroke-width="0.6"/>
<line x1="111.1" y1="635.8" x2="111.1" y2="636.8" stroke="#222" stroke-width="0.6"/>
<line x1="111.94" y1="635.8" x2="111.94" y2="637.6" stroke="#222" stroke-width="0.6"/>
<line x1="111.94" y1="635.8" x2="111.94" y2="637.6" stroke="#222" stroke-width="0.6"/>
<line x1="117.35" y1="635.8" x2="117.35" y2="636.8" stroke="#222" stroke-width="0.6"/>
<line x1="120.52" y1="635.8" x2="120.52" y2="636.8" stroke="#222" stroke-width="0.6"/>
<line x1="122.77" y1="635.8" x2="122.77" y2="636.8" stroke="#222" stroke-width="0.6"/>
<line x1="124.52" y1="635.8" x2="124.52" y2="636.8" stroke="#222" stroke-width="0.6"/>
<line x1="125.94" y1="635.8" x2="125.94" y2="636.8" stroke="#222" stroke-width="0.6"/>
<line x1="127.15" y1="635.8" x2="127.15" y2="636.8" stroke="#222" stroke-width="0.6"/>
<line x1="128.19" y1="635.8" x2="128.19" y2="636.8" stroke="#222" stroke-width="0.6"/>
<line x1="129.11" y1="635.8" x2="129.11" y2="636.8" stroke="#222" stroke-width="0.6"/>
<line x1="129.94" y1="635.8" x2="129.94" y2="637.6" stroke="#222" stroke-width="0.6"/>
<line x1="60.4" y1="562.8" x2="60.4" y2="635.5" stroke="#555" stroke-width="0.5"/>
<text x="63.8" y="569.7" font-size="6.2" fill="#333" stroke="#333" stroke-width="0.15">EMRA</text>
<text x="129.2" y="569.7" font-size="6.2" fill="#333" stroke="#333" stroke-width="0.15" text-anchor="end">NV</text>
<text x="63.6" y="634.1" font-size="6.2" fill="#333" stroke="#333" stroke-width="0.15">EM</text>
<text x="130.4" y="634.1" font-size="6.2" fill="#333" stroke="#333" stroke-width="0.15" text-anchor="end">CM</text>
<text x="100.2" y="552.6" font-size="6.1" fill="#d6405a" stroke="#d6405a" stroke-width="0.2">Total CD4<tspan font-size="3.6" dy="-2">+</tspan><tspan dy="2"> </tspan></text>
<text x="99.9" y="560.2" font-size="6.1" fill="#3e60a6" stroke="#3e60a6" stroke-width="0.2">IFN-γ<tspan font-size="3.6" dy="-2">+</tspan><tspan dy="2"> </tspan>CD4<tspan font-size="3.6" dy="-2">+</tspan><tspan dy="2"> </tspan></text>
<path d="M176.5,620.9 169.3,620.9 163.7,620.0 161.5,619.2 159.9,618.2 159.1,617.1 159.0,615.9 160.3,614.1 163.3,612.4 174.7,609.1 175.2,608.5 174.6,606.7 174.8,605.5 175.4,604.5 176.7,603.6 178.3,603.0 180.3,602.8 182.1,602.9 183.9,603.4 185.4,604.3 186.2,605.5 186.4,606.7 185.8,608.5 186.1,609.1 192.7,612.1 194.0,613.5 194.0,614.9 193.3,615.9 192.1,616.9 188.1,618.8 182.5,620.2 176.5,620.9Z" fill="#ccc8ea" fill-opacity="0.7" stroke="none"/>
<path d="M177.7,619.1 172.3,619.2 167.9,618.6 164.9,617.3 164.3,616.5 164.3,615.7 165.5,614.3 168.1,613.0 171.7,612.0 176.3,611.4 180.5,611.3 184.3,611.7 187.1,612.7 188.6,613.9 188.7,614.7 188.4,615.5 186.3,617.0 182.3,618.4 177.7,619.1Z" fill="#a29cd2" fill-opacity="0.5" stroke="none"/>
<path d="M177.9,617.7 174.3,617.9 171.3,617.5 169.1,616.7 168.6,615.7 169.3,614.7 170.9,613.9 173.3,613.2 176.3,612.8 179.1,612.7 181.7,613.0 183.6,613.7 184.4,614.5 184.2,615.5 182.9,616.4 180.7,617.2 177.9,617.7Z" fill="#6a62b4" fill-opacity="0.5" stroke="none"/>
<path d="M175.7,621.3 172.1,621.4 168.5,621.2 165.3,620.8 162.5,620.1 160.3,619.3 158.8,618.3 157.9,617.1 157.9,615.9 158.3,615.1 159.1,614.2 161.7,612.6 164.7,611.4 171.0,609.7 172.6,609.1 173.0,608.7 173.1,608.3 172.7,606.5 173.0,605.1 174.1,603.7 175.7,602.6 178.1,601.9 180.7,601.6 183.3,602.0 185.7,602.8 187.1,603.9 188.1,605.3 188.3,606.3 187.9,608.3 188.1,608.9 188.8,609.5 192.7,611.2 194.3,612.3 194.8,612.9 195.2,613.7 195.2,614.3 195.0,615.1 194.1,616.2 192.7,617.3 190.9,618.2 188.3,619.2 182.3,620.6 175.7,621.3Z" fill="none" stroke="#a8a4dc" stroke-width="0.42" opacity="0.75"/>
<path d="M175.9,621.1 172.3,621.2 168.7,621.0 165.5,620.6 162.9,620.0 160.7,619.1 159.2,618.1 158.5,617.1 158.5,615.9 159.0,614.9 159.8,614.1 162.7,612.4 165.5,611.4 172.1,609.7 173.6,609.1 174.0,608.7 174.1,608.3 173.7,606.9 173.7,605.9 174.0,605.1 174.5,604.3 175.5,603.5 176.7,602.9 179.7,602.2 181.5,602.2 183.1,602.5 184.7,603.1 185.9,603.8 186.8,604.7 187.3,605.7 187.3,606.7 186.9,608.5 187.2,609.1 188.2,609.7 192.7,611.7 193.8,612.5 194.5,613.5 194.5,614.7 193.6,616.1 191.9,617.4 189.7,618.4 186.9,619.4 183.5,620.2 179.7,620.8 175.9,621.1Z" fill="none" stroke="#a09cd7" stroke-width="0.42" opacity="0.75"/>
<path d="M176.1,620.9 172.5,621.0 169.1,620.8 165.9,620.4 163.3,619.8 161.3,619.0 159.9,618.1 159.1,617.1 159.1,615.9 159.6,614.9 160.4,614.1 163.3,612.5 166.3,611.4 173.3,609.7 174.9,609.1 175.3,608.5 174.8,606.9 174.8,606.1 175.3,604.8 176.1,604.1 177.1,603.5 178.5,603.1 179.9,602.9 182.7,603.1 184.9,604.1 185.8,604.9 186.2,605.9 186.2,606.9 185.7,608.5 186.0,609.1 187.1,609.7 191.9,611.6 193.2,612.5 193.9,613.5 193.9,614.7 193.2,615.9 191.7,617.1 189.5,618.2 186.7,619.2 183.5,620.0 179.7,620.6 176.1,620.9Z" fill="none" stroke="#9894d2" stroke-width="0.42" opacity="0.75"/>
<path d="M176.1,620.7 172.7,620.8 169.3,620.6 166.3,620.2 163.7,619.6 161.7,618.8 160.4,617.9 159.7,616.9 159.7,615.9 160.2,614.9 161.0,614.1 164.1,612.4 167.7,611.2 174.7,609.7 176.5,609.1 176.9,608.5 176.1,606.7 176.1,605.9 176.4,605.3 177.7,604.2 179.9,603.7 181.3,603.7 182.5,603.9 183.7,604.5 184.4,605.1 184.9,606.3 184.8,607.1 184.1,608.5 184.4,609.1 191.1,611.6 192.4,612.5 193.2,613.5 193.4,614.5 192.8,615.7 191.4,616.9 189.3,618.0 186.5,619.0 183.3,619.8 179.7,620.4 176.1,620.7Z" fill="none" stroke="#908ccd" stroke-width="0.42" opacity="0.75"/>
<path d="M181.3,608.0 180.1,608.0 178.7,607.4 178.1,606.5 178.3,605.7 179.1,605.1 180.1,604.9 181.3,604.9 182.3,605.3 182.9,605.9 182.9,606.7 182.3,607.4 181.3,608.0Z M176.1,620.5 169.7,620.4 166.7,620.0 164.5,619.5 162.5,618.8 161.1,617.9 160.4,616.9 160.3,615.9 160.8,614.9 162.0,613.9 163.5,613.0 165.9,612.0 170.5,610.8 180.1,609.0 182.7,609.4 189.1,611.1 191.4,612.3 192.1,612.9 192.6,613.7 192.6,614.9 192.0,615.9 190.5,617.0 188.5,618.0 185.7,619.0 183.1,619.6 179.5,620.2 176.1,620.5Z" fill="none" stroke="#8784c8" stroke-width="0.42" opacity="0.75"/>
<path d="M175.7,620.3 169.5,620.2 166.9,619.8 164.5,619.2 162.8,618.5 161.6,617.7 161.0,616.7 161.0,615.7 161.7,614.7 162.9,613.7 164.7,612.8 166.7,612.1 171.9,610.8 178.9,609.8 182.9,610.0 187.5,611.0 190.5,612.2 191.4,612.9 192.0,613.7 192.0,614.7 191.3,615.9 189.9,617.0 187.9,618.0 185.3,618.8 182.1,619.6 175.7,620.3Z" fill="none" stroke="#7f7cc3" stroke-width="0.42" opacity="0.75"/>
<path d="M175.3,620.1 169.7,619.9 167.1,619.6 164.9,619.0 163.3,618.3 162.2,617.5 161.7,616.7 161.7,615.7 162.4,614.7 163.4,613.9 165.1,613.0 167.1,612.2 172.1,611.0 178.1,610.2 182.5,610.3 186.5,611.1 189.7,612.3 190.6,612.9 191.2,613.7 191.3,614.7 190.8,615.7 189.5,616.8 187.5,617.8 185.1,618.6 181.9,619.4 178.9,619.8 175.3,620.1Z" fill="none" stroke="#7774be" stroke-width="0.42" opacity="0.75"/>
<path d="M177.7,619.7 171.7,619.8 166.7,619.2 164.7,618.5 163.3,617.7 162.6,616.9 162.4,615.9 162.9,614.9 163.8,614.1 166.9,612.6 171.5,611.4 177.1,610.6 181.5,610.6 185.7,611.2 188.8,612.3 189.8,612.9 190.5,613.7 190.6,614.5 190.2,615.5 189.2,616.5 187.7,617.3 183.3,618.8 177.7,619.7Z" fill="none" stroke="#6f6cb9" stroke-width="0.42" opacity="0.75"/>
<path d="M177.1,619.5 171.5,619.6 168.7,619.2 166.7,618.8 165.1,618.2 163.9,617.5 163.3,616.7 163.2,615.7 163.7,614.9 164.6,614.1 167.7,612.6 171.9,611.6 176.9,610.9 181.1,610.9 185.1,611.4 188.2,612.5 189.1,613.1 189.7,613.9 189.8,614.7 189.3,615.7 188.3,616.5 186.7,617.4 182.3,618.8 177.1,619.5Z" fill="none" stroke="#6764b3" stroke-width="0.42" opacity="0.75"/>
<path d="M176.3,619.3 171.3,619.3 167.3,618.6 165.7,618.0 164.6,617.3 164.0,616.5 164.0,615.7 164.5,614.9 165.3,614.2 168.1,612.9 172.1,611.8 176.7,611.2 180.9,611.2 184.5,611.7 187.3,612.6 188.3,613.2 188.9,613.9 189.0,614.7 188.5,615.7 187.5,616.5 185.9,617.3 181.7,618.6 176.3,619.3Z" fill="none" stroke="#5f5cae" stroke-width="0.42" opacity="0.75"/>
<path d="M177.7,618.9 172.5,619.0 168.3,618.4 166.7,617.9 165.6,617.3 165.0,616.5 164.9,615.7 165.4,614.9 166.1,614.3 168.7,613.0 172.5,612.1 176.5,611.6 180.7,611.5 184.1,612.0 186.8,612.9 187.6,613.5 188.0,614.1 188.1,614.7 187.8,615.5 186.9,616.3 185.7,617.0 182.1,618.2 177.7,618.9Z" fill="none" stroke="#5754a9" stroke-width="0.42" opacity="0.75"/>
<path d="M176.5,618.7 172.1,618.7 168.7,618.1 166.5,617.1 166.0,616.5 165.9,615.7 166.2,615.1 166.9,614.4 169.3,613.2 172.5,612.4 176.3,611.9 179.9,611.8 183.3,612.2 185.7,613.0 186.5,613.5 187.0,614.1 187.2,614.7 186.8,615.5 185.9,616.3 184.7,617.0 180.9,618.1 176.5,618.7Z" fill="none" stroke="#4f4ca4" stroke-width="0.42" opacity="0.75"/>
<path d="M177.3,618.3 173.3,618.4 169.7,617.9 168.5,617.5 167.4,616.9 167.0,616.3 166.9,615.7 167.2,615.1 167.9,614.5 169.9,613.5 172.9,612.7 176.3,612.2 179.7,612.2 182.7,612.5 185.0,613.3 186.0,614.3 186.1,614.9 185.8,615.5 185.1,616.1 183.9,616.8 180.9,617.8 177.3,618.3Z" fill="none" stroke="#46449f" stroke-width="0.42" opacity="0.75"/>
<path d="M177.5,617.9 173.9,618.0 170.7,617.6 168.7,616.8 168.2,616.3 168.1,615.7 168.8,614.7 170.5,613.8 173.1,613.0 176.1,612.6 179.1,612.6 181.7,612.8 183.7,613.4 184.8,614.3 184.9,614.9 184.6,615.5 183.2,616.5 180.7,617.4 177.5,617.9Z" fill="none" stroke="#3e3c9a" stroke-width="0.42" opacity="0.75"/>
<path d="M177.1,617.5 174.1,617.6 171.5,617.2 169.9,616.5 169.5,616.1 169.5,615.5 170.2,614.7 171.7,614.0 173.9,613.4 176.3,613.1 178.9,613.0 181.1,613.3 182.7,613.8 183.5,614.5 183.5,614.9 183.3,615.5 182.1,616.3 179.9,617.1 177.1,617.5Z" fill="none" stroke="#363495" stroke-width="0.42" opacity="0.75"/>
<path d="M177.3,616.9 174.9,617.0 172.9,616.8 171.7,616.3 171.3,615.9 171.2,615.5 171.7,614.9 172.8,614.3 176.3,613.6 179.9,613.8 181.1,614.2 181.7,614.7 181.7,615.3 180.7,616.1 179.3,616.6 177.3,616.9Z" fill="none" stroke="#2e2c90" stroke-width="0.42" opacity="0.75"/>
<path d="M177.7,616.3 175.9,616.5 174.3,616.3 173.3,616.0 172.9,615.5 173.2,615.1 173.8,614.7 176.3,614.2 178.9,614.3 179.5,614.5 180.0,614.9 180.0,615.3 179.6,615.7 177.7,616.3Z" fill="#fff" fill-opacity="0.85" stroke="none"/>
<path d="M188.1,607.3 186.5,607.4 184.9,606.7 183.5,605.4 182.4,603.5 181.4,600.7 179.3,591.7 178.9,587.5 179.1,584.9 179.7,582.7 180.6,580.7 182.0,578.7 183.5,577.2 185.1,576.2 186.9,575.5 188.9,575.3 190.9,575.6 192.7,576.4 194.3,577.5 195.7,579.1 197.0,581.1 197.8,583.1 198.4,585.7 198.5,588.1 198.0,591.7 196.8,594.9 193.9,599.3 191.3,604.9 189.7,606.6 188.1,607.3Z" fill="#f8dade" fill-opacity="0.7" stroke="none"/>
<path d="M188.1,607.3 186.5,607.4 184.9,606.7 183.5,605.4 182.4,603.5 181.4,600.7 180.5,596.2 179.3,591.7 179.0,589.7 178.9,587.5 179.1,584.9 179.7,582.7 180.6,580.7 182.0,578.7 183.5,577.2 185.1,576.2 186.9,575.5 188.9,575.3 190.9,575.6 192.7,576.4 194.3,577.5 195.7,579.1 197.0,581.1 197.8,583.1 198.4,585.7 198.5,588.1 198.0,591.7 196.8,594.9 193.9,599.3 192.2,603.3 191.3,604.9 189.7,606.6 188.1,607.3Z" fill="none" stroke="#f2b2be" stroke-width="0.42" opacity="0.8"/>
<path d="M187.7,606.9 186.1,606.8 184.7,606.0 183.3,604.5 182.4,602.7 181.6,600.3 180.7,595.6 179.6,591.3 179.3,589.1 179.2,587.1 179.6,584.7 180.2,582.5 181.2,580.5 182.3,578.9 183.9,577.4 185.5,576.5 187.3,575.9 189.1,575.8 190.9,576.1 192.7,576.9 194.3,578.1 195.7,579.7 196.8,581.5 197.6,583.7 198.0,585.9 198.1,588.5 197.8,591.1 197.0,593.7 196.0,595.5 193.7,598.9 191.6,603.7 190.7,605.0 189.7,606.0 188.7,606.6 187.7,606.9Z" fill="none" stroke="#f0aab7" stroke-width="0.42" opacity="0.8"/>
<path d="M187.9,606.3 186.5,606.3 185.1,605.7 183.8,604.5 182.8,602.7 182.0,600.3 181.1,595.8 180.0,591.3 179.7,589.3 179.6,587.3 179.8,585.3 180.4,583.1 181.3,581.1 182.5,579.3 183.9,578.0 185.5,577.0 187.1,576.4 188.9,576.2 190.5,576.5 192.3,577.2 193.9,578.3 195.3,579.9 196.4,581.7 197.2,583.7 197.7,585.9 197.8,588.3 197.4,591.1 196.6,593.5 195.7,595.3 193.5,598.5 191.4,603.3 190.6,604.5 189.7,605.4 188.9,606.0 187.9,606.3Z" fill="none" stroke="#efa2b0" stroke-width="0.42" opacity="0.8"/>
<path d="M188.1,605.7 186.7,605.8 185.3,605.2 184.1,604.1 183.0,602.3 182.2,599.9 181.3,595.1 180.4,591.3 180.0,587.5 180.2,585.3 180.7,583.3 181.6,581.3 182.7,579.8 184.1,578.4 185.7,577.4 187.3,576.9 188.9,576.7 190.5,576.9 192.1,577.6 193.7,578.7 195.0,580.1 196.0,581.7 196.8,583.7 197.3,585.7 197.4,588.1 197.0,591.3 195.8,594.3 193.1,598.4 190.8,603.5 189.5,605.0 188.1,605.7Z" fill="none" stroke="#ed9aa8" stroke-width="0.42" opacity="0.8"/>
<path d="M188.1,605.1 186.7,605.2 185.5,604.7 184.3,603.6 183.3,601.9 182.6,599.7 181.7,595.1 180.7,591.1 180.4,587.5 180.6,585.3 181.2,583.3 182.0,581.5 183.0,580.1 184.3,578.8 185.7,577.9 187.3,577.4 188.9,577.2 190.5,577.5 192.1,578.1 193.5,579.2 194.7,580.5 195.6,581.9 196.4,583.9 196.9,585.9 197.0,588.1 196.6,591.1 195.6,593.7 192.9,597.9 190.5,603.1 189.3,604.4 188.1,605.1Z" fill="none" stroke="#eb92a1" stroke-width="0.42" opacity="0.8"/>
<path d="M187.7,604.5 186.5,604.5 185.3,603.9 184.2,602.7 183.4,601.1 182.8,599.1 181.1,590.7 180.8,587.3 181.1,585.3 181.6,583.5 182.4,581.7 183.5,580.3 184.7,579.1 186.1,578.3 187.7,577.8 189.1,577.8 190.5,578.0 192.1,578.7 193.5,579.8 194.6,581.1 195.5,582.7 196.2,584.5 196.5,586.5 196.6,588.5 196.3,590.7 195.6,592.7 194.8,594.3 192.5,597.7 190.6,602.1 189.3,603.7 188.5,604.3 187.7,604.5Z" fill="none" stroke="#ea8a9a" stroke-width="0.42" opacity="0.8"/>
<path d="M188.1,603.7 186.9,603.9 185.7,603.4 184.7,602.4 183.9,600.9 183.2,598.9 181.6,590.9 181.2,587.5 181.4,585.7 181.9,583.9 182.6,582.3 183.6,580.9 184.7,579.8 186.1,578.9 187.5,578.4 188.9,578.3 190.3,578.5 191.7,579.1 193.0,580.1 194.1,581.3 195.0,582.7 195.6,584.3 196.0,586.1 196.1,588.1 195.8,590.7 194.8,593.3 192.3,597.1 190.1,601.9 189.1,603.1 188.1,603.7Z" fill="none" stroke="#e88293" stroke-width="0.42" opacity="0.8"/>
<path d="M187.9,603.0 186.9,603.0 185.9,602.7 184.9,601.7 184.2,600.3 183.6,598.5 182.0,590.7 181.7,587.5 181.9,585.7 182.4,584.1 183.0,582.7 183.9,581.3 185.1,580.2 186.3,579.5 187.5,579.1 188.9,578.9 190.3,579.2 191.5,579.7 192.7,580.5 193.8,581.7 194.6,583.1 195.2,584.7 195.6,586.5 195.7,588.3 195.3,590.7 194.4,592.9 191.9,596.8 189.8,601.3 188.9,602.4 187.9,603.0Z" fill="none" stroke="#e67a8b" stroke-width="0.42" opacity="0.8"/>
<path d="M187.5,602.1 186.5,602.0 185.7,601.5 185.0,600.5 184.4,599.3 182.4,590.3 182.2,587.1 182.5,585.5 183.0,583.9 184.5,581.5 185.5,580.6 186.7,580.0 187.9,579.6 189.1,579.6 190.3,579.8 191.5,580.4 192.7,581.3 193.6,582.5 194.4,583.9 194.9,585.3 195.1,586.9 195.1,588.5 194.8,590.7 193.8,592.9 191.4,596.5 189.4,600.7 188.5,601.7 187.5,602.1Z" fill="none" stroke="#e47284" stroke-width="0.42" opacity="0.8"/>
<path d="M187.7,601.0 186.9,601.0 186.1,600.6 185.5,599.9 185.0,598.7 183.0,590.3 182.8,587.3 183.4,584.5 184.7,582.2 185.7,581.3 186.7,580.7 187.7,580.4 188.9,580.3 190.1,580.5 191.1,580.9 192.1,581.6 193.1,582.7 193.8,583.9 194.3,585.3 194.6,586.7 194.6,588.3 194.2,590.5 193.4,592.5 190.9,596.1 189.1,599.7 188.5,600.5 187.7,601.0Z" fill="none" stroke="#e36a7d" stroke-width="0.42" opacity="0.8"/>
<path d="M187.5,599.5 186.9,599.5 186.3,599.1 185.5,597.6 183.6,590.3 183.4,587.1 184.0,584.7 185.3,582.6 187.1,581.4 188.1,581.1 189.1,581.1 190.1,581.3 191.1,581.8 192.0,582.5 192.8,583.5 193.8,585.9 194.0,588.5 193.6,590.5 192.8,592.3 190.3,595.7 188.6,598.7 187.5,599.5Z" fill="none" stroke="#e16276" stroke-width="0.42" opacity="0.8"/>
<path d="M187.7,597.1 187.1,597.1 186.7,596.8 185.9,595.2 184.3,590.5 184.1,588.9 184.1,587.3 184.6,585.1 185.7,583.3 187.3,582.2 189.1,581.9 190.9,582.6 192.3,584.1 193.1,586.1 193.3,588.5 192.9,590.3 192.0,592.1 188.5,596.4 187.7,597.1Z" fill="none" stroke="#df5a6e" stroke-width="0.42" opacity="0.8"/>
<path d="M188.5,594.1 187.9,594.3 187.3,594.1 186.3,593.0 185.2,590.5 184.8,587.9 185.2,585.9 186.0,584.3 187.3,583.3 188.7,582.9 190.3,583.4 191.5,584.5 192.3,586.1 192.5,587.9 192.2,589.7 191.5,591.3 190.1,592.9 188.5,594.1Z" fill="none" stroke="#de5267" stroke-width="0.42" opacity="0.8"/>
<path d="M188.5,592.1 187.5,591.9 186.7,591.1 186.0,589.5 185.8,587.9 186.1,586.5 186.7,585.3 187.7,584.5 188.7,584.2 189.7,584.5 190.7,585.3 191.3,586.5 191.5,587.9 191.3,589.3 190.7,590.5 189.7,591.6 188.5,592.1Z" fill="none" stroke="#dc4a60" stroke-width="0.42" opacity="0.8"/>
<path d="M188.9,591.1 187.9,591.1 187.2,590.5 186.6,589.5 186.4,588.1 186.5,586.9 187.0,585.9 187.7,585.3 188.7,585.0 189.5,585.2 190.3,585.8 190.7,586.7 190.9,587.7 190.8,588.9 190.4,589.9 189.7,590.7 188.9,591.1Z" fill="#fff" fill-opacity="0.9" stroke="none"/>
<path d="M166.0,607.8 C169.0,596.8 189.0,595.8 193.0,607.8" fill="none" stroke="#4a4a9a" stroke-width="0.4" opacity="0.75"/>
<path d="M168.5,607.8 C171.5,598.8 187.0,597.8 191.0,607.8" fill="none" stroke="#4a4a9a" stroke-width="0.4" opacity="0.75"/>
<path d="M170.5,607.8 C173.5,600.8 185.0,599.8 189.0,607.8" fill="none" stroke="#4a4a9a" stroke-width="0.4" opacity="0.75"/>
<path d="M172.5,607.8 C175.5,602.8 183.5,601.8 187.5,607.8" fill="none" stroke="#4a4a9a" stroke-width="0.4" opacity="0.75"/>
<path d="M175.5,607.8 C178.5,600.3 189.5,599.3 193.5,607.8" fill="none" stroke="#4a4a9a" stroke-width="0.4" opacity="0.75"/>
<rect x="143.6" y="562.8" width="72.4" height="72.7" fill="none" stroke="#8a8a8a" stroke-width="0.6"/>
<line x1="178.3" y1="562.8" x2="178.3" y2="635.5" stroke="#777" stroke-width="0.65"/>
<line x1="143.6" y1="607.3" x2="216" y2="607.3" stroke="#777" stroke-width="0.65"/>
<line x1="142.6" y1="634.5" x2="143.8" y2="634.5" stroke="#222" stroke-width="0.6"/>
<line x1="142.6" y1="633.6" x2="143.8" y2="633.6" stroke="#222" stroke-width="0.6"/>
<line x1="142.6" y1="632.7" x2="143.8" y2="632.7" stroke="#222" stroke-width="0.6"/>
<line x1="142.6" y1="631.8" x2="143.8" y2="631.8" stroke="#222" stroke-width="0.6"/>
<line x1="142.6" y1="630.9" x2="143.8" y2="630.9" stroke="#222" stroke-width="0.6"/>
<line x1="142.6" y1="630" x2="143.8" y2="630" stroke="#222" stroke-width="0.6"/>
<line x1="142.6" y1="629.1" x2="143.8" y2="629.1" stroke="#222" stroke-width="0.6"/>
<line x1="142.6" y1="628.2" x2="143.8" y2="628.2" stroke="#222" stroke-width="0.6"/>
<line x1="142.6" y1="627.3" x2="143.8" y2="627.3" stroke="#222" stroke-width="0.6"/>
<line x1="142.6" y1="626.4" x2="143.8" y2="626.4" stroke="#222" stroke-width="0.6"/>
<line x1="142.6" y1="625.5" x2="143.8" y2="625.5" stroke="#222" stroke-width="0.6"/>
<line x1="142.6" y1="624.6" x2="143.8" y2="624.6" stroke="#222" stroke-width="0.6"/>
<line x1="142.6" y1="623.7" x2="143.8" y2="623.7" stroke="#222" stroke-width="0.6"/>
<line x1="142.6" y1="622.8" x2="143.8" y2="622.8" stroke="#222" stroke-width="0.6"/>
<line x1="142.6" y1="621.9" x2="143.8" y2="621.9" stroke="#222" stroke-width="0.6"/>
<line x1="142.6" y1="621" x2="143.8" y2="621" stroke="#222" stroke-width="0.6"/>
<line x1="142.6" y1="620.1" x2="143.8" y2="620.1" stroke="#222" stroke-width="0.6"/>
<line x1="142.6" y1="619.2" x2="143.8" y2="619.2" stroke="#222" stroke-width="0.6"/>
<line x1="142.6" y1="618.3" x2="143.8" y2="618.3" stroke="#222" stroke-width="0.6"/>
<line x1="142.6" y1="617.4" x2="143.8" y2="617.4" stroke="#222" stroke-width="0.6"/>
<line x1="142.6" y1="616.5" x2="143.8" y2="616.5" stroke="#222" stroke-width="0.6"/>
<line x1="142.6" y1="615.6" x2="143.8" y2="615.6" stroke="#222" stroke-width="0.6"/>
<line x1="142.6" y1="614.7" x2="143.8" y2="614.7" stroke="#222" stroke-width="0.6"/>
<line x1="142.6" y1="613.8" x2="143.8" y2="613.8" stroke="#222" stroke-width="0.6"/>
<line x1="142.6" y1="612.9" x2="143.8" y2="612.9" stroke="#222" stroke-width="0.6"/>
<line x1="142.6" y1="612" x2="143.8" y2="612" stroke="#222" stroke-width="0.6"/>
<line x1="142.6" y1="611.1" x2="143.8" y2="611.1" stroke="#222" stroke-width="0.6"/>
<line x1="142.6" y1="610.2" x2="143.8" y2="610.2" stroke="#222" stroke-width="0.6"/>
<line x1="142.6" y1="609.3" x2="143.8" y2="609.3" stroke="#222" stroke-width="0.6"/>
<line x1="142.6" y1="608.4" x2="143.8" y2="608.4" stroke="#222" stroke-width="0.6"/>
<line x1="142.6" y1="607.5" x2="143.8" y2="607.5" stroke="#222" stroke-width="0.6"/>
<line x1="142.6" y1="606.6" x2="143.8" y2="606.6" stroke="#222" stroke-width="0.6"/>
<line x1="141.4" y1="607.3" x2="143.8" y2="607.3" stroke="#222" stroke-width="0.6"/>
<line x1="142.6" y1="601" x2="143.8" y2="601" stroke="#222" stroke-width="0.6"/>
<line x1="142.6" y1="597.32" x2="143.8" y2="597.32" stroke="#222" stroke-width="0.6"/>
<line x1="142.6" y1="594.71" x2="143.8" y2="594.71" stroke="#222" stroke-width="0.6"/>
<line x1="142.6" y1="592.68" x2="143.8" y2="592.68" stroke="#222" stroke-width="0.6"/>
<line x1="142.6" y1="591.02" x2="143.8" y2="591.02" stroke="#222" stroke-width="0.6"/>
<line x1="142.6" y1="589.62" x2="143.8" y2="589.62" stroke="#222" stroke-width="0.6"/>
<line x1="142.6" y1="588.41" x2="143.8" y2="588.41" stroke="#222" stroke-width="0.6"/>
<line x1="142.6" y1="587.34" x2="143.8" y2="587.34" stroke="#222" stroke-width="0.6"/>
<line x1="141.4" y1="586.38" x2="143.8" y2="586.38" stroke="#222" stroke-width="0.6"/>
<line x1="142.6" y1="580.09" x2="143.8" y2="580.09" stroke="#222" stroke-width="0.6"/>
<line x1="142.6" y1="576.41" x2="143.8" y2="576.41" stroke="#222" stroke-width="0.6"/>
<line x1="142.6" y1="573.79" x2="143.8" y2="573.79" stroke="#222" stroke-width="0.6"/>
<line x1="142.6" y1="571.77" x2="143.8" y2="571.77" stroke="#222" stroke-width="0.6"/>
<line x1="142.6" y1="570.11" x2="143.8" y2="570.11" stroke="#222" stroke-width="0.6"/>
<line x1="142.6" y1="568.71" x2="143.8" y2="568.71" stroke="#222" stroke-width="0.6"/>
<line x1="142.6" y1="567.5" x2="143.8" y2="567.5" stroke="#222" stroke-width="0.6"/>
<line x1="142.6" y1="566.43" x2="143.8" y2="566.43" stroke="#222" stroke-width="0.6"/>
<line x1="141.4" y1="565.47" x2="143.8" y2="565.47" stroke="#222" stroke-width="0.6"/>
<line x1="147.1" y1="635.8" x2="147.1" y2="637" stroke="#222" stroke-width="0.6"/>
<line x1="148" y1="635.8" x2="148" y2="637" stroke="#222" stroke-width="0.6"/>
<line x1="148.9" y1="635.8" x2="148.9" y2="637" stroke="#222" stroke-width="0.6"/>
<line x1="149.8" y1="635.8" x2="149.8" y2="637" stroke="#222" stroke-width="0.6"/>
<line x1="150.7" y1="635.8" x2="150.7" y2="637" stroke="#222" stroke-width="0.6"/>
<line x1="151.6" y1="635.8" x2="151.6" y2="637" stroke="#222" stroke-width="0.6"/>
<line x1="152.5" y1="635.8" x2="152.5" y2="637" stroke="#222" stroke-width="0.6"/>
<line x1="153.4" y1="635.8" x2="153.4" y2="637" stroke="#222" stroke-width="0.6"/>
<line x1="154.3" y1="635.8" x2="154.3" y2="637" stroke="#222" stroke-width="0.6"/>
<line x1="155.2" y1="635.8" x2="155.2" y2="637" stroke="#222" stroke-width="0.6"/>
<line x1="156.1" y1="635.8" x2="156.1" y2="637" stroke="#222" stroke-width="0.6"/>
<line x1="157" y1="635.8" x2="157" y2="637" stroke="#222" stroke-width="0.6"/>
<line x1="157.9" y1="635.8" x2="157.9" y2="637" stroke="#222" stroke-width="0.6"/>
<line x1="158.8" y1="635.8" x2="158.8" y2="637" stroke="#222" stroke-width="0.6"/>
<line x1="159.7" y1="635.8" x2="159.7" y2="637" stroke="#222" stroke-width="0.6"/>
<line x1="160.6" y1="635.8" x2="160.6" y2="637" stroke="#222" stroke-width="0.6"/>
<line x1="161.5" y1="635.8" x2="161.5" y2="637" stroke="#222" stroke-width="0.6"/>
<line x1="162.4" y1="635.8" x2="162.4" y2="637" stroke="#222" stroke-width="0.6"/>
<line x1="163.3" y1="635.8" x2="163.3" y2="637" stroke="#222" stroke-width="0.6"/>
<line x1="164.2" y1="635.8" x2="164.2" y2="637" stroke="#222" stroke-width="0.6"/>
<line x1="165.1" y1="635.8" x2="165.1" y2="637" stroke="#222" stroke-width="0.6"/>
<line x1="166" y1="635.8" x2="166" y2="637" stroke="#222" stroke-width="0.6"/>
<line x1="166.9" y1="635.8" x2="166.9" y2="637" stroke="#222" stroke-width="0.6"/>
<line x1="167.8" y1="635.8" x2="167.8" y2="637" stroke="#222" stroke-width="0.6"/>
<line x1="168.7" y1="635.8" x2="168.7" y2="637" stroke="#222" stroke-width="0.6"/>
<line x1="169.6" y1="635.8" x2="169.6" y2="637" stroke="#222" stroke-width="0.6"/>
<line x1="170.5" y1="635.8" x2="170.5" y2="637" stroke="#222" stroke-width="0.6"/>
<line x1="171.4" y1="635.8" x2="171.4" y2="637" stroke="#222" stroke-width="0.6"/>
<line x1="177.3" y1="635.8" x2="177.3" y2="637.6" stroke="#222" stroke-width="0.6"/>
<line x1="182.71" y1="635.8" x2="182.71" y2="636.8" stroke="#222" stroke-width="0.6"/>
<line x1="185.87" y1="635.8" x2="185.87" y2="636.8" stroke="#222" stroke-width="0.6"/>
<line x1="188.12" y1="635.8" x2="188.12" y2="636.8" stroke="#222" stroke-width="0.6"/>
<line x1="189.86" y1="635.8" x2="189.86" y2="636.8" stroke="#222" stroke-width="0.6"/>
<line x1="191.28" y1="635.8" x2="191.28" y2="636.8" stroke="#222" stroke-width="0.6"/>
<line x1="192.48" y1="635.8" x2="192.48" y2="636.8" stroke="#222" stroke-width="0.6"/>
<line x1="193.52" y1="635.8" x2="193.52" y2="636.8" stroke="#222" stroke-width="0.6"/>
<line x1="194.44" y1="635.8" x2="194.44" y2="636.8" stroke="#222" stroke-width="0.6"/>
<line x1="195.27" y1="635.8" x2="195.27" y2="637.6" stroke="#222" stroke-width="0.6"/>
<line x1="195.27" y1="635.8" x2="195.27" y2="637.6" stroke="#222" stroke-width="0.6"/>
<line x1="200.6" y1="635.8" x2="200.6" y2="636.8" stroke="#222" stroke-width="0.6"/>
<line x1="203.72" y1="635.8" x2="203.72" y2="636.8" stroke="#222" stroke-width="0.6"/>
<line x1="205.93" y1="635.8" x2="205.93" y2="636.8" stroke="#222" stroke-width="0.6"/>
<line x1="207.65" y1="635.8" x2="207.65" y2="636.8" stroke="#222" stroke-width="0.6"/>
<line x1="209.05" y1="635.8" x2="209.05" y2="636.8" stroke="#222" stroke-width="0.6"/>
<line x1="210.24" y1="635.8" x2="210.24" y2="636.8" stroke="#222" stroke-width="0.6"/>
<line x1="211.27" y1="635.8" x2="211.27" y2="636.8" stroke="#222" stroke-width="0.6"/>
<line x1="212.17" y1="635.8" x2="212.17" y2="636.8" stroke="#222" stroke-width="0.6"/>
<line x1="212.98" y1="635.8" x2="212.98" y2="637.6" stroke="#222" stroke-width="0.6"/>
<line x1="143.6" y1="562.8" x2="143.6" y2="635.5" stroke="#555" stroke-width="0.5"/>
<text x="147" y="569.7" font-size="6.2" fill="#333" stroke="#333" stroke-width="0.15">EMRA</text>
<text x="212.2" y="569.7" font-size="6.2" fill="#333" stroke="#333" stroke-width="0.15" text-anchor="end">NV</text>
<text x="146.8" y="634.1" font-size="6.2" fill="#333" stroke="#333" stroke-width="0.15">EM</text>
<text x="213.4" y="634.1" font-size="6.2" fill="#333" stroke="#333" stroke-width="0.15" text-anchor="end">CM</text>
<text x="179.4" y="552.6" font-size="6.1" fill="#d6405a" stroke="#d6405a" stroke-width="0.2">Total CD4<tspan font-size="3.6" dy="-2">+</tspan><tspan dy="2"> </tspan></text>
<text x="179.1" y="560.2" font-size="6.1" fill="#3e60a6" stroke="#3e60a6" stroke-width="0.2">TNF-α<tspan font-size="3.6" dy="-2">+</tspan><tspan dy="2"> </tspan>CD4<tspan font-size="3.6" dy="-2">+</tspan><tspan dy="2"> </tspan></text>
<path d="M255.1,620.9 247.9,620.9 242.3,620.0 240.1,619.2 238.5,618.3 237.6,617.1 237.5,615.9 238.8,614.1 241.9,612.4 253.2,609.1 253.7,608.5 253.1,606.7 253.3,605.5 253.9,604.5 255.3,603.6 256.9,603.0 258.7,602.8 260.5,602.9 262.3,603.4 263.9,604.3 264.7,605.5 264.9,606.7 264.3,608.5 264.6,609.1 271.2,612.1 272.5,613.5 272.5,614.9 271.8,615.9 270.5,617.0 266.5,618.8 261.1,620.2 255.1,620.9Z" fill="#ccc8ea" fill-opacity="0.7" stroke="none"/>
<path d="M256.3,619.1 250.9,619.2 246.3,618.6 243.4,617.3 242.8,616.5 242.8,615.7 244.0,614.3 246.7,612.9 250.3,612.0 254.9,611.4 259.1,611.3 262.9,611.8 265.7,612.7 267.1,613.9 267.2,614.7 266.9,615.5 264.7,617.1 260.9,618.4 256.3,619.1Z" fill="#a29cd2" fill-opacity="0.5" stroke="none"/>
<path d="M256.3,617.7 252.7,617.9 249.7,617.5 247.6,616.7 247.1,615.7 247.8,614.7 249.3,613.9 251.7,613.2 254.7,612.8 257.5,612.7 260.1,613.0 262.1,613.7 262.9,614.5 262.7,615.5 261.3,616.4 259.1,617.2 256.3,617.7Z" fill="#6a62b4" fill-opacity="0.5" stroke="none"/>
<path d="M254.3,621.3 250.7,621.4 247.1,621.2 243.9,620.8 241.1,620.2 238.9,619.3 237.3,618.3 236.4,617.1 236.4,615.9 236.8,615.1 237.7,614.1 240.5,612.4 243.3,611.4 249.5,609.7 251.1,609.1 251.6,608.5 251.2,606.3 251.6,604.9 252.7,603.6 254.3,602.6 256.7,601.9 259.3,601.6 261.9,602.0 264.1,602.8 265.6,603.9 266.6,605.3 266.8,606.3 266.4,608.3 266.6,608.9 267.3,609.5 271.1,611.2 272.8,612.3 273.3,612.9 273.7,613.7 273.7,614.5 273.5,615.1 272.5,616.3 271.1,617.3 269.3,618.2 266.7,619.2 260.9,620.6 254.3,621.3Z" fill="none" stroke="#a8a4dc" stroke-width="0.42" opacity="0.75"/>
<path d="M254.5,621.1 250.9,621.2 247.3,621.0 244.1,620.6 241.5,620.0 239.3,619.2 237.7,618.1 237.0,617.1 237.0,615.9 237.4,615.1 238.3,614.1 240.9,612.6 244.1,611.4 250.6,609.7 252.1,609.1 252.6,608.5 252.2,606.5 252.4,605.3 253.2,604.1 254.7,603.1 256.7,602.4 258.9,602.2 261.3,602.4 263.3,603.1 264.8,604.1 265.6,605.3 265.8,606.5 265.4,608.3 265.5,608.9 266.3,609.5 270.3,611.2 272.1,612.3 272.7,612.9 273.1,613.7 273.1,614.3 272.9,615.1 272.1,616.1 270.7,617.2 268.9,618.1 266.7,619.0 260.9,620.4 254.5,621.1Z" fill="none" stroke="#a09cd7" stroke-width="0.42" opacity="0.75"/>
<path d="M254.7,620.9 251.1,621.0 247.5,620.8 244.5,620.4 241.9,619.8 239.7,619.0 238.4,618.1 237.6,617.1 237.6,615.9 237.9,615.1 238.9,614.1 241.9,612.4 244.9,611.4 251.8,609.7 253.4,609.1 253.8,608.5 253.2,606.3 253.7,604.9 254.6,604.1 255.6,603.5 258.3,602.9 261.1,603.1 262.4,603.5 263.5,604.2 264.3,604.9 264.7,605.9 264.7,606.9 264.2,608.5 264.5,609.1 265.6,609.7 270.3,611.6 271.7,612.5 272.4,613.5 272.4,614.7 271.7,615.9 270.2,617.1 268.1,618.2 265.3,619.2 261.9,620.0 258.3,620.6 254.7,620.9Z" fill="none" stroke="#9894d2" stroke-width="0.42" opacity="0.75"/>
<path d="M254.7,620.7 251.3,620.8 247.9,620.6 244.7,620.2 242.3,619.7 240.3,618.9 238.9,617.9 238.2,616.9 238.2,615.9 238.6,615.1 239.5,614.1 240.9,613.2 242.7,612.4 246.3,611.2 253.2,609.7 255.0,609.1 255.4,608.5 254.6,606.7 254.6,605.9 254.9,605.3 256.3,604.2 258.5,603.7 259.9,603.7 261.1,604.0 262.2,604.5 262.9,605.1 263.4,606.3 263.3,607.1 262.6,608.5 262.9,609.1 269.5,611.6 270.9,612.5 271.7,613.5 271.8,614.7 271.1,615.9 269.7,617.0 267.7,618.1 265.1,619.0 261.9,619.8 258.3,620.4 254.7,620.7Z" fill="none" stroke="#908ccd" stroke-width="0.42" opacity="0.75"/>
<path d="M259.9,607.9 258.7,608.1 257.3,607.5 256.6,606.7 256.6,606.1 256.8,605.7 257.5,605.1 258.5,604.9 259.7,604.9 260.8,605.3 261.4,605.9 261.4,606.7 260.9,607.4 259.9,607.9Z M254.5,620.5 248.1,620.4 243.1,619.6 241.1,618.9 239.6,617.9 238.9,616.9 238.8,615.9 239.3,614.9 240.5,613.9 242.1,613.0 244.5,612.0 249.1,610.8 258.7,609.0 261.1,609.4 267.7,611.2 269.9,612.3 270.6,612.9 271.1,613.7 271.2,614.7 270.5,615.9 269.1,617.0 267.1,618.0 264.3,619.0 261.5,619.6 258.1,620.2 254.5,620.5Z" fill="none" stroke="#8784c8" stroke-width="0.42" opacity="0.75"/>
<path d="M254.3,620.3 248.1,620.2 245.3,619.8 243.1,619.3 241.3,618.5 240.1,617.7 239.5,616.7 239.5,615.7 240.2,614.7 241.3,613.8 243.1,612.8 245.3,612.0 250.5,610.8 257.5,609.8 261.3,610.0 266.1,611.0 269.1,612.3 269.9,612.9 270.5,613.7 270.5,614.7 269.8,615.9 268.3,617.0 266.3,618.0 263.9,618.8 260.7,619.6 254.3,620.3Z" fill="none" stroke="#7f7cc3" stroke-width="0.42" opacity="0.75"/>
<path d="M253.7,620.1 248.3,620.0 245.7,619.6 243.5,619.0 241.8,618.3 240.7,617.5 240.2,616.7 240.2,615.7 240.9,614.7 241.9,613.9 243.5,613.0 245.5,612.2 250.5,611.0 256.5,610.3 260.5,610.3 264.9,611.0 268.1,612.2 269.1,612.9 269.7,613.7 269.8,614.7 269.1,615.9 267.8,616.9 265.9,617.8 263.1,618.8 260.3,619.4 257.3,619.8 253.7,620.1Z" fill="none" stroke="#7774be" stroke-width="0.42" opacity="0.75"/>
<path d="M256.3,619.7 250.3,619.8 245.3,619.2 243.3,618.6 241.9,617.8 241.1,616.9 240.9,615.9 241.3,615.1 242.3,614.1 245.3,612.6 249.9,611.4 255.5,610.6 259.9,610.6 264.1,611.2 267.3,612.3 268.3,612.9 269.0,613.7 269.1,614.5 268.7,615.5 267.7,616.5 266.1,617.4 261.9,618.8 256.3,619.7Z" fill="none" stroke="#6f6cb9" stroke-width="0.42" opacity="0.75"/>
<path d="M255.7,619.5 250.1,619.6 245.3,618.8 243.5,618.2 242.4,617.5 241.8,616.7 241.7,615.7 242.2,614.9 243.1,614.1 246.3,612.6 250.3,611.6 255.3,610.9 259.5,610.9 263.7,611.5 266.7,612.5 267.6,613.1 268.2,613.9 268.3,614.7 267.8,615.7 266.9,616.5 265.3,617.4 260.9,618.7 255.7,619.5Z" fill="none" stroke="#6764b3" stroke-width="0.42" opacity="0.75"/>
<path d="M254.7,619.3 249.7,619.3 245.7,618.6 244.1,617.9 243.1,617.3 242.5,616.5 242.5,615.7 243.0,614.9 243.9,614.2 246.7,612.8 250.7,611.8 255.1,611.2 259.3,611.2 262.9,611.6 265.9,612.6 266.9,613.3 267.4,613.9 267.5,614.7 267.0,615.7 265.9,616.6 264.3,617.4 260.1,618.6 254.7,619.3Z" fill="none" stroke="#5f5cae" stroke-width="0.42" opacity="0.75"/>
<path d="M256.3,618.9 251.3,619.1 246.9,618.5 245.3,618.0 244.1,617.3 243.5,616.5 243.4,615.7 243.9,614.9 244.6,614.3 247.1,613.1 250.5,612.2 254.9,611.6 259.1,611.5 262.7,612.0 265.3,612.9 266.1,613.5 266.5,614.1 266.6,614.7 266.3,615.5 265.4,616.3 264.1,617.0 260.7,618.2 256.3,618.9Z" fill="none" stroke="#5754a9" stroke-width="0.42" opacity="0.75"/>
<path d="M254.9,618.7 250.5,618.7 247.1,618.1 245.0,617.1 244.5,616.5 244.4,615.7 244.7,615.1 245.3,614.5 247.7,613.3 250.9,612.4 254.9,611.9 258.5,611.8 261.9,612.2 264.3,613.0 265.0,613.5 265.5,614.1 265.7,614.7 265.3,615.5 264.4,616.3 263.1,617.0 259.3,618.1 254.9,618.7Z" fill="none" stroke="#4f4ca4" stroke-width="0.42" opacity="0.75"/>
<path d="M255.7,618.3 251.7,618.4 248.3,617.9 247.0,617.5 245.9,616.9 245.5,616.3 245.4,615.7 245.7,615.1 246.4,614.5 248.4,613.5 251.5,612.7 254.9,612.2 258.3,612.2 261.3,612.6 263.5,613.3 264.5,614.3 264.6,614.9 264.3,615.5 263.6,616.1 262.5,616.7 259.3,617.8 255.7,618.3Z" fill="none" stroke="#46449f" stroke-width="0.42" opacity="0.75"/>
<path d="M255.9,617.9 252.3,618.0 249.3,617.6 247.3,616.9 246.7,616.3 246.6,615.7 247.3,614.7 249.1,613.8 251.7,613.0 254.5,612.6 257.5,612.6 260.1,612.8 262.3,613.5 263.3,614.3 263.4,614.9 263.1,615.5 261.7,616.5 259.1,617.4 255.9,617.9Z" fill="none" stroke="#3e3c9a" stroke-width="0.42" opacity="0.75"/>
<path d="M255.5,617.5 252.5,617.6 249.9,617.2 248.4,616.5 248.0,616.1 248.0,615.5 248.7,614.7 250.3,613.9 252.5,613.4 254.9,613.1 257.3,613.0 259.5,613.3 261.1,613.8 262.0,614.5 262.0,614.9 261.8,615.5 260.6,616.3 258.3,617.1 255.5,617.5Z" fill="none" stroke="#363495" stroke-width="0.42" opacity="0.75"/>
<path d="M255.9,616.9 253.5,617.0 251.5,616.8 250.2,616.3 249.8,615.9 249.7,615.5 250.2,614.9 251.3,614.3 254.7,613.6 258.3,613.8 259.5,614.1 260.2,614.7 260.2,615.3 259.3,616.0 257.9,616.5 255.9,616.9Z" fill="none" stroke="#2e2c90" stroke-width="0.42" opacity="0.75"/>
<path d="M256.1,616.3 254.5,616.5 252.9,616.4 251.9,616.1 251.4,615.5 251.7,615.1 252.3,614.7 254.7,614.2 257.3,614.3 258.0,614.5 258.5,614.9 258.5,615.3 258.1,615.7 256.1,616.3Z" fill="#fff" fill-opacity="0.85" stroke="none"/>
<path d="M267.5,607.3 265.9,607.4 264.3,606.7 262.9,605.4 261.8,603.5 260.8,600.7 258.7,591.7 258.3,587.5 258.5,584.9 259.1,582.7 260.0,580.7 261.4,578.7 262.9,577.2 264.5,576.2 266.3,575.5 268.3,575.3 270.3,575.6 272.1,576.4 273.7,577.5 275.1,579.1 276.4,581.1 277.2,583.1 277.8,585.7 277.9,588.1 277.4,591.7 276.2,594.9 273.3,599.3 270.7,604.9 269.1,606.6 267.5,607.3Z" fill="#f8dade" fill-opacity="0.7" stroke="none"/>
<path d="M267.5,607.3 265.9,607.4 264.3,606.7 262.9,605.4 261.8,603.5 260.8,600.7 259.9,596.2 258.7,591.7 258.4,589.7 258.3,587.5 258.5,584.9 259.1,582.7 260.0,580.7 261.4,578.7 262.9,577.2 264.5,576.2 266.3,575.5 268.3,575.3 270.3,575.6 272.1,576.4 273.7,577.5 275.1,579.1 276.4,581.1 277.2,583.1 277.8,585.7 277.9,588.1 277.4,591.7 276.2,594.9 273.3,599.3 271.6,603.3 270.7,604.9 269.1,606.6 267.5,607.3Z" fill="none" stroke="#f2b2be" stroke-width="0.42" opacity="0.8"/>
<path d="M267.1,606.9 265.5,606.8 264.1,606.0 262.7,604.5 261.8,602.7 261.0,600.3 260.1,595.6 259.0,591.3 258.7,589.1 258.6,587.1 259.0,584.7 259.6,582.5 260.6,580.5 261.7,578.9 263.3,577.4 264.9,576.5 266.7,575.9 268.5,575.8 270.3,576.1 272.1,576.9 273.7,578.1 275.1,579.7 276.2,581.5 277.0,583.7 277.4,585.9 277.5,588.5 277.2,591.1 276.4,593.7 275.4,595.5 273.1,598.9 271.0,603.7 270.1,605.0 269.1,606.0 268.1,606.6 267.1,606.9Z" fill="none" stroke="#f0aab7" stroke-width="0.42" opacity="0.8"/>
<path d="M267.3,606.3 265.9,606.3 264.5,605.7 263.2,604.5 262.2,602.7 261.4,600.3 260.5,595.8 259.4,591.3 259.1,589.3 259.0,587.3 259.2,585.3 259.8,583.1 260.7,581.1 261.9,579.3 263.3,578.0 264.9,577.0 266.5,576.4 268.3,576.2 269.9,576.5 271.7,577.2 273.3,578.3 274.7,579.9 275.8,581.7 276.6,583.7 277.1,585.9 277.2,588.3 276.8,591.1 276.0,593.5 275.1,595.3 272.9,598.5 270.8,603.3 270.0,604.5 269.1,605.4 268.3,606.0 267.3,606.3Z" fill="none" stroke="#efa2b0" stroke-width="0.42" opacity="0.8"/>
<path d="M267.5,605.7 266.1,605.8 264.7,605.2 263.5,604.1 262.4,602.3 261.6,599.9 260.7,595.1 259.8,591.3 259.4,587.5 259.6,585.3 260.1,583.3 261.0,581.3 262.1,579.8 263.5,578.4 265.1,577.4 266.7,576.9 268.3,576.7 269.9,576.9 271.5,577.6 273.1,578.7 274.4,580.1 275.4,581.7 276.2,583.7 276.7,585.7 276.8,588.1 276.4,591.3 275.2,594.3 272.5,598.4 270.2,603.5 268.9,605.0 267.5,605.7Z" fill="none" stroke="#ed9aa8" stroke-width="0.42" opacity="0.8"/>
<path d="M267.5,605.1 266.1,605.2 264.9,604.7 263.7,603.6 262.7,601.9 262.0,599.7 261.1,595.1 260.1,591.1 259.8,587.5 260.0,585.3 260.6,583.3 261.4,581.5 262.4,580.1 263.7,578.8 265.1,577.9 266.7,577.4 268.3,577.2 269.9,577.5 271.5,578.1 272.9,579.2 274.1,580.5 275.0,581.9 275.8,583.9 276.3,585.9 276.4,588.1 276.0,591.1 275.0,593.7 272.3,597.9 269.9,603.1 268.7,604.4 267.5,605.1Z" fill="none" stroke="#eb92a1" stroke-width="0.42" opacity="0.8"/>
<path d="M267.1,604.5 265.9,604.5 264.7,603.9 263.6,602.7 262.8,601.1 262.2,599.1 260.5,590.7 260.2,587.3 260.5,585.3 261.0,583.5 261.8,581.7 262.9,580.3 264.1,579.1 265.5,578.3 267.1,577.8 268.5,577.8 269.9,578.0 271.5,578.7 272.9,579.8 274.0,581.1 274.9,582.7 275.6,584.5 275.9,586.5 276.0,588.5 275.7,590.7 275.0,592.7 274.2,594.3 271.9,597.7 270.0,602.1 268.7,603.7 267.9,604.3 267.1,604.5Z" fill="none" stroke="#ea8a9a" stroke-width="0.42" opacity="0.8"/>
<path d="M267.5,603.7 266.3,603.9 265.1,603.4 264.1,602.4 263.3,600.9 262.6,598.9 261.0,590.9 260.6,587.5 260.8,585.7 261.3,583.9 262.0,582.3 263.0,580.9 264.1,579.8 265.5,578.9 266.9,578.4 268.3,578.3 269.7,578.5 271.1,579.1 272.4,580.1 273.5,581.3 274.4,582.7 275.0,584.3 275.4,586.1 275.5,588.1 275.2,590.7 274.2,593.3 271.7,597.1 269.5,601.9 268.5,603.1 267.5,603.7Z" fill="none" stroke="#e88293" stroke-width="0.42" opacity="0.8"/>
<path d="M267.3,603.0 266.3,603.0 265.3,602.7 264.3,601.7 263.6,600.3 263.0,598.5 261.4,590.7 261.1,587.5 261.3,585.7 261.8,584.1 262.4,582.7 263.3,581.3 264.5,580.2 265.7,579.5 266.9,579.1 268.3,578.9 269.7,579.2 270.9,579.7 272.1,580.5 273.2,581.7 274.0,583.1 274.6,584.7 275.0,586.5 275.1,588.3 274.7,590.7 273.8,592.9 271.3,596.8 269.2,601.3 268.3,602.4 267.3,603.0Z" fill="none" stroke="#e67a8b" stroke-width="0.42" opacity="0.8"/>
<path d="M266.9,602.1 265.9,602.0 265.1,601.5 264.4,600.5 263.8,599.3 261.8,590.3 261.6,587.1 261.9,585.5 262.4,583.9 263.9,581.5 264.9,580.6 266.1,580.0 267.3,579.6 268.5,579.6 269.7,579.8 270.9,580.4 272.1,581.3 273.0,582.5 273.8,583.9 274.3,585.3 274.5,586.9 274.5,588.5 274.2,590.7 273.2,592.9 270.8,596.5 268.8,600.7 267.9,601.7 266.9,602.1Z" fill="none" stroke="#e47284" stroke-width="0.42" opacity="0.8"/>
<path d="M267.1,601.0 266.3,601.0 265.5,600.6 264.9,599.9 264.4,598.7 262.4,590.3 262.2,587.3 262.8,584.5 264.1,582.2 265.1,581.3 266.1,580.7 267.1,580.4 268.3,580.3 269.5,580.5 270.5,580.9 271.5,581.6 272.5,582.7 273.2,583.9 273.7,585.3 274.0,586.7 274.0,588.3 273.6,590.5 272.8,592.5 270.3,596.1 268.5,599.7 267.9,600.5 267.1,601.0Z" fill="none" stroke="#e36a7d" stroke-width="0.42" opacity="0.8"/>
<path d="M266.9,599.5 266.3,599.5 265.7,599.1 264.9,597.6 263.0,590.3 262.8,587.1 263.4,584.7 264.7,582.6 266.5,581.4 267.5,581.1 268.5,581.1 269.5,581.3 270.5,581.8 271.4,582.5 272.2,583.5 273.2,585.9 273.4,588.5 273.0,590.5 272.2,592.3 269.7,595.7 268.0,598.7 266.9,599.5Z" fill="none" stroke="#e16276" stroke-width="0.42" opacity="0.8"/>
<path d="M267.1,597.1 266.5,597.1 266.1,596.8 265.3,595.2 263.7,590.5 263.5,588.9 263.5,587.3 264.0,585.1 265.1,583.3 266.7,582.2 268.5,581.9 270.3,582.6 271.7,584.1 272.5,586.1 272.7,588.5 272.3,590.3 271.4,592.1 267.9,596.4 267.1,597.1Z" fill="none" stroke="#df5a6e" stroke-width="0.42" opacity="0.8"/>
<path d="M267.9,594.1 267.3,594.3 266.7,594.1 265.7,593.0 264.6,590.5 264.2,587.9 264.6,585.9 265.4,584.3 266.7,583.3 268.1,582.9 269.7,583.4 270.9,584.5 271.7,586.1 271.9,587.9 271.6,589.7 270.9,591.3 269.5,592.9 267.9,594.1Z" fill="none" stroke="#de5267" stroke-width="0.42" opacity="0.8"/>
<path d="M267.9,592.1 266.9,591.9 266.1,591.1 265.4,589.5 265.2,587.9 265.5,586.5 266.1,585.3 267.1,584.5 268.1,584.2 269.1,584.5 270.1,585.3 270.7,586.5 270.9,587.9 270.7,589.3 270.1,590.5 269.1,591.6 267.9,592.1Z" fill="none" stroke="#dc4a60" stroke-width="0.42" opacity="0.8"/>
<path d="M268.3,591.1 267.3,591.1 266.6,590.5 266.0,589.5 265.8,588.1 265.9,586.9 266.4,585.9 267.1,585.3 268.1,585.0 268.9,585.2 269.7,585.8 270.1,586.7 270.3,587.7 270.2,588.9 269.8,589.9 269.1,590.7 268.3,591.1Z" fill="#fff" fill-opacity="0.9" stroke="none"/>
<path d="M244.5,607.8 C247.5,596.8 267.5,595.8 271.5,607.8" fill="none" stroke="#4a4a9a" stroke-width="0.4" opacity="0.75"/>
<path d="M247.0,607.8 C250.0,598.8 265.5,597.8 269.5,607.8" fill="none" stroke="#4a4a9a" stroke-width="0.4" opacity="0.75"/>
<path d="M249.0,607.8 C252.0,600.8 263.5,599.8 267.5,607.8" fill="none" stroke="#4a4a9a" stroke-width="0.4" opacity="0.75"/>
<path d="M251.0,607.8 C254.0,602.8 262.0,601.8 266.0,607.8" fill="none" stroke="#4a4a9a" stroke-width="0.4" opacity="0.75"/>
<path d="M254.0,607.8 C257.0,600.3 268.0,599.3 272.0,607.8" fill="none" stroke="#4a4a9a" stroke-width="0.4" opacity="0.75"/>
<rect x="225" y="562.8" width="71.4" height="72.7" fill="none" stroke="#8a8a8a" stroke-width="0.6"/>
<line x1="259" y1="562.8" x2="259" y2="635.5" stroke="#777" stroke-width="0.65"/>
<line x1="225" y1="607.3" x2="296.4" y2="607.3" stroke="#777" stroke-width="0.65"/>
<line x1="224" y1="634.5" x2="225.2" y2="634.5" stroke="#222" stroke-width="0.6"/>
<line x1="224" y1="633.6" x2="225.2" y2="633.6" stroke="#222" stroke-width="0.6"/>
<line x1="224" y1="632.7" x2="225.2" y2="632.7" stroke="#222" stroke-width="0.6"/>
<line x1="224" y1="631.8" x2="225.2" y2="631.8" stroke="#222" stroke-width="0.6"/>
<line x1="224" y1="630.9" x2="225.2" y2="630.9" stroke="#222" stroke-width="0.6"/>
<line x1="224" y1="630" x2="225.2" y2="630" stroke="#222" stroke-width="0.6"/>
<line x1="224" y1="629.1" x2="225.2" y2="629.1" stroke="#222" stroke-width="0.6"/>
<line x1="224" y1="628.2" x2="225.2" y2="628.2" stroke="#222" stroke-width="0.6"/>
<line x1="224" y1="627.3" x2="225.2" y2="627.3" stroke="#222" stroke-width="0.6"/>
<line x1="224" y1="626.4" x2="225.2" y2="626.4" stroke="#222" stroke-width="0.6"/>
<line x1="224" y1="625.5" x2="225.2" y2="625.5" stroke="#222" stroke-width="0.6"/>
<line x1="224" y1="624.6" x2="225.2" y2="624.6" stroke="#222" stroke-width="0.6"/>
<line x1="224" y1="623.7" x2="225.2" y2="623.7" stroke="#222" stroke-width="0.6"/>
<line x1="224" y1="622.8" x2="225.2" y2="622.8" stroke="#222" stroke-width="0.6"/>
<line x1="224" y1="621.9" x2="225.2" y2="621.9" stroke="#222" stroke-width="0.6"/>
<line x1="224" y1="621" x2="225.2" y2="621" stroke="#222" stroke-width="0.6"/>
<line x1="224" y1="620.1" x2="225.2" y2="620.1" stroke="#222" stroke-width="0.6"/>
<line x1="224" y1="619.2" x2="225.2" y2="619.2" stroke="#222" stroke-width="0.6"/>
<line x1="224" y1="618.3" x2="225.2" y2="618.3" stroke="#222" stroke-width="0.6"/>
<line x1="224" y1="617.4" x2="225.2" y2="617.4" stroke="#222" stroke-width="0.6"/>
<line x1="224" y1="616.5" x2="225.2" y2="616.5" stroke="#222" stroke-width="0.6"/>
<line x1="224" y1="615.6" x2="225.2" y2="615.6" stroke="#222" stroke-width="0.6"/>
<line x1="224" y1="614.7" x2="225.2" y2="614.7" stroke="#222" stroke-width="0.6"/>
<line x1="224" y1="613.8" x2="225.2" y2="613.8" stroke="#222" stroke-width="0.6"/>
<line x1="224" y1="612.9" x2="225.2" y2="612.9" stroke="#222" stroke-width="0.6"/>
<line x1="224" y1="612" x2="225.2" y2="612" stroke="#222" stroke-width="0.6"/>
<line x1="224" y1="611.1" x2="225.2" y2="611.1" stroke="#222" stroke-width="0.6"/>
<line x1="224" y1="610.2" x2="225.2" y2="610.2" stroke="#222" stroke-width="0.6"/>
<line x1="224" y1="609.3" x2="225.2" y2="609.3" stroke="#222" stroke-width="0.6"/>
<line x1="224" y1="608.4" x2="225.2" y2="608.4" stroke="#222" stroke-width="0.6"/>
<line x1="224" y1="607.5" x2="225.2" y2="607.5" stroke="#222" stroke-width="0.6"/>
<line x1="224" y1="606.6" x2="225.2" y2="606.6" stroke="#222" stroke-width="0.6"/>
<line x1="222.8" y1="607.3" x2="225.2" y2="607.3" stroke="#222" stroke-width="0.6"/>
<line x1="224" y1="601" x2="225.2" y2="601" stroke="#222" stroke-width="0.6"/>
<line x1="224" y1="597.32" x2="225.2" y2="597.32" stroke="#222" stroke-width="0.6"/>
<line x1="224" y1="594.71" x2="225.2" y2="594.71" stroke="#222" stroke-width="0.6"/>
<line x1="224" y1="592.68" x2="225.2" y2="592.68" stroke="#222" stroke-width="0.6"/>
<line x1="224" y1="591.02" x2="225.2" y2="591.02" stroke="#222" stroke-width="0.6"/>
<line x1="224" y1="589.62" x2="225.2" y2="589.62" stroke="#222" stroke-width="0.6"/>
<line x1="224" y1="588.41" x2="225.2" y2="588.41" stroke="#222" stroke-width="0.6"/>
<line x1="224" y1="587.34" x2="225.2" y2="587.34" stroke="#222" stroke-width="0.6"/>
<line x1="222.8" y1="586.38" x2="225.2" y2="586.38" stroke="#222" stroke-width="0.6"/>
<line x1="224" y1="580.09" x2="225.2" y2="580.09" stroke="#222" stroke-width="0.6"/>
<line x1="224" y1="576.41" x2="225.2" y2="576.41" stroke="#222" stroke-width="0.6"/>
<line x1="224" y1="573.79" x2="225.2" y2="573.79" stroke="#222" stroke-width="0.6"/>
<line x1="224" y1="571.77" x2="225.2" y2="571.77" stroke="#222" stroke-width="0.6"/>
<line x1="224" y1="570.11" x2="225.2" y2="570.11" stroke="#222" stroke-width="0.6"/>
<line x1="224" y1="568.71" x2="225.2" y2="568.71" stroke="#222" stroke-width="0.6"/>
<line x1="224" y1="567.5" x2="225.2" y2="567.5" stroke="#222" stroke-width="0.6"/>
<line x1="224" y1="566.43" x2="225.2" y2="566.43" stroke="#222" stroke-width="0.6"/>
<line x1="222.8" y1="565.47" x2="225.2" y2="565.47" stroke="#222" stroke-width="0.6"/>
<line x1="228.5" y1="635.8" x2="228.5" y2="637" stroke="#222" stroke-width="0.6"/>
<line x1="229.4" y1="635.8" x2="229.4" y2="637" stroke="#222" stroke-width="0.6"/>
<line x1="230.3" y1="635.8" x2="230.3" y2="637" stroke="#222" stroke-width="0.6"/>
<line x1="231.2" y1="635.8" x2="231.2" y2="637" stroke="#222" stroke-width="0.6"/>
<line x1="232.1" y1="635.8" x2="232.1" y2="637" stroke="#222" stroke-width="0.6"/>
<line x1="233" y1="635.8" x2="233" y2="637" stroke="#222" stroke-width="0.6"/>
<line x1="233.9" y1="635.8" x2="233.9" y2="637" stroke="#222" stroke-width="0.6"/>
<line x1="234.8" y1="635.8" x2="234.8" y2="637" stroke="#222" stroke-width="0.6"/>
<line x1="235.7" y1="635.8" x2="235.7" y2="637" stroke="#222" stroke-width="0.6"/>
<line x1="236.6" y1="635.8" x2="236.6" y2="637" stroke="#222" stroke-width="0.6"/>
<line x1="237.5" y1="635.8" x2="237.5" y2="637" stroke="#222" stroke-width="0.6"/>
<line x1="238.4" y1="635.8" x2="238.4" y2="637" stroke="#222" stroke-width="0.6"/>
<line x1="239.3" y1="635.8" x2="239.3" y2="637" stroke="#222" stroke-width="0.6"/>
<line x1="240.2" y1="635.8" x2="240.2" y2="637" stroke="#222" stroke-width="0.6"/>
<line x1="241.1" y1="635.8" x2="241.1" y2="637" stroke="#222" stroke-width="0.6"/>
<line x1="242" y1="635.8" x2="242" y2="637" stroke="#222" stroke-width="0.6"/>
<line x1="242.9" y1="635.8" x2="242.9" y2="637" stroke="#222" stroke-width="0.6"/>
<line x1="243.8" y1="635.8" x2="243.8" y2="637" stroke="#222" stroke-width="0.6"/>
<line x1="244.7" y1="635.8" x2="244.7" y2="637" stroke="#222" stroke-width="0.6"/>
<line x1="245.6" y1="635.8" x2="245.6" y2="637" stroke="#222" stroke-width="0.6"/>
<line x1="246.5" y1="635.8" x2="246.5" y2="637" stroke="#222" stroke-width="0.6"/>
<line x1="247.4" y1="635.8" x2="247.4" y2="637" stroke="#222" stroke-width="0.6"/>
<line x1="248.3" y1="635.8" x2="248.3" y2="637" stroke="#222" stroke-width="0.6"/>
<line x1="249.2" y1="635.8" x2="249.2" y2="637" stroke="#222" stroke-width="0.6"/>
<line x1="250.1" y1="635.8" x2="250.1" y2="637" stroke="#222" stroke-width="0.6"/>
<line x1="251" y1="635.8" x2="251" y2="637" stroke="#222" stroke-width="0.6"/>
<line x1="251.9" y1="635.8" x2="251.9" y2="637" stroke="#222" stroke-width="0.6"/>
<line x1="252.8" y1="635.8" x2="252.8" y2="637" stroke="#222" stroke-width="0.6"/>
<line x1="258" y1="635.8" x2="258" y2="637.6" stroke="#222" stroke-width="0.6"/>
<line x1="263.37" y1="635.8" x2="263.37" y2="636.8" stroke="#222" stroke-width="0.6"/>
<line x1="266.51" y1="635.8" x2="266.51" y2="636.8" stroke="#222" stroke-width="0.6"/>
<line x1="268.73" y1="635.8" x2="268.73" y2="636.8" stroke="#222" stroke-width="0.6"/>
<line x1="270.46" y1="635.8" x2="270.46" y2="636.8" stroke="#222" stroke-width="0.6"/>
<line x1="271.87" y1="635.8" x2="271.87" y2="636.8" stroke="#222" stroke-width="0.6"/>
<line x1="273.07" y1="635.8" x2="273.07" y2="636.8" stroke="#222" stroke-width="0.6"/>
<line x1="274.1" y1="635.8" x2="274.1" y2="636.8" stroke="#222" stroke-width="0.6"/>
<line x1="275.01" y1="635.8" x2="275.01" y2="636.8" stroke="#222" stroke-width="0.6"/>
<line x1="275.83" y1="635.8" x2="275.83" y2="637.6" stroke="#222" stroke-width="0.6"/>
<line x1="275.83" y1="635.8" x2="275.83" y2="637.6" stroke="#222" stroke-width="0.6"/>
<line x1="281.12" y1="635.8" x2="281.12" y2="636.8" stroke="#222" stroke-width="0.6"/>
<line x1="284.22" y1="635.8" x2="284.22" y2="636.8" stroke="#222" stroke-width="0.6"/>
<line x1="286.41" y1="635.8" x2="286.41" y2="636.8" stroke="#222" stroke-width="0.6"/>
<line x1="288.12" y1="635.8" x2="288.12" y2="636.8" stroke="#222" stroke-width="0.6"/>
<line x1="289.51" y1="635.8" x2="289.51" y2="636.8" stroke="#222" stroke-width="0.6"/>
<line x1="290.69" y1="635.8" x2="290.69" y2="636.8" stroke="#222" stroke-width="0.6"/>
<line x1="291.7" y1="635.8" x2="291.7" y2="636.8" stroke="#222" stroke-width="0.6"/>
<line x1="292.6" y1="635.8" x2="292.6" y2="636.8" stroke="#222" stroke-width="0.6"/>
<line x1="293.41" y1="635.8" x2="293.41" y2="637.6" stroke="#222" stroke-width="0.6"/>
<line x1="225" y1="562.8" x2="225" y2="635.5" stroke="#555" stroke-width="0.5"/>
<text x="228.4" y="569.7" font-size="6.2" fill="#333" stroke="#333" stroke-width="0.15">EMRA</text>
<text x="292.6" y="569.7" font-size="6.2" fill="#333" stroke="#333" stroke-width="0.15" text-anchor="end">NV</text>
<text x="228.2" y="634.1" font-size="6.2" fill="#333" stroke="#333" stroke-width="0.15">EM</text>
<text x="293.8" y="634.1" font-size="6.2" fill="#333" stroke="#333" stroke-width="0.15" text-anchor="end">CM</text>
<text x="267.3" y="552.6" font-size="6.1" fill="#d6405a" stroke="#d6405a" stroke-width="0.2">Total CD4<tspan font-size="3.6" dy="-2">+</tspan><tspan dy="2"> </tspan></text>
<text x="267" y="560.2" font-size="6.1" fill="#3e60a6" stroke="#3e60a6" stroke-width="0.2">IL-2<tspan font-size="3.6" dy="-2">+</tspan><tspan dy="2"> </tspan>CD4<tspan font-size="3.6" dy="-2">+</tspan><tspan dy="2"> </tspan></text>
<line x1="42" y1="473" x2="42" y2="608" stroke="#333" stroke-width="0.9"/>
<path d="M42,469.5 L40.2,474.5 L43.8,474.5 Z" fill="#222"/>
<text transform="translate(44.2,622.6) rotate(-90)" font-size="6.8" font-weight="bold" fill="#333" stroke="#333" stroke-width="0.2" text-anchor="middle" textLength="22" lengthAdjust="spacingAndGlyphs">CD45RA</text>
<line x1="82" y1="646.7" x2="290" y2="646.7" stroke="#333" stroke-width="0.9"/>
<path d="M294,646.7 L288.8,644.9 L288.8,648.5 Z" fill="#222"/>
<text x="66.2" y="649.3" font-size="6.8" font-weight="bold" fill="#333" stroke="#333" stroke-width="0.2" textLength="13.4" lengthAdjust="spacingAndGlyphs">CCR7</text>
<line x1="346.5" y1="452.7" x2="346.5" y2="532.7" stroke="#2b2b2b" stroke-width="1.15"/>
<line x1="343.9" y1="532.2" x2="346.5" y2="532.2" stroke="#2b2b2b" stroke-width="0.9"/>
<text x="340.7" y="534.3" font-size="6.0" text-anchor="end" fill="#4a4a4a" stroke="#4a4a4a" stroke-width="0.12">0</text>
<line x1="343.9" y1="519.2" x2="346.5" y2="519.2" stroke="#2b2b2b" stroke-width="0.9"/>
<text x="340.7" y="521.3" font-size="6.0" text-anchor="end" fill="#4a4a4a" stroke="#4a4a4a" stroke-width="0.12">20</text>
<line x1="343.9" y1="506.2" x2="346.5" y2="506.2" stroke="#2b2b2b" stroke-width="0.9"/>
<text x="340.7" y="508.3" font-size="6.0" text-anchor="end" fill="#4a4a4a" stroke="#4a4a4a" stroke-width="0.12">40</text>
<line x1="343.9" y1="493.2" x2="346.5" y2="493.2" stroke="#2b2b2b" stroke-width="0.9"/>
<text x="340.7" y="495.3" font-size="6.0" text-anchor="end" fill="#4a4a4a" stroke="#4a4a4a" stroke-width="0.12">60</text>
<line x1="343.9" y1="480.2" x2="346.5" y2="480.2" stroke="#2b2b2b" stroke-width="0.9"/>
<text x="340.7" y="482.3" font-size="6.0" text-anchor="end" fill="#4a4a4a" stroke="#4a4a4a" stroke-width="0.12">80</text>
<line x1="343.9" y1="467.2" x2="346.5" y2="467.2" stroke="#2b2b2b" stroke-width="0.9"/>
<text x="340.7" y="469.3" font-size="6.0" text-anchor="end" fill="#4a4a4a" stroke="#4a4a4a" stroke-width="0.12">100</text>
<line x1="343.9" y1="454.2" x2="346.5" y2="454.2" stroke="#2b2b2b" stroke-width="0.9"/>
<text x="340.7" y="456.3" font-size="6.0" text-anchor="end" fill="#4a4a4a" stroke="#4a4a4a" stroke-width="0.12">120</text>
<line x1="343.9" y1="532.2" x2="385" y2="532.2" stroke="#2b2b2b" stroke-width="1.15"/>
<rect x="350.3" y="521.8" width="5.3" height="10.4" fill="#8a7fc2"/>
<rect x="350.3" y="518.36" width="5.3" height="3.45" fill="#f39320"/>
<rect x="350.3" y="502.76" width="5.3" height="15.6" fill="#33a7df"/>
<rect x="350.3" y="467.2" width="5.3" height="35.56" fill="#146b4c"/>
<path d="M351.35,521.4 L354.55,521.4 L353.4,522.8 L353.4,524.6 L352.5,524.6 L352.5,522.8 Z" fill="#24160c" opacity="0.9"/>
<path d="M351.35,517.96 L354.55,517.96 L353.4,519.36 L353.4,521.15 L352.5,521.15 L352.5,519.36 Z" fill="#24160c" opacity="0.9"/>
<path d="M351.35,502.36 L354.55,502.36 L353.4,503.76 L353.4,505.56 L352.5,505.56 L352.5,503.76 Z" fill="#24160c" opacity="0.9"/>
<line x1="352.95" y1="465.25" x2="352.95" y2="467.2" stroke="#333" stroke-width="0.7"/>
<line x1="351.65" y1="465.25" x2="354.25" y2="465.25" stroke="#333" stroke-width="0.9"/>
<line x1="352.95" y1="532.2" x2="352.95" y2="534.6" stroke="#2b2b2b" stroke-width="0.8"/>
<rect x="359.15" y="517.45" width="5.3" height="14.75" fill="#8a7fc2"/>
<rect x="359.15" y="511.4" width="5.3" height="6.05" fill="#f39320"/>
<rect x="359.15" y="494.56" width="5.3" height="16.84" fill="#33a7df"/>
<rect x="359.15" y="467.2" width="5.3" height="27.37" fill="#146b4c"/>
<path d="M360.2,517.05 L363.4,517.05 L362.25,518.45 L362.25,520.25 L361.35,520.25 L361.35,518.45 Z" fill="#24160c" opacity="0.9"/>
<path d="M360.2,511 L363.4,511 L362.25,512.4 L362.25,514.2 L361.35,514.2 L361.35,512.4 Z" fill="#24160c" opacity="0.9"/>
<path d="M360.2,494.17 L363.4,494.17 L362.25,495.56 L362.25,497.37 L361.35,497.37 L361.35,495.56 Z" fill="#24160c" opacity="0.9"/>
<line x1="361.8" y1="465.25" x2="361.8" y2="467.2" stroke="#333" stroke-width="0.7"/>
<line x1="360.5" y1="465.25" x2="363.1" y2="465.25" stroke="#333" stroke-width="0.9"/>
<line x1="361.8" y1="532.2" x2="361.8" y2="534.6" stroke="#2b2b2b" stroke-width="0.8"/>
<rect x="367.95" y="519.2" width="5.3" height="13" fill="#8a7fc2"/>
<rect x="367.95" y="514.85" width="5.3" height="4.36" fill="#f39320"/>
<rect x="367.95" y="496.32" width="5.3" height="18.53" fill="#33a7df"/>
<rect x="367.95" y="467.2" width="5.3" height="29.12" fill="#146b4c"/>
<path d="M369,518.8 L372.2,518.8 L371.05,520.2 L371.05,522 L370.15,522 L370.15,520.2 Z" fill="#24160c" opacity="0.9"/>
<path d="M369,514.45 L372.2,514.45 L371.05,515.85 L371.05,517.64 L370.15,517.64 L370.15,515.85 Z" fill="#24160c" opacity="0.9"/>
<path d="M369,495.92 L372.2,495.92 L371.05,497.32 L371.05,499.12 L370.15,499.12 L370.15,497.32 Z" fill="#24160c" opacity="0.9"/>
<line x1="370.6" y1="465.25" x2="370.6" y2="467.2" stroke="#333" stroke-width="0.7"/>
<line x1="369.3" y1="465.25" x2="371.9" y2="465.25" stroke="#333" stroke-width="0.9"/>
<line x1="370.6" y1="532.2" x2="370.6" y2="534.6" stroke="#2b2b2b" stroke-width="0.8"/>
<rect x="376.95" y="514" width="5.3" height="18.2" fill="#8a7fc2"/>
<rect x="376.95" y="503.6" width="5.3" height="10.4" fill="#f39320"/>
<rect x="376.95" y="488.85" width="5.3" height="14.75" fill="#33a7df"/>
<rect x="376.95" y="467.2" width="5.3" height="21.65" fill="#146b4c"/>
<path d="M378,513.6 L381.2,513.6 L380.05,515 L380.05,516.8 L379.15,516.8 L379.15,515 Z" fill="#24160c" opacity="0.9"/>
<path d="M378,503.2 L381.2,503.2 L380.05,504.6 L380.05,506.4 L379.15,506.4 L379.15,504.6 Z" fill="#24160c" opacity="0.9"/>
<path d="M378,488.45 L381.2,488.45 L380.05,489.85 L380.05,491.65 L379.15,491.65 L379.15,489.85 Z" fill="#24160c" opacity="0.9"/>
<line x1="379.6" y1="465.25" x2="379.6" y2="467.2" stroke="#333" stroke-width="0.7"/>
<line x1="378.3" y1="465.25" x2="380.9" y2="465.25" stroke="#333" stroke-width="0.9"/>
<line x1="379.6" y1="532.2" x2="379.6" y2="534.6" stroke="#2b2b2b" stroke-width="0.8"/>
<text x="366.27" y="450" font-size="5.3" text-anchor="middle" fill="#333" stroke="#333" stroke-width="0.12">BM</text>
<line x1="404.5" y1="452.7" x2="404.5" y2="532.7" stroke="#2b2b2b" stroke-width="1.15"/>
<line x1="401.9" y1="532.2" x2="404.5" y2="532.2" stroke="#2b2b2b" stroke-width="0.9"/>
<text x="398.7" y="534.3" font-size="6.0" text-anchor="end" fill="#4a4a4a" stroke="#4a4a4a" stroke-width="0.12">0</text>
<line x1="401.9" y1="519.2" x2="404.5" y2="519.2" stroke="#2b2b2b" stroke-width="0.9"/>
<text x="398.7" y="521.3" font-size="6.0" text-anchor="end" fill="#4a4a4a" stroke="#4a4a4a" stroke-width="0.12">20</text>
<line x1="401.9" y1="506.2" x2="404.5" y2="506.2" stroke="#2b2b2b" stroke-width="0.9"/>
<text x="398.7" y="508.3" font-size="6.0" text-anchor="end" fill="#4a4a4a" stroke="#4a4a4a" stroke-width="0.12">40</text>
<line x1="401.9" y1="493.2" x2="404.5" y2="493.2" stroke="#2b2b2b" stroke-width="0.9"/>
<text x="398.7" y="495.3" font-size="6.0" text-anchor="end" fill="#4a4a4a" stroke="#4a4a4a" stroke-width="0.12">60</text>
<line x1="401.9" y1="480.2" x2="404.5" y2="480.2" stroke="#2b2b2b" stroke-width="0.9"/>
<text x="398.7" y="482.3" font-size="6.0" text-anchor="end" fill="#4a4a4a" stroke="#4a4a4a" stroke-width="0.12">80</text>
<line x1="401.9" y1="467.2" x2="404.5" y2="467.2" stroke="#2b2b2b" stroke-width="0.9"/>
<text x="398.7" y="469.3" font-size="6.0" text-anchor="end" fill="#4a4a4a" stroke="#4a4a4a" stroke-width="0.12">100</text>
<line x1="401.9" y1="454.2" x2="404.5" y2="454.2" stroke="#2b2b2b" stroke-width="0.9"/>
<text x="398.7" y="456.3" font-size="6.0" text-anchor="end" fill="#4a4a4a" stroke="#4a4a4a" stroke-width="0.12">120</text>
<line x1="401.9" y1="532.2" x2="443" y2="532.2" stroke="#2b2b2b" stroke-width="1.15"/>
<rect x="408.15" y="516.21" width="5.3" height="15.99" fill="#8a7fc2"/>
<rect x="408.15" y="509.58" width="5.3" height="6.63" fill="#f39320"/>
<rect x="408.15" y="497.95" width="5.3" height="11.63" fill="#33a7df"/>
<rect x="408.15" y="467.2" width="5.3" height="30.75" fill="#146b4c"/>
<path d="M409.2,515.81 L412.4,515.81 L411.25,517.21 L411.25,519.01 L410.35,519.01 L410.35,517.21 Z" fill="#24160c" opacity="0.9"/>
<path d="M409.2,509.18 L412.4,509.18 L411.25,510.58 L411.25,512.38 L410.35,512.38 L410.35,510.58 Z" fill="#24160c" opacity="0.9"/>
<path d="M409.2,497.55 L412.4,497.55 L411.25,498.95 L411.25,500.75 L410.35,500.75 L410.35,498.95 Z" fill="#24160c" opacity="0.9"/>
<line x1="410.8" y1="465.25" x2="410.8" y2="467.2" stroke="#333" stroke-width="0.7"/>
<line x1="409.5" y1="465.25" x2="412.1" y2="465.25" stroke="#333" stroke-width="0.9"/>
<line x1="410.8" y1="532.2" x2="410.8" y2="534.6" stroke="#2b2b2b" stroke-width="0.8"/>
<rect x="416.75" y="521.15" width="5.3" height="11.05" fill="#8a7fc2"/>
<rect x="416.75" y="513.61" width="5.3" height="7.54" fill="#f39320"/>
<rect x="416.75" y="493.59" width="5.3" height="20.02" fill="#33a7df"/>
<rect x="416.75" y="467.2" width="5.3" height="26.39" fill="#146b4c"/>
<path d="M417.8,520.75 L421,520.75 L419.85,522.15 L419.85,523.95 L418.95,523.95 L418.95,522.15 Z" fill="#24160c" opacity="0.9"/>
<path d="M417.8,513.21 L421,513.21 L419.85,514.61 L419.85,516.41 L418.95,516.41 L418.95,514.61 Z" fill="#24160c" opacity="0.9"/>
<path d="M417.8,493.19 L421,493.19 L419.85,494.59 L419.85,496.39 L418.95,496.39 L418.95,494.59 Z" fill="#24160c" opacity="0.9"/>
<line x1="419.4" y1="465.25" x2="419.4" y2="467.2" stroke="#333" stroke-width="0.7"/>
<line x1="418.1" y1="465.25" x2="420.7" y2="465.25" stroke="#333" stroke-width="0.9"/>
<line x1="419.4" y1="532.2" x2="419.4" y2="534.6" stroke="#2b2b2b" stroke-width="0.8"/>
<rect x="425.75" y="516.21" width="5.3" height="15.99" fill="#8a7fc2"/>
<rect x="425.75" y="508.93" width="5.3" height="7.28" fill="#f39320"/>
<rect x="425.75" y="493.98" width="5.3" height="14.95" fill="#33a7df"/>
<rect x="425.75" y="467.2" width="5.3" height="26.78" fill="#146b4c"/>
<path d="M426.8,515.81 L430,515.81 L428.85,517.21 L428.85,519.01 L427.95,519.01 L427.95,517.21 Z" fill="#24160c" opacity="0.9"/>
<path d="M426.8,508.53 L430,508.53 L428.85,509.93 L428.85,511.73 L427.95,511.73 L427.95,509.93 Z" fill="#24160c" opacity="0.9"/>
<path d="M426.8,493.58 L430,493.58 L428.85,494.98 L428.85,496.78 L427.95,496.78 L427.95,494.98 Z" fill="#24160c" opacity="0.9"/>
<line x1="428.4" y1="465.25" x2="428.4" y2="467.2" stroke="#333" stroke-width="0.7"/>
<line x1="427.1" y1="465.25" x2="429.7" y2="465.25" stroke="#333" stroke-width="0.9"/>
<line x1="428.4" y1="532.2" x2="428.4" y2="534.6" stroke="#2b2b2b" stroke-width="0.8"/>
<rect x="434.55" y="514.13" width="5.3" height="18.07" fill="#8a7fc2"/>
<rect x="434.55" y="500.55" width="5.3" height="13.58" fill="#f39320"/>
<rect x="434.55" y="487.55" width="5.3" height="13" fill="#33a7df"/>
<rect x="434.55" y="467.2" width="5.3" height="20.35" fill="#146b4c"/>
<path d="M435.6,513.73 L438.8,513.73 L437.65,515.13 L437.65,516.93 L436.75,516.93 L436.75,515.13 Z" fill="#24160c" opacity="0.9"/>
<path d="M435.6,500.15 L438.8,500.15 L437.65,501.55 L437.65,503.35 L436.75,503.35 L436.75,501.55 Z" fill="#24160c" opacity="0.9"/>
<path d="M435.6,487.15 L438.8,487.15 L437.65,488.55 L437.65,490.35 L436.75,490.35 L436.75,488.55 Z" fill="#24160c" opacity="0.9"/>
<line x1="437.2" y1="465.25" x2="437.2" y2="467.2" stroke="#333" stroke-width="0.7"/>
<line x1="435.9" y1="465.25" x2="438.5" y2="465.25" stroke="#333" stroke-width="0.9"/>
<line x1="437.2" y1="532.2" x2="437.2" y2="534.6" stroke="#2b2b2b" stroke-width="0.8"/>
<text x="424" y="450" font-size="5.3" text-anchor="middle" fill="#333" stroke="#333" stroke-width="0.12">PB</text>
<line x1="346.5" y1="550.6" x2="346.5" y2="630" stroke="#2b2b2b" stroke-width="1.15"/>
<line x1="343.9" y1="629.5" x2="346.5" y2="629.5" stroke="#2b2b2b" stroke-width="0.9"/>
<text x="340.7" y="631.6" font-size="6.0" text-anchor="end" fill="#4a4a4a" stroke="#4a4a4a" stroke-width="0.12">0</text>
<line x1="343.9" y1="616.6" x2="346.5" y2="616.6" stroke="#2b2b2b" stroke-width="0.9"/>
<text x="340.7" y="618.7" font-size="6.0" text-anchor="end" fill="#4a4a4a" stroke="#4a4a4a" stroke-width="0.12">20</text>
<line x1="343.9" y1="603.7" x2="346.5" y2="603.7" stroke="#2b2b2b" stroke-width="0.9"/>
<text x="340.7" y="605.8" font-size="6.0" text-anchor="end" fill="#4a4a4a" stroke="#4a4a4a" stroke-width="0.12">40</text>
<line x1="343.9" y1="590.8" x2="346.5" y2="590.8" stroke="#2b2b2b" stroke-width="0.9"/>
<text x="340.7" y="592.9" font-size="6.0" text-anchor="end" fill="#4a4a4a" stroke="#4a4a4a" stroke-width="0.12">60</text>
<line x1="343.9" y1="577.9" x2="346.5" y2="577.9" stroke="#2b2b2b" stroke-width="0.9"/>
<text x="340.7" y="580" font-size="6.0" text-anchor="end" fill="#4a4a4a" stroke="#4a4a4a" stroke-width="0.12">80</text>
<line x1="343.9" y1="565" x2="346.5" y2="565" stroke="#2b2b2b" stroke-width="0.9"/>
<text x="340.7" y="567.1" font-size="6.0" text-anchor="end" fill="#4a4a4a" stroke="#4a4a4a" stroke-width="0.12">100</text>
<line x1="343.9" y1="552.1" x2="346.5" y2="552.1" stroke="#2b2b2b" stroke-width="0.9"/>
<text x="340.7" y="554.2" font-size="6.0" text-anchor="end" fill="#4a4a4a" stroke="#4a4a4a" stroke-width="0.12">120</text>
<line x1="343.9" y1="629.5" x2="385" y2="629.5" stroke="#2b2b2b" stroke-width="1.15"/>
<rect x="350.3" y="607.57" width="5.3" height="21.93" fill="#8a7fc2"/>
<rect x="350.3" y="589.51" width="5.3" height="18.06" fill="#f39320"/>
<rect x="350.3" y="568.87" width="5.3" height="20.64" fill="#33a7df"/>
<rect x="350.3" y="565" width="5.3" height="3.87" fill="#146b4c"/>
<path d="M351.35,607.17 L354.55,607.17 L353.4,608.57 L353.4,610.37 L352.5,610.37 L352.5,608.57 Z" fill="#24160c" opacity="0.9"/>
<path d="M351.35,589.11 L354.55,589.11 L353.4,590.51 L353.4,592.31 L352.5,592.31 L352.5,590.51 Z" fill="#24160c" opacity="0.9"/>
<path d="M351.35,568.47 L354.55,568.47 L353.4,569.87 L353.4,571.67 L352.5,571.67 L352.5,569.87 Z" fill="#24160c" opacity="0.9"/>
<line x1="352.95" y1="563.07" x2="352.95" y2="565" stroke="#333" stroke-width="0.7"/>
<line x1="351.65" y1="563.07" x2="354.25" y2="563.07" stroke="#333" stroke-width="0.9"/>
<line x1="352.95" y1="629.5" x2="352.95" y2="631.9" stroke="#2b2b2b" stroke-width="0.8"/>
<rect x="359.15" y="602.22" width="5.3" height="27.28" fill="#8a7fc2"/>
<rect x="359.15" y="581.12" width="5.3" height="21.09" fill="#f39320"/>
<rect x="359.15" y="566.61" width="5.3" height="14.51" fill="#33a7df"/>
<rect x="359.15" y="565" width="5.3" height="1.61" fill="#146b4c"/>
<path d="M360.2,601.82 L363.4,601.82 L362.25,603.22 L362.25,605.02 L361.35,605.02 L361.35,603.22 Z" fill="#24160c" opacity="0.9"/>
<path d="M360.2,580.73 L363.4,580.73 L362.25,582.12 L362.25,583.92 L361.35,583.92 L361.35,582.12 Z" fill="#24160c" opacity="0.9"/>
<path d="M360.2,566.21 L363.4,566.21 L362.25,567.61 L362.25,569.41 L361.35,569.41 L361.35,567.61 Z" fill="#24160c" opacity="0.9"/>
<line x1="361.8" y1="563.07" x2="361.8" y2="565" stroke="#333" stroke-width="0.7"/>
<line x1="360.5" y1="563.07" x2="363.1" y2="563.07" stroke="#333" stroke-width="0.9"/>
<line x1="361.8" y1="629.5" x2="361.8" y2="631.9" stroke="#2b2b2b" stroke-width="0.8"/>
<rect x="367.95" y="595.96" width="5.3" height="33.54" fill="#8a7fc2"/>
<rect x="367.95" y="579.19" width="5.3" height="16.77" fill="#f39320"/>
<rect x="367.95" y="566.94" width="5.3" height="12.25" fill="#33a7df"/>
<rect x="367.95" y="565" width="5.3" height="1.94" fill="#146b4c"/>
<path d="M369,595.56 L372.2,595.56 L371.05,596.96 L371.05,598.76 L370.15,598.76 L370.15,596.96 Z" fill="#24160c" opacity="0.9"/>
<path d="M369,578.79 L372.2,578.79 L371.05,580.19 L371.05,581.99 L370.15,581.99 L370.15,580.19 Z" fill="#24160c" opacity="0.9"/>
<path d="M369,566.54 L372.2,566.54 L371.05,567.94 L371.05,569.74 L370.15,569.74 L370.15,567.94 Z" fill="#24160c" opacity="0.9"/>
<line x1="370.6" y1="563.07" x2="370.6" y2="565" stroke="#333" stroke-width="0.7"/>
<line x1="369.3" y1="563.07" x2="371.9" y2="563.07" stroke="#333" stroke-width="0.9"/>
<line x1="370.6" y1="629.5" x2="370.6" y2="631.9" stroke="#2b2b2b" stroke-width="0.8"/>
<rect x="376.95" y="597.64" width="5.3" height="31.86" fill="#8a7fc2"/>
<rect x="376.95" y="577.9" width="5.3" height="19.74" fill="#f39320"/>
<rect x="376.95" y="566.94" width="5.3" height="10.96" fill="#33a7df"/>
<rect x="376.95" y="565" width="5.3" height="1.94" fill="#146b4c"/>
<path d="M378,597.24 L381.2,597.24 L380.05,598.64 L380.05,600.44 L379.15,600.44 L379.15,598.64 Z" fill="#24160c" opacity="0.9"/>
<path d="M378,577.5 L381.2,577.5 L380.05,578.9 L380.05,580.7 L379.15,580.7 L379.15,578.9 Z" fill="#24160c" opacity="0.9"/>
<path d="M378,566.54 L381.2,566.54 L380.05,567.94 L380.05,569.74 L379.15,569.74 L379.15,567.94 Z" fill="#24160c" opacity="0.9"/>
<line x1="379.6" y1="563.07" x2="379.6" y2="565" stroke="#333" stroke-width="0.7"/>
<line x1="378.3" y1="563.07" x2="380.9" y2="563.07" stroke="#333" stroke-width="0.9"/>
<line x1="379.6" y1="629.5" x2="379.6" y2="631.9" stroke="#2b2b2b" stroke-width="0.8"/>
<text x="366.27" y="547.9" font-size="5.3" text-anchor="middle" fill="#333" stroke="#333" stroke-width="0.12">BM</text>
<line x1="404.5" y1="550.6" x2="404.5" y2="630" stroke="#2b2b2b" stroke-width="1.15"/>
<line x1="401.9" y1="629.5" x2="404.5" y2="629.5" stroke="#2b2b2b" stroke-width="0.9"/>
<text x="398.7" y="631.6" font-size="6.0" text-anchor="end" fill="#4a4a4a" stroke="#4a4a4a" stroke-width="0.12">0</text>
<line x1="401.9" y1="616.6" x2="404.5" y2="616.6" stroke="#2b2b2b" stroke-width="0.9"/>
<text x="398.7" y="618.7" font-size="6.0" text-anchor="end" fill="#4a4a4a" stroke="#4a4a4a" stroke-width="0.12">20</text>
<line x1="401.9" y1="603.7" x2="404.5" y2="603.7" stroke="#2b2b2b" stroke-width="0.9"/>
<text x="398.7" y="605.8" font-size="6.0" text-anchor="end" fill="#4a4a4a" stroke="#4a4a4a" stroke-width="0.12">40</text>
<line x1="401.9" y1="590.8" x2="404.5" y2="590.8" stroke="#2b2b2b" stroke-width="0.9"/>
<text x="398.7" y="592.9" font-size="6.0" text-anchor="end" fill="#4a4a4a" stroke="#4a4a4a" stroke-width="0.12">60</text>
<line x1="401.9" y1="577.9" x2="404.5" y2="577.9" stroke="#2b2b2b" stroke-width="0.9"/>
<text x="398.7" y="580" font-size="6.0" text-anchor="end" fill="#4a4a4a" stroke="#4a4a4a" stroke-width="0.12">80</text>
<line x1="401.9" y1="565" x2="404.5" y2="565" stroke="#2b2b2b" stroke-width="0.9"/>
<text x="398.7" y="567.1" font-size="6.0" text-anchor="end" fill="#4a4a4a" stroke="#4a4a4a" stroke-width="0.12">100</text>
<line x1="401.9" y1="552.1" x2="404.5" y2="552.1" stroke="#2b2b2b" stroke-width="0.9"/>
<text x="398.7" y="554.2" font-size="6.0" text-anchor="end" fill="#4a4a4a" stroke="#4a4a4a" stroke-width="0.12">120</text>
<line x1="401.9" y1="629.5" x2="443" y2="629.5" stroke="#2b2b2b" stroke-width="1.15"/>
<rect x="407.85" y="599.51" width="5.3" height="29.99" fill="#8a7fc2"/>
<rect x="407.85" y="577.9" width="5.3" height="21.61" fill="#f39320"/>
<rect x="407.85" y="566.94" width="5.3" height="10.96" fill="#33a7df"/>
<rect x="407.85" y="565" width="5.3" height="1.94" fill="#146b4c"/>
<path d="M408.9,599.11 L412.1,599.11 L410.95,600.51 L410.95,602.31 L410.05,602.31 L410.05,600.51 Z" fill="#24160c" opacity="0.9"/>
<path d="M408.9,577.5 L412.1,577.5 L410.95,578.9 L410.95,580.7 L410.05,580.7 L410.05,578.9 Z" fill="#24160c" opacity="0.9"/>
<path d="M408.9,566.54 L412.1,566.54 L410.95,567.94 L410.95,569.74 L410.05,569.74 L410.05,567.94 Z" fill="#24160c" opacity="0.9"/>
<line x1="410.5" y1="563.07" x2="410.5" y2="565" stroke="#333" stroke-width="0.7"/>
<line x1="409.2" y1="563.07" x2="411.8" y2="563.07" stroke="#333" stroke-width="0.9"/>
<line x1="410.5" y1="629.5" x2="410.5" y2="631.9" stroke="#2b2b2b" stroke-width="0.8"/>
<rect x="416.45" y="607.31" width="5.3" height="22.19" fill="#8a7fc2"/>
<rect x="416.45" y="581.38" width="5.3" height="25.93" fill="#f39320"/>
<rect x="416.45" y="565.97" width="5.3" height="15.42" fill="#33a7df"/>
<rect x="416.45" y="565" width="5.3" height="0.97" fill="#146b4c"/>
<path d="M417.5,606.91 L420.7,606.91 L419.55,608.31 L419.55,610.11 L418.65,610.11 L418.65,608.31 Z" fill="#24160c" opacity="0.9"/>
<path d="M417.5,580.98 L420.7,580.98 L419.55,582.38 L419.55,584.18 L418.65,584.18 L418.65,582.38 Z" fill="#24160c" opacity="0.9"/>
<path d="M417.5,565.57 L420.7,565.57 L419.55,566.97 L419.55,568.77 L418.65,568.77 L418.65,566.97 Z" fill="#24160c" opacity="0.9"/>
<line x1="419.1" y1="563.07" x2="419.1" y2="565" stroke="#333" stroke-width="0.7"/>
<line x1="417.8" y1="563.07" x2="420.4" y2="563.07" stroke="#333" stroke-width="0.9"/>
<line x1="419.1" y1="629.5" x2="419.1" y2="631.9" stroke="#2b2b2b" stroke-width="0.8"/>
<rect x="425.45" y="598.09" width="5.3" height="31.41" fill="#8a7fc2"/>
<rect x="425.45" y="579.58" width="5.3" height="18.51" fill="#f39320"/>
<rect x="425.45" y="566.29" width="5.3" height="13.29" fill="#33a7df"/>
<rect x="425.45" y="565" width="5.3" height="1.29" fill="#146b4c"/>
<path d="M426.5,597.69 L429.7,597.69 L428.55,599.09 L428.55,600.89 L427.65,600.89 L427.65,599.09 Z" fill="#24160c" opacity="0.9"/>
<path d="M426.5,579.18 L429.7,579.18 L428.55,580.58 L428.55,582.38 L427.65,582.38 L427.65,580.58 Z" fill="#24160c" opacity="0.9"/>
<path d="M426.5,565.89 L429.7,565.89 L428.55,567.29 L428.55,569.09 L427.65,569.09 L427.65,567.29 Z" fill="#24160c" opacity="0.9"/>
<line x1="428.1" y1="563.07" x2="428.1" y2="565" stroke="#333" stroke-width="0.7"/>
<line x1="426.8" y1="563.07" x2="429.4" y2="563.07" stroke="#333" stroke-width="0.9"/>
<line x1="428.1" y1="629.5" x2="428.1" y2="631.9" stroke="#2b2b2b" stroke-width="0.8"/>
<rect x="434.25" y="600.48" width="5.3" height="29.02" fill="#8a7fc2"/>
<rect x="434.25" y="577.9" width="5.3" height="22.58" fill="#f39320"/>
<rect x="434.25" y="565.64" width="5.3" height="12.25" fill="#33a7df"/>
<rect x="434.25" y="565" width="5.3" height="0.64" fill="#146b4c"/>
<path d="M435.3,600.08 L438.5,600.08 L437.35,601.48 L437.35,603.27 L436.45,603.27 L436.45,601.48 Z" fill="#24160c" opacity="0.9"/>
<path d="M435.3,577.5 L438.5,577.5 L437.35,578.9 L437.35,580.7 L436.45,580.7 L436.45,578.9 Z" fill="#24160c" opacity="0.9"/>
<path d="M435.3,565.25 L438.5,565.25 L437.35,566.64 L437.35,568.44 L436.45,568.44 L436.45,566.64 Z" fill="#24160c" opacity="0.9"/>
<line x1="436.9" y1="563.07" x2="436.9" y2="565" stroke="#333" stroke-width="0.7"/>
<line x1="435.6" y1="563.07" x2="438.2" y2="563.07" stroke="#333" stroke-width="0.9"/>
<line x1="436.9" y1="629.5" x2="436.9" y2="631.9" stroke="#2b2b2b" stroke-width="0.8"/>
<text x="423.7" y="547.9" font-size="5.3" text-anchor="middle" fill="#333" stroke="#333" stroke-width="0.12">PB</text>
<text transform="translate(325.6,493.6) rotate(-90)" font-size="6.6" text-anchor="middle" fill="#2e2e2e" stroke="#2e2e2e" stroke-width="0.25" textLength="42.4" lengthAdjust="spacingAndGlyphs">% of CD8<tspan font-size="3.6" dy="-2">+</tspan><tspan dy="2"> </tspan>T cells</text>
<text transform="translate(325.6,589.2) rotate(-90)" font-size="6.6" text-anchor="middle" fill="#2e2e2e" stroke="#2e2e2e" stroke-width="0.25" textLength="44" lengthAdjust="spacingAndGlyphs">% of CD4<tspan font-size="3.6" dy="-2">+</tspan><tspan dy="2"> </tspan>T cells</text>
<text transform="translate(355.75,637.6) rotate(-45)" font-size="5.3" text-anchor="end" fill="#404040" stroke="#404040" stroke-width="0.12">Control</text>
<text transform="translate(364.6,637.6) rotate(-45)" font-size="5.3" text-anchor="end" fill="#404040" stroke="#404040" stroke-width="0.12">MGUS</text>
<text transform="translate(373.4,637.6) rotate(-45)" font-size="5.3" text-anchor="end" fill="#404040" stroke="#404040" stroke-width="0.12">Asymp.</text>
<text transform="translate(382.4,637.6) rotate(-45)" font-size="5.3" text-anchor="end" fill="#404040" stroke="#404040" stroke-width="0.12">Diagnosis</text>
<text transform="translate(413.3,637.6) rotate(-45)" font-size="5.3" text-anchor="end" fill="#404040" stroke="#404040" stroke-width="0.12">Control</text>
<text transform="translate(421.9,637.6) rotate(-45)" font-size="5.3" text-anchor="end" fill="#404040" stroke="#404040" stroke-width="0.12">MGUS</text>
<text transform="translate(430.9,637.6) rotate(-45)" font-size="5.3" text-anchor="end" fill="#404040" stroke="#404040" stroke-width="0.12">Asymp.</text>
<text transform="translate(439.7,637.6) rotate(-45)" font-size="5.3" text-anchor="end" fill="#404040" stroke="#404040" stroke-width="0.12">Diagnosis</text>
<rect x="453" y="530.6" width="11.8" height="5.8" fill="#146b4c"/>
<text x="468" y="535.6" font-size="5.5" fill="#3a3a3a" stroke="#3a3a3a" stroke-width="0.12">EMRA</text>
<rect x="453" y="539.8" width="11.8" height="5.8" fill="#33a7df"/>
<text x="468" y="544.8" font-size="5.5" fill="#3a3a3a" stroke="#3a3a3a" stroke-width="0.12">EM</text>
<rect x="453" y="549" width="11.8" height="5.8" fill="#f39320"/>
<text x="468" y="554" font-size="5.5" fill="#3a3a3a" stroke="#3a3a3a" stroke-width="0.12">CM</text>
<rect x="453" y="558.2" width="11.8" height="5.8" fill="#8a7fc2"/>
<text x="468" y="563.2" font-size="5.5" fill="#3a3a3a" stroke="#3a3a3a" stroke-width="0.12">NV</text>
<rect x="0.6" y="0.6" width="518.8" height="658.8" fill="none" stroke="#505050" stroke-width="1.3"/>
</svg>
</body></html>
